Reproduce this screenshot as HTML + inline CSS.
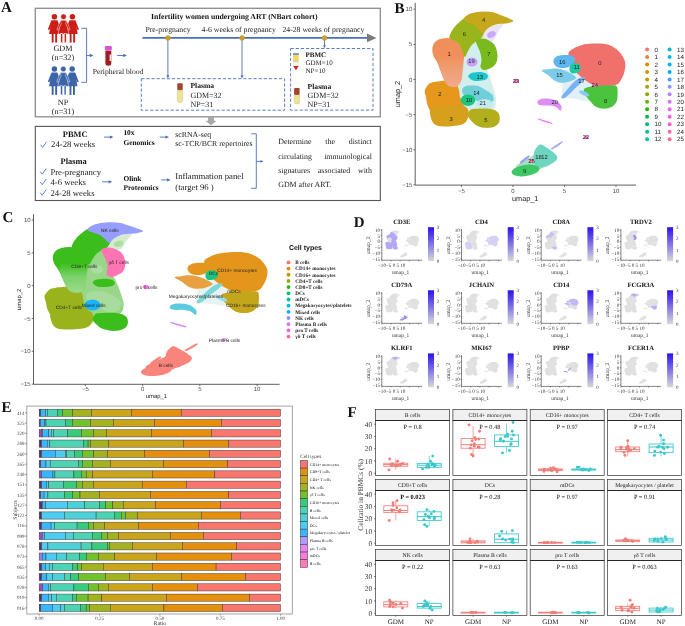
<!DOCTYPE html><html><head><meta charset="utf-8"><title>Figure</title><style>html,body{margin:0;padding:0;background:#fff;width:685px;height:626px;overflow:hidden}svg{display:block;font-family:"Liberation Serif",serif;text-rendering:geometricPrecision;will-change:transform}</style></head><body><svg width="685" height="626" viewBox="0 0 685 626"><defs><linearGradient id="lg1b" x1="0" y1="0" x2="0" y2="1"><stop offset="0" stop-color="#EEA27C" stop-opacity="0"/><stop offset="0.45" stop-color="#EEA27C" stop-opacity="0.8"/><stop offset="1" stop-color="#F0AC8A"/></linearGradient><linearGradient id="lg1c" x1="0" y1="0" x2="0" y2="1"><stop offset="0" stop-color="#8CD67C" stop-opacity="0"/><stop offset="0.45" stop-color="#8CD67C" stop-opacity="0.8"/><stop offset="1" stop-color="#9CDC8E"/></linearGradient><filter id="soft" x="-5%" y="-5%" width="110%" height="110%"><feGaussianBlur stdDeviation="0.55"/></filter></defs><rect width="685" height="626" fill="#fff"/><text x="1" y="12.2" font-size="15" text-anchor="start" font-weight="bold" font-family='"Liberation Serif", serif' fill="#111" >A</text>
<rect x="35.3" y="8.3" width="345" height="108.5" fill="none" stroke="#8C8C8C" stroke-width="1.3"/>
<g fill="#CC1E16"><circle cx="54.4" cy="16.75" r="2.75"/><path d="M51.5,20.3 L57.3,20.3 L59.699999999999996,34.0 L49.1,34.0 Z"/><path d="M51.3,20.5 L47.8,29.5 L49.3,30.0 L52.199999999999996,23.5 Z"/><path d="M57.5,20.5 L61.0,29.5 L59.5,30.0 L56.6,23.5 Z"/><rect x="51.699999999999996" y="33.5" width="1.9" height="9.1"/><rect x="55.199999999999996" y="33.5" width="1.9" height="9.1"/></g>
<g fill="#CC1E16"><circle cx="72.4" cy="16.75" r="2.75"/><path d="M69.5,20.3 L75.30000000000001,20.3 L77.7,34.0 L67.10000000000001,34.0 Z"/><path d="M69.30000000000001,20.5 L65.80000000000001,29.5 L67.30000000000001,30.0 L70.2,23.5 Z"/><path d="M75.5,20.5 L79.0,29.5 L77.5,30.0 L74.60000000000001,23.5 Z"/><rect x="69.7" y="33.5" width="1.9" height="9.1"/><rect x="73.2" y="33.5" width="1.9" height="9.1"/></g>
<g fill="#CC1E16" stroke="#fff" stroke-width="0.45"><circle cx="63.5" cy="16.75" r="2.75"/><path d="M60.6,20.3 L66.4,20.3 L68.8,34.0 L58.2,34.0 Z"/><path d="M60.4,20.5 L56.9,29.5 L58.4,30.0 L61.3,23.5 Z"/><path d="M66.6,20.5 L70.1,29.5 L68.6,30.0 L65.7,23.5 Z"/><rect x="60.8" y="33.5" width="1.9" height="9.1"/><rect x="64.3" y="33.5" width="1.9" height="9.1"/></g>
<g fill="#3D64A8"><circle cx="54.4" cy="69.05" r="2.75"/><path d="M51.5,72.6 L57.3,72.6 L59.699999999999996,86.3 L49.1,86.3 Z"/><path d="M51.3,72.8 L47.8,81.8 L49.3,82.3 L52.199999999999996,75.8 Z"/><path d="M57.5,72.8 L61.0,81.8 L59.5,82.3 L56.6,75.8 Z"/><rect x="51.699999999999996" y="85.8" width="1.9" height="9.1"/><rect x="55.199999999999996" y="85.8" width="1.9" height="9.1"/></g>
<g fill="#3D64A8"><circle cx="72.2" cy="69.05" r="2.75"/><path d="M69.3,72.6 L75.10000000000001,72.6 L77.5,86.3 L66.9,86.3 Z"/><path d="M69.10000000000001,72.8 L65.60000000000001,81.8 L67.10000000000001,82.3 L70.0,75.8 Z"/><path d="M75.3,72.8 L78.8,81.8 L77.3,82.3 L74.4,75.8 Z"/><rect x="69.5" y="85.8" width="1.9" height="9.1"/><rect x="73.0" y="85.8" width="1.9" height="9.1"/></g>
<g fill="#3D64A8" stroke="#fff" stroke-width="0.45"><circle cx="63.3" cy="69.05" r="2.75"/><path d="M60.4,72.6 L66.2,72.6 L68.6,86.3 L58.0,86.3 Z"/><path d="M60.199999999999996,72.8 L56.699999999999996,81.8 L58.199999999999996,82.3 L61.099999999999994,75.8 Z"/><path d="M66.39999999999999,72.8 L69.89999999999999,81.8 L68.39999999999999,82.3 L65.5,75.8 Z"/><rect x="60.599999999999994" y="85.8" width="1.9" height="9.1"/><rect x="64.1" y="85.8" width="1.9" height="9.1"/></g>
<text x="63" y="50.8" font-size="8.2" text-anchor="middle" font-weight="normal" font-family='"Liberation Serif", serif' fill="#222" >GDM</text>
<text x="63" y="60" font-size="8.2" text-anchor="middle" font-weight="normal" font-family='"Liberation Serif", serif' fill="#222" >(n=32)</text>
<text x="63" y="105.3" font-size="8.2" text-anchor="middle" font-weight="normal" font-family='"Liberation Serif", serif' fill="#222" >NP</text>
<text x="63" y="114.4" font-size="8.2" text-anchor="middle" font-weight="normal" font-family='"Liberation Serif", serif' fill="#222" >(n=31)</text>
<path d="M81.2,28.3 H86.6 V82.3 H81.2" fill="none" stroke="#4A6FB8" stroke-width="0.9"/>
<line x1="86.6" y1="55.5" x2="91.2" y2="55.5" stroke="#4A6FB8" stroke-width="0.9"/><path d="M93.4,55.5 L89.88000000000001,53.85 L89.88000000000001,57.15 Z" fill="#4A6FB8"/>
<rect x="104.9" y="46" width="6.9" height="4.6" rx="1.3" fill="#D455D6"/>
<path d="M105.4,50.8 h5.9 v12.5 q0,2.5 -2.95,2.5 q-2.95,0 -2.95,-2.5 Z" fill="#A11D22"/>
<rect x="109.6" y="54.6" width="1.4" height="6.4" fill="#eee"/>
<line x1="117.1" y1="55.5" x2="124.6" y2="55.5" stroke="#4A6FB8" stroke-width="0.9"/><path d="M126.8,55.5 L123.28,53.85 L123.28,57.15 Z" fill="#4A6FB8"/>
<text x="118" y="74" font-size="7.65" text-anchor="middle" font-weight="normal" font-family='"Liberation Serif", serif' fill="#222" >Peripheral blood</text>
<text x="234.3" y="18.6" font-size="7.75" text-anchor="middle" font-weight="bold" font-family='"Liberation Serif", serif' fill="#111" >Infertility women undergoing ART (NBart cohort)</text>
<text x="145.5" y="32.0" font-size="7.72" text-anchor="start" font-weight="normal" font-family='"Liberation Serif", serif' fill="#222" >Pre-pregnancy</text>
<text x="201.6" y="32.0" font-size="7.76" text-anchor="start" font-weight="normal" font-family='"Liberation Serif", serif' fill="#222" >4-6 weeks of pregnancy</text>
<text x="282.4" y="32.0" font-size="7.76" text-anchor="start" font-weight="normal" font-family='"Liberation Serif", serif' fill="#222" >24-28 weeks of pregnancy</text>
<line x1="142.5" y1="37.9" x2="368" y2="37.9" stroke="#4A6FB8" stroke-width="1.6"/>
<path d="M376.5,37.9 L367,33.6 L367,42.2 Z" fill="#7A7A7A"/>
<line x1="167.9" y1="38" x2="167.9" y2="76.4" stroke="#4A6FB8" stroke-width="0.9"/><path d="M167.9,78.4 L166.4,75.2 L169.4,75.2 Z" fill="#4A6FB8"/>
<line x1="242.0" y1="38" x2="242.0" y2="76.4" stroke="#4A6FB8" stroke-width="0.9"/><path d="M242.0,78.4 L240.5,75.2 L243.5,75.2 Z" fill="#4A6FB8"/>
<line x1="324.5" y1="38" x2="324.5" y2="46.400000000000006" stroke="#4A6FB8" stroke-width="0.9"/><path d="M324.5,48.2 L323.15,45.32 L325.85,45.32 Z" fill="#4A6FB8"/>
<circle cx="167.9" cy="37.9" r="2.6" fill="#C9A227"/>
<circle cx="242.0" cy="37.9" r="2.6" fill="#C9A227"/>
<circle cx="324.5" cy="37.9" r="2.6" fill="#C9A227"/>
<rect x="141.3" y="78.7" width="143.3" height="31.5" fill="none" stroke="#4A6FB8" stroke-width="0.9" stroke-dasharray="3.2,1.9"/>
<rect x="290.6" y="48.5" width="82.4" height="61.6" fill="none" stroke="#4A6FB8" stroke-width="0.9" stroke-dasharray="3.2,1.9"/>
<rect x="177.3" y="83.3" width="5.4" height="7" rx="1" fill="#A0442A"/><path d="M177.3,90.3 h5.4 v10.3 q0,2 -2.7,2 q-2.7,0 -2.7,-2 Z" fill="#EEE39A" stroke="#C8B870" stroke-width="0.4"/>
<text x="190.4" y="88.3" font-size="7.6" text-anchor="start" font-weight="bold" font-family='"Liberation Serif", serif' fill="#111" >Plasma</text>
<text x="190.4" y="98.0" font-size="8.0" text-anchor="start" font-weight="normal" font-family='"Liberation Serif", serif' fill="#222" >GDM=32</text>
<text x="190.4" y="106.8" font-size="8.0" text-anchor="start" font-weight="normal" font-family='"Liberation Serif", serif' fill="#222" >NP=31</text>
<rect x="293" y="53.4" width="5.9" height="1.2" fill="#3A5BA0"/>
<rect x="293.2" y="55.0" width="5.5" height="6.5" fill="#F0D860"/>
<rect x="293.2" y="61.5" width="5.5" height="0.8" fill="#8EC8E8"/>
<rect x="293.2" y="62.3" width="5.5" height="3.6" fill="#FAF6E0" stroke="#ddd" stroke-width="0.3"/>
<path d="M293.2,65.9 h5.5 l-2.75,4.3 Z" fill="#D82020"/>
<text x="305.5" y="56.8" font-size="7.0" text-anchor="start" font-weight="bold" font-family='"Liberation Serif", serif' fill="#111" >PBMC</text>
<text x="305.5" y="65.2" font-size="7.0" text-anchor="start" font-weight="normal" font-family='"Liberation Serif", serif' fill="#222" >GDM=10</text>
<text x="305.5" y="73.4" font-size="7.0" text-anchor="start" font-weight="normal" font-family='"Liberation Serif", serif' fill="#222" >NP=10</text>
<rect x="294.1" y="87.9" width="5.5" height="7" rx="1" fill="#A0442A"/><path d="M294.1,94.9 h5.5 v7.100000000000001 q0,2 -2.75,2 q-2.75,0 -2.75,-2 Z" fill="#EEE39A" stroke="#C8B870" stroke-width="0.4"/>
<text x="307.6" y="88.6" font-size="7.6" text-anchor="start" font-weight="bold" font-family='"Liberation Serif", serif' fill="#111" >Plasma</text>
<text x="307.6" y="98.1" font-size="8.0" text-anchor="start" font-weight="normal" font-family='"Liberation Serif", serif' fill="#222" >GDM=32</text>
<text x="307.6" y="106.9" font-size="8.0" text-anchor="start" font-weight="normal" font-family='"Liberation Serif", serif' fill="#222" >NP=31</text>
<path d="M208.1,117 H214 V120.8 H216.6 L211,125.2 L205.4,120.8 H208.1 Z" fill="#A8A8A8"/>
<rect x="35.3" y="126.4" width="345" height="74.1" fill="none" stroke="#555" stroke-width="1.1"/>
<text x="75.2" y="137.2" font-size="8.4" text-anchor="middle" font-weight="bold" font-family='"Liberation Serif", serif' fill="#111" >PBMC</text>
<path d="M40.6,144.8 L42.6,147.4 L46.6,141.8" fill="none" stroke="#4A6FD0" stroke-width="0.9"/>
<text x="51.1" y="147.4" font-size="8.7" text-anchor="start" font-weight="normal" font-family='"Liberation Serif", serif' fill="#222" >24-28 weeks</text>
<text x="73.6" y="164.4" font-size="8.4" text-anchor="middle" font-weight="bold" font-family='"Liberation Serif", serif' fill="#111" >Plasma</text>
<path d="M40.2,171.6 L42.2,174.2 L46.2,168.6" fill="none" stroke="#4A6FD0" stroke-width="0.9"/>
<text x="50.4" y="174.9" font-size="8.7" text-anchor="start" font-weight="normal" font-family='"Liberation Serif", serif' fill="#222" >Pre-pregnancy</text>
<path d="M40.2,182.0 L42.2,184.6 L46.2,179.0" fill="none" stroke="#4A6FD0" stroke-width="0.9"/>
<text x="50.4" y="185.4" font-size="8.7" text-anchor="start" font-weight="normal" font-family='"Liberation Serif", serif' fill="#222" >4-6 weeks</text>
<path d="M40.2,192.6 L42.2,195.2 L46.2,189.6" fill="none" stroke="#4A6FD0" stroke-width="0.9"/>
<text x="50.4" y="196.0" font-size="8.7" text-anchor="start" font-weight="normal" font-family='"Liberation Serif", serif' fill="#222" >24-28 weeks</text>
<line x1="104" y1="137.1" x2="111.2" y2="137.1" stroke="#4A6FB8" stroke-width="0.9"/><path d="M113.4,137.1 L109.88000000000001,135.45 L109.88000000000001,138.75 Z" fill="#4A6FB8"/>
<line x1="159.6" y1="137.1" x2="166.8" y2="137.1" stroke="#4A6FB8" stroke-width="0.9"/><path d="M169,137.1 L165.48,135.45 L165.48,138.75 Z" fill="#4A6FB8"/>
<line x1="102" y1="181.8" x2="110.0" y2="181.8" stroke="#4A6FB8" stroke-width="0.9"/><path d="M112.2,181.8 L108.68,180.15 L108.68,183.45000000000002 Z" fill="#4A6FB8"/>
<line x1="161.2" y1="179.9" x2="168.4" y2="179.9" stroke="#4A6FB8" stroke-width="0.9"/><path d="M170.6,179.9 L167.07999999999998,178.25 L167.07999999999998,181.55 Z" fill="#4A6FB8"/>
<text x="123.4" y="135.2" font-size="7.4" text-anchor="start" font-weight="bold" font-family='"Liberation Serif", serif' fill="#111" >10x</text>
<text x="123.4" y="144.5" font-size="7.4" text-anchor="start" font-weight="bold" font-family='"Liberation Serif", serif' fill="#111" >Genomics</text>
<text x="123.4" y="180.7" font-size="7.4" text-anchor="start" font-weight="bold" font-family='"Liberation Serif", serif' fill="#111" >Olink</text>
<text x="123.4" y="190.3" font-size="7.4" text-anchor="start" font-weight="bold" font-family='"Liberation Serif", serif' fill="#111" >Proteomics</text>
<text x="175.3" y="136.6" font-size="7.8" text-anchor="start" font-weight="normal" font-family='"Liberation Serif", serif' fill="#222" >scRNA-seq</text>
<text x="175.3" y="145.9" font-size="7.8" text-anchor="start" font-weight="normal" font-family='"Liberation Serif", serif' fill="#222" >sc-TCR/BCR repertoires</text>
<text x="175.3" y="178.7" font-size="8.7" text-anchor="start" font-weight="normal" font-family='"Liberation Serif", serif' fill="#222" >Inflammation panel</text>
<text x="175.3" y="189.7" font-size="8.7" text-anchor="start" font-weight="normal" font-family='"Liberation Serif", serif' fill="#222" >(target 96 )</text>
<path d="M251.2,133.8 H256.3 V188.3 H251.2" fill="none" stroke="#4A6FB8" stroke-width="0.9"/>
<line x1="256.3" y1="161.4" x2="261.59999999999997" y2="161.4" stroke="#4A6FB8" stroke-width="0.9"/><path d="M263.4,161.4 L260.52,160.05 L260.52,162.75 Z" fill="#4A6FB8"/>
<text x="278.2" y="144.3" font-size="7.9" text-anchor="start" font-weight="normal" font-family='"Liberation Serif", serif' fill="#222" >Determine</text>
<text x="325.31" y="144.3" font-size="7.9" text-anchor="start" font-weight="normal" font-family='"Liberation Serif", serif' fill="#222" >the</text>
<text x="348.74" y="144.3" font-size="7.9" text-anchor="start" font-weight="normal" font-family='"Liberation Serif", serif' fill="#222" >distinct</text>
<text x="278.2" y="158.5" font-size="7.9" text-anchor="start" font-weight="normal" font-family='"Liberation Serif", serif' fill="#222" >circulating</text>
<text x="324.17" y="158.5" font-size="7.9" text-anchor="start" font-weight="normal" font-family='"Liberation Serif", serif' fill="#222" >immunological</text>
<text x="278.2" y="172.6" font-size="7.9" text-anchor="start" font-weight="normal" font-family='"Liberation Serif", serif' fill="#222" >signatures</text>
<text x="317.86" y="172.6" font-size="7.9" text-anchor="start" font-weight="normal" font-family='"Liberation Serif", serif' fill="#222" >associated</text>
<text x="357.96" y="172.6" font-size="7.9" text-anchor="start" font-weight="normal" font-family='"Liberation Serif", serif' fill="#222" >with</text>
<text x="278.2" y="186.8" font-size="7.9" text-anchor="start" font-weight="normal" font-family='"Liberation Serif", serif' fill="#222" >GDM after ART.</text>
<text x="394.6" y="13.4" font-size="15" text-anchor="start" font-weight="bold" font-family='"Liberation Serif", serif' fill="#111" >B</text>
<path d="M415.2,2.8 V185.1 H636" fill="none" stroke="#4D4D4D" stroke-width="0.9"/>
<line x1="413.4" y1="9.2" x2="415.2" y2="9.2" stroke="#4D4D4D" stroke-width="0.8"/>
<text x="412.4" y="11.300000000000002" font-size="6.0" text-anchor="end" font-weight="normal" font-family='"Liberation Sans", sans-serif' fill="#4D4D4D" >10</text>
<line x1="413.4" y1="44.4" x2="415.2" y2="44.4" stroke="#4D4D4D" stroke-width="0.8"/>
<text x="412.4" y="46.45" font-size="6.0" text-anchor="end" font-weight="normal" font-family='"Liberation Sans", sans-serif' fill="#4D4D4D" >5</text>
<line x1="413.4" y1="79.5" x2="415.2" y2="79.5" stroke="#4D4D4D" stroke-width="0.8"/>
<text x="412.4" y="81.6" font-size="6.0" text-anchor="end" font-weight="normal" font-family='"Liberation Sans", sans-serif' fill="#4D4D4D" >0</text>
<line x1="413.4" y1="114.7" x2="415.2" y2="114.7" stroke="#4D4D4D" stroke-width="0.8"/>
<text x="412.4" y="116.75" font-size="6.0" text-anchor="end" font-weight="normal" font-family='"Liberation Sans", sans-serif' fill="#4D4D4D" >&#8722;5</text>
<line x1="413.4" y1="149.8" x2="415.2" y2="149.8" stroke="#4D4D4D" stroke-width="0.8"/>
<text x="412.4" y="151.9" font-size="6.0" text-anchor="end" font-weight="normal" font-family='"Liberation Sans", sans-serif' fill="#4D4D4D" >&#8722;10</text>
<line x1="413.4" y1="184.9" x2="415.2" y2="184.9" stroke="#4D4D4D" stroke-width="0.8"/>
<text x="412.4" y="187.04999999999998" font-size="6.0" text-anchor="end" font-weight="normal" font-family='"Liberation Sans", sans-serif' fill="#4D4D4D" >&#8722;15</text>
<line x1="461.5" y1="185.1" x2="461.5" y2="186.9" stroke="#4D4D4D" stroke-width="0.8"/>
<text x="461.5" y="192.8" font-size="6.0" text-anchor="middle" font-weight="normal" font-family='"Liberation Sans", sans-serif' fill="#4D4D4D" >&#8722;5</text>
<line x1="513.0" y1="185.1" x2="513.0" y2="186.9" stroke="#4D4D4D" stroke-width="0.8"/>
<text x="513.0" y="192.8" font-size="6.0" text-anchor="middle" font-weight="normal" font-family='"Liberation Sans", sans-serif' fill="#4D4D4D" >0</text>
<line x1="564.5" y1="185.1" x2="564.5" y2="186.9" stroke="#4D4D4D" stroke-width="0.8"/>
<text x="564.5" y="192.8" font-size="6.0" text-anchor="middle" font-weight="normal" font-family='"Liberation Sans", sans-serif' fill="#4D4D4D" >5</text>
<line x1="616.0" y1="185.1" x2="616.0" y2="186.9" stroke="#4D4D4D" stroke-width="0.8"/>
<text x="616.0" y="192.8" font-size="6.0" text-anchor="middle" font-weight="normal" font-family='"Liberation Sans", sans-serif' fill="#4D4D4D" >10</text>
<text x="525.2" y="200.6" font-size="7.3" text-anchor="middle" font-weight="normal" font-family='"Liberation Sans", sans-serif' fill="#222" >umap_1</text>
<text x="0" y="0" font-size="7.3" text-anchor="middle" font-weight="normal" font-family='"Liberation Sans", sans-serif' fill="#222" transform="translate(399.8,94) rotate(-90)">umap_2</text>
<g filter="url(#soft)"><g transform=""><path d="M452.0,40.0 C453.3,37.8 458.7,35.8 463.0,35.0 C467.3,34.2 474.2,34.5 478.0,35.0 C481.8,35.5 484.3,36.2 486.0,38.0 C487.7,39.8 488.2,43.2 488.0,46.0 C487.8,48.8 485.5,51.7 485.0,55.0 C484.5,58.3 484.5,63.2 485.0,66.0 C485.5,68.8 487.0,69.7 488.0,72.0 C489.0,74.3 490.0,77.0 491.0,80.0 C492.0,83.0 493.2,86.7 494.0,90.0 C494.8,93.3 496.2,96.8 496.0,100.0 C495.8,103.2 495.7,107.2 493.0,109.0 C490.3,110.8 484.5,110.7 480.0,111.0 C475.5,111.3 469.8,112.2 466.0,111.0 C462.2,109.8 458.8,107.2 457.0,104.0 C455.2,100.8 455.2,96.0 455.0,92.0 C454.8,88.0 455.5,85.0 456.0,80.0 C456.5,75.0 458.2,67.3 458.0,62.0 C457.8,56.7 456.0,51.7 455.0,48.0 C454.0,44.3 450.7,42.2 452.0,40.0 Z" fill="#D4EEEE"/><path d="M480.0,37.0 C480.7,35.3 483.7,31.9 486.0,30.0 C488.3,28.1 491.2,26.5 494.0,25.5 C496.8,24.5 502.3,22.9 503.0,24.0 C503.7,25.1 499.5,29.3 498.0,32.0 C496.5,34.7 495.7,38.5 494.0,40.0 C492.3,41.5 490.0,41.0 488.0,41.0 C486.0,41.0 483.3,40.7 482.0,40.0 C480.7,39.3 479.3,38.7 480.0,37.0 Z" fill="#EAE4F6"/><path d="M566.0,70.0 C568.5,68.7 574.0,70.7 578.0,72.0 C582.0,73.3 586.7,75.7 590.0,78.0 C593.3,80.3 597.3,82.8 598.0,86.0 C598.7,89.2 596.0,94.5 594.0,97.0 C592.0,99.5 589.0,100.7 586.0,101.0 C583.0,101.3 579.3,99.5 576.0,99.0 C572.7,98.5 568.3,99.2 566.0,98.0 C563.7,96.8 562.5,95.0 562.0,92.0 C561.5,89.0 562.3,83.7 563.0,80.0 C563.7,76.3 563.5,71.3 566.0,70.0 Z" fill="#E0F0F6"/><path d="M424.8,90.5 C425.3,88.3 427.3,85.4 428.8,84.0 C430.3,82.6 432.0,82.5 434.0,82.0 C436.0,81.5 438.5,81.2 441.0,81.0 C443.5,80.8 446.7,80.5 449.2,80.8 C451.7,81.1 454.4,81.5 456.0,83.0 C457.6,84.5 458.3,87.7 459.0,90.0 C459.7,92.3 459.3,94.7 460.0,97.0 C460.7,99.3 462.0,101.7 463.0,104.0 C464.0,106.3 467.3,109.5 466.0,111.0 C464.7,112.5 459.3,112.6 455.0,113.0 C450.7,113.4 443.9,113.7 440.0,113.5 C436.1,113.3 433.8,113.4 431.7,112.0 C429.6,110.6 428.4,107.5 427.5,105.0 C426.6,102.5 426.4,99.4 426.0,97.0 C425.6,94.6 424.3,92.7 424.8,90.5 Z" fill="#E5981F"/><path d="M431.0,108.0 C433.3,106.0 440.5,106.6 445.0,106.3 C449.5,106.0 454.5,105.9 458.0,106.0 C461.5,106.1 464.2,105.8 466.0,107.0 C467.8,108.2 468.8,111.3 469.0,113.5 C469.2,115.7 468.1,118.2 467.0,120.0 C465.9,121.8 465.0,123.3 462.5,124.3 C460.0,125.3 455.6,125.9 452.0,126.2 C448.4,126.5 443.9,126.5 441.0,126.2 C438.1,125.9 436.2,125.6 434.5,124.2 C432.8,122.8 431.6,120.7 431.0,118.0 C430.4,115.3 428.7,110.0 431.0,108.0 Z" fill="#D7A01F"/><path d="M433.5,44.2 C434.3,42.7 435.6,41.4 437.0,40.5 C438.4,39.6 440.0,39.0 442.0,38.6 C444.0,38.2 447.0,37.9 449.2,38.2 C451.4,38.5 453.1,39.4 455.0,40.5 C456.9,41.6 459.0,43.1 460.5,45.0 C462.0,46.9 463.2,49.8 463.8,52.0 C464.4,54.2 464.2,55.7 464.0,58.0 C463.8,60.3 463.1,63.3 462.8,66.0 C462.5,68.7 462.3,71.5 462.0,74.0 C461.7,76.5 461.8,79.0 461.0,81.0 C460.2,83.0 458.8,85.2 457.0,86.0 C455.2,86.8 452.0,86.8 450.0,86.0 C448.0,85.2 446.5,83.3 445.0,81.0 C443.5,78.7 442.2,75.0 441.0,72.0 C439.8,69.0 438.8,65.7 437.5,63.0 C436.2,60.3 434.4,58.2 433.5,56.0 C432.6,53.8 432.3,51.5 432.3,49.5 C432.3,47.5 432.7,45.7 433.5,44.2 Z" fill="#F08F5A"/><path d="M438.5,58.0 C439.6,55.6 444.1,55.9 447.0,55.5 C449.9,55.1 453.2,55.1 456.0,55.5 C458.8,55.9 462.4,54.9 463.5,58.0 C464.6,61.1 462.9,70.2 462.5,74.0 C462.1,77.8 461.9,78.9 461.0,81.0 C460.1,83.1 458.8,85.6 457.0,86.5 C455.2,87.4 452.0,87.2 450.0,86.5 C448.0,85.8 446.6,84.8 445.0,82.0 C443.4,79.2 441.6,74.0 440.5,70.0 C439.4,66.0 437.4,60.4 438.5,58.0 Z" fill="url(#lg1b)"/><path d="M449.5,38.5 C448.8,37.1 450.1,34.5 451.0,32.5 C451.9,30.5 453.6,28.2 455.0,26.5 C456.4,24.8 457.9,23.3 459.5,22.0 C461.1,20.7 462.4,18.9 464.5,18.5 C466.6,18.1 469.2,18.7 472.0,19.5 C474.8,20.3 479.3,22.2 481.5,23.5 C483.7,24.8 484.6,25.9 485.0,27.5 C485.4,29.1 484.7,31.2 484.0,33.0 C483.3,34.8 482.3,37.1 481.0,38.5 C479.7,39.9 477.7,40.2 476.0,41.5 C474.3,42.8 472.4,44.2 471.0,46.0 C469.6,47.8 468.5,50.2 467.5,52.0 C466.5,53.8 465.8,57.0 465.0,57.0 C464.2,57.0 463.3,54.0 462.5,52.0 C461.7,50.0 461.2,46.8 460.0,45.0 C458.8,43.2 456.8,42.1 455.0,41.0 C453.2,39.9 450.2,39.9 449.5,38.5 Z" fill="#9AB51F"/><path d="M463.5,19.5 C463.3,18.5 464.5,17.1 466.0,16.0 C467.5,14.9 469.8,13.7 472.6,13.0 C475.4,12.3 479.4,11.7 482.8,11.6 C486.2,11.5 489.8,11.6 493.0,12.3 C496.2,13.0 499.1,14.5 501.8,15.6 C504.5,16.6 507.1,17.7 509.0,18.6 C510.9,19.5 513.6,20.4 513.4,21.2 C513.2,22.0 510.0,22.7 507.6,23.2 C505.2,23.7 501.2,23.6 498.8,24.0 C496.4,24.4 494.9,24.6 493.0,25.4 C491.1,26.2 488.9,27.6 487.2,29.0 C485.5,30.4 484.1,33.3 482.8,33.5 C481.5,33.7 481.0,31.4 479.5,30.0 C478.0,28.6 476.1,26.3 474.0,25.0 C471.9,23.7 468.8,22.9 467.0,22.0 C465.2,21.1 463.7,20.5 463.5,19.5 Z" fill="#C6A81F"/><path d="M476.0,40.5 C476.9,39.3 480.6,38.6 482.8,38.6 C485.0,38.6 487.2,39.6 489.0,40.5 C490.8,41.4 492.6,42.5 493.8,44.0 C495.1,45.5 495.9,47.5 496.5,49.5 C497.1,51.5 497.5,53.9 497.5,56.0 C497.5,58.1 497.1,60.3 496.5,62.0 C495.9,63.7 495.1,64.8 493.8,66.0 C492.5,67.2 490.2,68.3 488.6,69.0 C487.0,69.7 485.4,70.3 484.0,70.0 C482.6,69.7 480.9,68.7 480.5,67.0 C480.1,65.3 481.6,62.5 481.5,60.0 C481.4,57.5 480.7,54.3 480.0,52.0 C479.3,49.7 478.2,47.9 477.5,46.0 C476.8,44.1 475.1,41.7 476.0,40.5 Z" fill="#7ABA1F"/><ellipse cx="472" cy="62" rx="5.5" ry="4.5" fill="#C3A2F6"/><ellipse cx="491.5" cy="34.5" rx="4.5" ry="3" fill="#C8A8F8" transform="rotate(-25 491.5 34.5)"/><path d="M468.2,76.5 C467.9,75.3 469.7,73.9 471.0,73.2 C472.3,72.5 474.2,72.4 476.0,72.2 C477.8,72.0 480.2,71.9 482.0,72.2 C483.8,72.5 485.5,73.1 486.5,73.8 C487.5,74.5 488.1,75.5 488.0,76.5 C487.9,77.5 487.3,78.8 486.0,79.5 C484.7,80.2 482.2,80.6 480.0,80.8 C477.8,81.0 475.0,81.2 473.0,80.5 C471.0,79.8 468.5,77.7 468.2,76.5 Z" fill="#1FC7CB"/><path d="M462.3,89.0 C462.8,87.7 464.4,86.6 466.0,86.0 C467.6,85.4 470.0,85.5 472.0,85.5 C474.0,85.5 476.2,85.5 478.0,86.0 C479.8,86.5 481.3,87.6 483.0,88.5 C484.7,89.4 486.4,90.4 488.0,91.5 C489.6,92.6 491.6,93.6 492.5,95.0 C493.4,96.4 493.9,98.7 493.5,100.0 C493.1,101.3 491.8,102.6 490.0,103.0 C488.2,103.4 485.5,103.0 483.0,102.5 C480.5,102.0 477.7,100.8 475.0,100.0 C472.3,99.2 469.0,99.0 467.0,98.0 C465.0,97.0 463.8,95.5 463.0,94.0 C462.2,92.5 461.8,90.3 462.3,89.0 Z" fill="#70D0DA"/><ellipse cx="468" cy="100.2" rx="7.3" ry="5.8" fill="#1FC681"/><ellipse cx="484.5" cy="103.8" rx="8" ry="4.5" fill="#C4EAEE"/><path d="M468.5,113.0 C468.9,111.8 469.6,110.2 471.0,109.5 C472.4,108.8 474.7,109.0 477.0,108.8 C479.3,108.6 482.3,108.4 485.0,108.5 C487.7,108.6 490.8,108.8 493.0,109.5 C495.2,110.2 497.4,111.4 498.5,113.0 C499.6,114.6 499.9,117.2 499.8,119.0 C499.7,120.8 499.2,122.6 498.0,124.0 C496.8,125.4 494.8,126.7 492.5,127.3 C490.2,127.9 486.7,128.1 484.0,127.8 C481.3,127.5 478.6,126.6 476.5,125.5 C474.4,124.4 472.8,122.4 471.5,121.0 C470.2,119.6 469.0,118.3 468.5,117.0 C468.0,115.7 468.1,114.2 468.5,113.0 Z" fill="#B2AF1F"/><path d="M568.5,53.0 C569.2,50.8 571.8,49.5 574.0,48.2 C576.2,46.9 579.0,45.8 582.0,45.0 C585.0,44.2 588.2,43.8 592.0,43.6 C595.8,43.4 601.3,43.4 605.0,44.0 C608.7,44.6 611.4,45.9 614.0,47.4 C616.6,48.9 618.7,50.9 620.5,53.2 C622.3,55.6 624.3,58.7 625.0,61.5 C625.7,64.3 625.3,67.2 624.8,70.0 C624.3,72.8 623.3,75.6 622.0,78.0 C620.7,80.4 619.7,83.1 617.0,84.5 C614.3,85.9 609.7,86.1 606.0,86.3 C602.3,86.5 598.2,86.3 595.0,85.5 C591.8,84.7 589.5,83.1 587.0,81.5 C584.5,79.9 582.2,78.0 580.0,76.0 C577.8,74.0 575.7,71.9 574.0,69.5 C572.3,67.1 570.9,64.2 570.0,61.5 C569.1,58.8 567.8,55.2 568.5,53.0 Z" fill="#F0716C"/><path d="M584.0,89.0 C584.9,87.6 588.3,86.9 591.0,86.4 C593.7,85.9 596.8,85.9 600.0,85.8 C603.2,85.7 607.2,85.6 610.0,85.6 C612.8,85.6 615.2,84.8 616.5,86.0 C617.8,87.2 617.6,90.5 617.6,93.0 C617.6,95.5 617.7,98.7 616.8,101.0 C615.9,103.3 614.1,105.5 612.0,106.8 C609.9,108.1 606.7,108.8 604.0,108.8 C601.3,108.8 598.3,108.1 596.0,106.8 C593.7,105.5 591.8,103.0 590.0,101.0 C588.2,99.0 586.5,97.0 585.5,95.0 C584.5,93.0 583.1,90.4 584.0,89.0 Z" fill="#4CC43C"/><path d="M553.5,60.0 C553.9,58.6 555.4,57.1 557.0,56.3 C558.6,55.5 560.8,55.2 563.0,55.0 C565.2,54.8 568.0,54.8 570.0,55.3 C572.0,55.8 574.5,56.5 575.0,58.0 C575.5,59.5 574.5,62.4 573.0,64.0 C571.5,65.6 568.4,67.2 566.0,67.8 C563.6,68.4 560.4,68.0 558.5,67.5 C556.6,67.0 555.3,65.8 554.5,64.5 C553.7,63.2 553.1,61.4 553.5,60.0 Z" fill="#5DB6EE"/><path d="M541.7,70.4 C541.7,69.5 545.8,69.6 548.0,69.3 C550.2,69.0 552.7,68.4 555.0,68.4 C557.3,68.4 559.5,68.7 562.0,69.5 C564.5,70.3 567.7,71.7 570.0,73.0 C572.3,74.3 575.7,76.2 576.0,77.5 C576.3,78.8 573.8,79.7 572.0,80.5 C570.2,81.3 567.2,82.3 565.0,82.6 C562.8,82.9 561.0,83.0 559.0,82.5 C557.0,82.0 554.8,80.8 553.0,79.5 C551.2,78.2 549.9,76.5 548.0,75.0 C546.1,73.5 541.7,71.4 541.7,70.4 Z" fill="#7CCBEA"/><path d="M569.5,67.5 C569.7,66.0 570.8,64.5 572.0,63.8 C573.2,63.1 575.6,62.8 577.0,63.2 C578.4,63.6 580.0,64.8 580.5,66.0 C581.0,67.2 581.0,69.3 580.2,70.5 C579.5,71.7 577.5,72.6 576.0,73.0 C574.5,73.4 572.1,73.7 571.0,72.8 C569.9,71.9 569.3,69.0 569.5,67.5 Z" fill="#1FC89D"/><path d="M585.0,77.5 C585.6,78.1 583.7,80.2 582.0,82.0 C580.3,83.8 577.2,86.4 575.0,88.5 C572.8,90.6 570.9,92.8 569.0,94.5 C567.1,96.2 564.8,98.2 563.5,98.5 C562.2,98.8 561.1,97.8 561.5,96.5 C561.9,95.2 564.2,93.1 566.0,91.0 C567.8,88.9 569.9,86.1 572.0,84.0 C574.1,81.9 576.3,79.6 578.5,78.5 C580.7,77.4 584.4,76.9 585.0,77.5 Z" fill="#7AB2F6"/><path d="M580.0,90.5 C580.9,90.3 583.5,90.8 585.0,91.5 C586.5,92.2 588.5,93.7 589.0,94.5 C589.5,95.3 589.0,96.4 588.0,96.5 C587.0,96.6 584.4,95.7 583.0,95.0 C581.6,94.3 580.0,93.2 579.5,92.5 C579.0,91.8 579.1,90.7 580.0,90.5 Z" fill="#8CC8F2"/><ellipse cx="594.6" cy="85.4" rx="2.6" ry="1.6" fill="#FF77B6"/><path d="M537.5,101.5 C537.9,100.6 539.4,99.5 541.0,99.0 C542.6,98.5 545.0,98.4 547.0,98.5 C549.0,98.6 551.2,98.9 553.0,99.5 C554.8,100.1 556.6,100.8 558.0,102.0 C559.4,103.2 561.1,105.0 561.5,106.5 C561.9,108.0 561.4,110.7 560.5,110.8 C559.6,110.9 557.8,107.9 556.0,107.0 C554.2,106.1 552.2,105.8 550.0,105.5 C547.8,105.2 544.9,105.7 543.0,105.5 C541.1,105.3 539.4,105.2 538.5,104.5 C537.6,103.8 537.1,102.4 537.5,101.5 Z" fill="#DC8EF6"/><ellipse cx="516" cy="81" rx="2.6" ry="2.2" fill="#FF74CD"/><ellipse cx="586" cy="137.2" rx="2.3" ry="1.7" fill="#FA75E1"/><path d="M538.5,118.5 C539.6,118.7 542.8,119.8 545.0,120.5 C547.2,121.2 550.9,122.4 552.0,123.0 C553.1,123.6 552.8,124.2 551.5,124.0 C550.2,123.8 546.2,122.5 544.0,121.8 C541.8,121.0 539.4,120.0 538.5,119.5 C537.6,119.0 537.4,118.3 538.5,118.5 Z" fill="#ED7BF2"/><path d="M516.0,166.0 C517.0,164.3 521.3,162.6 524.0,161.0 C526.7,159.4 529.5,157.8 532.0,156.5 C534.5,155.2 536.5,152.8 539.0,153.0 C541.5,153.2 545.8,156.0 547.0,158.0 C548.2,160.0 547.5,163.0 546.0,165.0 C544.5,167.0 541.2,168.8 538.0,170.0 C534.8,171.2 530.3,172.3 527.0,172.5 C523.7,172.7 519.8,172.1 518.0,171.0 C516.2,169.9 515.0,167.7 516.0,166.0 Z" fill="#A6DEC2"/><path d="M534.5,151.0 C535.2,149.0 536.9,147.1 538.0,146.0 C539.1,144.9 539.8,144.4 541.0,144.5 C542.2,144.6 543.6,145.7 545.0,146.5 C546.4,147.3 548.1,148.5 549.5,149.5 C550.9,150.5 552.2,151.3 553.5,152.5 C554.8,153.7 556.8,155.2 557.2,156.5 C557.6,157.8 557.0,159.2 556.0,160.5 C555.0,161.8 552.7,163.0 551.0,164.0 C549.3,165.0 547.8,165.9 546.0,166.5 C544.2,167.1 541.8,167.8 540.0,167.5 C538.2,167.2 536.1,166.6 535.0,165.0 C533.9,163.4 533.6,160.3 533.5,158.0 C533.4,155.7 533.8,153.0 534.5,151.0 Z" fill="#6DD5C0"/><ellipse cx="525.5" cy="170.5" rx="14" ry="5.6" fill="#3DC865" transform="rotate(-8 525.5 170.5)"/><path d="M520.0,162.0 C520.5,161.2 522.6,159.6 524.0,158.5 C525.4,157.4 527.6,155.8 528.5,155.5 C529.4,155.2 530.1,156.1 529.5,157.0 C528.9,157.9 526.4,159.9 525.0,161.0 C523.6,162.1 521.8,163.3 521.0,163.5 C520.2,163.7 519.5,162.8 520.0,162.0 Z" fill="#9AA2F8"/><path d="M551.0,148.5 C551.7,147.8 554.2,146.2 556.0,145.0 C557.8,143.8 560.4,141.9 561.5,141.5 C562.6,141.1 563.2,141.7 562.5,142.5 C561.8,143.3 559.2,145.3 557.5,146.5 C555.8,147.7 553.1,149.2 552.0,149.5 C550.9,149.8 550.3,149.2 551.0,148.5 Z" fill="#A6AEF8"/><ellipse cx="531.5" cy="160.8" rx="2.5" ry="1.8" fill="#FF7F9C"/></g></g>
<text x="439.9" y="96.4" font-size="5.8" text-anchor="middle" font-weight="normal" font-family='"Liberation Sans", sans-serif' fill="#1a1a1a" >2</text>
<text x="451.1" y="120.6" font-size="5.8" text-anchor="middle" font-weight="normal" font-family='"Liberation Sans", sans-serif' fill="#1a1a1a" >3</text>
<text x="449" y="56.0" font-size="5.8" text-anchor="middle" font-weight="normal" font-family='"Liberation Sans", sans-serif' fill="#1a1a1a" >1</text>
<text x="464.4" y="36.1" font-size="5.8" text-anchor="middle" font-weight="normal" font-family='"Liberation Sans", sans-serif' fill="#1a1a1a" >6</text>
<text x="483.6" y="21.9" font-size="5.8" text-anchor="middle" font-weight="normal" font-family='"Liberation Sans", sans-serif' fill="#1a1a1a" >4</text>
<text x="488.9" y="56.3" font-size="5.8" text-anchor="middle" font-weight="normal" font-family='"Liberation Sans", sans-serif' fill="#1a1a1a" >7</text>
<text x="471.5" y="62.8" font-size="5.8" text-anchor="middle" font-weight="normal" font-family='"Liberation Sans", sans-serif' fill="#1a1a1a" >19</text>
<text x="479.7" y="78.6" font-size="5.8" text-anchor="middle" font-weight="normal" font-family='"Liberation Sans", sans-serif' fill="#1a1a1a" >13</text>
<text x="476.6" y="95.0" font-size="5.8" text-anchor="middle" font-weight="normal" font-family='"Liberation Sans", sans-serif' fill="#1a1a1a" >14</text>
<text x="469" y="102.1" font-size="5.8" text-anchor="middle" font-weight="normal" font-family='"Liberation Sans", sans-serif' fill="#1a1a1a" >10</text>
<text x="482.8" y="105.2" font-size="5.8" text-anchor="middle" font-weight="normal" font-family='"Liberation Sans", sans-serif' fill="#1a1a1a" >21</text>
<text x="485.8" y="122.2" font-size="5.8" text-anchor="middle" font-weight="normal" font-family='"Liberation Sans", sans-serif' fill="#1a1a1a" >5</text>
<text x="599.8" y="64.6" font-size="5.8" text-anchor="middle" font-weight="normal" font-family='"Liberation Sans", sans-serif' fill="#1a1a1a" >0</text>
<text x="605.5" y="102.9" font-size="5.8" text-anchor="middle" font-weight="normal" font-family='"Liberation Sans", sans-serif' fill="#1a1a1a" >8</text>
<text x="562.3" y="64.3" font-size="5.8" text-anchor="middle" font-weight="normal" font-family='"Liberation Sans", sans-serif' fill="#1a1a1a" >16</text>
<text x="559.4" y="77.2" font-size="5.8" text-anchor="middle" font-weight="normal" font-family='"Liberation Sans", sans-serif' fill="#1a1a1a" >15</text>
<text x="576.7" y="69.2" font-size="5.8" text-anchor="middle" font-weight="normal" font-family='"Liberation Sans", sans-serif' fill="#1a1a1a" >11</text>
<text x="581.5" y="82.7" font-size="5.8" text-anchor="middle" font-weight="normal" font-family='"Liberation Sans", sans-serif' fill="#1a1a1a" >17</text>
<text x="594.7" y="87.2" font-size="5.8" text-anchor="middle" font-weight="normal" font-family='"Liberation Sans", sans-serif' fill="#1a1a1a" >24</text>
<text x="554.7" y="103.8" font-size="5.8" text-anchor="middle" font-weight="normal" font-family='"Liberation Sans", sans-serif' fill="#1a1a1a" >20</text>
<text x="516" y="83.0" font-size="5.8" text-anchor="middle" font-weight="normal" font-family='"Liberation Sans", sans-serif' fill="#1a1a1a" >23</text>
<text x="586.1" y="139.4" font-size="5.8" text-anchor="middle" font-weight="normal" font-family='"Liberation Sans", sans-serif' fill="#1a1a1a" >22</text>
<text x="544.4" y="158.8" font-size="5.8" text-anchor="middle" font-weight="normal" font-family='"Liberation Sans", sans-serif' fill="#1a1a1a" >12</text>
<text x="524.5" y="172.8" font-size="5.8" text-anchor="middle" font-weight="normal" font-family='"Liberation Sans", sans-serif' fill="#1a1a1a" >9</text>
<text x="538.4" y="158.8" font-size="5.8" text-anchor="middle" font-weight="normal" font-family='"Liberation Sans", sans-serif' fill="#1a1a1a" >18</text>
<text x="531.5" y="162.9" font-size="5.8" text-anchor="middle" font-weight="normal" font-family='"Liberation Sans", sans-serif' fill="#1a1a1a" >25</text>
<circle cx="647.1" cy="49.50" r="2.0" fill="#F8766D"/>
<text x="654.6" y="51.7" font-size="6.2" text-anchor="start" font-weight="normal" font-family='"Liberation Sans", sans-serif' fill="#222" >0</text>
<circle cx="647.1" cy="56.97" r="2.0" fill="#EE8043"/>
<text x="654.6" y="59.17" font-size="6.2" text-anchor="start" font-weight="normal" font-family='"Liberation Sans", sans-serif' fill="#222" >1</text>
<circle cx="647.1" cy="64.44" r="2.0" fill="#E18A00"/>
<text x="654.6" y="66.64" font-size="6.2" text-anchor="start" font-weight="normal" font-family='"Liberation Sans", sans-serif' fill="#222" >2</text>
<circle cx="647.1" cy="71.91" r="2.0" fill="#D19300"/>
<text x="654.6" y="74.11" font-size="6.2" text-anchor="start" font-weight="normal" font-family='"Liberation Sans", sans-serif' fill="#222" >3</text>
<circle cx="647.1" cy="79.38" r="2.0" fill="#BE9C00"/>
<text x="654.6" y="81.58" font-size="6.2" text-anchor="start" font-weight="normal" font-family='"Liberation Sans", sans-serif' fill="#222" >4</text>
<circle cx="647.1" cy="86.85" r="2.0" fill="#A8A400"/>
<text x="654.6" y="89.05" font-size="6.2" text-anchor="start" font-weight="normal" font-family='"Liberation Sans", sans-serif' fill="#222" >5</text>
<circle cx="647.1" cy="94.32" r="2.0" fill="#8CAB00"/>
<text x="654.6" y="96.52" font-size="6.2" text-anchor="start" font-weight="normal" font-family='"Liberation Sans", sans-serif' fill="#222" >6</text>
<circle cx="647.1" cy="101.79" r="2.0" fill="#68B100"/>
<text x="654.6" y="103.99" font-size="6.2" text-anchor="start" font-weight="normal" font-family='"Liberation Sans", sans-serif' fill="#222" >7</text>
<circle cx="647.1" cy="109.26" r="2.0" fill="#24B700"/>
<text x="654.6" y="111.46" font-size="6.2" text-anchor="start" font-weight="normal" font-family='"Liberation Sans", sans-serif' fill="#222" >8</text>
<circle cx="647.1" cy="116.73" r="2.0" fill="#00BB49"/>
<text x="654.6" y="118.93" font-size="6.2" text-anchor="start" font-weight="normal" font-family='"Liberation Sans", sans-serif' fill="#222" >9</text>
<circle cx="647.1" cy="124.20" r="2.0" fill="#00BE70"/>
<text x="654.6" y="126.4" font-size="6.2" text-anchor="start" font-weight="normal" font-family='"Liberation Sans", sans-serif' fill="#222" >10</text>
<circle cx="647.1" cy="131.67" r="2.0" fill="#00C090"/>
<text x="654.6" y="133.87" font-size="6.2" text-anchor="start" font-weight="normal" font-family='"Liberation Sans", sans-serif' fill="#222" >11</text>
<circle cx="647.1" cy="139.14" r="2.0" fill="#00C1AB"/>
<text x="654.6" y="141.33999999999997" font-size="6.2" text-anchor="start" font-weight="normal" font-family='"Liberation Sans", sans-serif' fill="#222" >12</text>
<circle cx="669.6" cy="49.50" r="2.0" fill="#00BFC4"/>
<text x="677.1" y="51.7" font-size="6.2" text-anchor="start" font-weight="normal" font-family='"Liberation Sans", sans-serif' fill="#222" >13</text>
<circle cx="669.6" cy="56.97" r="2.0" fill="#00BBDA"/>
<text x="677.1" y="59.17" font-size="6.2" text-anchor="start" font-weight="normal" font-family='"Liberation Sans", sans-serif' fill="#222" >14</text>
<circle cx="669.6" cy="64.44" r="2.0" fill="#00B5ED"/>
<text x="677.1" y="66.64" font-size="6.2" text-anchor="start" font-weight="normal" font-family='"Liberation Sans", sans-serif' fill="#222" >15</text>
<circle cx="669.6" cy="71.91" r="2.0" fill="#00ACFC"/>
<text x="677.1" y="74.11" font-size="6.2" text-anchor="start" font-weight="normal" font-family='"Liberation Sans", sans-serif' fill="#222" >16</text>
<circle cx="669.6" cy="79.38" r="2.0" fill="#42A0FF"/>
<text x="677.1" y="81.58" font-size="6.2" text-anchor="start" font-weight="normal" font-family='"Liberation Sans", sans-serif' fill="#222" >17</text>
<circle cx="669.6" cy="86.85" r="2.0" fill="#8B93FF"/>
<text x="677.1" y="89.05" font-size="6.2" text-anchor="start" font-weight="normal" font-family='"Liberation Sans", sans-serif' fill="#222" >18</text>
<circle cx="669.6" cy="94.32" r="2.0" fill="#B684FF"/>
<text x="677.1" y="96.52" font-size="6.2" text-anchor="start" font-weight="normal" font-family='"Liberation Sans", sans-serif' fill="#222" >19</text>
<circle cx="669.6" cy="101.79" r="2.0" fill="#D575FE"/>
<text x="677.1" y="103.99" font-size="6.2" text-anchor="start" font-weight="normal" font-family='"Liberation Sans", sans-serif' fill="#222" >20</text>
<circle cx="669.6" cy="109.26" r="2.0" fill="#EB69F0"/>
<text x="677.1" y="111.46" font-size="6.2" text-anchor="start" font-weight="normal" font-family='"Liberation Sans", sans-serif' fill="#222" >21</text>
<circle cx="669.6" cy="116.73" r="2.0" fill="#F962DD"/>
<text x="677.1" y="118.93" font-size="6.2" text-anchor="start" font-weight="normal" font-family='"Liberation Sans", sans-serif' fill="#222" >22</text>
<circle cx="669.6" cy="124.20" r="2.0" fill="#FF61C6"/>
<text x="677.1" y="126.4" font-size="6.2" text-anchor="start" font-weight="normal" font-family='"Liberation Sans", sans-serif' fill="#222" >23</text>
<circle cx="669.6" cy="131.67" r="2.0" fill="#FF65AC"/>
<text x="677.1" y="133.87" font-size="6.2" text-anchor="start" font-weight="normal" font-family='"Liberation Sans", sans-serif' fill="#222" >24</text>
<circle cx="669.6" cy="139.14" r="2.0" fill="#FF6D8E"/>
<text x="677.1" y="141.33999999999997" font-size="6.2" text-anchor="start" font-weight="normal" font-family='"Liberation Sans", sans-serif' fill="#222" >25</text>
<text x="2.4" y="222.3" font-size="15" text-anchor="start" font-weight="bold" font-family='"Liberation Serif", serif' fill="#111" >C</text>
<path d="M33.5,214.2 V384.3 H279.6" fill="none" stroke="#4D4D4D" stroke-width="0.9"/>
<line x1="31.7" y1="220.1" x2="33.5" y2="220.1" stroke="#4D4D4D" stroke-width="0.8"/>
<text x="30.6" y="222.2" font-size="6.0" text-anchor="end" font-weight="normal" font-family='"Liberation Sans", sans-serif' fill="#4D4D4D" >10</text>
<line x1="31.7" y1="252.9" x2="33.5" y2="252.9" stroke="#4D4D4D" stroke-width="0.8"/>
<text x="30.6" y="254.99999999999997" font-size="6.0" text-anchor="end" font-weight="normal" font-family='"Liberation Sans", sans-serif' fill="#4D4D4D" >5</text>
<line x1="31.7" y1="285.7" x2="33.5" y2="285.7" stroke="#4D4D4D" stroke-width="0.8"/>
<text x="30.6" y="287.8" font-size="6.0" text-anchor="end" font-weight="normal" font-family='"Liberation Sans", sans-serif' fill="#4D4D4D" >0</text>
<line x1="31.7" y1="318.5" x2="33.5" y2="318.5" stroke="#4D4D4D" stroke-width="0.8"/>
<text x="30.6" y="320.6" font-size="6.0" text-anchor="end" font-weight="normal" font-family='"Liberation Sans", sans-serif' fill="#4D4D4D" >&#8722;5</text>
<line x1="31.7" y1="351.3" x2="33.5" y2="351.3" stroke="#4D4D4D" stroke-width="0.8"/>
<text x="30.6" y="353.4" font-size="6.0" text-anchor="end" font-weight="normal" font-family='"Liberation Sans", sans-serif' fill="#4D4D4D" >&#8722;10</text>
<line x1="31.7" y1="384.1" x2="33.5" y2="384.1" stroke="#4D4D4D" stroke-width="0.8"/>
<text x="30.6" y="386.2" font-size="6.0" text-anchor="end" font-weight="normal" font-family='"Liberation Sans", sans-serif' fill="#4D4D4D" >&#8722;15</text>
<line x1="85.3" y1="384.3" x2="85.3" y2="386.1" stroke="#4D4D4D" stroke-width="0.8"/>
<text x="85.35" y="391.4" font-size="6.0" text-anchor="middle" font-weight="normal" font-family='"Liberation Sans", sans-serif' fill="#4D4D4D" >&#8722;5</text>
<line x1="142.6" y1="384.3" x2="142.6" y2="386.1" stroke="#4D4D4D" stroke-width="0.8"/>
<text x="142.6" y="391.4" font-size="6.0" text-anchor="middle" font-weight="normal" font-family='"Liberation Sans", sans-serif' fill="#4D4D4D" >0</text>
<line x1="199.8" y1="384.3" x2="199.8" y2="386.1" stroke="#4D4D4D" stroke-width="0.8"/>
<text x="199.85" y="391.4" font-size="6.0" text-anchor="middle" font-weight="normal" font-family='"Liberation Sans", sans-serif' fill="#4D4D4D" >5</text>
<line x1="257.1" y1="384.3" x2="257.1" y2="386.1" stroke="#4D4D4D" stroke-width="0.8"/>
<text x="257.1" y="391.4" font-size="6.0" text-anchor="middle" font-weight="normal" font-family='"Liberation Sans", sans-serif' fill="#4D4D4D" >10</text>
<text x="156.5" y="397.5" font-size="5.9" text-anchor="middle" font-weight="normal" font-family='"Liberation Sans", sans-serif' fill="#222" >umap_1</text>
<text x="0" y="0" font-size="5.9" text-anchor="middle" font-weight="normal" font-family='"Liberation Sans", sans-serif' fill="#222" transform="translate(20.6,299.3) rotate(-90)">umap_2</text>
<g filter="url(#soft)"><g transform="translate(142.6,285.7) scale(1.1117,0.9331) translate(-513,-79.5)"><path d="M452.0,40.0 C453.3,37.8 458.7,35.8 463.0,35.0 C467.3,34.2 474.2,34.5 478.0,35.0 C481.8,35.5 484.3,36.2 486.0,38.0 C487.7,39.8 488.2,43.2 488.0,46.0 C487.8,48.8 485.5,51.7 485.0,55.0 C484.5,58.3 484.5,63.2 485.0,66.0 C485.5,68.8 487.0,69.7 488.0,72.0 C489.0,74.3 490.0,77.0 491.0,80.0 C492.0,83.0 493.2,86.7 494.0,90.0 C494.8,93.3 496.2,96.8 496.0,100.0 C495.8,103.2 495.7,107.2 493.0,109.0 C490.3,110.8 484.5,110.7 480.0,111.0 C475.5,111.3 469.8,112.2 466.0,111.0 C462.2,109.8 458.8,107.2 457.0,104.0 C455.2,100.8 455.2,96.0 455.0,92.0 C454.8,88.0 455.5,85.0 456.0,80.0 C456.5,75.0 458.2,67.3 458.0,62.0 C457.8,56.7 456.0,51.7 455.0,48.0 C454.0,44.3 450.7,42.2 452.0,40.0 Z" fill="#98D689"/><path d="M480.0,37.0 C480.7,35.3 483.7,31.9 486.0,30.0 C488.3,28.1 491.2,26.5 494.0,25.5 C496.8,24.5 502.3,22.9 503.0,24.0 C503.7,25.1 499.5,29.3 498.0,32.0 C496.5,34.7 495.7,38.5 494.0,40.0 C492.3,41.5 490.0,41.0 488.0,41.0 C486.0,41.0 483.3,40.7 482.0,40.0 C480.7,39.3 479.3,38.7 480.0,37.0 Z" fill="#D4ECCD"/><path d="M566.0,70.0 C568.5,68.7 574.0,70.7 578.0,72.0 C582.0,73.3 586.7,75.7 590.0,78.0 C593.3,80.3 597.3,82.8 598.0,86.0 C598.7,89.2 596.0,94.5 594.0,97.0 C592.0,99.5 589.0,100.7 586.0,101.0 C583.0,101.3 579.3,99.5 576.0,99.0 C572.7,98.5 568.3,99.2 566.0,98.0 C563.7,96.8 562.5,95.0 562.0,92.0 C561.5,89.0 562.3,83.7 563.0,80.0 C563.7,76.3 563.5,71.3 566.0,70.0 Z" fill="#E6F3F2"/><path d="M424.8,90.5 C425.3,88.3 427.3,85.4 428.8,84.0 C430.3,82.6 432.0,82.5 434.0,82.0 C436.0,81.5 438.5,81.2 441.0,81.0 C443.5,80.8 446.7,80.5 449.2,80.8 C451.7,81.1 454.4,81.5 456.0,83.0 C457.6,84.5 458.3,87.7 459.0,90.0 C459.7,92.3 459.3,94.7 460.0,97.0 C460.7,99.3 462.0,101.7 463.0,104.0 C464.0,106.3 467.3,109.5 466.0,111.0 C464.7,112.5 459.3,112.6 455.0,113.0 C450.7,113.4 443.9,113.7 440.0,113.5 C436.1,113.3 433.8,113.4 431.7,112.0 C429.6,110.6 428.4,107.5 427.5,105.0 C426.6,102.5 426.4,99.4 426.0,97.0 C425.6,94.6 424.3,92.7 424.8,90.5 Z" fill="#98B31A"/><path d="M431.0,108.0 C433.3,106.0 440.5,106.6 445.0,106.3 C449.5,106.0 454.5,105.9 458.0,106.0 C461.5,106.1 464.2,105.8 466.0,107.0 C467.8,108.2 468.8,111.3 469.0,113.5 C469.2,115.7 468.1,118.2 467.0,120.0 C465.9,121.8 465.0,123.3 462.5,124.3 C460.0,125.3 455.6,125.9 452.0,126.2 C448.4,126.5 443.9,126.5 441.0,126.2 C438.1,125.9 436.2,125.6 434.5,124.2 C432.8,122.8 431.6,120.7 431.0,118.0 C430.4,115.3 428.7,110.0 431.0,108.0 Z" fill="#98B31A"/><path d="M433.5,44.2 C434.3,42.7 435.6,41.4 437.0,40.5 C438.4,39.6 440.0,39.0 442.0,38.6 C444.0,38.2 447.0,37.9 449.2,38.2 C451.4,38.5 453.1,39.4 455.0,40.5 C456.9,41.6 459.0,43.1 460.5,45.0 C462.0,46.9 463.2,49.8 463.8,52.0 C464.4,54.2 464.2,55.7 464.0,58.0 C463.8,60.3 463.1,63.3 462.8,66.0 C462.5,68.7 462.3,71.5 462.0,74.0 C461.7,76.5 461.8,79.0 461.0,81.0 C460.2,83.0 458.8,85.2 457.0,86.0 C455.2,86.8 452.0,86.8 450.0,86.0 C448.0,85.2 446.5,83.3 445.0,81.0 C443.5,78.7 442.2,75.0 441.0,72.0 C439.8,69.0 438.8,65.7 437.5,63.0 C436.2,60.3 434.4,58.2 433.5,56.0 C432.6,53.8 432.3,51.5 432.3,49.5 C432.3,47.5 432.7,45.7 433.5,44.2 Z" fill="#3ABE1A"/><path d="M438.5,58.0 C439.6,55.6 444.1,55.9 447.0,55.5 C449.9,55.1 453.2,55.1 456.0,55.5 C458.8,55.9 462.4,54.9 463.5,58.0 C464.6,61.1 462.9,70.2 462.5,74.0 C462.1,77.8 461.9,78.9 461.0,81.0 C460.1,83.1 458.8,85.6 457.0,86.5 C455.2,87.4 452.0,87.2 450.0,86.5 C448.0,85.8 446.6,84.8 445.0,82.0 C443.4,79.2 441.6,74.0 440.5,70.0 C439.4,66.0 437.4,60.4 438.5,58.0 Z" fill="url(#lg1c)"/><path d="M449.5,38.5 C448.8,37.1 450.1,34.5 451.0,32.5 C451.9,30.5 453.6,28.2 455.0,26.5 C456.4,24.8 457.9,23.3 459.5,22.0 C461.1,20.7 462.4,18.9 464.5,18.5 C466.6,18.1 469.2,18.7 472.0,19.5 C474.8,20.3 479.3,22.2 481.5,23.5 C483.7,24.8 484.6,25.9 485.0,27.5 C485.4,29.1 484.7,31.2 484.0,33.0 C483.3,34.8 482.3,37.1 481.0,38.5 C479.7,39.9 477.7,40.2 476.0,41.5 C474.3,42.8 472.4,44.2 471.0,46.0 C469.6,47.8 468.5,50.2 467.5,52.0 C466.5,53.8 465.8,57.0 465.0,57.0 C464.2,57.0 463.3,54.0 462.5,52.0 C461.7,50.0 461.2,46.8 460.0,45.0 C458.8,43.2 456.8,42.1 455.0,41.0 C453.2,39.9 450.2,39.9 449.5,38.5 Z" fill="#3ABE1A"/><path d="M463.5,19.5 C463.3,18.5 464.5,17.1 466.0,16.0 C467.5,14.9 469.8,13.7 472.6,13.0 C475.4,12.3 479.4,11.7 482.8,11.6 C486.2,11.5 489.8,11.6 493.0,12.3 C496.2,13.0 499.1,14.5 501.8,15.6 C504.5,16.6 507.1,17.7 509.0,18.6 C510.9,19.5 513.6,20.4 513.4,21.2 C513.2,22.0 510.0,22.7 507.6,23.2 C505.2,23.7 501.2,23.6 498.8,24.0 C496.4,24.4 494.9,24.6 493.0,25.4 C491.1,26.2 488.9,27.6 487.2,29.0 C485.5,30.4 484.1,33.3 482.8,33.5 C481.5,33.7 481.0,31.4 479.5,30.0 C478.0,28.6 476.1,26.3 474.0,25.0 C471.9,23.7 468.8,22.9 467.0,22.0 C465.2,21.1 463.7,20.5 463.5,19.5 Z" fill="#979EFF"/><path d="M476.0,40.5 C476.9,39.3 480.6,38.6 482.8,38.6 C485.0,38.6 487.2,39.6 489.0,40.5 C490.8,41.4 492.6,42.5 493.8,44.0 C495.1,45.5 495.9,47.5 496.5,49.5 C497.1,51.5 497.5,53.9 497.5,56.0 C497.5,58.1 497.1,60.3 496.5,62.0 C495.9,63.7 495.1,64.8 493.8,66.0 C492.5,67.2 490.2,68.3 488.6,69.0 C487.0,69.7 485.4,70.3 484.0,70.0 C482.6,69.7 480.9,68.7 480.5,67.0 C480.1,65.3 481.6,62.5 481.5,60.0 C481.4,57.5 480.7,54.3 480.0,52.0 C479.3,49.7 478.2,47.9 477.5,46.0 C476.8,44.1 475.1,41.7 476.0,40.5 Z" fill="#FF74B4"/><ellipse cx="472" cy="62" rx="5.5" ry="4.5" fill="#ACDDA0"/><ellipse cx="491.5" cy="34.5" rx="4.5" ry="3" fill="#ACDDA0" transform="rotate(-25 491.5 34.5)"/><path d="M468.2,76.5 C467.9,75.3 469.7,73.9 471.0,73.2 C472.3,72.5 474.2,72.4 476.0,72.2 C477.8,72.0 480.2,71.9 482.0,72.2 C483.8,72.5 485.5,73.1 486.5,73.8 C487.5,74.5 488.1,75.5 488.0,76.5 C487.9,77.5 487.3,78.8 486.0,79.5 C484.7,80.2 482.2,80.6 480.0,80.8 C477.8,81.0 475.0,81.2 473.0,80.5 C471.0,79.8 468.5,77.7 468.2,76.5 Z" fill="#3ABE1A"/><path d="M462.3,89.0 C462.8,87.7 464.4,86.6 466.0,86.0 C467.6,85.4 470.0,85.5 472.0,85.5 C474.0,85.5 476.2,85.5 478.0,86.0 C479.8,86.5 481.3,87.6 483.0,88.5 C484.7,89.4 486.4,90.4 488.0,91.5 C489.6,92.6 491.6,93.6 492.5,95.0 C493.4,96.4 493.9,98.7 493.5,100.0 C493.1,101.3 491.8,102.6 490.0,103.0 C488.2,103.4 485.5,103.0 483.0,102.5 C480.5,102.0 477.7,100.8 475.0,100.0 C472.3,99.2 469.0,99.0 467.0,98.0 C465.0,97.0 463.8,95.5 463.0,94.0 C462.2,92.5 461.8,90.3 462.3,89.0 Z" fill="#A8DC9C"/><ellipse cx="468" cy="100.2" rx="7.3" ry="5.8" fill="#1AB4FC"/><ellipse cx="484.5" cy="103.8" rx="8" ry="4.5" fill="#A8DC9C"/><path d="M468.5,113.0 C468.9,111.8 469.6,110.2 471.0,109.5 C472.4,108.8 474.7,109.0 477.0,108.8 C479.3,108.6 482.3,108.4 485.0,108.5 C487.7,108.6 490.8,108.8 493.0,109.5 C495.2,110.2 497.4,111.4 498.5,113.0 C499.6,114.6 499.9,117.2 499.8,119.0 C499.7,120.8 499.2,122.6 498.0,124.0 C496.8,125.4 494.8,126.7 492.5,127.3 C490.2,127.9 486.7,128.1 484.0,127.8 C481.3,127.5 478.6,126.6 476.5,125.5 C474.4,124.4 472.8,122.4 471.5,121.0 C470.2,119.6 469.0,118.3 468.5,117.0 C468.0,115.7 468.1,114.2 468.5,113.0 Z" fill="#3ABE1A"/><path d="M568.5,53.0 C569.2,50.8 571.8,49.5 574.0,48.2 C576.2,46.9 579.0,45.8 582.0,45.0 C585.0,44.2 588.2,43.8 592.0,43.6 C595.8,43.4 601.3,43.4 605.0,44.0 C608.7,44.6 611.4,45.9 614.0,47.4 C616.6,48.9 618.7,50.9 620.5,53.2 C622.3,55.6 624.3,58.7 625.0,61.5 C625.7,64.3 625.3,67.2 624.8,70.0 C624.3,72.8 623.3,75.6 622.0,78.0 C620.7,80.4 619.7,83.1 617.0,84.5 C614.3,85.9 609.7,86.1 606.0,86.3 C602.3,86.5 598.2,86.3 595.0,85.5 C591.8,84.7 589.5,83.1 587.0,81.5 C584.5,79.9 582.2,78.0 580.0,76.0 C577.8,74.0 575.7,71.9 574.0,69.5 C572.3,67.1 570.9,64.2 570.0,61.5 C569.1,58.8 567.8,55.2 568.5,53.0 Z" fill="#E4961A"/><path d="M584.0,89.0 C584.9,87.6 588.3,86.9 591.0,86.4 C593.7,85.9 596.8,85.9 600.0,85.8 C603.2,85.7 607.2,85.6 610.0,85.6 C612.8,85.6 615.2,84.8 616.5,86.0 C617.8,87.2 617.6,90.5 617.6,93.0 C617.6,95.5 617.7,98.7 616.8,101.0 C615.9,103.3 614.1,105.5 612.0,106.8 C609.9,108.1 606.7,108.8 604.0,108.8 C601.3,108.8 598.3,108.1 596.0,106.8 C593.7,105.5 591.8,103.0 590.0,101.0 C588.2,99.0 586.5,97.0 585.5,95.0 C584.5,93.0 583.1,90.4 584.0,89.0 Z" fill="#C4A61A"/><path d="M553.5,60.0 C553.9,58.6 555.4,57.1 557.0,56.3 C558.6,55.5 560.8,55.2 563.0,55.0 C565.2,54.8 568.0,54.8 570.0,55.3 C572.0,55.8 574.5,56.5 575.0,58.0 C575.5,59.5 574.5,62.4 573.0,64.0 C571.5,65.6 568.4,67.2 566.0,67.8 C563.6,68.4 560.4,68.0 558.5,67.5 C556.6,67.0 555.3,65.8 554.5,64.5 C553.7,63.2 553.1,61.4 553.5,60.0 Z" fill="#E4961A"/><path d="M541.7,70.4 C541.7,69.5 545.8,69.6 548.0,69.3 C550.2,69.0 552.7,68.4 555.0,68.4 C557.3,68.4 559.5,68.7 562.0,69.5 C564.5,70.3 567.7,71.7 570.0,73.0 C572.3,74.3 575.7,76.2 576.0,77.5 C576.3,78.8 573.8,79.7 572.0,80.5 C570.2,81.3 567.2,82.3 565.0,82.6 C562.8,82.9 561.0,83.0 559.0,82.5 C557.0,82.0 554.8,80.8 553.0,79.5 C551.2,78.2 549.9,76.5 548.0,75.0 C546.1,73.5 541.7,71.4 541.7,70.4 Z" fill="#E9A040"/><path d="M569.5,67.5 C569.7,66.0 570.8,64.5 572.0,63.8 C573.2,63.1 575.6,62.8 577.0,63.2 C578.4,63.6 580.0,64.8 580.5,66.0 C581.0,67.2 581.0,69.3 580.2,70.5 C579.5,71.7 577.5,72.6 576.0,73.0 C574.5,73.4 572.1,73.7 571.0,72.8 C569.9,71.9 569.3,69.0 569.5,67.5 Z" fill="#1AC47E"/><path d="M585.0,77.5 C585.6,78.1 583.7,80.2 582.0,82.0 C580.3,83.8 577.2,86.4 575.0,88.5 C572.8,90.6 570.9,92.8 569.0,94.5 C567.1,96.2 564.8,98.2 563.5,98.5 C562.2,98.8 561.1,97.8 561.5,96.5 C561.9,95.2 564.2,93.1 566.0,91.0 C567.8,88.9 569.9,86.1 572.0,84.0 C574.1,81.9 576.3,79.6 578.5,78.5 C580.7,77.4 584.4,76.9 585.0,77.5 Z" fill="#7CD8D8"/><path d="M580.0,90.5 C580.9,90.3 583.5,90.8 585.0,91.5 C586.5,92.2 588.5,93.7 589.0,94.5 C589.5,95.3 589.0,96.4 588.0,96.5 C587.0,96.6 584.4,95.7 583.0,95.0 C581.6,94.3 580.0,93.2 579.5,92.5 C579.0,91.8 579.1,90.7 580.0,90.5 Z" fill="#9ADCE8"/><ellipse cx="594.6" cy="85.4" rx="2.6" ry="1.6" fill="#C4A61A"/><path d="M537.5,101.5 C537.9,100.6 539.4,99.5 541.0,99.0 C542.6,98.5 545.0,98.4 547.0,98.5 C549.0,98.6 551.2,98.9 553.0,99.5 C554.8,100.1 556.6,100.8 558.0,102.0 C559.4,103.2 561.1,105.0 561.5,106.5 C561.9,108.0 561.4,110.7 560.5,110.8 C559.6,110.9 557.8,107.9 556.0,107.0 C554.2,106.1 552.2,105.8 550.0,105.5 C547.8,105.2 544.9,105.7 543.0,105.5 C541.1,105.3 539.4,105.2 538.5,104.5 C537.6,103.8 537.1,102.4 537.5,101.5 Z" fill="#5CCBE0"/><ellipse cx="516" cy="81" rx="2.6" ry="2.2" fill="#FA72E0"/><ellipse cx="586" cy="137.2" rx="2.3" ry="1.7" fill="#D983FE"/><path d="M538.5,118.5 C539.6,118.7 542.8,119.8 545.0,120.5 C547.2,121.2 550.9,122.4 552.0,123.0 C553.1,123.6 552.8,124.2 551.5,124.0 C550.2,123.8 546.2,122.5 544.0,121.8 C541.8,121.0 539.4,120.0 538.5,119.5 C537.6,119.0 537.4,118.3 538.5,118.5 Z" fill="#D983FE"/><path d="M516.0,166.0 C517.0,164.3 521.3,162.6 524.0,161.0 C526.7,159.4 529.5,157.8 532.0,156.5 C534.5,155.2 536.5,152.8 539.0,153.0 C541.5,153.2 545.8,156.0 547.0,158.0 C548.2,160.0 547.5,163.0 546.0,165.0 C544.5,167.0 541.2,168.8 538.0,170.0 C534.8,171.2 530.3,172.3 527.0,172.5 C523.7,172.7 519.8,172.1 518.0,171.0 C516.2,169.9 515.0,167.7 516.0,166.0 Z" fill="#F9847C"/><path d="M534.5,151.0 C535.2,149.0 536.9,147.1 538.0,146.0 C539.1,144.9 539.8,144.4 541.0,144.5 C542.2,144.6 543.6,145.7 545.0,146.5 C546.4,147.3 548.1,148.5 549.5,149.5 C550.9,150.5 552.2,151.3 553.5,152.5 C554.8,153.7 556.8,155.2 557.2,156.5 C557.6,157.8 557.0,159.2 556.0,160.5 C555.0,161.8 552.7,163.0 551.0,164.0 C549.3,165.0 547.8,165.9 546.0,166.5 C544.2,167.1 541.8,167.8 540.0,167.5 C538.2,167.2 536.1,166.6 535.0,165.0 C533.9,163.4 533.6,160.3 533.5,158.0 C533.4,155.7 533.8,153.0 534.5,151.0 Z" fill="#F9847C"/><ellipse cx="525.5" cy="170.5" rx="14" ry="5.6" fill="#F9847C" transform="rotate(-8 525.5 170.5)"/><path d="M520.0,162.0 C520.5,161.2 522.6,159.6 524.0,158.5 C525.4,157.4 527.6,155.8 528.5,155.5 C529.4,155.2 530.1,156.1 529.5,157.0 C528.9,157.9 526.4,159.9 525.0,161.0 C523.6,162.1 521.8,163.3 521.0,163.5 C520.2,163.7 519.5,162.8 520.0,162.0 Z" fill="#F9847C"/><path d="M551.0,148.5 C551.7,147.8 554.2,146.2 556.0,145.0 C557.8,143.8 560.4,141.9 561.5,141.5 C562.6,141.1 563.2,141.7 562.5,142.5 C561.8,143.3 559.2,145.3 557.5,146.5 C555.8,147.7 553.1,149.2 552.0,149.5 C550.9,149.8 550.3,149.2 551.0,148.5 Z" fill="#F9847C"/><ellipse cx="531.5" cy="160.8" rx="2.5" ry="1.8" fill="#F9847C"/></g></g>
<text x="109.8" y="231.5" font-size="4.8" text-anchor="middle" font-weight="normal" font-family='"Liberation Sans", sans-serif' fill="#222" >NK cells</text>
<text x="84.4" y="267.5" font-size="4.8" text-anchor="middle" font-weight="normal" font-family='"Liberation Sans", sans-serif' fill="#222" >CD8+T cells</text>
<text x="118.9" y="264.3" font-size="4.8" text-anchor="middle" font-weight="normal" font-family='"Liberation Sans", sans-serif' fill="#222" >γδ T cells</text>
<text x="146.4" y="289.09999999999997" font-size="4.8" text-anchor="middle" font-weight="normal" font-family='"Liberation Sans", sans-serif' fill="#222" >pro T cells</text>
<text x="68.9" y="308.9" font-size="4.8" text-anchor="middle" font-weight="normal" font-family='"Liberation Sans", sans-serif' fill="#222" >CD4+T cells</text>
<text x="93.7" y="306.5" font-size="4.8" text-anchor="middle" font-weight="normal" font-family='"Liberation Sans", sans-serif' fill="#222" >Mixed cells</text>
<text x="165.8" y="367.09999999999997" font-size="4.8" text-anchor="middle" font-weight="normal" font-family='"Liberation Sans", sans-serif' fill="#222" >B cells</text>
<text x="224.4" y="342.09999999999997" font-size="4.8" text-anchor="middle" font-weight="normal" font-family='"Liberation Sans", sans-serif' fill="#222" >Plasma B cells</text>
<text x="237" y="272.09999999999997" font-size="4.8" text-anchor="middle" font-weight="normal" font-family='"Liberation Sans", sans-serif' fill="#222" >CD14+ monocytes</text>
<text x="213.4" y="274.7" font-size="4.8" text-anchor="middle" font-weight="normal" font-family='"Liberation Sans", sans-serif' fill="#222" >DCs</text>
<text x="234" y="293.09999999999997" font-size="4.8" text-anchor="middle" font-weight="normal" font-family='"Liberation Sans", sans-serif' fill="#222" >mDCs</text>
<text x="195.9" y="297.5" font-size="4.8" text-anchor="middle" font-weight="normal" font-family='"Liberation Sans", sans-serif' fill="#222" >Megakaryocytes/platelets</text>
<text x="245.8" y="307.09999999999997" font-size="4.8" text-anchor="middle" font-weight="normal" font-family='"Liberation Sans", sans-serif' fill="#222" >CD16+ monocytes</text>
<text x="288.9" y="250.4" font-size="7.0" text-anchor="start" font-weight="bold" font-family='"Liberation Sans", sans-serif' fill="#111" >Cell types</text>
<circle cx="288.5" cy="262.40" r="1.9" fill="#F8766D"/>
<text x="295.3" y="264.2" font-size="5.2" text-anchor="start" font-weight="bold" font-family='"Liberation Serif", serif' fill="#222" >B cells</text>
<circle cx="288.5" cy="268.58" r="1.9" fill="#E18A00"/>
<text x="295.3" y="270.38" font-size="5.2" text-anchor="start" font-weight="bold" font-family='"Liberation Serif", serif' fill="#222" >CD14+ monocytes</text>
<circle cx="288.5" cy="274.76" r="1.9" fill="#BE9C00"/>
<text x="295.3" y="276.56" font-size="5.2" text-anchor="start" font-weight="bold" font-family='"Liberation Serif", serif' fill="#222" >CD16+ monocytes</text>
<circle cx="288.5" cy="280.94" r="1.9" fill="#8CAB00"/>
<text x="295.3" y="282.74" font-size="5.2" text-anchor="start" font-weight="bold" font-family='"Liberation Serif", serif' fill="#222" >CD4+T cells</text>
<circle cx="288.5" cy="287.12" r="1.9" fill="#24B700"/>
<text x="295.3" y="288.92" font-size="5.2" text-anchor="start" font-weight="bold" font-family='"Liberation Serif", serif' fill="#222" >CD8+T cells</text>
<circle cx="288.5" cy="293.30" r="1.9" fill="#00BE70"/>
<text x="295.3" y="295.09999999999997" font-size="5.2" text-anchor="start" font-weight="bold" font-family='"Liberation Serif", serif' fill="#222" >DCs</text>
<circle cx="288.5" cy="299.48" r="1.9" fill="#00C1AB"/>
<text x="295.3" y="301.28" font-size="5.2" text-anchor="start" font-weight="bold" font-family='"Liberation Serif", serif' fill="#222" >mDCs</text>
<circle cx="288.5" cy="305.66" r="1.9" fill="#00BBDA"/>
<text x="295.3" y="307.46" font-size="5.2" text-anchor="start" font-weight="bold" font-family='"Liberation Serif", serif' fill="#222" >Megakaryocytes/platelets</text>
<circle cx="288.5" cy="311.84" r="1.9" fill="#00ACFC"/>
<text x="295.3" y="313.64" font-size="5.2" text-anchor="start" font-weight="bold" font-family='"Liberation Serif", serif' fill="#222" >Mixed cells</text>
<circle cx="288.5" cy="318.02" r="1.9" fill="#8B93FF"/>
<text x="295.3" y="319.82" font-size="5.2" text-anchor="start" font-weight="bold" font-family='"Liberation Serif", serif' fill="#222" >NK cells</text>
<circle cx="288.5" cy="324.20" r="1.9" fill="#D575FE"/>
<text x="295.3" y="326.0" font-size="5.2" text-anchor="start" font-weight="bold" font-family='"Liberation Serif", serif' fill="#222" >Plasma B cells</text>
<circle cx="288.5" cy="330.38" r="1.9" fill="#F962DD"/>
<text x="295.3" y="332.18" font-size="5.2" text-anchor="start" font-weight="bold" font-family='"Liberation Serif", serif' fill="#222" >pro T cells</text>
<circle cx="288.5" cy="336.56" r="1.9" fill="#FF65AC"/>
<text x="295.3" y="338.35999999999996" font-size="5.2" text-anchor="start" font-weight="bold" font-family='"Liberation Serif", serif' fill="#222" >γδ T cells</text>
<text x="353.8" y="227.1" font-size="15" text-anchor="start" font-weight="bold" font-family='"Liberation Serif", serif' fill="#111" >D</text>
<defs><linearGradient id="cbar" x1="0" y1="1" x2="0" y2="0"><stop offset="0" stop-color="#D9D9D9"/><stop offset="1" stop-color="#2A10F0"/></linearGradient></defs>
<text x="401.8" y="224.0" font-size="6.6" text-anchor="middle" font-weight="bold" font-family='"Liberation Serif", serif' fill="#111" >CD3E</text>
<g><g transform="translate(400.1,241.6) scale(0.1689,0.1636) translate(-513,-79.5)"><path d="M452.0,40.0 C453.3,37.8 458.7,35.8 463.0,35.0 C467.3,34.2 474.2,34.5 478.0,35.0 C481.8,35.5 484.3,36.2 486.0,38.0 C487.7,39.8 488.2,43.2 488.0,46.0 C487.8,48.8 485.5,51.7 485.0,55.0 C484.5,58.3 484.5,63.2 485.0,66.0 C485.5,68.8 487.0,69.7 488.0,72.0 C489.0,74.3 490.0,77.0 491.0,80.0 C492.0,83.0 493.2,86.7 494.0,90.0 C494.8,93.3 496.2,96.8 496.0,100.0 C495.8,103.2 495.7,107.2 493.0,109.0 C490.3,110.8 484.5,110.7 480.0,111.0 C475.5,111.3 469.8,112.2 466.0,111.0 C462.2,109.8 458.8,107.2 457.0,104.0 C455.2,100.8 455.2,96.0 455.0,92.0 C454.8,88.0 455.5,85.0 456.0,80.0 C456.5,75.0 458.2,67.3 458.0,62.0 C457.8,56.7 456.0,51.7 455.0,48.0 C454.0,44.3 450.7,42.2 452.0,40.0 Z" fill="#B3A8F4"/><path d="M480.0,37.0 C480.7,35.3 483.7,31.9 486.0,30.0 C488.3,28.1 491.2,26.5 494.0,25.5 C496.8,24.5 502.3,22.9 503.0,24.0 C503.7,25.1 499.5,29.3 498.0,32.0 C496.5,34.7 495.7,38.5 494.0,40.0 C492.3,41.5 490.0,41.0 488.0,41.0 C486.0,41.0 483.3,40.7 482.0,40.0 C480.7,39.3 479.3,38.7 480.0,37.0 Z" fill="#E3E3E3"/><path d="M566.0,70.0 C568.5,68.7 574.0,70.7 578.0,72.0 C582.0,73.3 586.7,75.7 590.0,78.0 C593.3,80.3 597.3,82.8 598.0,86.0 C598.7,89.2 596.0,94.5 594.0,97.0 C592.0,99.5 589.0,100.7 586.0,101.0 C583.0,101.3 579.3,99.5 576.0,99.0 C572.7,98.5 568.3,99.2 566.0,98.0 C563.7,96.8 562.5,95.0 562.0,92.0 C561.5,89.0 562.3,83.7 563.0,80.0 C563.7,76.3 563.5,71.3 566.0,70.0 Z" fill="#E3E3E3"/><path d="M424.8,90.5 C425.3,88.3 427.3,85.4 428.8,84.0 C430.3,82.6 432.0,82.5 434.0,82.0 C436.0,81.5 438.5,81.2 441.0,81.0 C443.5,80.8 446.7,80.5 449.2,80.8 C451.7,81.1 454.4,81.5 456.0,83.0 C457.6,84.5 458.3,87.7 459.0,90.0 C459.7,92.3 459.3,94.7 460.0,97.0 C460.7,99.3 462.0,101.7 463.0,104.0 C464.0,106.3 467.3,109.5 466.0,111.0 C464.7,112.5 459.3,112.6 455.0,113.0 C450.7,113.4 443.9,113.7 440.0,113.5 C436.1,113.3 433.8,113.4 431.7,112.0 C429.6,110.6 428.4,107.5 427.5,105.0 C426.6,102.5 426.4,99.4 426.0,97.0 C425.6,94.6 424.3,92.7 424.8,90.5 Z" fill="#B3A8F4"/><path d="M431.0,108.0 C433.3,106.0 440.5,106.6 445.0,106.3 C449.5,106.0 454.5,105.9 458.0,106.0 C461.5,106.1 464.2,105.8 466.0,107.0 C467.8,108.2 468.8,111.3 469.0,113.5 C469.2,115.7 468.1,118.2 467.0,120.0 C465.9,121.8 465.0,123.3 462.5,124.3 C460.0,125.3 455.6,125.9 452.0,126.2 C448.4,126.5 443.9,126.5 441.0,126.2 C438.1,125.9 436.2,125.6 434.5,124.2 C432.8,122.8 431.6,120.7 431.0,118.0 C430.4,115.3 428.7,110.0 431.0,108.0 Z" fill="#B3A8F4"/><path d="M433.5,44.2 C434.3,42.7 435.6,41.4 437.0,40.5 C438.4,39.6 440.0,39.0 442.0,38.6 C444.0,38.2 447.0,37.9 449.2,38.2 C451.4,38.5 453.1,39.4 455.0,40.5 C456.9,41.6 459.0,43.1 460.5,45.0 C462.0,46.9 463.2,49.8 463.8,52.0 C464.4,54.2 464.2,55.7 464.0,58.0 C463.8,60.3 463.1,63.3 462.8,66.0 C462.5,68.7 462.3,71.5 462.0,74.0 C461.7,76.5 461.8,79.0 461.0,81.0 C460.2,83.0 458.8,85.2 457.0,86.0 C455.2,86.8 452.0,86.8 450.0,86.0 C448.0,85.2 446.5,83.3 445.0,81.0 C443.5,78.7 442.2,75.0 441.0,72.0 C439.8,69.0 438.8,65.7 437.5,63.0 C436.2,60.3 434.4,58.2 433.5,56.0 C432.6,53.8 432.3,51.5 432.3,49.5 C432.3,47.5 432.7,45.7 433.5,44.2 Z" fill="#B3A8F4"/><path d="M438.5,58.0 C439.6,55.6 444.1,55.9 447.0,55.5 C449.9,55.1 453.2,55.1 456.0,55.5 C458.8,55.9 462.4,54.9 463.5,58.0 C464.6,61.1 462.9,70.2 462.5,74.0 C462.1,77.8 461.9,78.9 461.0,81.0 C460.1,83.1 458.8,85.6 457.0,86.5 C455.2,87.4 452.0,87.2 450.0,86.5 C448.0,85.8 446.6,84.8 445.0,82.0 C443.4,79.2 441.6,74.0 440.5,70.0 C439.4,66.0 437.4,60.4 438.5,58.0 Z" fill="#E0E0E0"/><path d="M449.5,38.5 C448.8,37.1 450.1,34.5 451.0,32.5 C451.9,30.5 453.6,28.2 455.0,26.5 C456.4,24.8 457.9,23.3 459.5,22.0 C461.1,20.7 462.4,18.9 464.5,18.5 C466.6,18.1 469.2,18.7 472.0,19.5 C474.8,20.3 479.3,22.2 481.5,23.5 C483.7,24.8 484.6,25.9 485.0,27.5 C485.4,29.1 484.7,31.2 484.0,33.0 C483.3,34.8 482.3,37.1 481.0,38.5 C479.7,39.9 477.7,40.2 476.0,41.5 C474.3,42.8 472.4,44.2 471.0,46.0 C469.6,47.8 468.5,50.2 467.5,52.0 C466.5,53.8 465.8,57.0 465.0,57.0 C464.2,57.0 463.3,54.0 462.5,52.0 C461.7,50.0 461.2,46.8 460.0,45.0 C458.8,43.2 456.8,42.1 455.0,41.0 C453.2,39.9 450.2,39.9 449.5,38.5 Z" fill="#B3A8F4"/><path d="M463.5,19.5 C463.3,18.5 464.5,17.1 466.0,16.0 C467.5,14.9 469.8,13.7 472.6,13.0 C475.4,12.3 479.4,11.7 482.8,11.6 C486.2,11.5 489.8,11.6 493.0,12.3 C496.2,13.0 499.1,14.5 501.8,15.6 C504.5,16.6 507.1,17.7 509.0,18.6 C510.9,19.5 513.6,20.4 513.4,21.2 C513.2,22.0 510.0,22.7 507.6,23.2 C505.2,23.7 501.2,23.6 498.8,24.0 C496.4,24.4 494.9,24.6 493.0,25.4 C491.1,26.2 488.9,27.6 487.2,29.0 C485.5,30.4 484.1,33.3 482.8,33.5 C481.5,33.7 481.0,31.4 479.5,30.0 C478.0,28.6 476.1,26.3 474.0,25.0 C471.9,23.7 468.8,22.9 467.0,22.0 C465.2,21.1 463.7,20.5 463.5,19.5 Z" fill="#E0E0E0"/><path d="M476.0,40.5 C476.9,39.3 480.6,38.6 482.8,38.6 C485.0,38.6 487.2,39.6 489.0,40.5 C490.8,41.4 492.6,42.5 493.8,44.0 C495.1,45.5 495.9,47.5 496.5,49.5 C497.1,51.5 497.5,53.9 497.5,56.0 C497.5,58.1 497.1,60.3 496.5,62.0 C495.9,63.7 495.1,64.8 493.8,66.0 C492.5,67.2 490.2,68.3 488.6,69.0 C487.0,69.7 485.4,70.3 484.0,70.0 C482.6,69.7 480.9,68.7 480.5,67.0 C480.1,65.3 481.6,62.5 481.5,60.0 C481.4,57.5 480.7,54.3 480.0,52.0 C479.3,49.7 478.2,47.9 477.5,46.0 C476.8,44.1 475.1,41.7 476.0,40.5 Z" fill="#B3A8F4"/><ellipse cx="472" cy="62" rx="5.5" ry="4.5" fill="#B3A8F4"/><ellipse cx="491.5" cy="34.5" rx="4.5" ry="3" fill="#E0E0E0" transform="rotate(-25 491.5 34.5)"/><path d="M468.2,76.5 C467.9,75.3 469.7,73.9 471.0,73.2 C472.3,72.5 474.2,72.4 476.0,72.2 C477.8,72.0 480.2,71.9 482.0,72.2 C483.8,72.5 485.5,73.1 486.5,73.8 C487.5,74.5 488.1,75.5 488.0,76.5 C487.9,77.5 487.3,78.8 486.0,79.5 C484.7,80.2 482.2,80.6 480.0,80.8 C477.8,81.0 475.0,81.2 473.0,80.5 C471.0,79.8 468.5,77.7 468.2,76.5 Z" fill="#B3A8F4"/><path d="M462.3,89.0 C462.8,87.7 464.4,86.6 466.0,86.0 C467.6,85.4 470.0,85.5 472.0,85.5 C474.0,85.5 476.2,85.5 478.0,86.0 C479.8,86.5 481.3,87.6 483.0,88.5 C484.7,89.4 486.4,90.4 488.0,91.5 C489.6,92.6 491.6,93.6 492.5,95.0 C493.4,96.4 493.9,98.7 493.5,100.0 C493.1,101.3 491.8,102.6 490.0,103.0 C488.2,103.4 485.5,103.0 483.0,102.5 C480.5,102.0 477.7,100.8 475.0,100.0 C472.3,99.2 469.0,99.0 467.0,98.0 C465.0,97.0 463.8,95.5 463.0,94.0 C462.2,92.5 461.8,90.3 462.3,89.0 Z" fill="#B3A8F4"/><ellipse cx="468" cy="100.2" rx="7.3" ry="5.8" fill="#B3A8F4"/><ellipse cx="484.5" cy="103.8" rx="8" ry="4.5" fill="#B3A8F4"/><path d="M468.5,113.0 C468.9,111.8 469.6,110.2 471.0,109.5 C472.4,108.8 474.7,109.0 477.0,108.8 C479.3,108.6 482.3,108.4 485.0,108.5 C487.7,108.6 490.8,108.8 493.0,109.5 C495.2,110.2 497.4,111.4 498.5,113.0 C499.6,114.6 499.9,117.2 499.8,119.0 C499.7,120.8 499.2,122.6 498.0,124.0 C496.8,125.4 494.8,126.7 492.5,127.3 C490.2,127.9 486.7,128.1 484.0,127.8 C481.3,127.5 478.6,126.6 476.5,125.5 C474.4,124.4 472.8,122.4 471.5,121.0 C470.2,119.6 469.0,118.3 468.5,117.0 C468.0,115.7 468.1,114.2 468.5,113.0 Z" fill="#B3A8F4"/><path d="M568.5,53.0 C569.2,50.8 571.8,49.5 574.0,48.2 C576.2,46.9 579.0,45.8 582.0,45.0 C585.0,44.2 588.2,43.8 592.0,43.6 C595.8,43.4 601.3,43.4 605.0,44.0 C608.7,44.6 611.4,45.9 614.0,47.4 C616.6,48.9 618.7,50.9 620.5,53.2 C622.3,55.6 624.3,58.7 625.0,61.5 C625.7,64.3 625.3,67.2 624.8,70.0 C624.3,72.8 623.3,75.6 622.0,78.0 C620.7,80.4 619.7,83.1 617.0,84.5 C614.3,85.9 609.7,86.1 606.0,86.3 C602.3,86.5 598.2,86.3 595.0,85.5 C591.8,84.7 589.5,83.1 587.0,81.5 C584.5,79.9 582.2,78.0 580.0,76.0 C577.8,74.0 575.7,71.9 574.0,69.5 C572.3,67.1 570.9,64.2 570.0,61.5 C569.1,58.8 567.8,55.2 568.5,53.0 Z" fill="#E0E0E0"/><path d="M584.0,89.0 C584.9,87.6 588.3,86.9 591.0,86.4 C593.7,85.9 596.8,85.9 600.0,85.8 C603.2,85.7 607.2,85.6 610.0,85.6 C612.8,85.6 615.2,84.8 616.5,86.0 C617.8,87.2 617.6,90.5 617.6,93.0 C617.6,95.5 617.7,98.7 616.8,101.0 C615.9,103.3 614.1,105.5 612.0,106.8 C609.9,108.1 606.7,108.8 604.0,108.8 C601.3,108.8 598.3,108.1 596.0,106.8 C593.7,105.5 591.8,103.0 590.0,101.0 C588.2,99.0 586.5,97.0 585.5,95.0 C584.5,93.0 583.1,90.4 584.0,89.0 Z" fill="#E0E0E0"/><path d="M553.5,60.0 C553.9,58.6 555.4,57.1 557.0,56.3 C558.6,55.5 560.8,55.2 563.0,55.0 C565.2,54.8 568.0,54.8 570.0,55.3 C572.0,55.8 574.5,56.5 575.0,58.0 C575.5,59.5 574.5,62.4 573.0,64.0 C571.5,65.6 568.4,67.2 566.0,67.8 C563.6,68.4 560.4,68.0 558.5,67.5 C556.6,67.0 555.3,65.8 554.5,64.5 C553.7,63.2 553.1,61.4 553.5,60.0 Z" fill="#E0E0E0"/><path d="M541.7,70.4 C541.7,69.5 545.8,69.6 548.0,69.3 C550.2,69.0 552.7,68.4 555.0,68.4 C557.3,68.4 559.5,68.7 562.0,69.5 C564.5,70.3 567.7,71.7 570.0,73.0 C572.3,74.3 575.7,76.2 576.0,77.5 C576.3,78.8 573.8,79.7 572.0,80.5 C570.2,81.3 567.2,82.3 565.0,82.6 C562.8,82.9 561.0,83.0 559.0,82.5 C557.0,82.0 554.8,80.8 553.0,79.5 C551.2,78.2 549.9,76.5 548.0,75.0 C546.1,73.5 541.7,71.4 541.7,70.4 Z" fill="#E0E0E0"/><path d="M569.5,67.5 C569.7,66.0 570.8,64.5 572.0,63.8 C573.2,63.1 575.6,62.8 577.0,63.2 C578.4,63.6 580.0,64.8 580.5,66.0 C581.0,67.2 581.0,69.3 580.2,70.5 C579.5,71.7 577.5,72.6 576.0,73.0 C574.5,73.4 572.1,73.7 571.0,72.8 C569.9,71.9 569.3,69.0 569.5,67.5 Z" fill="#E0E0E0"/><path d="M585.0,77.5 C585.6,78.1 583.7,80.2 582.0,82.0 C580.3,83.8 577.2,86.4 575.0,88.5 C572.8,90.6 570.9,92.8 569.0,94.5 C567.1,96.2 564.8,98.2 563.5,98.5 C562.2,98.8 561.1,97.8 561.5,96.5 C561.9,95.2 564.2,93.1 566.0,91.0 C567.8,88.9 569.9,86.1 572.0,84.0 C574.1,81.9 576.3,79.6 578.5,78.5 C580.7,77.4 584.4,76.9 585.0,77.5 Z" fill="#E0E0E0"/><path d="M580.0,90.5 C580.9,90.3 583.5,90.8 585.0,91.5 C586.5,92.2 588.5,93.7 589.0,94.5 C589.5,95.3 589.0,96.4 588.0,96.5 C587.0,96.6 584.4,95.7 583.0,95.0 C581.6,94.3 580.0,93.2 579.5,92.5 C579.0,91.8 579.1,90.7 580.0,90.5 Z" fill="#E0E0E0"/><ellipse cx="594.6" cy="85.4" rx="2.6" ry="1.6" fill="#E0E0E0"/><path d="M537.5,101.5 C537.9,100.6 539.4,99.5 541.0,99.0 C542.6,98.5 545.0,98.4 547.0,98.5 C549.0,98.6 551.2,98.9 553.0,99.5 C554.8,100.1 556.6,100.8 558.0,102.0 C559.4,103.2 561.1,105.0 561.5,106.5 C561.9,108.0 561.4,110.7 560.5,110.8 C559.6,110.9 557.8,107.9 556.0,107.0 C554.2,106.1 552.2,105.8 550.0,105.5 C547.8,105.2 544.9,105.7 543.0,105.5 C541.1,105.3 539.4,105.2 538.5,104.5 C537.6,103.8 537.1,102.4 537.5,101.5 Z" fill="#E0E0E0"/><ellipse cx="516" cy="81" rx="2.6" ry="2.2" fill="#E0E0E0"/><ellipse cx="586" cy="137.2" rx="2.3" ry="1.7" fill="#E0E0E0"/><path d="M538.5,118.5 C539.6,118.7 542.8,119.8 545.0,120.5 C547.2,121.2 550.9,122.4 552.0,123.0 C553.1,123.6 552.8,124.2 551.5,124.0 C550.2,123.8 546.2,122.5 544.0,121.8 C541.8,121.0 539.4,120.0 538.5,119.5 C537.6,119.0 537.4,118.3 538.5,118.5 Z" fill="#E0E0E0"/><path d="M516.0,166.0 C517.0,164.3 521.3,162.6 524.0,161.0 C526.7,159.4 529.5,157.8 532.0,156.5 C534.5,155.2 536.5,152.8 539.0,153.0 C541.5,153.2 545.8,156.0 547.0,158.0 C548.2,160.0 547.5,163.0 546.0,165.0 C544.5,167.0 541.2,168.8 538.0,170.0 C534.8,171.2 530.3,172.3 527.0,172.5 C523.7,172.7 519.8,172.1 518.0,171.0 C516.2,169.9 515.0,167.7 516.0,166.0 Z" fill="#E0E0E0"/><path d="M534.5,151.0 C535.2,149.0 536.9,147.1 538.0,146.0 C539.1,144.9 539.8,144.4 541.0,144.5 C542.2,144.6 543.6,145.7 545.0,146.5 C546.4,147.3 548.1,148.5 549.5,149.5 C550.9,150.5 552.2,151.3 553.5,152.5 C554.8,153.7 556.8,155.2 557.2,156.5 C557.6,157.8 557.0,159.2 556.0,160.5 C555.0,161.8 552.7,163.0 551.0,164.0 C549.3,165.0 547.8,165.9 546.0,166.5 C544.2,167.1 541.8,167.8 540.0,167.5 C538.2,167.2 536.1,166.6 535.0,165.0 C533.9,163.4 533.6,160.3 533.5,158.0 C533.4,155.7 533.8,153.0 534.5,151.0 Z" fill="#E0E0E0"/><ellipse cx="525.5" cy="170.5" rx="14" ry="5.6" fill="#E0E0E0" transform="rotate(-8 525.5 170.5)"/><path d="M520.0,162.0 C520.5,161.2 522.6,159.6 524.0,158.5 C525.4,157.4 527.6,155.8 528.5,155.5 C529.4,155.2 530.1,156.1 529.5,157.0 C528.9,157.9 526.4,159.9 525.0,161.0 C523.6,162.1 521.8,163.3 521.0,163.5 C520.2,163.7 519.5,162.8 520.0,162.0 Z" fill="#E0E0E0"/><path d="M551.0,148.5 C551.7,147.8 554.2,146.2 556.0,145.0 C557.8,143.8 560.4,141.9 561.5,141.5 C562.6,141.1 563.2,141.7 562.5,142.5 C561.8,143.3 559.2,145.3 557.5,146.5 C555.8,147.7 553.1,149.2 552.0,149.5 C550.9,149.8 550.3,149.2 551.0,148.5 Z" fill="#E0E0E0"/><ellipse cx="531.5" cy="160.8" rx="2.5" ry="1.8" fill="#E0E0E0"/></g></g>
<path d="M381.8,229.0 V260.2 H422.1" fill="none" stroke="#333" stroke-width="0.6"/>
<line x1="380.6" y1="230.1" x2="381.8" y2="230.1" stroke="#333" stroke-width="0.5"/>
<text x="380.1" y="231.9" font-size="5.1" text-anchor="end" font-weight="normal" font-family='"Liberation Serif", serif' fill="#333" >10</text>
<line x1="380.6" y1="235.8" x2="381.8" y2="235.8" stroke="#333" stroke-width="0.5"/>
<text x="380.1" y="237.65" font-size="5.1" text-anchor="end" font-weight="normal" font-family='"Liberation Serif", serif' fill="#333" >5</text>
<line x1="380.6" y1="241.6" x2="381.8" y2="241.6" stroke="#333" stroke-width="0.5"/>
<text x="380.1" y="243.4" font-size="5.1" text-anchor="end" font-weight="normal" font-family='"Liberation Serif", serif' fill="#333" >0</text>
<line x1="380.6" y1="247.3" x2="381.8" y2="247.3" stroke="#333" stroke-width="0.5"/>
<text x="380.1" y="249.15" font-size="5.1" text-anchor="end" font-weight="normal" font-family='"Liberation Serif", serif' fill="#333" >&#8722;5</text>
<line x1="380.6" y1="253.1" x2="381.8" y2="253.1" stroke="#333" stroke-width="0.5"/>
<text x="380.1" y="254.9" font-size="5.1" text-anchor="end" font-weight="normal" font-family='"Liberation Serif", serif' fill="#333" >&#8722;10</text>
<line x1="380.6" y1="258.9" x2="381.8" y2="258.9" stroke="#333" stroke-width="0.5"/>
<text x="380.1" y="260.65000000000003" font-size="5.1" text-anchor="end" font-weight="normal" font-family='"Liberation Serif", serif' fill="#333" >&#8722;15</text>
<line x1="381.8" y1="260.2" x2="381.8" y2="261.4" stroke="#333" stroke-width="0.5"/>
<line x1="391.0" y1="260.2" x2="391.0" y2="261.4" stroke="#333" stroke-width="0.5"/>
<line x1="400.2" y1="260.2" x2="400.2" y2="261.4" stroke="#333" stroke-width="0.5"/>
<line x1="409.4" y1="260.2" x2="409.4" y2="261.4" stroke="#333" stroke-width="0.5"/>
<line x1="418.6" y1="260.2" x2="418.6" y2="261.4" stroke="#333" stroke-width="0.5"/>
<text x="378.0" y="267.0" font-size="5.1" text-anchor="start" font-weight="normal" font-family='"Liberation Serif", serif' fill="#333" >&#8722;10&#8722;5 0 5 10</text>
<text x="400.6" y="273.6" font-size="5.4" text-anchor="middle" font-weight="normal" font-family='"Liberation Serif", serif' fill="#333" >umap_1</text>
<text x="0" y="0" font-size="5.6" text-anchor="middle" font-weight="normal" font-family='"Liberation Serif", serif' fill="#333" transform="translate(370.3,245.5) rotate(-90)">umap_2</text>
<rect x="428.0" y="227.2" width="6" height="33.9" fill="url(#cbar)"/>
<text x="436.8" y="228.89999999999998" font-size="5.0" text-anchor="start" font-weight="normal" font-family='"Liberation Serif", serif' fill="#333" >3</text>
<text x="436.8" y="240.29999999999998" font-size="5.0" text-anchor="start" font-weight="normal" font-family='"Liberation Serif", serif' fill="#333" >2</text>
<text x="436.8" y="251.7" font-size="5.0" text-anchor="start" font-weight="normal" font-family='"Liberation Serif", serif' fill="#333" >1</text>
<text x="436.8" y="263.09999999999997" font-size="5.0" text-anchor="start" font-weight="normal" font-family='"Liberation Serif", serif' fill="#333" >0</text>
<text x="481.5" y="224.0" font-size="6.6" text-anchor="middle" font-weight="bold" font-family='"Liberation Serif", serif' fill="#111" >CD4</text>
<g><g transform="translate(479.8,241.6) scale(0.1689,0.1636) translate(-513,-79.5)"><path d="M452.0,40.0 C453.3,37.8 458.7,35.8 463.0,35.0 C467.3,34.2 474.2,34.5 478.0,35.0 C481.8,35.5 484.3,36.2 486.0,38.0 C487.7,39.8 488.2,43.2 488.0,46.0 C487.8,48.8 485.5,51.7 485.0,55.0 C484.5,58.3 484.5,63.2 485.0,66.0 C485.5,68.8 487.0,69.7 488.0,72.0 C489.0,74.3 490.0,77.0 491.0,80.0 C492.0,83.0 493.2,86.7 494.0,90.0 C494.8,93.3 496.2,96.8 496.0,100.0 C495.8,103.2 495.7,107.2 493.0,109.0 C490.3,110.8 484.5,110.7 480.0,111.0 C475.5,111.3 469.8,112.2 466.0,111.0 C462.2,109.8 458.8,107.2 457.0,104.0 C455.2,100.8 455.2,96.0 455.0,92.0 C454.8,88.0 455.5,85.0 456.0,80.0 C456.5,75.0 458.2,67.3 458.0,62.0 C457.8,56.7 456.0,51.7 455.0,48.0 C454.0,44.3 450.7,42.2 452.0,40.0 Z" fill="#E3E3E3"/><path d="M480.0,37.0 C480.7,35.3 483.7,31.9 486.0,30.0 C488.3,28.1 491.2,26.5 494.0,25.5 C496.8,24.5 502.3,22.9 503.0,24.0 C503.7,25.1 499.5,29.3 498.0,32.0 C496.5,34.7 495.7,38.5 494.0,40.0 C492.3,41.5 490.0,41.0 488.0,41.0 C486.0,41.0 483.3,40.7 482.0,40.0 C480.7,39.3 479.3,38.7 480.0,37.0 Z" fill="#E3E3E3"/><path d="M566.0,70.0 C568.5,68.7 574.0,70.7 578.0,72.0 C582.0,73.3 586.7,75.7 590.0,78.0 C593.3,80.3 597.3,82.8 598.0,86.0 C598.7,89.2 596.0,94.5 594.0,97.0 C592.0,99.5 589.0,100.7 586.0,101.0 C583.0,101.3 579.3,99.5 576.0,99.0 C572.7,98.5 568.3,99.2 566.0,98.0 C563.7,96.8 562.5,95.0 562.0,92.0 C561.5,89.0 562.3,83.7 563.0,80.0 C563.7,76.3 563.5,71.3 566.0,70.0 Z" fill="#D6D0F4"/><path d="M424.8,90.5 C425.3,88.3 427.3,85.4 428.8,84.0 C430.3,82.6 432.0,82.5 434.0,82.0 C436.0,81.5 438.5,81.2 441.0,81.0 C443.5,80.8 446.7,80.5 449.2,80.8 C451.7,81.1 454.4,81.5 456.0,83.0 C457.6,84.5 458.3,87.7 459.0,90.0 C459.7,92.3 459.3,94.7 460.0,97.0 C460.7,99.3 462.0,101.7 463.0,104.0 C464.0,106.3 467.3,109.5 466.0,111.0 C464.7,112.5 459.3,112.6 455.0,113.0 C450.7,113.4 443.9,113.7 440.0,113.5 C436.1,113.3 433.8,113.4 431.7,112.0 C429.6,110.6 428.4,107.5 427.5,105.0 C426.6,102.5 426.4,99.4 426.0,97.0 C425.6,94.6 424.3,92.7 424.8,90.5 Z" fill="#D6D0F4"/><path d="M431.0,108.0 C433.3,106.0 440.5,106.6 445.0,106.3 C449.5,106.0 454.5,105.9 458.0,106.0 C461.5,106.1 464.2,105.8 466.0,107.0 C467.8,108.2 468.8,111.3 469.0,113.5 C469.2,115.7 468.1,118.2 467.0,120.0 C465.9,121.8 465.0,123.3 462.5,124.3 C460.0,125.3 455.6,125.9 452.0,126.2 C448.4,126.5 443.9,126.5 441.0,126.2 C438.1,125.9 436.2,125.6 434.5,124.2 C432.8,122.8 431.6,120.7 431.0,118.0 C430.4,115.3 428.7,110.0 431.0,108.0 Z" fill="#D6D0F4"/><path d="M433.5,44.2 C434.3,42.7 435.6,41.4 437.0,40.5 C438.4,39.6 440.0,39.0 442.0,38.6 C444.0,38.2 447.0,37.9 449.2,38.2 C451.4,38.5 453.1,39.4 455.0,40.5 C456.9,41.6 459.0,43.1 460.5,45.0 C462.0,46.9 463.2,49.8 463.8,52.0 C464.4,54.2 464.2,55.7 464.0,58.0 C463.8,60.3 463.1,63.3 462.8,66.0 C462.5,68.7 462.3,71.5 462.0,74.0 C461.7,76.5 461.8,79.0 461.0,81.0 C460.2,83.0 458.8,85.2 457.0,86.0 C455.2,86.8 452.0,86.8 450.0,86.0 C448.0,85.2 446.5,83.3 445.0,81.0 C443.5,78.7 442.2,75.0 441.0,72.0 C439.8,69.0 438.8,65.7 437.5,63.0 C436.2,60.3 434.4,58.2 433.5,56.0 C432.6,53.8 432.3,51.5 432.3,49.5 C432.3,47.5 432.7,45.7 433.5,44.2 Z" fill="#E0E0E0"/><path d="M438.5,58.0 C439.6,55.6 444.1,55.9 447.0,55.5 C449.9,55.1 453.2,55.1 456.0,55.5 C458.8,55.9 462.4,54.9 463.5,58.0 C464.6,61.1 462.9,70.2 462.5,74.0 C462.1,77.8 461.9,78.9 461.0,81.0 C460.1,83.1 458.8,85.6 457.0,86.5 C455.2,87.4 452.0,87.2 450.0,86.5 C448.0,85.8 446.6,84.8 445.0,82.0 C443.4,79.2 441.6,74.0 440.5,70.0 C439.4,66.0 437.4,60.4 438.5,58.0 Z" fill="#E0E0E0"/><path d="M449.5,38.5 C448.8,37.1 450.1,34.5 451.0,32.5 C451.9,30.5 453.6,28.2 455.0,26.5 C456.4,24.8 457.9,23.3 459.5,22.0 C461.1,20.7 462.4,18.9 464.5,18.5 C466.6,18.1 469.2,18.7 472.0,19.5 C474.8,20.3 479.3,22.2 481.5,23.5 C483.7,24.8 484.6,25.9 485.0,27.5 C485.4,29.1 484.7,31.2 484.0,33.0 C483.3,34.8 482.3,37.1 481.0,38.5 C479.7,39.9 477.7,40.2 476.0,41.5 C474.3,42.8 472.4,44.2 471.0,46.0 C469.6,47.8 468.5,50.2 467.5,52.0 C466.5,53.8 465.8,57.0 465.0,57.0 C464.2,57.0 463.3,54.0 462.5,52.0 C461.7,50.0 461.2,46.8 460.0,45.0 C458.8,43.2 456.8,42.1 455.0,41.0 C453.2,39.9 450.2,39.9 449.5,38.5 Z" fill="#E0E0E0"/><path d="M463.5,19.5 C463.3,18.5 464.5,17.1 466.0,16.0 C467.5,14.9 469.8,13.7 472.6,13.0 C475.4,12.3 479.4,11.7 482.8,11.6 C486.2,11.5 489.8,11.6 493.0,12.3 C496.2,13.0 499.1,14.5 501.8,15.6 C504.5,16.6 507.1,17.7 509.0,18.6 C510.9,19.5 513.6,20.4 513.4,21.2 C513.2,22.0 510.0,22.7 507.6,23.2 C505.2,23.7 501.2,23.6 498.8,24.0 C496.4,24.4 494.9,24.6 493.0,25.4 C491.1,26.2 488.9,27.6 487.2,29.0 C485.5,30.4 484.1,33.3 482.8,33.5 C481.5,33.7 481.0,31.4 479.5,30.0 C478.0,28.6 476.1,26.3 474.0,25.0 C471.9,23.7 468.8,22.9 467.0,22.0 C465.2,21.1 463.7,20.5 463.5,19.5 Z" fill="#E0E0E0"/><path d="M476.0,40.5 C476.9,39.3 480.6,38.6 482.8,38.6 C485.0,38.6 487.2,39.6 489.0,40.5 C490.8,41.4 492.6,42.5 493.8,44.0 C495.1,45.5 495.9,47.5 496.5,49.5 C497.1,51.5 497.5,53.9 497.5,56.0 C497.5,58.1 497.1,60.3 496.5,62.0 C495.9,63.7 495.1,64.8 493.8,66.0 C492.5,67.2 490.2,68.3 488.6,69.0 C487.0,69.7 485.4,70.3 484.0,70.0 C482.6,69.7 480.9,68.7 480.5,67.0 C480.1,65.3 481.6,62.5 481.5,60.0 C481.4,57.5 480.7,54.3 480.0,52.0 C479.3,49.7 478.2,47.9 477.5,46.0 C476.8,44.1 475.1,41.7 476.0,40.5 Z" fill="#E0E0E0"/><ellipse cx="472" cy="62" rx="5.5" ry="4.5" fill="#E0E0E0"/><ellipse cx="491.5" cy="34.5" rx="4.5" ry="3" fill="#E0E0E0" transform="rotate(-25 491.5 34.5)"/><path d="M468.2,76.5 C467.9,75.3 469.7,73.9 471.0,73.2 C472.3,72.5 474.2,72.4 476.0,72.2 C477.8,72.0 480.2,71.9 482.0,72.2 C483.8,72.5 485.5,73.1 486.5,73.8 C487.5,74.5 488.1,75.5 488.0,76.5 C487.9,77.5 487.3,78.8 486.0,79.5 C484.7,80.2 482.2,80.6 480.0,80.8 C477.8,81.0 475.0,81.2 473.0,80.5 C471.0,79.8 468.5,77.7 468.2,76.5 Z" fill="#E0E0E0"/><path d="M462.3,89.0 C462.8,87.7 464.4,86.6 466.0,86.0 C467.6,85.4 470.0,85.5 472.0,85.5 C474.0,85.5 476.2,85.5 478.0,86.0 C479.8,86.5 481.3,87.6 483.0,88.5 C484.7,89.4 486.4,90.4 488.0,91.5 C489.6,92.6 491.6,93.6 492.5,95.0 C493.4,96.4 493.9,98.7 493.5,100.0 C493.1,101.3 491.8,102.6 490.0,103.0 C488.2,103.4 485.5,103.0 483.0,102.5 C480.5,102.0 477.7,100.8 475.0,100.0 C472.3,99.2 469.0,99.0 467.0,98.0 C465.0,97.0 463.8,95.5 463.0,94.0 C462.2,92.5 461.8,90.3 462.3,89.0 Z" fill="#E0E0E0"/><ellipse cx="468" cy="100.2" rx="7.3" ry="5.8" fill="#E0E0E0"/><ellipse cx="484.5" cy="103.8" rx="8" ry="4.5" fill="#E0E0E0"/><path d="M468.5,113.0 C468.9,111.8 469.6,110.2 471.0,109.5 C472.4,108.8 474.7,109.0 477.0,108.8 C479.3,108.6 482.3,108.4 485.0,108.5 C487.7,108.6 490.8,108.8 493.0,109.5 C495.2,110.2 497.4,111.4 498.5,113.0 C499.6,114.6 499.9,117.2 499.8,119.0 C499.7,120.8 499.2,122.6 498.0,124.0 C496.8,125.4 494.8,126.7 492.5,127.3 C490.2,127.9 486.7,128.1 484.0,127.8 C481.3,127.5 478.6,126.6 476.5,125.5 C474.4,124.4 472.8,122.4 471.5,121.0 C470.2,119.6 469.0,118.3 468.5,117.0 C468.0,115.7 468.1,114.2 468.5,113.0 Z" fill="#E0E0E0"/><path d="M568.5,53.0 C569.2,50.8 571.8,49.5 574.0,48.2 C576.2,46.9 579.0,45.8 582.0,45.0 C585.0,44.2 588.2,43.8 592.0,43.6 C595.8,43.4 601.3,43.4 605.0,44.0 C608.7,44.6 611.4,45.9 614.0,47.4 C616.6,48.9 618.7,50.9 620.5,53.2 C622.3,55.6 624.3,58.7 625.0,61.5 C625.7,64.3 625.3,67.2 624.8,70.0 C624.3,72.8 623.3,75.6 622.0,78.0 C620.7,80.4 619.7,83.1 617.0,84.5 C614.3,85.9 609.7,86.1 606.0,86.3 C602.3,86.5 598.2,86.3 595.0,85.5 C591.8,84.7 589.5,83.1 587.0,81.5 C584.5,79.9 582.2,78.0 580.0,76.0 C577.8,74.0 575.7,71.9 574.0,69.5 C572.3,67.1 570.9,64.2 570.0,61.5 C569.1,58.8 567.8,55.2 568.5,53.0 Z" fill="#D6D0F4"/><path d="M584.0,89.0 C584.9,87.6 588.3,86.9 591.0,86.4 C593.7,85.9 596.8,85.9 600.0,85.8 C603.2,85.7 607.2,85.6 610.0,85.6 C612.8,85.6 615.2,84.8 616.5,86.0 C617.8,87.2 617.6,90.5 617.6,93.0 C617.6,95.5 617.7,98.7 616.8,101.0 C615.9,103.3 614.1,105.5 612.0,106.8 C609.9,108.1 606.7,108.8 604.0,108.8 C601.3,108.8 598.3,108.1 596.0,106.8 C593.7,105.5 591.8,103.0 590.0,101.0 C588.2,99.0 586.5,97.0 585.5,95.0 C584.5,93.0 583.1,90.4 584.0,89.0 Z" fill="#D6D0F4"/><path d="M553.5,60.0 C553.9,58.6 555.4,57.1 557.0,56.3 C558.6,55.5 560.8,55.2 563.0,55.0 C565.2,54.8 568.0,54.8 570.0,55.3 C572.0,55.8 574.5,56.5 575.0,58.0 C575.5,59.5 574.5,62.4 573.0,64.0 C571.5,65.6 568.4,67.2 566.0,67.8 C563.6,68.4 560.4,68.0 558.5,67.5 C556.6,67.0 555.3,65.8 554.5,64.5 C553.7,63.2 553.1,61.4 553.5,60.0 Z" fill="#D6D0F4"/><path d="M541.7,70.4 C541.7,69.5 545.8,69.6 548.0,69.3 C550.2,69.0 552.7,68.4 555.0,68.4 C557.3,68.4 559.5,68.7 562.0,69.5 C564.5,70.3 567.7,71.7 570.0,73.0 C572.3,74.3 575.7,76.2 576.0,77.5 C576.3,78.8 573.8,79.7 572.0,80.5 C570.2,81.3 567.2,82.3 565.0,82.6 C562.8,82.9 561.0,83.0 559.0,82.5 C557.0,82.0 554.8,80.8 553.0,79.5 C551.2,78.2 549.9,76.5 548.0,75.0 C546.1,73.5 541.7,71.4 541.7,70.4 Z" fill="#D6D0F4"/><path d="M569.5,67.5 C569.7,66.0 570.8,64.5 572.0,63.8 C573.2,63.1 575.6,62.8 577.0,63.2 C578.4,63.6 580.0,64.8 580.5,66.0 C581.0,67.2 581.0,69.3 580.2,70.5 C579.5,71.7 577.5,72.6 576.0,73.0 C574.5,73.4 572.1,73.7 571.0,72.8 C569.9,71.9 569.3,69.0 569.5,67.5 Z" fill="#D6D0F4"/><path d="M585.0,77.5 C585.6,78.1 583.7,80.2 582.0,82.0 C580.3,83.8 577.2,86.4 575.0,88.5 C572.8,90.6 570.9,92.8 569.0,94.5 C567.1,96.2 564.8,98.2 563.5,98.5 C562.2,98.8 561.1,97.8 561.5,96.5 C561.9,95.2 564.2,93.1 566.0,91.0 C567.8,88.9 569.9,86.1 572.0,84.0 C574.1,81.9 576.3,79.6 578.5,78.5 C580.7,77.4 584.4,76.9 585.0,77.5 Z" fill="#D6D0F4"/><path d="M580.0,90.5 C580.9,90.3 583.5,90.8 585.0,91.5 C586.5,92.2 588.5,93.7 589.0,94.5 C589.5,95.3 589.0,96.4 588.0,96.5 C587.0,96.6 584.4,95.7 583.0,95.0 C581.6,94.3 580.0,93.2 579.5,92.5 C579.0,91.8 579.1,90.7 580.0,90.5 Z" fill="#E0E0E0"/><ellipse cx="594.6" cy="85.4" rx="2.6" ry="1.6" fill="#E0E0E0"/><path d="M537.5,101.5 C537.9,100.6 539.4,99.5 541.0,99.0 C542.6,98.5 545.0,98.4 547.0,98.5 C549.0,98.6 551.2,98.9 553.0,99.5 C554.8,100.1 556.6,100.8 558.0,102.0 C559.4,103.2 561.1,105.0 561.5,106.5 C561.9,108.0 561.4,110.7 560.5,110.8 C559.6,110.9 557.8,107.9 556.0,107.0 C554.2,106.1 552.2,105.8 550.0,105.5 C547.8,105.2 544.9,105.7 543.0,105.5 C541.1,105.3 539.4,105.2 538.5,104.5 C537.6,103.8 537.1,102.4 537.5,101.5 Z" fill="#E0E0E0"/><ellipse cx="516" cy="81" rx="2.6" ry="2.2" fill="#E0E0E0"/><ellipse cx="586" cy="137.2" rx="2.3" ry="1.7" fill="#E0E0E0"/><path d="M538.5,118.5 C539.6,118.7 542.8,119.8 545.0,120.5 C547.2,121.2 550.9,122.4 552.0,123.0 C553.1,123.6 552.8,124.2 551.5,124.0 C550.2,123.8 546.2,122.5 544.0,121.8 C541.8,121.0 539.4,120.0 538.5,119.5 C537.6,119.0 537.4,118.3 538.5,118.5 Z" fill="#E0E0E0"/><path d="M516.0,166.0 C517.0,164.3 521.3,162.6 524.0,161.0 C526.7,159.4 529.5,157.8 532.0,156.5 C534.5,155.2 536.5,152.8 539.0,153.0 C541.5,153.2 545.8,156.0 547.0,158.0 C548.2,160.0 547.5,163.0 546.0,165.0 C544.5,167.0 541.2,168.8 538.0,170.0 C534.8,171.2 530.3,172.3 527.0,172.5 C523.7,172.7 519.8,172.1 518.0,171.0 C516.2,169.9 515.0,167.7 516.0,166.0 Z" fill="#E0E0E0"/><path d="M534.5,151.0 C535.2,149.0 536.9,147.1 538.0,146.0 C539.1,144.9 539.8,144.4 541.0,144.5 C542.2,144.6 543.6,145.7 545.0,146.5 C546.4,147.3 548.1,148.5 549.5,149.5 C550.9,150.5 552.2,151.3 553.5,152.5 C554.8,153.7 556.8,155.2 557.2,156.5 C557.6,157.8 557.0,159.2 556.0,160.5 C555.0,161.8 552.7,163.0 551.0,164.0 C549.3,165.0 547.8,165.9 546.0,166.5 C544.2,167.1 541.8,167.8 540.0,167.5 C538.2,167.2 536.1,166.6 535.0,165.0 C533.9,163.4 533.6,160.3 533.5,158.0 C533.4,155.7 533.8,153.0 534.5,151.0 Z" fill="#E0E0E0"/><ellipse cx="525.5" cy="170.5" rx="14" ry="5.6" fill="#E0E0E0" transform="rotate(-8 525.5 170.5)"/><path d="M520.0,162.0 C520.5,161.2 522.6,159.6 524.0,158.5 C525.4,157.4 527.6,155.8 528.5,155.5 C529.4,155.2 530.1,156.1 529.5,157.0 C528.9,157.9 526.4,159.9 525.0,161.0 C523.6,162.1 521.8,163.3 521.0,163.5 C520.2,163.7 519.5,162.8 520.0,162.0 Z" fill="#E0E0E0"/><path d="M551.0,148.5 C551.7,147.8 554.2,146.2 556.0,145.0 C557.8,143.8 560.4,141.9 561.5,141.5 C562.6,141.1 563.2,141.7 562.5,142.5 C561.8,143.3 559.2,145.3 557.5,146.5 C555.8,147.7 553.1,149.2 552.0,149.5 C550.9,149.8 550.3,149.2 551.0,148.5 Z" fill="#E0E0E0"/><ellipse cx="531.5" cy="160.8" rx="2.5" ry="1.8" fill="#E0E0E0"/></g></g>
<path d="M461.5,229.0 V260.2 H501.8" fill="none" stroke="#333" stroke-width="0.6"/>
<line x1="460.3" y1="230.1" x2="461.5" y2="230.1" stroke="#333" stroke-width="0.5"/>
<text x="459.8" y="231.9" font-size="5.1" text-anchor="end" font-weight="normal" font-family='"Liberation Serif", serif' fill="#333" >10</text>
<line x1="460.3" y1="235.8" x2="461.5" y2="235.8" stroke="#333" stroke-width="0.5"/>
<text x="459.8" y="237.65" font-size="5.1" text-anchor="end" font-weight="normal" font-family='"Liberation Serif", serif' fill="#333" >5</text>
<line x1="460.3" y1="241.6" x2="461.5" y2="241.6" stroke="#333" stroke-width="0.5"/>
<text x="459.8" y="243.4" font-size="5.1" text-anchor="end" font-weight="normal" font-family='"Liberation Serif", serif' fill="#333" >0</text>
<line x1="460.3" y1="247.3" x2="461.5" y2="247.3" stroke="#333" stroke-width="0.5"/>
<text x="459.8" y="249.15" font-size="5.1" text-anchor="end" font-weight="normal" font-family='"Liberation Serif", serif' fill="#333" >&#8722;5</text>
<line x1="460.3" y1="253.1" x2="461.5" y2="253.1" stroke="#333" stroke-width="0.5"/>
<text x="459.8" y="254.9" font-size="5.1" text-anchor="end" font-weight="normal" font-family='"Liberation Serif", serif' fill="#333" >&#8722;10</text>
<line x1="460.3" y1="258.9" x2="461.5" y2="258.9" stroke="#333" stroke-width="0.5"/>
<text x="459.8" y="260.65000000000003" font-size="5.1" text-anchor="end" font-weight="normal" font-family='"Liberation Serif", serif' fill="#333" >&#8722;15</text>
<line x1="461.5" y1="260.2" x2="461.5" y2="261.4" stroke="#333" stroke-width="0.5"/>
<line x1="470.7" y1="260.2" x2="470.7" y2="261.4" stroke="#333" stroke-width="0.5"/>
<line x1="479.9" y1="260.2" x2="479.9" y2="261.4" stroke="#333" stroke-width="0.5"/>
<line x1="489.1" y1="260.2" x2="489.1" y2="261.4" stroke="#333" stroke-width="0.5"/>
<line x1="498.3" y1="260.2" x2="498.3" y2="261.4" stroke="#333" stroke-width="0.5"/>
<text x="457.7" y="267.0" font-size="5.1" text-anchor="start" font-weight="normal" font-family='"Liberation Serif", serif' fill="#333" >&#8722;10&#8722;5 0 5 10</text>
<text x="480.3" y="273.6" font-size="5.4" text-anchor="middle" font-weight="normal" font-family='"Liberation Serif", serif' fill="#333" >umap_1</text>
<text x="0" y="0" font-size="5.6" text-anchor="middle" font-weight="normal" font-family='"Liberation Serif", serif' fill="#333" transform="translate(450.0,245.5) rotate(-90)">umap_2</text>
<rect x="507.7" y="227.2" width="6" height="33.9" fill="url(#cbar)"/>
<text x="516.5" y="228.89999999999998" font-size="5.0" text-anchor="start" font-weight="normal" font-family='"Liberation Serif", serif' fill="#333" >3</text>
<text x="516.5" y="240.29999999999998" font-size="5.0" text-anchor="start" font-weight="normal" font-family='"Liberation Serif", serif' fill="#333" >2</text>
<text x="516.5" y="251.7" font-size="5.0" text-anchor="start" font-weight="normal" font-family='"Liberation Serif", serif' fill="#333" >1</text>
<text x="516.5" y="263.09999999999997" font-size="5.0" text-anchor="start" font-weight="normal" font-family='"Liberation Serif", serif' fill="#333" >0</text>
<text x="561.2" y="224.0" font-size="6.6" text-anchor="middle" font-weight="bold" font-family='"Liberation Serif", serif' fill="#111" >CD8A</text>
<g><g transform="translate(559.5,241.6) scale(0.1689,0.1636) translate(-513,-79.5)"><path d="M452.0,40.0 C453.3,37.8 458.7,35.8 463.0,35.0 C467.3,34.2 474.2,34.5 478.0,35.0 C481.8,35.5 484.3,36.2 486.0,38.0 C487.7,39.8 488.2,43.2 488.0,46.0 C487.8,48.8 485.5,51.7 485.0,55.0 C484.5,58.3 484.5,63.2 485.0,66.0 C485.5,68.8 487.0,69.7 488.0,72.0 C489.0,74.3 490.0,77.0 491.0,80.0 C492.0,83.0 493.2,86.7 494.0,90.0 C494.8,93.3 496.2,96.8 496.0,100.0 C495.8,103.2 495.7,107.2 493.0,109.0 C490.3,110.8 484.5,110.7 480.0,111.0 C475.5,111.3 469.8,112.2 466.0,111.0 C462.2,109.8 458.8,107.2 457.0,104.0 C455.2,100.8 455.2,96.0 455.0,92.0 C454.8,88.0 455.5,85.0 456.0,80.0 C456.5,75.0 458.2,67.3 458.0,62.0 C457.8,56.7 456.0,51.7 455.0,48.0 C454.0,44.3 450.7,42.2 452.0,40.0 Z" fill="#E3E3E3"/><path d="M480.0,37.0 C480.7,35.3 483.7,31.9 486.0,30.0 C488.3,28.1 491.2,26.5 494.0,25.5 C496.8,24.5 502.3,22.9 503.0,24.0 C503.7,25.1 499.5,29.3 498.0,32.0 C496.5,34.7 495.7,38.5 494.0,40.0 C492.3,41.5 490.0,41.0 488.0,41.0 C486.0,41.0 483.3,40.7 482.0,40.0 C480.7,39.3 479.3,38.7 480.0,37.0 Z" fill="#E3E3E3"/><path d="M566.0,70.0 C568.5,68.7 574.0,70.7 578.0,72.0 C582.0,73.3 586.7,75.7 590.0,78.0 C593.3,80.3 597.3,82.8 598.0,86.0 C598.7,89.2 596.0,94.5 594.0,97.0 C592.0,99.5 589.0,100.7 586.0,101.0 C583.0,101.3 579.3,99.5 576.0,99.0 C572.7,98.5 568.3,99.2 566.0,98.0 C563.7,96.8 562.5,95.0 562.0,92.0 C561.5,89.0 562.3,83.7 563.0,80.0 C563.7,76.3 563.5,71.3 566.0,70.0 Z" fill="#E3E3E3"/><path d="M424.8,90.5 C425.3,88.3 427.3,85.4 428.8,84.0 C430.3,82.6 432.0,82.5 434.0,82.0 C436.0,81.5 438.5,81.2 441.0,81.0 C443.5,80.8 446.7,80.5 449.2,80.8 C451.7,81.1 454.4,81.5 456.0,83.0 C457.6,84.5 458.3,87.7 459.0,90.0 C459.7,92.3 459.3,94.7 460.0,97.0 C460.7,99.3 462.0,101.7 463.0,104.0 C464.0,106.3 467.3,109.5 466.0,111.0 C464.7,112.5 459.3,112.6 455.0,113.0 C450.7,113.4 443.9,113.7 440.0,113.5 C436.1,113.3 433.8,113.4 431.7,112.0 C429.6,110.6 428.4,107.5 427.5,105.0 C426.6,102.5 426.4,99.4 426.0,97.0 C425.6,94.6 424.3,92.7 424.8,90.5 Z" fill="#E0E0E0"/><path d="M431.0,108.0 C433.3,106.0 440.5,106.6 445.0,106.3 C449.5,106.0 454.5,105.9 458.0,106.0 C461.5,106.1 464.2,105.8 466.0,107.0 C467.8,108.2 468.8,111.3 469.0,113.5 C469.2,115.7 468.1,118.2 467.0,120.0 C465.9,121.8 465.0,123.3 462.5,124.3 C460.0,125.3 455.6,125.9 452.0,126.2 C448.4,126.5 443.9,126.5 441.0,126.2 C438.1,125.9 436.2,125.6 434.5,124.2 C432.8,122.8 431.6,120.7 431.0,118.0 C430.4,115.3 428.7,110.0 431.0,108.0 Z" fill="#E0E0E0"/><path d="M433.5,44.2 C434.3,42.7 435.6,41.4 437.0,40.5 C438.4,39.6 440.0,39.0 442.0,38.6 C444.0,38.2 447.0,37.9 449.2,38.2 C451.4,38.5 453.1,39.4 455.0,40.5 C456.9,41.6 459.0,43.1 460.5,45.0 C462.0,46.9 463.2,49.8 463.8,52.0 C464.4,54.2 464.2,55.7 464.0,58.0 C463.8,60.3 463.1,63.3 462.8,66.0 C462.5,68.7 462.3,71.5 462.0,74.0 C461.7,76.5 461.8,79.0 461.0,81.0 C460.2,83.0 458.8,85.2 457.0,86.0 C455.2,86.8 452.0,86.8 450.0,86.0 C448.0,85.2 446.5,83.3 445.0,81.0 C443.5,78.7 442.2,75.0 441.0,72.0 C439.8,69.0 438.8,65.7 437.5,63.0 C436.2,60.3 434.4,58.2 433.5,56.0 C432.6,53.8 432.3,51.5 432.3,49.5 C432.3,47.5 432.7,45.7 433.5,44.2 Z" fill="#C8C0F5"/><path d="M438.5,58.0 C439.6,55.6 444.1,55.9 447.0,55.5 C449.9,55.1 453.2,55.1 456.0,55.5 C458.8,55.9 462.4,54.9 463.5,58.0 C464.6,61.1 462.9,70.2 462.5,74.0 C462.1,77.8 461.9,78.9 461.0,81.0 C460.1,83.1 458.8,85.6 457.0,86.5 C455.2,87.4 452.0,87.2 450.0,86.5 C448.0,85.8 446.6,84.8 445.0,82.0 C443.4,79.2 441.6,74.0 440.5,70.0 C439.4,66.0 437.4,60.4 438.5,58.0 Z" fill="#E0E0E0"/><path d="M449.5,38.5 C448.8,37.1 450.1,34.5 451.0,32.5 C451.9,30.5 453.6,28.2 455.0,26.5 C456.4,24.8 457.9,23.3 459.5,22.0 C461.1,20.7 462.4,18.9 464.5,18.5 C466.6,18.1 469.2,18.7 472.0,19.5 C474.8,20.3 479.3,22.2 481.5,23.5 C483.7,24.8 484.6,25.9 485.0,27.5 C485.4,29.1 484.7,31.2 484.0,33.0 C483.3,34.8 482.3,37.1 481.0,38.5 C479.7,39.9 477.7,40.2 476.0,41.5 C474.3,42.8 472.4,44.2 471.0,46.0 C469.6,47.8 468.5,50.2 467.5,52.0 C466.5,53.8 465.8,57.0 465.0,57.0 C464.2,57.0 463.3,54.0 462.5,52.0 C461.7,50.0 461.2,46.8 460.0,45.0 C458.8,43.2 456.8,42.1 455.0,41.0 C453.2,39.9 450.2,39.9 449.5,38.5 Z" fill="#C8C0F5"/><path d="M463.5,19.5 C463.3,18.5 464.5,17.1 466.0,16.0 C467.5,14.9 469.8,13.7 472.6,13.0 C475.4,12.3 479.4,11.7 482.8,11.6 C486.2,11.5 489.8,11.6 493.0,12.3 C496.2,13.0 499.1,14.5 501.8,15.6 C504.5,16.6 507.1,17.7 509.0,18.6 C510.9,19.5 513.6,20.4 513.4,21.2 C513.2,22.0 510.0,22.7 507.6,23.2 C505.2,23.7 501.2,23.6 498.8,24.0 C496.4,24.4 494.9,24.6 493.0,25.4 C491.1,26.2 488.9,27.6 487.2,29.0 C485.5,30.4 484.1,33.3 482.8,33.5 C481.5,33.7 481.0,31.4 479.5,30.0 C478.0,28.6 476.1,26.3 474.0,25.0 C471.9,23.7 468.8,22.9 467.0,22.0 C465.2,21.1 463.7,20.5 463.5,19.5 Z" fill="#E0E0E0"/><path d="M476.0,40.5 C476.9,39.3 480.6,38.6 482.8,38.6 C485.0,38.6 487.2,39.6 489.0,40.5 C490.8,41.4 492.6,42.5 493.8,44.0 C495.1,45.5 495.9,47.5 496.5,49.5 C497.1,51.5 497.5,53.9 497.5,56.0 C497.5,58.1 497.1,60.3 496.5,62.0 C495.9,63.7 495.1,64.8 493.8,66.0 C492.5,67.2 490.2,68.3 488.6,69.0 C487.0,69.7 485.4,70.3 484.0,70.0 C482.6,69.7 480.9,68.7 480.5,67.0 C480.1,65.3 481.6,62.5 481.5,60.0 C481.4,57.5 480.7,54.3 480.0,52.0 C479.3,49.7 478.2,47.9 477.5,46.0 C476.8,44.1 475.1,41.7 476.0,40.5 Z" fill="#E0E0E0"/><ellipse cx="472" cy="62" rx="5.5" ry="4.5" fill="#E0E0E0"/><ellipse cx="491.5" cy="34.5" rx="4.5" ry="3" fill="#E0E0E0" transform="rotate(-25 491.5 34.5)"/><path d="M468.2,76.5 C467.9,75.3 469.7,73.9 471.0,73.2 C472.3,72.5 474.2,72.4 476.0,72.2 C477.8,72.0 480.2,71.9 482.0,72.2 C483.8,72.5 485.5,73.1 486.5,73.8 C487.5,74.5 488.1,75.5 488.0,76.5 C487.9,77.5 487.3,78.8 486.0,79.5 C484.7,80.2 482.2,80.6 480.0,80.8 C477.8,81.0 475.0,81.2 473.0,80.5 C471.0,79.8 468.5,77.7 468.2,76.5 Z" fill="#E0E0E0"/><path d="M462.3,89.0 C462.8,87.7 464.4,86.6 466.0,86.0 C467.6,85.4 470.0,85.5 472.0,85.5 C474.0,85.5 476.2,85.5 478.0,86.0 C479.8,86.5 481.3,87.6 483.0,88.5 C484.7,89.4 486.4,90.4 488.0,91.5 C489.6,92.6 491.6,93.6 492.5,95.0 C493.4,96.4 493.9,98.7 493.5,100.0 C493.1,101.3 491.8,102.6 490.0,103.0 C488.2,103.4 485.5,103.0 483.0,102.5 C480.5,102.0 477.7,100.8 475.0,100.0 C472.3,99.2 469.0,99.0 467.0,98.0 C465.0,97.0 463.8,95.5 463.0,94.0 C462.2,92.5 461.8,90.3 462.3,89.0 Z" fill="#E0E0E0"/><ellipse cx="468" cy="100.2" rx="7.3" ry="5.8" fill="#E0E0E0"/><ellipse cx="484.5" cy="103.8" rx="8" ry="4.5" fill="#E0E0E0"/><path d="M468.5,113.0 C468.9,111.8 469.6,110.2 471.0,109.5 C472.4,108.8 474.7,109.0 477.0,108.8 C479.3,108.6 482.3,108.4 485.0,108.5 C487.7,108.6 490.8,108.8 493.0,109.5 C495.2,110.2 497.4,111.4 498.5,113.0 C499.6,114.6 499.9,117.2 499.8,119.0 C499.7,120.8 499.2,122.6 498.0,124.0 C496.8,125.4 494.8,126.7 492.5,127.3 C490.2,127.9 486.7,128.1 484.0,127.8 C481.3,127.5 478.6,126.6 476.5,125.5 C474.4,124.4 472.8,122.4 471.5,121.0 C470.2,119.6 469.0,118.3 468.5,117.0 C468.0,115.7 468.1,114.2 468.5,113.0 Z" fill="#C8C0F5"/><path d="M568.5,53.0 C569.2,50.8 571.8,49.5 574.0,48.2 C576.2,46.9 579.0,45.8 582.0,45.0 C585.0,44.2 588.2,43.8 592.0,43.6 C595.8,43.4 601.3,43.4 605.0,44.0 C608.7,44.6 611.4,45.9 614.0,47.4 C616.6,48.9 618.7,50.9 620.5,53.2 C622.3,55.6 624.3,58.7 625.0,61.5 C625.7,64.3 625.3,67.2 624.8,70.0 C624.3,72.8 623.3,75.6 622.0,78.0 C620.7,80.4 619.7,83.1 617.0,84.5 C614.3,85.9 609.7,86.1 606.0,86.3 C602.3,86.5 598.2,86.3 595.0,85.5 C591.8,84.7 589.5,83.1 587.0,81.5 C584.5,79.9 582.2,78.0 580.0,76.0 C577.8,74.0 575.7,71.9 574.0,69.5 C572.3,67.1 570.9,64.2 570.0,61.5 C569.1,58.8 567.8,55.2 568.5,53.0 Z" fill="#E0E0E0"/><path d="M584.0,89.0 C584.9,87.6 588.3,86.9 591.0,86.4 C593.7,85.9 596.8,85.9 600.0,85.8 C603.2,85.7 607.2,85.6 610.0,85.6 C612.8,85.6 615.2,84.8 616.5,86.0 C617.8,87.2 617.6,90.5 617.6,93.0 C617.6,95.5 617.7,98.7 616.8,101.0 C615.9,103.3 614.1,105.5 612.0,106.8 C609.9,108.1 606.7,108.8 604.0,108.8 C601.3,108.8 598.3,108.1 596.0,106.8 C593.7,105.5 591.8,103.0 590.0,101.0 C588.2,99.0 586.5,97.0 585.5,95.0 C584.5,93.0 583.1,90.4 584.0,89.0 Z" fill="#E0E0E0"/><path d="M553.5,60.0 C553.9,58.6 555.4,57.1 557.0,56.3 C558.6,55.5 560.8,55.2 563.0,55.0 C565.2,54.8 568.0,54.8 570.0,55.3 C572.0,55.8 574.5,56.5 575.0,58.0 C575.5,59.5 574.5,62.4 573.0,64.0 C571.5,65.6 568.4,67.2 566.0,67.8 C563.6,68.4 560.4,68.0 558.5,67.5 C556.6,67.0 555.3,65.8 554.5,64.5 C553.7,63.2 553.1,61.4 553.5,60.0 Z" fill="#E0E0E0"/><path d="M541.7,70.4 C541.7,69.5 545.8,69.6 548.0,69.3 C550.2,69.0 552.7,68.4 555.0,68.4 C557.3,68.4 559.5,68.7 562.0,69.5 C564.5,70.3 567.7,71.7 570.0,73.0 C572.3,74.3 575.7,76.2 576.0,77.5 C576.3,78.8 573.8,79.7 572.0,80.5 C570.2,81.3 567.2,82.3 565.0,82.6 C562.8,82.9 561.0,83.0 559.0,82.5 C557.0,82.0 554.8,80.8 553.0,79.5 C551.2,78.2 549.9,76.5 548.0,75.0 C546.1,73.5 541.7,71.4 541.7,70.4 Z" fill="#E0E0E0"/><path d="M569.5,67.5 C569.7,66.0 570.8,64.5 572.0,63.8 C573.2,63.1 575.6,62.8 577.0,63.2 C578.4,63.6 580.0,64.8 580.5,66.0 C581.0,67.2 581.0,69.3 580.2,70.5 C579.5,71.7 577.5,72.6 576.0,73.0 C574.5,73.4 572.1,73.7 571.0,72.8 C569.9,71.9 569.3,69.0 569.5,67.5 Z" fill="#E0E0E0"/><path d="M585.0,77.5 C585.6,78.1 583.7,80.2 582.0,82.0 C580.3,83.8 577.2,86.4 575.0,88.5 C572.8,90.6 570.9,92.8 569.0,94.5 C567.1,96.2 564.8,98.2 563.5,98.5 C562.2,98.8 561.1,97.8 561.5,96.5 C561.9,95.2 564.2,93.1 566.0,91.0 C567.8,88.9 569.9,86.1 572.0,84.0 C574.1,81.9 576.3,79.6 578.5,78.5 C580.7,77.4 584.4,76.9 585.0,77.5 Z" fill="#E0E0E0"/><path d="M580.0,90.5 C580.9,90.3 583.5,90.8 585.0,91.5 C586.5,92.2 588.5,93.7 589.0,94.5 C589.5,95.3 589.0,96.4 588.0,96.5 C587.0,96.6 584.4,95.7 583.0,95.0 C581.6,94.3 580.0,93.2 579.5,92.5 C579.0,91.8 579.1,90.7 580.0,90.5 Z" fill="#E0E0E0"/><ellipse cx="594.6" cy="85.4" rx="2.6" ry="1.6" fill="#E0E0E0"/><path d="M537.5,101.5 C537.9,100.6 539.4,99.5 541.0,99.0 C542.6,98.5 545.0,98.4 547.0,98.5 C549.0,98.6 551.2,98.9 553.0,99.5 C554.8,100.1 556.6,100.8 558.0,102.0 C559.4,103.2 561.1,105.0 561.5,106.5 C561.9,108.0 561.4,110.7 560.5,110.8 C559.6,110.9 557.8,107.9 556.0,107.0 C554.2,106.1 552.2,105.8 550.0,105.5 C547.8,105.2 544.9,105.7 543.0,105.5 C541.1,105.3 539.4,105.2 538.5,104.5 C537.6,103.8 537.1,102.4 537.5,101.5 Z" fill="#E0E0E0"/><ellipse cx="516" cy="81" rx="2.6" ry="2.2" fill="#E0E0E0"/><ellipse cx="586" cy="137.2" rx="2.3" ry="1.7" fill="#E0E0E0"/><path d="M538.5,118.5 C539.6,118.7 542.8,119.8 545.0,120.5 C547.2,121.2 550.9,122.4 552.0,123.0 C553.1,123.6 552.8,124.2 551.5,124.0 C550.2,123.8 546.2,122.5 544.0,121.8 C541.8,121.0 539.4,120.0 538.5,119.5 C537.6,119.0 537.4,118.3 538.5,118.5 Z" fill="#E0E0E0"/><path d="M516.0,166.0 C517.0,164.3 521.3,162.6 524.0,161.0 C526.7,159.4 529.5,157.8 532.0,156.5 C534.5,155.2 536.5,152.8 539.0,153.0 C541.5,153.2 545.8,156.0 547.0,158.0 C548.2,160.0 547.5,163.0 546.0,165.0 C544.5,167.0 541.2,168.8 538.0,170.0 C534.8,171.2 530.3,172.3 527.0,172.5 C523.7,172.7 519.8,172.1 518.0,171.0 C516.2,169.9 515.0,167.7 516.0,166.0 Z" fill="#E0E0E0"/><path d="M534.5,151.0 C535.2,149.0 536.9,147.1 538.0,146.0 C539.1,144.9 539.8,144.4 541.0,144.5 C542.2,144.6 543.6,145.7 545.0,146.5 C546.4,147.3 548.1,148.5 549.5,149.5 C550.9,150.5 552.2,151.3 553.5,152.5 C554.8,153.7 556.8,155.2 557.2,156.5 C557.6,157.8 557.0,159.2 556.0,160.5 C555.0,161.8 552.7,163.0 551.0,164.0 C549.3,165.0 547.8,165.9 546.0,166.5 C544.2,167.1 541.8,167.8 540.0,167.5 C538.2,167.2 536.1,166.6 535.0,165.0 C533.9,163.4 533.6,160.3 533.5,158.0 C533.4,155.7 533.8,153.0 534.5,151.0 Z" fill="#E0E0E0"/><ellipse cx="525.5" cy="170.5" rx="14" ry="5.6" fill="#E0E0E0" transform="rotate(-8 525.5 170.5)"/><path d="M520.0,162.0 C520.5,161.2 522.6,159.6 524.0,158.5 C525.4,157.4 527.6,155.8 528.5,155.5 C529.4,155.2 530.1,156.1 529.5,157.0 C528.9,157.9 526.4,159.9 525.0,161.0 C523.6,162.1 521.8,163.3 521.0,163.5 C520.2,163.7 519.5,162.8 520.0,162.0 Z" fill="#E0E0E0"/><path d="M551.0,148.5 C551.7,147.8 554.2,146.2 556.0,145.0 C557.8,143.8 560.4,141.9 561.5,141.5 C562.6,141.1 563.2,141.7 562.5,142.5 C561.8,143.3 559.2,145.3 557.5,146.5 C555.8,147.7 553.1,149.2 552.0,149.5 C550.9,149.8 550.3,149.2 551.0,148.5 Z" fill="#E0E0E0"/><ellipse cx="531.5" cy="160.8" rx="2.5" ry="1.8" fill="#E0E0E0"/></g></g>
<path d="M541.2,229.0 V260.2 H581.5" fill="none" stroke="#333" stroke-width="0.6"/>
<line x1="540.0" y1="230.1" x2="541.2" y2="230.1" stroke="#333" stroke-width="0.5"/>
<text x="539.5" y="231.9" font-size="5.1" text-anchor="end" font-weight="normal" font-family='"Liberation Serif", serif' fill="#333" >10</text>
<line x1="540.0" y1="235.8" x2="541.2" y2="235.8" stroke="#333" stroke-width="0.5"/>
<text x="539.5" y="237.65" font-size="5.1" text-anchor="end" font-weight="normal" font-family='"Liberation Serif", serif' fill="#333" >5</text>
<line x1="540.0" y1="241.6" x2="541.2" y2="241.6" stroke="#333" stroke-width="0.5"/>
<text x="539.5" y="243.4" font-size="5.1" text-anchor="end" font-weight="normal" font-family='"Liberation Serif", serif' fill="#333" >0</text>
<line x1="540.0" y1="247.3" x2="541.2" y2="247.3" stroke="#333" stroke-width="0.5"/>
<text x="539.5" y="249.15" font-size="5.1" text-anchor="end" font-weight="normal" font-family='"Liberation Serif", serif' fill="#333" >&#8722;5</text>
<line x1="540.0" y1="253.1" x2="541.2" y2="253.1" stroke="#333" stroke-width="0.5"/>
<text x="539.5" y="254.9" font-size="5.1" text-anchor="end" font-weight="normal" font-family='"Liberation Serif", serif' fill="#333" >&#8722;10</text>
<line x1="540.0" y1="258.9" x2="541.2" y2="258.9" stroke="#333" stroke-width="0.5"/>
<text x="539.5" y="260.65000000000003" font-size="5.1" text-anchor="end" font-weight="normal" font-family='"Liberation Serif", serif' fill="#333" >&#8722;15</text>
<line x1="541.2" y1="260.2" x2="541.2" y2="261.4" stroke="#333" stroke-width="0.5"/>
<line x1="550.4" y1="260.2" x2="550.4" y2="261.4" stroke="#333" stroke-width="0.5"/>
<line x1="559.6" y1="260.2" x2="559.6" y2="261.4" stroke="#333" stroke-width="0.5"/>
<line x1="568.8" y1="260.2" x2="568.8" y2="261.4" stroke="#333" stroke-width="0.5"/>
<line x1="578.0" y1="260.2" x2="578.0" y2="261.4" stroke="#333" stroke-width="0.5"/>
<text x="537.4000000000001" y="267.0" font-size="5.1" text-anchor="start" font-weight="normal" font-family='"Liberation Serif", serif' fill="#333" >&#8722;10&#8722;5 0 5 10</text>
<text x="560.0" y="273.6" font-size="5.4" text-anchor="middle" font-weight="normal" font-family='"Liberation Serif", serif' fill="#333" >umap_1</text>
<text x="0" y="0" font-size="5.6" text-anchor="middle" font-weight="normal" font-family='"Liberation Serif", serif' fill="#333" transform="translate(529.7,245.5) rotate(-90)">umap_2</text>
<rect x="587.4" y="227.2" width="6" height="33.9" fill="url(#cbar)"/>
<text x="596.2" y="228.89999999999998" font-size="5.0" text-anchor="start" font-weight="normal" font-family='"Liberation Serif", serif' fill="#333" >3</text>
<text x="596.2" y="240.29999999999998" font-size="5.0" text-anchor="start" font-weight="normal" font-family='"Liberation Serif", serif' fill="#333" >2</text>
<text x="596.2" y="251.7" font-size="5.0" text-anchor="start" font-weight="normal" font-family='"Liberation Serif", serif' fill="#333" >1</text>
<text x="596.2" y="263.09999999999997" font-size="5.0" text-anchor="start" font-weight="normal" font-family='"Liberation Serif", serif' fill="#333" >0</text>
<text x="640.9000000000001" y="224.0" font-size="6.6" text-anchor="middle" font-weight="bold" font-family='"Liberation Serif", serif' fill="#111" >TRDV2</text>
<g><g transform="translate(639.2,241.6) scale(0.1689,0.1636) translate(-513,-79.5)"><path d="M452.0,40.0 C453.3,37.8 458.7,35.8 463.0,35.0 C467.3,34.2 474.2,34.5 478.0,35.0 C481.8,35.5 484.3,36.2 486.0,38.0 C487.7,39.8 488.2,43.2 488.0,46.0 C487.8,48.8 485.5,51.7 485.0,55.0 C484.5,58.3 484.5,63.2 485.0,66.0 C485.5,68.8 487.0,69.7 488.0,72.0 C489.0,74.3 490.0,77.0 491.0,80.0 C492.0,83.0 493.2,86.7 494.0,90.0 C494.8,93.3 496.2,96.8 496.0,100.0 C495.8,103.2 495.7,107.2 493.0,109.0 C490.3,110.8 484.5,110.7 480.0,111.0 C475.5,111.3 469.8,112.2 466.0,111.0 C462.2,109.8 458.8,107.2 457.0,104.0 C455.2,100.8 455.2,96.0 455.0,92.0 C454.8,88.0 455.5,85.0 456.0,80.0 C456.5,75.0 458.2,67.3 458.0,62.0 C457.8,56.7 456.0,51.7 455.0,48.0 C454.0,44.3 450.7,42.2 452.0,40.0 Z" fill="#E3E3E3"/><path d="M480.0,37.0 C480.7,35.3 483.7,31.9 486.0,30.0 C488.3,28.1 491.2,26.5 494.0,25.5 C496.8,24.5 502.3,22.9 503.0,24.0 C503.7,25.1 499.5,29.3 498.0,32.0 C496.5,34.7 495.7,38.5 494.0,40.0 C492.3,41.5 490.0,41.0 488.0,41.0 C486.0,41.0 483.3,40.7 482.0,40.0 C480.7,39.3 479.3,38.7 480.0,37.0 Z" fill="#E3E3E3"/><path d="M566.0,70.0 C568.5,68.7 574.0,70.7 578.0,72.0 C582.0,73.3 586.7,75.7 590.0,78.0 C593.3,80.3 597.3,82.8 598.0,86.0 C598.7,89.2 596.0,94.5 594.0,97.0 C592.0,99.5 589.0,100.7 586.0,101.0 C583.0,101.3 579.3,99.5 576.0,99.0 C572.7,98.5 568.3,99.2 566.0,98.0 C563.7,96.8 562.5,95.0 562.0,92.0 C561.5,89.0 562.3,83.7 563.0,80.0 C563.7,76.3 563.5,71.3 566.0,70.0 Z" fill="#E3E3E3"/><path d="M424.8,90.5 C425.3,88.3 427.3,85.4 428.8,84.0 C430.3,82.6 432.0,82.5 434.0,82.0 C436.0,81.5 438.5,81.2 441.0,81.0 C443.5,80.8 446.7,80.5 449.2,80.8 C451.7,81.1 454.4,81.5 456.0,83.0 C457.6,84.5 458.3,87.7 459.0,90.0 C459.7,92.3 459.3,94.7 460.0,97.0 C460.7,99.3 462.0,101.7 463.0,104.0 C464.0,106.3 467.3,109.5 466.0,111.0 C464.7,112.5 459.3,112.6 455.0,113.0 C450.7,113.4 443.9,113.7 440.0,113.5 C436.1,113.3 433.8,113.4 431.7,112.0 C429.6,110.6 428.4,107.5 427.5,105.0 C426.6,102.5 426.4,99.4 426.0,97.0 C425.6,94.6 424.3,92.7 424.8,90.5 Z" fill="#E0E0E0"/><path d="M431.0,108.0 C433.3,106.0 440.5,106.6 445.0,106.3 C449.5,106.0 454.5,105.9 458.0,106.0 C461.5,106.1 464.2,105.8 466.0,107.0 C467.8,108.2 468.8,111.3 469.0,113.5 C469.2,115.7 468.1,118.2 467.0,120.0 C465.9,121.8 465.0,123.3 462.5,124.3 C460.0,125.3 455.6,125.9 452.0,126.2 C448.4,126.5 443.9,126.5 441.0,126.2 C438.1,125.9 436.2,125.6 434.5,124.2 C432.8,122.8 431.6,120.7 431.0,118.0 C430.4,115.3 428.7,110.0 431.0,108.0 Z" fill="#E0E0E0"/><path d="M433.5,44.2 C434.3,42.7 435.6,41.4 437.0,40.5 C438.4,39.6 440.0,39.0 442.0,38.6 C444.0,38.2 447.0,37.9 449.2,38.2 C451.4,38.5 453.1,39.4 455.0,40.5 C456.9,41.6 459.0,43.1 460.5,45.0 C462.0,46.9 463.2,49.8 463.8,52.0 C464.4,54.2 464.2,55.7 464.0,58.0 C463.8,60.3 463.1,63.3 462.8,66.0 C462.5,68.7 462.3,71.5 462.0,74.0 C461.7,76.5 461.8,79.0 461.0,81.0 C460.2,83.0 458.8,85.2 457.0,86.0 C455.2,86.8 452.0,86.8 450.0,86.0 C448.0,85.2 446.5,83.3 445.0,81.0 C443.5,78.7 442.2,75.0 441.0,72.0 C439.8,69.0 438.8,65.7 437.5,63.0 C436.2,60.3 434.4,58.2 433.5,56.0 C432.6,53.8 432.3,51.5 432.3,49.5 C432.3,47.5 432.7,45.7 433.5,44.2 Z" fill="#E0E0E0"/><path d="M438.5,58.0 C439.6,55.6 444.1,55.9 447.0,55.5 C449.9,55.1 453.2,55.1 456.0,55.5 C458.8,55.9 462.4,54.9 463.5,58.0 C464.6,61.1 462.9,70.2 462.5,74.0 C462.1,77.8 461.9,78.9 461.0,81.0 C460.1,83.1 458.8,85.6 457.0,86.5 C455.2,87.4 452.0,87.2 450.0,86.5 C448.0,85.8 446.6,84.8 445.0,82.0 C443.4,79.2 441.6,74.0 440.5,70.0 C439.4,66.0 437.4,60.4 438.5,58.0 Z" fill="#E0E0E0"/><path d="M449.5,38.5 C448.8,37.1 450.1,34.5 451.0,32.5 C451.9,30.5 453.6,28.2 455.0,26.5 C456.4,24.8 457.9,23.3 459.5,22.0 C461.1,20.7 462.4,18.9 464.5,18.5 C466.6,18.1 469.2,18.7 472.0,19.5 C474.8,20.3 479.3,22.2 481.5,23.5 C483.7,24.8 484.6,25.9 485.0,27.5 C485.4,29.1 484.7,31.2 484.0,33.0 C483.3,34.8 482.3,37.1 481.0,38.5 C479.7,39.9 477.7,40.2 476.0,41.5 C474.3,42.8 472.4,44.2 471.0,46.0 C469.6,47.8 468.5,50.2 467.5,52.0 C466.5,53.8 465.8,57.0 465.0,57.0 C464.2,57.0 463.3,54.0 462.5,52.0 C461.7,50.0 461.2,46.8 460.0,45.0 C458.8,43.2 456.8,42.1 455.0,41.0 C453.2,39.9 450.2,39.9 449.5,38.5 Z" fill="#E0E0E0"/><path d="M463.5,19.5 C463.3,18.5 464.5,17.1 466.0,16.0 C467.5,14.9 469.8,13.7 472.6,13.0 C475.4,12.3 479.4,11.7 482.8,11.6 C486.2,11.5 489.8,11.6 493.0,12.3 C496.2,13.0 499.1,14.5 501.8,15.6 C504.5,16.6 507.1,17.7 509.0,18.6 C510.9,19.5 513.6,20.4 513.4,21.2 C513.2,22.0 510.0,22.7 507.6,23.2 C505.2,23.7 501.2,23.6 498.8,24.0 C496.4,24.4 494.9,24.6 493.0,25.4 C491.1,26.2 488.9,27.6 487.2,29.0 C485.5,30.4 484.1,33.3 482.8,33.5 C481.5,33.7 481.0,31.4 479.5,30.0 C478.0,28.6 476.1,26.3 474.0,25.0 C471.9,23.7 468.8,22.9 467.0,22.0 C465.2,21.1 463.7,20.5 463.5,19.5 Z" fill="#E0E0E0"/><path d="M476.0,40.5 C476.9,39.3 480.6,38.6 482.8,38.6 C485.0,38.6 487.2,39.6 489.0,40.5 C490.8,41.4 492.6,42.5 493.8,44.0 C495.1,45.5 495.9,47.5 496.5,49.5 C497.1,51.5 497.5,53.9 497.5,56.0 C497.5,58.1 497.1,60.3 496.5,62.0 C495.9,63.7 495.1,64.8 493.8,66.0 C492.5,67.2 490.2,68.3 488.6,69.0 C487.0,69.7 485.4,70.3 484.0,70.0 C482.6,69.7 480.9,68.7 480.5,67.0 C480.1,65.3 481.6,62.5 481.5,60.0 C481.4,57.5 480.7,54.3 480.0,52.0 C479.3,49.7 478.2,47.9 477.5,46.0 C476.8,44.1 475.1,41.7 476.0,40.5 Z" fill="#9E90F5"/><ellipse cx="472" cy="62" rx="5.5" ry="4.5" fill="#E0E0E0"/><ellipse cx="491.5" cy="34.5" rx="4.5" ry="3" fill="#E0E0E0" transform="rotate(-25 491.5 34.5)"/><path d="M468.2,76.5 C467.9,75.3 469.7,73.9 471.0,73.2 C472.3,72.5 474.2,72.4 476.0,72.2 C477.8,72.0 480.2,71.9 482.0,72.2 C483.8,72.5 485.5,73.1 486.5,73.8 C487.5,74.5 488.1,75.5 488.0,76.5 C487.9,77.5 487.3,78.8 486.0,79.5 C484.7,80.2 482.2,80.6 480.0,80.8 C477.8,81.0 475.0,81.2 473.0,80.5 C471.0,79.8 468.5,77.7 468.2,76.5 Z" fill="#E0E0E0"/><path d="M462.3,89.0 C462.8,87.7 464.4,86.6 466.0,86.0 C467.6,85.4 470.0,85.5 472.0,85.5 C474.0,85.5 476.2,85.5 478.0,86.0 C479.8,86.5 481.3,87.6 483.0,88.5 C484.7,89.4 486.4,90.4 488.0,91.5 C489.6,92.6 491.6,93.6 492.5,95.0 C493.4,96.4 493.9,98.7 493.5,100.0 C493.1,101.3 491.8,102.6 490.0,103.0 C488.2,103.4 485.5,103.0 483.0,102.5 C480.5,102.0 477.7,100.8 475.0,100.0 C472.3,99.2 469.0,99.0 467.0,98.0 C465.0,97.0 463.8,95.5 463.0,94.0 C462.2,92.5 461.8,90.3 462.3,89.0 Z" fill="#E0E0E0"/><ellipse cx="468" cy="100.2" rx="7.3" ry="5.8" fill="#E0E0E0"/><ellipse cx="484.5" cy="103.8" rx="8" ry="4.5" fill="#E0E0E0"/><path d="M468.5,113.0 C468.9,111.8 469.6,110.2 471.0,109.5 C472.4,108.8 474.7,109.0 477.0,108.8 C479.3,108.6 482.3,108.4 485.0,108.5 C487.7,108.6 490.8,108.8 493.0,109.5 C495.2,110.2 497.4,111.4 498.5,113.0 C499.6,114.6 499.9,117.2 499.8,119.0 C499.7,120.8 499.2,122.6 498.0,124.0 C496.8,125.4 494.8,126.7 492.5,127.3 C490.2,127.9 486.7,128.1 484.0,127.8 C481.3,127.5 478.6,126.6 476.5,125.5 C474.4,124.4 472.8,122.4 471.5,121.0 C470.2,119.6 469.0,118.3 468.5,117.0 C468.0,115.7 468.1,114.2 468.5,113.0 Z" fill="#E0E0E0"/><path d="M568.5,53.0 C569.2,50.8 571.8,49.5 574.0,48.2 C576.2,46.9 579.0,45.8 582.0,45.0 C585.0,44.2 588.2,43.8 592.0,43.6 C595.8,43.4 601.3,43.4 605.0,44.0 C608.7,44.6 611.4,45.9 614.0,47.4 C616.6,48.9 618.7,50.9 620.5,53.2 C622.3,55.6 624.3,58.7 625.0,61.5 C625.7,64.3 625.3,67.2 624.8,70.0 C624.3,72.8 623.3,75.6 622.0,78.0 C620.7,80.4 619.7,83.1 617.0,84.5 C614.3,85.9 609.7,86.1 606.0,86.3 C602.3,86.5 598.2,86.3 595.0,85.5 C591.8,84.7 589.5,83.1 587.0,81.5 C584.5,79.9 582.2,78.0 580.0,76.0 C577.8,74.0 575.7,71.9 574.0,69.5 C572.3,67.1 570.9,64.2 570.0,61.5 C569.1,58.8 567.8,55.2 568.5,53.0 Z" fill="#E0E0E0"/><path d="M584.0,89.0 C584.9,87.6 588.3,86.9 591.0,86.4 C593.7,85.9 596.8,85.9 600.0,85.8 C603.2,85.7 607.2,85.6 610.0,85.6 C612.8,85.6 615.2,84.8 616.5,86.0 C617.8,87.2 617.6,90.5 617.6,93.0 C617.6,95.5 617.7,98.7 616.8,101.0 C615.9,103.3 614.1,105.5 612.0,106.8 C609.9,108.1 606.7,108.8 604.0,108.8 C601.3,108.8 598.3,108.1 596.0,106.8 C593.7,105.5 591.8,103.0 590.0,101.0 C588.2,99.0 586.5,97.0 585.5,95.0 C584.5,93.0 583.1,90.4 584.0,89.0 Z" fill="#E0E0E0"/><path d="M553.5,60.0 C553.9,58.6 555.4,57.1 557.0,56.3 C558.6,55.5 560.8,55.2 563.0,55.0 C565.2,54.8 568.0,54.8 570.0,55.3 C572.0,55.8 574.5,56.5 575.0,58.0 C575.5,59.5 574.5,62.4 573.0,64.0 C571.5,65.6 568.4,67.2 566.0,67.8 C563.6,68.4 560.4,68.0 558.5,67.5 C556.6,67.0 555.3,65.8 554.5,64.5 C553.7,63.2 553.1,61.4 553.5,60.0 Z" fill="#E0E0E0"/><path d="M541.7,70.4 C541.7,69.5 545.8,69.6 548.0,69.3 C550.2,69.0 552.7,68.4 555.0,68.4 C557.3,68.4 559.5,68.7 562.0,69.5 C564.5,70.3 567.7,71.7 570.0,73.0 C572.3,74.3 575.7,76.2 576.0,77.5 C576.3,78.8 573.8,79.7 572.0,80.5 C570.2,81.3 567.2,82.3 565.0,82.6 C562.8,82.9 561.0,83.0 559.0,82.5 C557.0,82.0 554.8,80.8 553.0,79.5 C551.2,78.2 549.9,76.5 548.0,75.0 C546.1,73.5 541.7,71.4 541.7,70.4 Z" fill="#E0E0E0"/><path d="M569.5,67.5 C569.7,66.0 570.8,64.5 572.0,63.8 C573.2,63.1 575.6,62.8 577.0,63.2 C578.4,63.6 580.0,64.8 580.5,66.0 C581.0,67.2 581.0,69.3 580.2,70.5 C579.5,71.7 577.5,72.6 576.0,73.0 C574.5,73.4 572.1,73.7 571.0,72.8 C569.9,71.9 569.3,69.0 569.5,67.5 Z" fill="#E0E0E0"/><path d="M585.0,77.5 C585.6,78.1 583.7,80.2 582.0,82.0 C580.3,83.8 577.2,86.4 575.0,88.5 C572.8,90.6 570.9,92.8 569.0,94.5 C567.1,96.2 564.8,98.2 563.5,98.5 C562.2,98.8 561.1,97.8 561.5,96.5 C561.9,95.2 564.2,93.1 566.0,91.0 C567.8,88.9 569.9,86.1 572.0,84.0 C574.1,81.9 576.3,79.6 578.5,78.5 C580.7,77.4 584.4,76.9 585.0,77.5 Z" fill="#E0E0E0"/><path d="M580.0,90.5 C580.9,90.3 583.5,90.8 585.0,91.5 C586.5,92.2 588.5,93.7 589.0,94.5 C589.5,95.3 589.0,96.4 588.0,96.5 C587.0,96.6 584.4,95.7 583.0,95.0 C581.6,94.3 580.0,93.2 579.5,92.5 C579.0,91.8 579.1,90.7 580.0,90.5 Z" fill="#E0E0E0"/><ellipse cx="594.6" cy="85.4" rx="2.6" ry="1.6" fill="#E0E0E0"/><path d="M537.5,101.5 C537.9,100.6 539.4,99.5 541.0,99.0 C542.6,98.5 545.0,98.4 547.0,98.5 C549.0,98.6 551.2,98.9 553.0,99.5 C554.8,100.1 556.6,100.8 558.0,102.0 C559.4,103.2 561.1,105.0 561.5,106.5 C561.9,108.0 561.4,110.7 560.5,110.8 C559.6,110.9 557.8,107.9 556.0,107.0 C554.2,106.1 552.2,105.8 550.0,105.5 C547.8,105.2 544.9,105.7 543.0,105.5 C541.1,105.3 539.4,105.2 538.5,104.5 C537.6,103.8 537.1,102.4 537.5,101.5 Z" fill="#E0E0E0"/><ellipse cx="516" cy="81" rx="2.6" ry="2.2" fill="#E0E0E0"/><ellipse cx="586" cy="137.2" rx="2.3" ry="1.7" fill="#E0E0E0"/><path d="M538.5,118.5 C539.6,118.7 542.8,119.8 545.0,120.5 C547.2,121.2 550.9,122.4 552.0,123.0 C553.1,123.6 552.8,124.2 551.5,124.0 C550.2,123.8 546.2,122.5 544.0,121.8 C541.8,121.0 539.4,120.0 538.5,119.5 C537.6,119.0 537.4,118.3 538.5,118.5 Z" fill="#E0E0E0"/><path d="M516.0,166.0 C517.0,164.3 521.3,162.6 524.0,161.0 C526.7,159.4 529.5,157.8 532.0,156.5 C534.5,155.2 536.5,152.8 539.0,153.0 C541.5,153.2 545.8,156.0 547.0,158.0 C548.2,160.0 547.5,163.0 546.0,165.0 C544.5,167.0 541.2,168.8 538.0,170.0 C534.8,171.2 530.3,172.3 527.0,172.5 C523.7,172.7 519.8,172.1 518.0,171.0 C516.2,169.9 515.0,167.7 516.0,166.0 Z" fill="#E0E0E0"/><path d="M534.5,151.0 C535.2,149.0 536.9,147.1 538.0,146.0 C539.1,144.9 539.8,144.4 541.0,144.5 C542.2,144.6 543.6,145.7 545.0,146.5 C546.4,147.3 548.1,148.5 549.5,149.5 C550.9,150.5 552.2,151.3 553.5,152.5 C554.8,153.7 556.8,155.2 557.2,156.5 C557.6,157.8 557.0,159.2 556.0,160.5 C555.0,161.8 552.7,163.0 551.0,164.0 C549.3,165.0 547.8,165.9 546.0,166.5 C544.2,167.1 541.8,167.8 540.0,167.5 C538.2,167.2 536.1,166.6 535.0,165.0 C533.9,163.4 533.6,160.3 533.5,158.0 C533.4,155.7 533.8,153.0 534.5,151.0 Z" fill="#E0E0E0"/><ellipse cx="525.5" cy="170.5" rx="14" ry="5.6" fill="#E0E0E0" transform="rotate(-8 525.5 170.5)"/><path d="M520.0,162.0 C520.5,161.2 522.6,159.6 524.0,158.5 C525.4,157.4 527.6,155.8 528.5,155.5 C529.4,155.2 530.1,156.1 529.5,157.0 C528.9,157.9 526.4,159.9 525.0,161.0 C523.6,162.1 521.8,163.3 521.0,163.5 C520.2,163.7 519.5,162.8 520.0,162.0 Z" fill="#E0E0E0"/><path d="M551.0,148.5 C551.7,147.8 554.2,146.2 556.0,145.0 C557.8,143.8 560.4,141.9 561.5,141.5 C562.6,141.1 563.2,141.7 562.5,142.5 C561.8,143.3 559.2,145.3 557.5,146.5 C555.8,147.7 553.1,149.2 552.0,149.5 C550.9,149.8 550.3,149.2 551.0,148.5 Z" fill="#E0E0E0"/><ellipse cx="531.5" cy="160.8" rx="2.5" ry="1.8" fill="#E0E0E0"/></g></g>
<path d="M620.9000000000001,229.0 V260.2 H661.2" fill="none" stroke="#333" stroke-width="0.6"/>
<line x1="619.7" y1="230.1" x2="620.9000000000001" y2="230.1" stroke="#333" stroke-width="0.5"/>
<text x="619.2" y="231.9" font-size="5.1" text-anchor="end" font-weight="normal" font-family='"Liberation Serif", serif' fill="#333" >10</text>
<line x1="619.7" y1="235.8" x2="620.9000000000001" y2="235.8" stroke="#333" stroke-width="0.5"/>
<text x="619.2" y="237.65" font-size="5.1" text-anchor="end" font-weight="normal" font-family='"Liberation Serif", serif' fill="#333" >5</text>
<line x1="619.7" y1="241.6" x2="620.9000000000001" y2="241.6" stroke="#333" stroke-width="0.5"/>
<text x="619.2" y="243.4" font-size="5.1" text-anchor="end" font-weight="normal" font-family='"Liberation Serif", serif' fill="#333" >0</text>
<line x1="619.7" y1="247.3" x2="620.9000000000001" y2="247.3" stroke="#333" stroke-width="0.5"/>
<text x="619.2" y="249.15" font-size="5.1" text-anchor="end" font-weight="normal" font-family='"Liberation Serif", serif' fill="#333" >&#8722;5</text>
<line x1="619.7" y1="253.1" x2="620.9000000000001" y2="253.1" stroke="#333" stroke-width="0.5"/>
<text x="619.2" y="254.9" font-size="5.1" text-anchor="end" font-weight="normal" font-family='"Liberation Serif", serif' fill="#333" >&#8722;10</text>
<line x1="619.7" y1="258.9" x2="620.9000000000001" y2="258.9" stroke="#333" stroke-width="0.5"/>
<text x="619.2" y="260.65000000000003" font-size="5.1" text-anchor="end" font-weight="normal" font-family='"Liberation Serif", serif' fill="#333" >&#8722;15</text>
<line x1="620.9" y1="260.2" x2="620.9" y2="261.4" stroke="#333" stroke-width="0.5"/>
<line x1="630.1" y1="260.2" x2="630.1" y2="261.4" stroke="#333" stroke-width="0.5"/>
<line x1="639.3" y1="260.2" x2="639.3" y2="261.4" stroke="#333" stroke-width="0.5"/>
<line x1="648.5" y1="260.2" x2="648.5" y2="261.4" stroke="#333" stroke-width="0.5"/>
<line x1="657.7" y1="260.2" x2="657.7" y2="261.4" stroke="#333" stroke-width="0.5"/>
<text x="617.1000000000001" y="267.0" font-size="5.1" text-anchor="start" font-weight="normal" font-family='"Liberation Serif", serif' fill="#333" >&#8722;10&#8722;5 0 5 10</text>
<text x="639.7" y="273.6" font-size="5.4" text-anchor="middle" font-weight="normal" font-family='"Liberation Serif", serif' fill="#333" >umap_1</text>
<text x="0" y="0" font-size="5.6" text-anchor="middle" font-weight="normal" font-family='"Liberation Serif", serif' fill="#333" transform="translate(609.4000000000001,245.5) rotate(-90)">umap_2</text>
<rect x="667.1" y="227.2" width="6" height="33.9" fill="url(#cbar)"/>
<text x="675.9000000000001" y="228.89999999999998" font-size="5.0" text-anchor="start" font-weight="normal" font-family='"Liberation Serif", serif' fill="#333" >3</text>
<text x="675.9000000000001" y="240.29999999999998" font-size="5.0" text-anchor="start" font-weight="normal" font-family='"Liberation Serif", serif' fill="#333" >2</text>
<text x="675.9000000000001" y="251.7" font-size="5.0" text-anchor="start" font-weight="normal" font-family='"Liberation Serif", serif' fill="#333" >1</text>
<text x="675.9000000000001" y="263.09999999999997" font-size="5.0" text-anchor="start" font-weight="normal" font-family='"Liberation Serif", serif' fill="#333" >0</text>
<text x="401.8" y="287.1" font-size="6.6" text-anchor="middle" font-weight="bold" font-family='"Liberation Serif", serif' fill="#111" >CD79A</text>
<g><g transform="translate(400.1,304.7) scale(0.1689,0.1636) translate(-513,-79.5)"><path d="M452.0,40.0 C453.3,37.8 458.7,35.8 463.0,35.0 C467.3,34.2 474.2,34.5 478.0,35.0 C481.8,35.5 484.3,36.2 486.0,38.0 C487.7,39.8 488.2,43.2 488.0,46.0 C487.8,48.8 485.5,51.7 485.0,55.0 C484.5,58.3 484.5,63.2 485.0,66.0 C485.5,68.8 487.0,69.7 488.0,72.0 C489.0,74.3 490.0,77.0 491.0,80.0 C492.0,83.0 493.2,86.7 494.0,90.0 C494.8,93.3 496.2,96.8 496.0,100.0 C495.8,103.2 495.7,107.2 493.0,109.0 C490.3,110.8 484.5,110.7 480.0,111.0 C475.5,111.3 469.8,112.2 466.0,111.0 C462.2,109.8 458.8,107.2 457.0,104.0 C455.2,100.8 455.2,96.0 455.0,92.0 C454.8,88.0 455.5,85.0 456.0,80.0 C456.5,75.0 458.2,67.3 458.0,62.0 C457.8,56.7 456.0,51.7 455.0,48.0 C454.0,44.3 450.7,42.2 452.0,40.0 Z" fill="#E3E3E3"/><path d="M480.0,37.0 C480.7,35.3 483.7,31.9 486.0,30.0 C488.3,28.1 491.2,26.5 494.0,25.5 C496.8,24.5 502.3,22.9 503.0,24.0 C503.7,25.1 499.5,29.3 498.0,32.0 C496.5,34.7 495.7,38.5 494.0,40.0 C492.3,41.5 490.0,41.0 488.0,41.0 C486.0,41.0 483.3,40.7 482.0,40.0 C480.7,39.3 479.3,38.7 480.0,37.0 Z" fill="#E3E3E3"/><path d="M566.0,70.0 C568.5,68.7 574.0,70.7 578.0,72.0 C582.0,73.3 586.7,75.7 590.0,78.0 C593.3,80.3 597.3,82.8 598.0,86.0 C598.7,89.2 596.0,94.5 594.0,97.0 C592.0,99.5 589.0,100.7 586.0,101.0 C583.0,101.3 579.3,99.5 576.0,99.0 C572.7,98.5 568.3,99.2 566.0,98.0 C563.7,96.8 562.5,95.0 562.0,92.0 C561.5,89.0 562.3,83.7 563.0,80.0 C563.7,76.3 563.5,71.3 566.0,70.0 Z" fill="#E3E3E3"/><path d="M424.8,90.5 C425.3,88.3 427.3,85.4 428.8,84.0 C430.3,82.6 432.0,82.5 434.0,82.0 C436.0,81.5 438.5,81.2 441.0,81.0 C443.5,80.8 446.7,80.5 449.2,80.8 C451.7,81.1 454.4,81.5 456.0,83.0 C457.6,84.5 458.3,87.7 459.0,90.0 C459.7,92.3 459.3,94.7 460.0,97.0 C460.7,99.3 462.0,101.7 463.0,104.0 C464.0,106.3 467.3,109.5 466.0,111.0 C464.7,112.5 459.3,112.6 455.0,113.0 C450.7,113.4 443.9,113.7 440.0,113.5 C436.1,113.3 433.8,113.4 431.7,112.0 C429.6,110.6 428.4,107.5 427.5,105.0 C426.6,102.5 426.4,99.4 426.0,97.0 C425.6,94.6 424.3,92.7 424.8,90.5 Z" fill="#E0E0E0"/><path d="M431.0,108.0 C433.3,106.0 440.5,106.6 445.0,106.3 C449.5,106.0 454.5,105.9 458.0,106.0 C461.5,106.1 464.2,105.8 466.0,107.0 C467.8,108.2 468.8,111.3 469.0,113.5 C469.2,115.7 468.1,118.2 467.0,120.0 C465.9,121.8 465.0,123.3 462.5,124.3 C460.0,125.3 455.6,125.9 452.0,126.2 C448.4,126.5 443.9,126.5 441.0,126.2 C438.1,125.9 436.2,125.6 434.5,124.2 C432.8,122.8 431.6,120.7 431.0,118.0 C430.4,115.3 428.7,110.0 431.0,108.0 Z" fill="#E0E0E0"/><path d="M433.5,44.2 C434.3,42.7 435.6,41.4 437.0,40.5 C438.4,39.6 440.0,39.0 442.0,38.6 C444.0,38.2 447.0,37.9 449.2,38.2 C451.4,38.5 453.1,39.4 455.0,40.5 C456.9,41.6 459.0,43.1 460.5,45.0 C462.0,46.9 463.2,49.8 463.8,52.0 C464.4,54.2 464.2,55.7 464.0,58.0 C463.8,60.3 463.1,63.3 462.8,66.0 C462.5,68.7 462.3,71.5 462.0,74.0 C461.7,76.5 461.8,79.0 461.0,81.0 C460.2,83.0 458.8,85.2 457.0,86.0 C455.2,86.8 452.0,86.8 450.0,86.0 C448.0,85.2 446.5,83.3 445.0,81.0 C443.5,78.7 442.2,75.0 441.0,72.0 C439.8,69.0 438.8,65.7 437.5,63.0 C436.2,60.3 434.4,58.2 433.5,56.0 C432.6,53.8 432.3,51.5 432.3,49.5 C432.3,47.5 432.7,45.7 433.5,44.2 Z" fill="#E0E0E0"/><path d="M438.5,58.0 C439.6,55.6 444.1,55.9 447.0,55.5 C449.9,55.1 453.2,55.1 456.0,55.5 C458.8,55.9 462.4,54.9 463.5,58.0 C464.6,61.1 462.9,70.2 462.5,74.0 C462.1,77.8 461.9,78.9 461.0,81.0 C460.1,83.1 458.8,85.6 457.0,86.5 C455.2,87.4 452.0,87.2 450.0,86.5 C448.0,85.8 446.6,84.8 445.0,82.0 C443.4,79.2 441.6,74.0 440.5,70.0 C439.4,66.0 437.4,60.4 438.5,58.0 Z" fill="#E0E0E0"/><path d="M449.5,38.5 C448.8,37.1 450.1,34.5 451.0,32.5 C451.9,30.5 453.6,28.2 455.0,26.5 C456.4,24.8 457.9,23.3 459.5,22.0 C461.1,20.7 462.4,18.9 464.5,18.5 C466.6,18.1 469.2,18.7 472.0,19.5 C474.8,20.3 479.3,22.2 481.5,23.5 C483.7,24.8 484.6,25.9 485.0,27.5 C485.4,29.1 484.7,31.2 484.0,33.0 C483.3,34.8 482.3,37.1 481.0,38.5 C479.7,39.9 477.7,40.2 476.0,41.5 C474.3,42.8 472.4,44.2 471.0,46.0 C469.6,47.8 468.5,50.2 467.5,52.0 C466.5,53.8 465.8,57.0 465.0,57.0 C464.2,57.0 463.3,54.0 462.5,52.0 C461.7,50.0 461.2,46.8 460.0,45.0 C458.8,43.2 456.8,42.1 455.0,41.0 C453.2,39.9 450.2,39.9 449.5,38.5 Z" fill="#E0E0E0"/><path d="M463.5,19.5 C463.3,18.5 464.5,17.1 466.0,16.0 C467.5,14.9 469.8,13.7 472.6,13.0 C475.4,12.3 479.4,11.7 482.8,11.6 C486.2,11.5 489.8,11.6 493.0,12.3 C496.2,13.0 499.1,14.5 501.8,15.6 C504.5,16.6 507.1,17.7 509.0,18.6 C510.9,19.5 513.6,20.4 513.4,21.2 C513.2,22.0 510.0,22.7 507.6,23.2 C505.2,23.7 501.2,23.6 498.8,24.0 C496.4,24.4 494.9,24.6 493.0,25.4 C491.1,26.2 488.9,27.6 487.2,29.0 C485.5,30.4 484.1,33.3 482.8,33.5 C481.5,33.7 481.0,31.4 479.5,30.0 C478.0,28.6 476.1,26.3 474.0,25.0 C471.9,23.7 468.8,22.9 467.0,22.0 C465.2,21.1 463.7,20.5 463.5,19.5 Z" fill="#E0E0E0"/><path d="M476.0,40.5 C476.9,39.3 480.6,38.6 482.8,38.6 C485.0,38.6 487.2,39.6 489.0,40.5 C490.8,41.4 492.6,42.5 493.8,44.0 C495.1,45.5 495.9,47.5 496.5,49.5 C497.1,51.5 497.5,53.9 497.5,56.0 C497.5,58.1 497.1,60.3 496.5,62.0 C495.9,63.7 495.1,64.8 493.8,66.0 C492.5,67.2 490.2,68.3 488.6,69.0 C487.0,69.7 485.4,70.3 484.0,70.0 C482.6,69.7 480.9,68.7 480.5,67.0 C480.1,65.3 481.6,62.5 481.5,60.0 C481.4,57.5 480.7,54.3 480.0,52.0 C479.3,49.7 478.2,47.9 477.5,46.0 C476.8,44.1 475.1,41.7 476.0,40.5 Z" fill="#E0E0E0"/><ellipse cx="472" cy="62" rx="5.5" ry="4.5" fill="#E0E0E0"/><ellipse cx="491.5" cy="34.5" rx="4.5" ry="3" fill="#E0E0E0" transform="rotate(-25 491.5 34.5)"/><path d="M468.2,76.5 C467.9,75.3 469.7,73.9 471.0,73.2 C472.3,72.5 474.2,72.4 476.0,72.2 C477.8,72.0 480.2,71.9 482.0,72.2 C483.8,72.5 485.5,73.1 486.5,73.8 C487.5,74.5 488.1,75.5 488.0,76.5 C487.9,77.5 487.3,78.8 486.0,79.5 C484.7,80.2 482.2,80.6 480.0,80.8 C477.8,81.0 475.0,81.2 473.0,80.5 C471.0,79.8 468.5,77.7 468.2,76.5 Z" fill="#E0E0E0"/><path d="M462.3,89.0 C462.8,87.7 464.4,86.6 466.0,86.0 C467.6,85.4 470.0,85.5 472.0,85.5 C474.0,85.5 476.2,85.5 478.0,86.0 C479.8,86.5 481.3,87.6 483.0,88.5 C484.7,89.4 486.4,90.4 488.0,91.5 C489.6,92.6 491.6,93.6 492.5,95.0 C493.4,96.4 493.9,98.7 493.5,100.0 C493.1,101.3 491.8,102.6 490.0,103.0 C488.2,103.4 485.5,103.0 483.0,102.5 C480.5,102.0 477.7,100.8 475.0,100.0 C472.3,99.2 469.0,99.0 467.0,98.0 C465.0,97.0 463.8,95.5 463.0,94.0 C462.2,92.5 461.8,90.3 462.3,89.0 Z" fill="#E0E0E0"/><ellipse cx="468" cy="100.2" rx="7.3" ry="5.8" fill="#E0E0E0"/><ellipse cx="484.5" cy="103.8" rx="8" ry="4.5" fill="#E0E0E0"/><path d="M468.5,113.0 C468.9,111.8 469.6,110.2 471.0,109.5 C472.4,108.8 474.7,109.0 477.0,108.8 C479.3,108.6 482.3,108.4 485.0,108.5 C487.7,108.6 490.8,108.8 493.0,109.5 C495.2,110.2 497.4,111.4 498.5,113.0 C499.6,114.6 499.9,117.2 499.8,119.0 C499.7,120.8 499.2,122.6 498.0,124.0 C496.8,125.4 494.8,126.7 492.5,127.3 C490.2,127.9 486.7,128.1 484.0,127.8 C481.3,127.5 478.6,126.6 476.5,125.5 C474.4,124.4 472.8,122.4 471.5,121.0 C470.2,119.6 469.0,118.3 468.5,117.0 C468.0,115.7 468.1,114.2 468.5,113.0 Z" fill="#E0E0E0"/><path d="M568.5,53.0 C569.2,50.8 571.8,49.5 574.0,48.2 C576.2,46.9 579.0,45.8 582.0,45.0 C585.0,44.2 588.2,43.8 592.0,43.6 C595.8,43.4 601.3,43.4 605.0,44.0 C608.7,44.6 611.4,45.9 614.0,47.4 C616.6,48.9 618.7,50.9 620.5,53.2 C622.3,55.6 624.3,58.7 625.0,61.5 C625.7,64.3 625.3,67.2 624.8,70.0 C624.3,72.8 623.3,75.6 622.0,78.0 C620.7,80.4 619.7,83.1 617.0,84.5 C614.3,85.9 609.7,86.1 606.0,86.3 C602.3,86.5 598.2,86.3 595.0,85.5 C591.8,84.7 589.5,83.1 587.0,81.5 C584.5,79.9 582.2,78.0 580.0,76.0 C577.8,74.0 575.7,71.9 574.0,69.5 C572.3,67.1 570.9,64.2 570.0,61.5 C569.1,58.8 567.8,55.2 568.5,53.0 Z" fill="#E0E0E0"/><path d="M584.0,89.0 C584.9,87.6 588.3,86.9 591.0,86.4 C593.7,85.9 596.8,85.9 600.0,85.8 C603.2,85.7 607.2,85.6 610.0,85.6 C612.8,85.6 615.2,84.8 616.5,86.0 C617.8,87.2 617.6,90.5 617.6,93.0 C617.6,95.5 617.7,98.7 616.8,101.0 C615.9,103.3 614.1,105.5 612.0,106.8 C609.9,108.1 606.7,108.8 604.0,108.8 C601.3,108.8 598.3,108.1 596.0,106.8 C593.7,105.5 591.8,103.0 590.0,101.0 C588.2,99.0 586.5,97.0 585.5,95.0 C584.5,93.0 583.1,90.4 584.0,89.0 Z" fill="#E0E0E0"/><path d="M553.5,60.0 C553.9,58.6 555.4,57.1 557.0,56.3 C558.6,55.5 560.8,55.2 563.0,55.0 C565.2,54.8 568.0,54.8 570.0,55.3 C572.0,55.8 574.5,56.5 575.0,58.0 C575.5,59.5 574.5,62.4 573.0,64.0 C571.5,65.6 568.4,67.2 566.0,67.8 C563.6,68.4 560.4,68.0 558.5,67.5 C556.6,67.0 555.3,65.8 554.5,64.5 C553.7,63.2 553.1,61.4 553.5,60.0 Z" fill="#E0E0E0"/><path d="M541.7,70.4 C541.7,69.5 545.8,69.6 548.0,69.3 C550.2,69.0 552.7,68.4 555.0,68.4 C557.3,68.4 559.5,68.7 562.0,69.5 C564.5,70.3 567.7,71.7 570.0,73.0 C572.3,74.3 575.7,76.2 576.0,77.5 C576.3,78.8 573.8,79.7 572.0,80.5 C570.2,81.3 567.2,82.3 565.0,82.6 C562.8,82.9 561.0,83.0 559.0,82.5 C557.0,82.0 554.8,80.8 553.0,79.5 C551.2,78.2 549.9,76.5 548.0,75.0 C546.1,73.5 541.7,71.4 541.7,70.4 Z" fill="#E0E0E0"/><path d="M569.5,67.5 C569.7,66.0 570.8,64.5 572.0,63.8 C573.2,63.1 575.6,62.8 577.0,63.2 C578.4,63.6 580.0,64.8 580.5,66.0 C581.0,67.2 581.0,69.3 580.2,70.5 C579.5,71.7 577.5,72.6 576.0,73.0 C574.5,73.4 572.1,73.7 571.0,72.8 C569.9,71.9 569.3,69.0 569.5,67.5 Z" fill="#E0E0E0"/><path d="M585.0,77.5 C585.6,78.1 583.7,80.2 582.0,82.0 C580.3,83.8 577.2,86.4 575.0,88.5 C572.8,90.6 570.9,92.8 569.0,94.5 C567.1,96.2 564.8,98.2 563.5,98.5 C562.2,98.8 561.1,97.8 561.5,96.5 C561.9,95.2 564.2,93.1 566.0,91.0 C567.8,88.9 569.9,86.1 572.0,84.0 C574.1,81.9 576.3,79.6 578.5,78.5 C580.7,77.4 584.4,76.9 585.0,77.5 Z" fill="#E0E0E0"/><path d="M580.0,90.5 C580.9,90.3 583.5,90.8 585.0,91.5 C586.5,92.2 588.5,93.7 589.0,94.5 C589.5,95.3 589.0,96.4 588.0,96.5 C587.0,96.6 584.4,95.7 583.0,95.0 C581.6,94.3 580.0,93.2 579.5,92.5 C579.0,91.8 579.1,90.7 580.0,90.5 Z" fill="#E0E0E0"/><ellipse cx="594.6" cy="85.4" rx="2.6" ry="1.6" fill="#E0E0E0"/><path d="M537.5,101.5 C537.9,100.6 539.4,99.5 541.0,99.0 C542.6,98.5 545.0,98.4 547.0,98.5 C549.0,98.6 551.2,98.9 553.0,99.5 C554.8,100.1 556.6,100.8 558.0,102.0 C559.4,103.2 561.1,105.0 561.5,106.5 C561.9,108.0 561.4,110.7 560.5,110.8 C559.6,110.9 557.8,107.9 556.0,107.0 C554.2,106.1 552.2,105.8 550.0,105.5 C547.8,105.2 544.9,105.7 543.0,105.5 C541.1,105.3 539.4,105.2 538.5,104.5 C537.6,103.8 537.1,102.4 537.5,101.5 Z" fill="#E0E0E0"/><ellipse cx="516" cy="81" rx="2.6" ry="2.2" fill="#E0E0E0"/><ellipse cx="586" cy="137.2" rx="2.3" ry="1.7" fill="#E0E0E0"/><path d="M538.5,118.5 C539.6,118.7 542.8,119.8 545.0,120.5 C547.2,121.2 550.9,122.4 552.0,123.0 C553.1,123.6 552.8,124.2 551.5,124.0 C550.2,123.8 546.2,122.5 544.0,121.8 C541.8,121.0 539.4,120.0 538.5,119.5 C537.6,119.0 537.4,118.3 538.5,118.5 Z" fill="#E0E0E0"/><path d="M516.0,166.0 C517.0,164.3 521.3,162.6 524.0,161.0 C526.7,159.4 529.5,157.8 532.0,156.5 C534.5,155.2 536.5,152.8 539.0,153.0 C541.5,153.2 545.8,156.0 547.0,158.0 C548.2,160.0 547.5,163.0 546.0,165.0 C544.5,167.0 541.2,168.8 538.0,170.0 C534.8,171.2 530.3,172.3 527.0,172.5 C523.7,172.7 519.8,172.1 518.0,171.0 C516.2,169.9 515.0,167.7 516.0,166.0 Z" fill="#E0E0E0"/><path d="M534.5,151.0 C535.2,149.0 536.9,147.1 538.0,146.0 C539.1,144.9 539.8,144.4 541.0,144.5 C542.2,144.6 543.6,145.7 545.0,146.5 C546.4,147.3 548.1,148.5 549.5,149.5 C550.9,150.5 552.2,151.3 553.5,152.5 C554.8,153.7 556.8,155.2 557.2,156.5 C557.6,157.8 557.0,159.2 556.0,160.5 C555.0,161.8 552.7,163.0 551.0,164.0 C549.3,165.0 547.8,165.9 546.0,166.5 C544.2,167.1 541.8,167.8 540.0,167.5 C538.2,167.2 536.1,166.6 535.0,165.0 C533.9,163.4 533.6,160.3 533.5,158.0 C533.4,155.7 533.8,153.0 534.5,151.0 Z" fill="#9D8CF0"/><ellipse cx="525.5" cy="170.5" rx="14" ry="5.6" fill="#9D8CF0" transform="rotate(-8 525.5 170.5)"/><path d="M520.0,162.0 C520.5,161.2 522.6,159.6 524.0,158.5 C525.4,157.4 527.6,155.8 528.5,155.5 C529.4,155.2 530.1,156.1 529.5,157.0 C528.9,157.9 526.4,159.9 525.0,161.0 C523.6,162.1 521.8,163.3 521.0,163.5 C520.2,163.7 519.5,162.8 520.0,162.0 Z" fill="#9D8CF0"/><path d="M551.0,148.5 C551.7,147.8 554.2,146.2 556.0,145.0 C557.8,143.8 560.4,141.9 561.5,141.5 C562.6,141.1 563.2,141.7 562.5,142.5 C561.8,143.3 559.2,145.3 557.5,146.5 C555.8,147.7 553.1,149.2 552.0,149.5 C550.9,149.8 550.3,149.2 551.0,148.5 Z" fill="#9D8CF0"/><ellipse cx="531.5" cy="160.8" rx="2.5" ry="1.8" fill="#9D8CF0"/></g></g>
<path d="M381.8,292.1 V323.3 H422.1" fill="none" stroke="#333" stroke-width="0.6"/>
<line x1="380.6" y1="293.2" x2="381.8" y2="293.2" stroke="#333" stroke-width="0.5"/>
<text x="380.1" y="295.0" font-size="5.1" text-anchor="end" font-weight="normal" font-family='"Liberation Serif", serif' fill="#333" >10</text>
<line x1="380.6" y1="298.9" x2="381.8" y2="298.9" stroke="#333" stroke-width="0.5"/>
<text x="380.1" y="300.75" font-size="5.1" text-anchor="end" font-weight="normal" font-family='"Liberation Serif", serif' fill="#333" >5</text>
<line x1="380.6" y1="304.7" x2="381.8" y2="304.7" stroke="#333" stroke-width="0.5"/>
<text x="380.1" y="306.5" font-size="5.1" text-anchor="end" font-weight="normal" font-family='"Liberation Serif", serif' fill="#333" >0</text>
<line x1="380.6" y1="310.4" x2="381.8" y2="310.4" stroke="#333" stroke-width="0.5"/>
<text x="380.1" y="312.25" font-size="5.1" text-anchor="end" font-weight="normal" font-family='"Liberation Serif", serif' fill="#333" >&#8722;5</text>
<line x1="380.6" y1="316.2" x2="381.8" y2="316.2" stroke="#333" stroke-width="0.5"/>
<text x="380.1" y="318.0" font-size="5.1" text-anchor="end" font-weight="normal" font-family='"Liberation Serif", serif' fill="#333" >&#8722;10</text>
<line x1="380.6" y1="321.9" x2="381.8" y2="321.9" stroke="#333" stroke-width="0.5"/>
<text x="380.1" y="323.75" font-size="5.1" text-anchor="end" font-weight="normal" font-family='"Liberation Serif", serif' fill="#333" >&#8722;15</text>
<line x1="381.8" y1="323.3" x2="381.8" y2="324.5" stroke="#333" stroke-width="0.5"/>
<line x1="391.0" y1="323.3" x2="391.0" y2="324.5" stroke="#333" stroke-width="0.5"/>
<line x1="400.2" y1="323.3" x2="400.2" y2="324.5" stroke="#333" stroke-width="0.5"/>
<line x1="409.4" y1="323.3" x2="409.4" y2="324.5" stroke="#333" stroke-width="0.5"/>
<line x1="418.6" y1="323.3" x2="418.6" y2="324.5" stroke="#333" stroke-width="0.5"/>
<text x="378.0" y="330.1" font-size="5.1" text-anchor="start" font-weight="normal" font-family='"Liberation Serif", serif' fill="#333" >&#8722;10&#8722;5 0 5 10</text>
<text x="400.6" y="336.70000000000005" font-size="5.4" text-anchor="middle" font-weight="normal" font-family='"Liberation Serif", serif' fill="#333" >umap_1</text>
<text x="0" y="0" font-size="5.6" text-anchor="middle" font-weight="normal" font-family='"Liberation Serif", serif' fill="#333" transform="translate(370.3,308.6) rotate(-90)">umap_2</text>
<rect x="428.0" y="290.3" width="6" height="33.9" fill="url(#cbar)"/>
<text x="436.8" y="292.0" font-size="5.0" text-anchor="start" font-weight="normal" font-family='"Liberation Serif", serif' fill="#333" >3</text>
<text x="436.8" y="303.4" font-size="5.0" text-anchor="start" font-weight="normal" font-family='"Liberation Serif", serif' fill="#333" >2</text>
<text x="436.8" y="314.8" font-size="5.0" text-anchor="start" font-weight="normal" font-family='"Liberation Serif", serif' fill="#333" >1</text>
<text x="436.8" y="326.2" font-size="5.0" text-anchor="start" font-weight="normal" font-family='"Liberation Serif", serif' fill="#333" >0</text>
<text x="481.5" y="287.1" font-size="6.6" text-anchor="middle" font-weight="bold" font-family='"Liberation Serif", serif' fill="#111" >JCHAIN</text>
<g><g transform="translate(479.8,304.7) scale(0.1689,0.1636) translate(-513,-79.5)"><path d="M452.0,40.0 C453.3,37.8 458.7,35.8 463.0,35.0 C467.3,34.2 474.2,34.5 478.0,35.0 C481.8,35.5 484.3,36.2 486.0,38.0 C487.7,39.8 488.2,43.2 488.0,46.0 C487.8,48.8 485.5,51.7 485.0,55.0 C484.5,58.3 484.5,63.2 485.0,66.0 C485.5,68.8 487.0,69.7 488.0,72.0 C489.0,74.3 490.0,77.0 491.0,80.0 C492.0,83.0 493.2,86.7 494.0,90.0 C494.8,93.3 496.2,96.8 496.0,100.0 C495.8,103.2 495.7,107.2 493.0,109.0 C490.3,110.8 484.5,110.7 480.0,111.0 C475.5,111.3 469.8,112.2 466.0,111.0 C462.2,109.8 458.8,107.2 457.0,104.0 C455.2,100.8 455.2,96.0 455.0,92.0 C454.8,88.0 455.5,85.0 456.0,80.0 C456.5,75.0 458.2,67.3 458.0,62.0 C457.8,56.7 456.0,51.7 455.0,48.0 C454.0,44.3 450.7,42.2 452.0,40.0 Z" fill="#E3E3E3"/><path d="M480.0,37.0 C480.7,35.3 483.7,31.9 486.0,30.0 C488.3,28.1 491.2,26.5 494.0,25.5 C496.8,24.5 502.3,22.9 503.0,24.0 C503.7,25.1 499.5,29.3 498.0,32.0 C496.5,34.7 495.7,38.5 494.0,40.0 C492.3,41.5 490.0,41.0 488.0,41.0 C486.0,41.0 483.3,40.7 482.0,40.0 C480.7,39.3 479.3,38.7 480.0,37.0 Z" fill="#E3E3E3"/><path d="M566.0,70.0 C568.5,68.7 574.0,70.7 578.0,72.0 C582.0,73.3 586.7,75.7 590.0,78.0 C593.3,80.3 597.3,82.8 598.0,86.0 C598.7,89.2 596.0,94.5 594.0,97.0 C592.0,99.5 589.0,100.7 586.0,101.0 C583.0,101.3 579.3,99.5 576.0,99.0 C572.7,98.5 568.3,99.2 566.0,98.0 C563.7,96.8 562.5,95.0 562.0,92.0 C561.5,89.0 562.3,83.7 563.0,80.0 C563.7,76.3 563.5,71.3 566.0,70.0 Z" fill="#E3E3E3"/><path d="M424.8,90.5 C425.3,88.3 427.3,85.4 428.8,84.0 C430.3,82.6 432.0,82.5 434.0,82.0 C436.0,81.5 438.5,81.2 441.0,81.0 C443.5,80.8 446.7,80.5 449.2,80.8 C451.7,81.1 454.4,81.5 456.0,83.0 C457.6,84.5 458.3,87.7 459.0,90.0 C459.7,92.3 459.3,94.7 460.0,97.0 C460.7,99.3 462.0,101.7 463.0,104.0 C464.0,106.3 467.3,109.5 466.0,111.0 C464.7,112.5 459.3,112.6 455.0,113.0 C450.7,113.4 443.9,113.7 440.0,113.5 C436.1,113.3 433.8,113.4 431.7,112.0 C429.6,110.6 428.4,107.5 427.5,105.0 C426.6,102.5 426.4,99.4 426.0,97.0 C425.6,94.6 424.3,92.7 424.8,90.5 Z" fill="#E0E0E0"/><path d="M431.0,108.0 C433.3,106.0 440.5,106.6 445.0,106.3 C449.5,106.0 454.5,105.9 458.0,106.0 C461.5,106.1 464.2,105.8 466.0,107.0 C467.8,108.2 468.8,111.3 469.0,113.5 C469.2,115.7 468.1,118.2 467.0,120.0 C465.9,121.8 465.0,123.3 462.5,124.3 C460.0,125.3 455.6,125.9 452.0,126.2 C448.4,126.5 443.9,126.5 441.0,126.2 C438.1,125.9 436.2,125.6 434.5,124.2 C432.8,122.8 431.6,120.7 431.0,118.0 C430.4,115.3 428.7,110.0 431.0,108.0 Z" fill="#E0E0E0"/><path d="M433.5,44.2 C434.3,42.7 435.6,41.4 437.0,40.5 C438.4,39.6 440.0,39.0 442.0,38.6 C444.0,38.2 447.0,37.9 449.2,38.2 C451.4,38.5 453.1,39.4 455.0,40.5 C456.9,41.6 459.0,43.1 460.5,45.0 C462.0,46.9 463.2,49.8 463.8,52.0 C464.4,54.2 464.2,55.7 464.0,58.0 C463.8,60.3 463.1,63.3 462.8,66.0 C462.5,68.7 462.3,71.5 462.0,74.0 C461.7,76.5 461.8,79.0 461.0,81.0 C460.2,83.0 458.8,85.2 457.0,86.0 C455.2,86.8 452.0,86.8 450.0,86.0 C448.0,85.2 446.5,83.3 445.0,81.0 C443.5,78.7 442.2,75.0 441.0,72.0 C439.8,69.0 438.8,65.7 437.5,63.0 C436.2,60.3 434.4,58.2 433.5,56.0 C432.6,53.8 432.3,51.5 432.3,49.5 C432.3,47.5 432.7,45.7 433.5,44.2 Z" fill="#E0E0E0"/><path d="M438.5,58.0 C439.6,55.6 444.1,55.9 447.0,55.5 C449.9,55.1 453.2,55.1 456.0,55.5 C458.8,55.9 462.4,54.9 463.5,58.0 C464.6,61.1 462.9,70.2 462.5,74.0 C462.1,77.8 461.9,78.9 461.0,81.0 C460.1,83.1 458.8,85.6 457.0,86.5 C455.2,87.4 452.0,87.2 450.0,86.5 C448.0,85.8 446.6,84.8 445.0,82.0 C443.4,79.2 441.6,74.0 440.5,70.0 C439.4,66.0 437.4,60.4 438.5,58.0 Z" fill="#E0E0E0"/><path d="M449.5,38.5 C448.8,37.1 450.1,34.5 451.0,32.5 C451.9,30.5 453.6,28.2 455.0,26.5 C456.4,24.8 457.9,23.3 459.5,22.0 C461.1,20.7 462.4,18.9 464.5,18.5 C466.6,18.1 469.2,18.7 472.0,19.5 C474.8,20.3 479.3,22.2 481.5,23.5 C483.7,24.8 484.6,25.9 485.0,27.5 C485.4,29.1 484.7,31.2 484.0,33.0 C483.3,34.8 482.3,37.1 481.0,38.5 C479.7,39.9 477.7,40.2 476.0,41.5 C474.3,42.8 472.4,44.2 471.0,46.0 C469.6,47.8 468.5,50.2 467.5,52.0 C466.5,53.8 465.8,57.0 465.0,57.0 C464.2,57.0 463.3,54.0 462.5,52.0 C461.7,50.0 461.2,46.8 460.0,45.0 C458.8,43.2 456.8,42.1 455.0,41.0 C453.2,39.9 450.2,39.9 449.5,38.5 Z" fill="#E0E0E0"/><path d="M463.5,19.5 C463.3,18.5 464.5,17.1 466.0,16.0 C467.5,14.9 469.8,13.7 472.6,13.0 C475.4,12.3 479.4,11.7 482.8,11.6 C486.2,11.5 489.8,11.6 493.0,12.3 C496.2,13.0 499.1,14.5 501.8,15.6 C504.5,16.6 507.1,17.7 509.0,18.6 C510.9,19.5 513.6,20.4 513.4,21.2 C513.2,22.0 510.0,22.7 507.6,23.2 C505.2,23.7 501.2,23.6 498.8,24.0 C496.4,24.4 494.9,24.6 493.0,25.4 C491.1,26.2 488.9,27.6 487.2,29.0 C485.5,30.4 484.1,33.3 482.8,33.5 C481.5,33.7 481.0,31.4 479.5,30.0 C478.0,28.6 476.1,26.3 474.0,25.0 C471.9,23.7 468.8,22.9 467.0,22.0 C465.2,21.1 463.7,20.5 463.5,19.5 Z" fill="#E0E0E0"/><path d="M476.0,40.5 C476.9,39.3 480.6,38.6 482.8,38.6 C485.0,38.6 487.2,39.6 489.0,40.5 C490.8,41.4 492.6,42.5 493.8,44.0 C495.1,45.5 495.9,47.5 496.5,49.5 C497.1,51.5 497.5,53.9 497.5,56.0 C497.5,58.1 497.1,60.3 496.5,62.0 C495.9,63.7 495.1,64.8 493.8,66.0 C492.5,67.2 490.2,68.3 488.6,69.0 C487.0,69.7 485.4,70.3 484.0,70.0 C482.6,69.7 480.9,68.7 480.5,67.0 C480.1,65.3 481.6,62.5 481.5,60.0 C481.4,57.5 480.7,54.3 480.0,52.0 C479.3,49.7 478.2,47.9 477.5,46.0 C476.8,44.1 475.1,41.7 476.0,40.5 Z" fill="#E0E0E0"/><ellipse cx="472" cy="62" rx="5.5" ry="4.5" fill="#E0E0E0"/><ellipse cx="491.5" cy="34.5" rx="4.5" ry="3" fill="#E0E0E0" transform="rotate(-25 491.5 34.5)"/><path d="M468.2,76.5 C467.9,75.3 469.7,73.9 471.0,73.2 C472.3,72.5 474.2,72.4 476.0,72.2 C477.8,72.0 480.2,71.9 482.0,72.2 C483.8,72.5 485.5,73.1 486.5,73.8 C487.5,74.5 488.1,75.5 488.0,76.5 C487.9,77.5 487.3,78.8 486.0,79.5 C484.7,80.2 482.2,80.6 480.0,80.8 C477.8,81.0 475.0,81.2 473.0,80.5 C471.0,79.8 468.5,77.7 468.2,76.5 Z" fill="#E0E0E0"/><path d="M462.3,89.0 C462.8,87.7 464.4,86.6 466.0,86.0 C467.6,85.4 470.0,85.5 472.0,85.5 C474.0,85.5 476.2,85.5 478.0,86.0 C479.8,86.5 481.3,87.6 483.0,88.5 C484.7,89.4 486.4,90.4 488.0,91.5 C489.6,92.6 491.6,93.6 492.5,95.0 C493.4,96.4 493.9,98.7 493.5,100.0 C493.1,101.3 491.8,102.6 490.0,103.0 C488.2,103.4 485.5,103.0 483.0,102.5 C480.5,102.0 477.7,100.8 475.0,100.0 C472.3,99.2 469.0,99.0 467.0,98.0 C465.0,97.0 463.8,95.5 463.0,94.0 C462.2,92.5 461.8,90.3 462.3,89.0 Z" fill="#E0E0E0"/><ellipse cx="468" cy="100.2" rx="7.3" ry="5.8" fill="#E0E0E0"/><ellipse cx="484.5" cy="103.8" rx="8" ry="4.5" fill="#E0E0E0"/><path d="M468.5,113.0 C468.9,111.8 469.6,110.2 471.0,109.5 C472.4,108.8 474.7,109.0 477.0,108.8 C479.3,108.6 482.3,108.4 485.0,108.5 C487.7,108.6 490.8,108.8 493.0,109.5 C495.2,110.2 497.4,111.4 498.5,113.0 C499.6,114.6 499.9,117.2 499.8,119.0 C499.7,120.8 499.2,122.6 498.0,124.0 C496.8,125.4 494.8,126.7 492.5,127.3 C490.2,127.9 486.7,128.1 484.0,127.8 C481.3,127.5 478.6,126.6 476.5,125.5 C474.4,124.4 472.8,122.4 471.5,121.0 C470.2,119.6 469.0,118.3 468.5,117.0 C468.0,115.7 468.1,114.2 468.5,113.0 Z" fill="#E0E0E0"/><path d="M568.5,53.0 C569.2,50.8 571.8,49.5 574.0,48.2 C576.2,46.9 579.0,45.8 582.0,45.0 C585.0,44.2 588.2,43.8 592.0,43.6 C595.8,43.4 601.3,43.4 605.0,44.0 C608.7,44.6 611.4,45.9 614.0,47.4 C616.6,48.9 618.7,50.9 620.5,53.2 C622.3,55.6 624.3,58.7 625.0,61.5 C625.7,64.3 625.3,67.2 624.8,70.0 C624.3,72.8 623.3,75.6 622.0,78.0 C620.7,80.4 619.7,83.1 617.0,84.5 C614.3,85.9 609.7,86.1 606.0,86.3 C602.3,86.5 598.2,86.3 595.0,85.5 C591.8,84.7 589.5,83.1 587.0,81.5 C584.5,79.9 582.2,78.0 580.0,76.0 C577.8,74.0 575.7,71.9 574.0,69.5 C572.3,67.1 570.9,64.2 570.0,61.5 C569.1,58.8 567.8,55.2 568.5,53.0 Z" fill="#E0E0E0"/><path d="M584.0,89.0 C584.9,87.6 588.3,86.9 591.0,86.4 C593.7,85.9 596.8,85.9 600.0,85.8 C603.2,85.7 607.2,85.6 610.0,85.6 C612.8,85.6 615.2,84.8 616.5,86.0 C617.8,87.2 617.6,90.5 617.6,93.0 C617.6,95.5 617.7,98.7 616.8,101.0 C615.9,103.3 614.1,105.5 612.0,106.8 C609.9,108.1 606.7,108.8 604.0,108.8 C601.3,108.8 598.3,108.1 596.0,106.8 C593.7,105.5 591.8,103.0 590.0,101.0 C588.2,99.0 586.5,97.0 585.5,95.0 C584.5,93.0 583.1,90.4 584.0,89.0 Z" fill="#E0E0E0"/><path d="M553.5,60.0 C553.9,58.6 555.4,57.1 557.0,56.3 C558.6,55.5 560.8,55.2 563.0,55.0 C565.2,54.8 568.0,54.8 570.0,55.3 C572.0,55.8 574.5,56.5 575.0,58.0 C575.5,59.5 574.5,62.4 573.0,64.0 C571.5,65.6 568.4,67.2 566.0,67.8 C563.6,68.4 560.4,68.0 558.5,67.5 C556.6,67.0 555.3,65.8 554.5,64.5 C553.7,63.2 553.1,61.4 553.5,60.0 Z" fill="#E0E0E0"/><path d="M541.7,70.4 C541.7,69.5 545.8,69.6 548.0,69.3 C550.2,69.0 552.7,68.4 555.0,68.4 C557.3,68.4 559.5,68.7 562.0,69.5 C564.5,70.3 567.7,71.7 570.0,73.0 C572.3,74.3 575.7,76.2 576.0,77.5 C576.3,78.8 573.8,79.7 572.0,80.5 C570.2,81.3 567.2,82.3 565.0,82.6 C562.8,82.9 561.0,83.0 559.0,82.5 C557.0,82.0 554.8,80.8 553.0,79.5 C551.2,78.2 549.9,76.5 548.0,75.0 C546.1,73.5 541.7,71.4 541.7,70.4 Z" fill="#E0E0E0"/><path d="M569.5,67.5 C569.7,66.0 570.8,64.5 572.0,63.8 C573.2,63.1 575.6,62.8 577.0,63.2 C578.4,63.6 580.0,64.8 580.5,66.0 C581.0,67.2 581.0,69.3 580.2,70.5 C579.5,71.7 577.5,72.6 576.0,73.0 C574.5,73.4 572.1,73.7 571.0,72.8 C569.9,71.9 569.3,69.0 569.5,67.5 Z" fill="#E0E0E0"/><path d="M585.0,77.5 C585.6,78.1 583.7,80.2 582.0,82.0 C580.3,83.8 577.2,86.4 575.0,88.5 C572.8,90.6 570.9,92.8 569.0,94.5 C567.1,96.2 564.8,98.2 563.5,98.5 C562.2,98.8 561.1,97.8 561.5,96.5 C561.9,95.2 564.2,93.1 566.0,91.0 C567.8,88.9 569.9,86.1 572.0,84.0 C574.1,81.9 576.3,79.6 578.5,78.5 C580.7,77.4 584.4,76.9 585.0,77.5 Z" fill="#E0E0E0"/><path d="M580.0,90.5 C580.9,90.3 583.5,90.8 585.0,91.5 C586.5,92.2 588.5,93.7 589.0,94.5 C589.5,95.3 589.0,96.4 588.0,96.5 C587.0,96.6 584.4,95.7 583.0,95.0 C581.6,94.3 580.0,93.2 579.5,92.5 C579.0,91.8 579.1,90.7 580.0,90.5 Z" fill="#E0E0E0"/><ellipse cx="594.6" cy="85.4" rx="2.6" ry="1.6" fill="#E0E0E0"/><path d="M537.5,101.5 C537.9,100.6 539.4,99.5 541.0,99.0 C542.6,98.5 545.0,98.4 547.0,98.5 C549.0,98.6 551.2,98.9 553.0,99.5 C554.8,100.1 556.6,100.8 558.0,102.0 C559.4,103.2 561.1,105.0 561.5,106.5 C561.9,108.0 561.4,110.7 560.5,110.8 C559.6,110.9 557.8,107.9 556.0,107.0 C554.2,106.1 552.2,105.8 550.0,105.5 C547.8,105.2 544.9,105.7 543.0,105.5 C541.1,105.3 539.4,105.2 538.5,104.5 C537.6,103.8 537.1,102.4 537.5,101.5 Z" fill="#E0E0E0"/><ellipse cx="516" cy="81" rx="2.6" ry="2.2" fill="#E0E0E0"/><ellipse cx="586" cy="137.2" rx="2.3" ry="1.7" fill="#C8C0F5"/><path d="M538.5,118.5 C539.6,118.7 542.8,119.8 545.0,120.5 C547.2,121.2 550.9,122.4 552.0,123.0 C553.1,123.6 552.8,124.2 551.5,124.0 C550.2,123.8 546.2,122.5 544.0,121.8 C541.8,121.0 539.4,120.0 538.5,119.5 C537.6,119.0 537.4,118.3 538.5,118.5 Z" fill="#E0E0E0"/><path d="M516.0,166.0 C517.0,164.3 521.3,162.6 524.0,161.0 C526.7,159.4 529.5,157.8 532.0,156.5 C534.5,155.2 536.5,152.8 539.0,153.0 C541.5,153.2 545.8,156.0 547.0,158.0 C548.2,160.0 547.5,163.0 546.0,165.0 C544.5,167.0 541.2,168.8 538.0,170.0 C534.8,171.2 530.3,172.3 527.0,172.5 C523.7,172.7 519.8,172.1 518.0,171.0 C516.2,169.9 515.0,167.7 516.0,166.0 Z" fill="#E0E0E0"/><path d="M534.5,151.0 C535.2,149.0 536.9,147.1 538.0,146.0 C539.1,144.9 539.8,144.4 541.0,144.5 C542.2,144.6 543.6,145.7 545.0,146.5 C546.4,147.3 548.1,148.5 549.5,149.5 C550.9,150.5 552.2,151.3 553.5,152.5 C554.8,153.7 556.8,155.2 557.2,156.5 C557.6,157.8 557.0,159.2 556.0,160.5 C555.0,161.8 552.7,163.0 551.0,164.0 C549.3,165.0 547.8,165.9 546.0,166.5 C544.2,167.1 541.8,167.8 540.0,167.5 C538.2,167.2 536.1,166.6 535.0,165.0 C533.9,163.4 533.6,160.3 533.5,158.0 C533.4,155.7 533.8,153.0 534.5,151.0 Z" fill="#E0E0E0"/><ellipse cx="525.5" cy="170.5" rx="14" ry="5.6" fill="#E0E0E0" transform="rotate(-8 525.5 170.5)"/><path d="M520.0,162.0 C520.5,161.2 522.6,159.6 524.0,158.5 C525.4,157.4 527.6,155.8 528.5,155.5 C529.4,155.2 530.1,156.1 529.5,157.0 C528.9,157.9 526.4,159.9 525.0,161.0 C523.6,162.1 521.8,163.3 521.0,163.5 C520.2,163.7 519.5,162.8 520.0,162.0 Z" fill="#E0E0E0"/><path d="M551.0,148.5 C551.7,147.8 554.2,146.2 556.0,145.0 C557.8,143.8 560.4,141.9 561.5,141.5 C562.6,141.1 563.2,141.7 562.5,142.5 C561.8,143.3 559.2,145.3 557.5,146.5 C555.8,147.7 553.1,149.2 552.0,149.5 C550.9,149.8 550.3,149.2 551.0,148.5 Z" fill="#E0E0E0"/><ellipse cx="531.5" cy="160.8" rx="2.5" ry="1.8" fill="#E0E0E0"/></g></g>
<path d="M461.5,292.1 V323.3 H501.8" fill="none" stroke="#333" stroke-width="0.6"/>
<line x1="460.3" y1="293.2" x2="461.5" y2="293.2" stroke="#333" stroke-width="0.5"/>
<text x="459.8" y="295.0" font-size="5.1" text-anchor="end" font-weight="normal" font-family='"Liberation Serif", serif' fill="#333" >10</text>
<line x1="460.3" y1="298.9" x2="461.5" y2="298.9" stroke="#333" stroke-width="0.5"/>
<text x="459.8" y="300.75" font-size="5.1" text-anchor="end" font-weight="normal" font-family='"Liberation Serif", serif' fill="#333" >5</text>
<line x1="460.3" y1="304.7" x2="461.5" y2="304.7" stroke="#333" stroke-width="0.5"/>
<text x="459.8" y="306.5" font-size="5.1" text-anchor="end" font-weight="normal" font-family='"Liberation Serif", serif' fill="#333" >0</text>
<line x1="460.3" y1="310.4" x2="461.5" y2="310.4" stroke="#333" stroke-width="0.5"/>
<text x="459.8" y="312.25" font-size="5.1" text-anchor="end" font-weight="normal" font-family='"Liberation Serif", serif' fill="#333" >&#8722;5</text>
<line x1="460.3" y1="316.2" x2="461.5" y2="316.2" stroke="#333" stroke-width="0.5"/>
<text x="459.8" y="318.0" font-size="5.1" text-anchor="end" font-weight="normal" font-family='"Liberation Serif", serif' fill="#333" >&#8722;10</text>
<line x1="460.3" y1="321.9" x2="461.5" y2="321.9" stroke="#333" stroke-width="0.5"/>
<text x="459.8" y="323.75" font-size="5.1" text-anchor="end" font-weight="normal" font-family='"Liberation Serif", serif' fill="#333" >&#8722;15</text>
<line x1="461.5" y1="323.3" x2="461.5" y2="324.5" stroke="#333" stroke-width="0.5"/>
<line x1="470.7" y1="323.3" x2="470.7" y2="324.5" stroke="#333" stroke-width="0.5"/>
<line x1="479.9" y1="323.3" x2="479.9" y2="324.5" stroke="#333" stroke-width="0.5"/>
<line x1="489.1" y1="323.3" x2="489.1" y2="324.5" stroke="#333" stroke-width="0.5"/>
<line x1="498.3" y1="323.3" x2="498.3" y2="324.5" stroke="#333" stroke-width="0.5"/>
<text x="457.7" y="330.1" font-size="5.1" text-anchor="start" font-weight="normal" font-family='"Liberation Serif", serif' fill="#333" >&#8722;10&#8722;5 0 5 10</text>
<text x="480.3" y="336.70000000000005" font-size="5.4" text-anchor="middle" font-weight="normal" font-family='"Liberation Serif", serif' fill="#333" >umap_1</text>
<text x="0" y="0" font-size="5.6" text-anchor="middle" font-weight="normal" font-family='"Liberation Serif", serif' fill="#333" transform="translate(450.0,308.6) rotate(-90)">umap_2</text>
<rect x="507.7" y="290.3" width="6" height="33.9" fill="url(#cbar)"/>
<text x="516.5" y="292.0" font-size="5.0" text-anchor="start" font-weight="normal" font-family='"Liberation Serif", serif' fill="#333" >3</text>
<text x="516.5" y="303.4" font-size="5.0" text-anchor="start" font-weight="normal" font-family='"Liberation Serif", serif' fill="#333" >2</text>
<text x="516.5" y="314.8" font-size="5.0" text-anchor="start" font-weight="normal" font-family='"Liberation Serif", serif' fill="#333" >1</text>
<text x="516.5" y="326.2" font-size="5.0" text-anchor="start" font-weight="normal" font-family='"Liberation Serif", serif' fill="#333" >0</text>
<text x="561.2" y="287.1" font-size="6.6" text-anchor="middle" font-weight="bold" font-family='"Liberation Serif", serif' fill="#111" >CD14</text>
<g><g transform="translate(559.5,304.7) scale(0.1689,0.1636) translate(-513,-79.5)"><path d="M452.0,40.0 C453.3,37.8 458.7,35.8 463.0,35.0 C467.3,34.2 474.2,34.5 478.0,35.0 C481.8,35.5 484.3,36.2 486.0,38.0 C487.7,39.8 488.2,43.2 488.0,46.0 C487.8,48.8 485.5,51.7 485.0,55.0 C484.5,58.3 484.5,63.2 485.0,66.0 C485.5,68.8 487.0,69.7 488.0,72.0 C489.0,74.3 490.0,77.0 491.0,80.0 C492.0,83.0 493.2,86.7 494.0,90.0 C494.8,93.3 496.2,96.8 496.0,100.0 C495.8,103.2 495.7,107.2 493.0,109.0 C490.3,110.8 484.5,110.7 480.0,111.0 C475.5,111.3 469.8,112.2 466.0,111.0 C462.2,109.8 458.8,107.2 457.0,104.0 C455.2,100.8 455.2,96.0 455.0,92.0 C454.8,88.0 455.5,85.0 456.0,80.0 C456.5,75.0 458.2,67.3 458.0,62.0 C457.8,56.7 456.0,51.7 455.0,48.0 C454.0,44.3 450.7,42.2 452.0,40.0 Z" fill="#E3E3E3"/><path d="M480.0,37.0 C480.7,35.3 483.7,31.9 486.0,30.0 C488.3,28.1 491.2,26.5 494.0,25.5 C496.8,24.5 502.3,22.9 503.0,24.0 C503.7,25.1 499.5,29.3 498.0,32.0 C496.5,34.7 495.7,38.5 494.0,40.0 C492.3,41.5 490.0,41.0 488.0,41.0 C486.0,41.0 483.3,40.7 482.0,40.0 C480.7,39.3 479.3,38.7 480.0,37.0 Z" fill="#E3E3E3"/><path d="M566.0,70.0 C568.5,68.7 574.0,70.7 578.0,72.0 C582.0,73.3 586.7,75.7 590.0,78.0 C593.3,80.3 597.3,82.8 598.0,86.0 C598.7,89.2 596.0,94.5 594.0,97.0 C592.0,99.5 589.0,100.7 586.0,101.0 C583.0,101.3 579.3,99.5 576.0,99.0 C572.7,98.5 568.3,99.2 566.0,98.0 C563.7,96.8 562.5,95.0 562.0,92.0 C561.5,89.0 562.3,83.7 563.0,80.0 C563.7,76.3 563.5,71.3 566.0,70.0 Z" fill="#E3E3E3"/><path d="M424.8,90.5 C425.3,88.3 427.3,85.4 428.8,84.0 C430.3,82.6 432.0,82.5 434.0,82.0 C436.0,81.5 438.5,81.2 441.0,81.0 C443.5,80.8 446.7,80.5 449.2,80.8 C451.7,81.1 454.4,81.5 456.0,83.0 C457.6,84.5 458.3,87.7 459.0,90.0 C459.7,92.3 459.3,94.7 460.0,97.0 C460.7,99.3 462.0,101.7 463.0,104.0 C464.0,106.3 467.3,109.5 466.0,111.0 C464.7,112.5 459.3,112.6 455.0,113.0 C450.7,113.4 443.9,113.7 440.0,113.5 C436.1,113.3 433.8,113.4 431.7,112.0 C429.6,110.6 428.4,107.5 427.5,105.0 C426.6,102.5 426.4,99.4 426.0,97.0 C425.6,94.6 424.3,92.7 424.8,90.5 Z" fill="#E0E0E0"/><path d="M431.0,108.0 C433.3,106.0 440.5,106.6 445.0,106.3 C449.5,106.0 454.5,105.9 458.0,106.0 C461.5,106.1 464.2,105.8 466.0,107.0 C467.8,108.2 468.8,111.3 469.0,113.5 C469.2,115.7 468.1,118.2 467.0,120.0 C465.9,121.8 465.0,123.3 462.5,124.3 C460.0,125.3 455.6,125.9 452.0,126.2 C448.4,126.5 443.9,126.5 441.0,126.2 C438.1,125.9 436.2,125.6 434.5,124.2 C432.8,122.8 431.6,120.7 431.0,118.0 C430.4,115.3 428.7,110.0 431.0,108.0 Z" fill="#E0E0E0"/><path d="M433.5,44.2 C434.3,42.7 435.6,41.4 437.0,40.5 C438.4,39.6 440.0,39.0 442.0,38.6 C444.0,38.2 447.0,37.9 449.2,38.2 C451.4,38.5 453.1,39.4 455.0,40.5 C456.9,41.6 459.0,43.1 460.5,45.0 C462.0,46.9 463.2,49.8 463.8,52.0 C464.4,54.2 464.2,55.7 464.0,58.0 C463.8,60.3 463.1,63.3 462.8,66.0 C462.5,68.7 462.3,71.5 462.0,74.0 C461.7,76.5 461.8,79.0 461.0,81.0 C460.2,83.0 458.8,85.2 457.0,86.0 C455.2,86.8 452.0,86.8 450.0,86.0 C448.0,85.2 446.5,83.3 445.0,81.0 C443.5,78.7 442.2,75.0 441.0,72.0 C439.8,69.0 438.8,65.7 437.5,63.0 C436.2,60.3 434.4,58.2 433.5,56.0 C432.6,53.8 432.3,51.5 432.3,49.5 C432.3,47.5 432.7,45.7 433.5,44.2 Z" fill="#E0E0E0"/><path d="M438.5,58.0 C439.6,55.6 444.1,55.9 447.0,55.5 C449.9,55.1 453.2,55.1 456.0,55.5 C458.8,55.9 462.4,54.9 463.5,58.0 C464.6,61.1 462.9,70.2 462.5,74.0 C462.1,77.8 461.9,78.9 461.0,81.0 C460.1,83.1 458.8,85.6 457.0,86.5 C455.2,87.4 452.0,87.2 450.0,86.5 C448.0,85.8 446.6,84.8 445.0,82.0 C443.4,79.2 441.6,74.0 440.5,70.0 C439.4,66.0 437.4,60.4 438.5,58.0 Z" fill="#E0E0E0"/><path d="M449.5,38.5 C448.8,37.1 450.1,34.5 451.0,32.5 C451.9,30.5 453.6,28.2 455.0,26.5 C456.4,24.8 457.9,23.3 459.5,22.0 C461.1,20.7 462.4,18.9 464.5,18.5 C466.6,18.1 469.2,18.7 472.0,19.5 C474.8,20.3 479.3,22.2 481.5,23.5 C483.7,24.8 484.6,25.9 485.0,27.5 C485.4,29.1 484.7,31.2 484.0,33.0 C483.3,34.8 482.3,37.1 481.0,38.5 C479.7,39.9 477.7,40.2 476.0,41.5 C474.3,42.8 472.4,44.2 471.0,46.0 C469.6,47.8 468.5,50.2 467.5,52.0 C466.5,53.8 465.8,57.0 465.0,57.0 C464.2,57.0 463.3,54.0 462.5,52.0 C461.7,50.0 461.2,46.8 460.0,45.0 C458.8,43.2 456.8,42.1 455.0,41.0 C453.2,39.9 450.2,39.9 449.5,38.5 Z" fill="#E0E0E0"/><path d="M463.5,19.5 C463.3,18.5 464.5,17.1 466.0,16.0 C467.5,14.9 469.8,13.7 472.6,13.0 C475.4,12.3 479.4,11.7 482.8,11.6 C486.2,11.5 489.8,11.6 493.0,12.3 C496.2,13.0 499.1,14.5 501.8,15.6 C504.5,16.6 507.1,17.7 509.0,18.6 C510.9,19.5 513.6,20.4 513.4,21.2 C513.2,22.0 510.0,22.7 507.6,23.2 C505.2,23.7 501.2,23.6 498.8,24.0 C496.4,24.4 494.9,24.6 493.0,25.4 C491.1,26.2 488.9,27.6 487.2,29.0 C485.5,30.4 484.1,33.3 482.8,33.5 C481.5,33.7 481.0,31.4 479.5,30.0 C478.0,28.6 476.1,26.3 474.0,25.0 C471.9,23.7 468.8,22.9 467.0,22.0 C465.2,21.1 463.7,20.5 463.5,19.5 Z" fill="#E0E0E0"/><path d="M476.0,40.5 C476.9,39.3 480.6,38.6 482.8,38.6 C485.0,38.6 487.2,39.6 489.0,40.5 C490.8,41.4 492.6,42.5 493.8,44.0 C495.1,45.5 495.9,47.5 496.5,49.5 C497.1,51.5 497.5,53.9 497.5,56.0 C497.5,58.1 497.1,60.3 496.5,62.0 C495.9,63.7 495.1,64.8 493.8,66.0 C492.5,67.2 490.2,68.3 488.6,69.0 C487.0,69.7 485.4,70.3 484.0,70.0 C482.6,69.7 480.9,68.7 480.5,67.0 C480.1,65.3 481.6,62.5 481.5,60.0 C481.4,57.5 480.7,54.3 480.0,52.0 C479.3,49.7 478.2,47.9 477.5,46.0 C476.8,44.1 475.1,41.7 476.0,40.5 Z" fill="#E0E0E0"/><ellipse cx="472" cy="62" rx="5.5" ry="4.5" fill="#E0E0E0"/><ellipse cx="491.5" cy="34.5" rx="4.5" ry="3" fill="#E0E0E0" transform="rotate(-25 491.5 34.5)"/><path d="M468.2,76.5 C467.9,75.3 469.7,73.9 471.0,73.2 C472.3,72.5 474.2,72.4 476.0,72.2 C477.8,72.0 480.2,71.9 482.0,72.2 C483.8,72.5 485.5,73.1 486.5,73.8 C487.5,74.5 488.1,75.5 488.0,76.5 C487.9,77.5 487.3,78.8 486.0,79.5 C484.7,80.2 482.2,80.6 480.0,80.8 C477.8,81.0 475.0,81.2 473.0,80.5 C471.0,79.8 468.5,77.7 468.2,76.5 Z" fill="#E0E0E0"/><path d="M462.3,89.0 C462.8,87.7 464.4,86.6 466.0,86.0 C467.6,85.4 470.0,85.5 472.0,85.5 C474.0,85.5 476.2,85.5 478.0,86.0 C479.8,86.5 481.3,87.6 483.0,88.5 C484.7,89.4 486.4,90.4 488.0,91.5 C489.6,92.6 491.6,93.6 492.5,95.0 C493.4,96.4 493.9,98.7 493.5,100.0 C493.1,101.3 491.8,102.6 490.0,103.0 C488.2,103.4 485.5,103.0 483.0,102.5 C480.5,102.0 477.7,100.8 475.0,100.0 C472.3,99.2 469.0,99.0 467.0,98.0 C465.0,97.0 463.8,95.5 463.0,94.0 C462.2,92.5 461.8,90.3 462.3,89.0 Z" fill="#E0E0E0"/><ellipse cx="468" cy="100.2" rx="7.3" ry="5.8" fill="#E0E0E0"/><ellipse cx="484.5" cy="103.8" rx="8" ry="4.5" fill="#E0E0E0"/><path d="M468.5,113.0 C468.9,111.8 469.6,110.2 471.0,109.5 C472.4,108.8 474.7,109.0 477.0,108.8 C479.3,108.6 482.3,108.4 485.0,108.5 C487.7,108.6 490.8,108.8 493.0,109.5 C495.2,110.2 497.4,111.4 498.5,113.0 C499.6,114.6 499.9,117.2 499.8,119.0 C499.7,120.8 499.2,122.6 498.0,124.0 C496.8,125.4 494.8,126.7 492.5,127.3 C490.2,127.9 486.7,128.1 484.0,127.8 C481.3,127.5 478.6,126.6 476.5,125.5 C474.4,124.4 472.8,122.4 471.5,121.0 C470.2,119.6 469.0,118.3 468.5,117.0 C468.0,115.7 468.1,114.2 468.5,113.0 Z" fill="#E0E0E0"/><path d="M568.5,53.0 C569.2,50.8 571.8,49.5 574.0,48.2 C576.2,46.9 579.0,45.8 582.0,45.0 C585.0,44.2 588.2,43.8 592.0,43.6 C595.8,43.4 601.3,43.4 605.0,44.0 C608.7,44.6 611.4,45.9 614.0,47.4 C616.6,48.9 618.7,50.9 620.5,53.2 C622.3,55.6 624.3,58.7 625.0,61.5 C625.7,64.3 625.3,67.2 624.8,70.0 C624.3,72.8 623.3,75.6 622.0,78.0 C620.7,80.4 619.7,83.1 617.0,84.5 C614.3,85.9 609.7,86.1 606.0,86.3 C602.3,86.5 598.2,86.3 595.0,85.5 C591.8,84.7 589.5,83.1 587.0,81.5 C584.5,79.9 582.2,78.0 580.0,76.0 C577.8,74.0 575.7,71.9 574.0,69.5 C572.3,67.1 570.9,64.2 570.0,61.5 C569.1,58.8 567.8,55.2 568.5,53.0 Z" fill="#C2B8F5"/><path d="M584.0,89.0 C584.9,87.6 588.3,86.9 591.0,86.4 C593.7,85.9 596.8,85.9 600.0,85.8 C603.2,85.7 607.2,85.6 610.0,85.6 C612.8,85.6 615.2,84.8 616.5,86.0 C617.8,87.2 617.6,90.5 617.6,93.0 C617.6,95.5 617.7,98.7 616.8,101.0 C615.9,103.3 614.1,105.5 612.0,106.8 C609.9,108.1 606.7,108.8 604.0,108.8 C601.3,108.8 598.3,108.1 596.0,106.8 C593.7,105.5 591.8,103.0 590.0,101.0 C588.2,99.0 586.5,97.0 585.5,95.0 C584.5,93.0 583.1,90.4 584.0,89.0 Z" fill="#E0E0E0"/><path d="M553.5,60.0 C553.9,58.6 555.4,57.1 557.0,56.3 C558.6,55.5 560.8,55.2 563.0,55.0 C565.2,54.8 568.0,54.8 570.0,55.3 C572.0,55.8 574.5,56.5 575.0,58.0 C575.5,59.5 574.5,62.4 573.0,64.0 C571.5,65.6 568.4,67.2 566.0,67.8 C563.6,68.4 560.4,68.0 558.5,67.5 C556.6,67.0 555.3,65.8 554.5,64.5 C553.7,63.2 553.1,61.4 553.5,60.0 Z" fill="#C2B8F5"/><path d="M541.7,70.4 C541.7,69.5 545.8,69.6 548.0,69.3 C550.2,69.0 552.7,68.4 555.0,68.4 C557.3,68.4 559.5,68.7 562.0,69.5 C564.5,70.3 567.7,71.7 570.0,73.0 C572.3,74.3 575.7,76.2 576.0,77.5 C576.3,78.8 573.8,79.7 572.0,80.5 C570.2,81.3 567.2,82.3 565.0,82.6 C562.8,82.9 561.0,83.0 559.0,82.5 C557.0,82.0 554.8,80.8 553.0,79.5 C551.2,78.2 549.9,76.5 548.0,75.0 C546.1,73.5 541.7,71.4 541.7,70.4 Z" fill="#C2B8F5"/><path d="M569.5,67.5 C569.7,66.0 570.8,64.5 572.0,63.8 C573.2,63.1 575.6,62.8 577.0,63.2 C578.4,63.6 580.0,64.8 580.5,66.0 C581.0,67.2 581.0,69.3 580.2,70.5 C579.5,71.7 577.5,72.6 576.0,73.0 C574.5,73.4 572.1,73.7 571.0,72.8 C569.9,71.9 569.3,69.0 569.5,67.5 Z" fill="#E0E0E0"/><path d="M585.0,77.5 C585.6,78.1 583.7,80.2 582.0,82.0 C580.3,83.8 577.2,86.4 575.0,88.5 C572.8,90.6 570.9,92.8 569.0,94.5 C567.1,96.2 564.8,98.2 563.5,98.5 C562.2,98.8 561.1,97.8 561.5,96.5 C561.9,95.2 564.2,93.1 566.0,91.0 C567.8,88.9 569.9,86.1 572.0,84.0 C574.1,81.9 576.3,79.6 578.5,78.5 C580.7,77.4 584.4,76.9 585.0,77.5 Z" fill="#E0E0E0"/><path d="M580.0,90.5 C580.9,90.3 583.5,90.8 585.0,91.5 C586.5,92.2 588.5,93.7 589.0,94.5 C589.5,95.3 589.0,96.4 588.0,96.5 C587.0,96.6 584.4,95.7 583.0,95.0 C581.6,94.3 580.0,93.2 579.5,92.5 C579.0,91.8 579.1,90.7 580.0,90.5 Z" fill="#E0E0E0"/><ellipse cx="594.6" cy="85.4" rx="2.6" ry="1.6" fill="#E0E0E0"/><path d="M537.5,101.5 C537.9,100.6 539.4,99.5 541.0,99.0 C542.6,98.5 545.0,98.4 547.0,98.5 C549.0,98.6 551.2,98.9 553.0,99.5 C554.8,100.1 556.6,100.8 558.0,102.0 C559.4,103.2 561.1,105.0 561.5,106.5 C561.9,108.0 561.4,110.7 560.5,110.8 C559.6,110.9 557.8,107.9 556.0,107.0 C554.2,106.1 552.2,105.8 550.0,105.5 C547.8,105.2 544.9,105.7 543.0,105.5 C541.1,105.3 539.4,105.2 538.5,104.5 C537.6,103.8 537.1,102.4 537.5,101.5 Z" fill="#E0E0E0"/><ellipse cx="516" cy="81" rx="2.6" ry="2.2" fill="#E0E0E0"/><ellipse cx="586" cy="137.2" rx="2.3" ry="1.7" fill="#E0E0E0"/><path d="M538.5,118.5 C539.6,118.7 542.8,119.8 545.0,120.5 C547.2,121.2 550.9,122.4 552.0,123.0 C553.1,123.6 552.8,124.2 551.5,124.0 C550.2,123.8 546.2,122.5 544.0,121.8 C541.8,121.0 539.4,120.0 538.5,119.5 C537.6,119.0 537.4,118.3 538.5,118.5 Z" fill="#E0E0E0"/><path d="M516.0,166.0 C517.0,164.3 521.3,162.6 524.0,161.0 C526.7,159.4 529.5,157.8 532.0,156.5 C534.5,155.2 536.5,152.8 539.0,153.0 C541.5,153.2 545.8,156.0 547.0,158.0 C548.2,160.0 547.5,163.0 546.0,165.0 C544.5,167.0 541.2,168.8 538.0,170.0 C534.8,171.2 530.3,172.3 527.0,172.5 C523.7,172.7 519.8,172.1 518.0,171.0 C516.2,169.9 515.0,167.7 516.0,166.0 Z" fill="#E0E0E0"/><path d="M534.5,151.0 C535.2,149.0 536.9,147.1 538.0,146.0 C539.1,144.9 539.8,144.4 541.0,144.5 C542.2,144.6 543.6,145.7 545.0,146.5 C546.4,147.3 548.1,148.5 549.5,149.5 C550.9,150.5 552.2,151.3 553.5,152.5 C554.8,153.7 556.8,155.2 557.2,156.5 C557.6,157.8 557.0,159.2 556.0,160.5 C555.0,161.8 552.7,163.0 551.0,164.0 C549.3,165.0 547.8,165.9 546.0,166.5 C544.2,167.1 541.8,167.8 540.0,167.5 C538.2,167.2 536.1,166.6 535.0,165.0 C533.9,163.4 533.6,160.3 533.5,158.0 C533.4,155.7 533.8,153.0 534.5,151.0 Z" fill="#E0E0E0"/><ellipse cx="525.5" cy="170.5" rx="14" ry="5.6" fill="#E0E0E0" transform="rotate(-8 525.5 170.5)"/><path d="M520.0,162.0 C520.5,161.2 522.6,159.6 524.0,158.5 C525.4,157.4 527.6,155.8 528.5,155.5 C529.4,155.2 530.1,156.1 529.5,157.0 C528.9,157.9 526.4,159.9 525.0,161.0 C523.6,162.1 521.8,163.3 521.0,163.5 C520.2,163.7 519.5,162.8 520.0,162.0 Z" fill="#E0E0E0"/><path d="M551.0,148.5 C551.7,147.8 554.2,146.2 556.0,145.0 C557.8,143.8 560.4,141.9 561.5,141.5 C562.6,141.1 563.2,141.7 562.5,142.5 C561.8,143.3 559.2,145.3 557.5,146.5 C555.8,147.7 553.1,149.2 552.0,149.5 C550.9,149.8 550.3,149.2 551.0,148.5 Z" fill="#E0E0E0"/><ellipse cx="531.5" cy="160.8" rx="2.5" ry="1.8" fill="#E0E0E0"/></g></g>
<path d="M541.2,292.1 V323.3 H581.5" fill="none" stroke="#333" stroke-width="0.6"/>
<line x1="540.0" y1="293.2" x2="541.2" y2="293.2" stroke="#333" stroke-width="0.5"/>
<text x="539.5" y="295.0" font-size="5.1" text-anchor="end" font-weight="normal" font-family='"Liberation Serif", serif' fill="#333" >10</text>
<line x1="540.0" y1="298.9" x2="541.2" y2="298.9" stroke="#333" stroke-width="0.5"/>
<text x="539.5" y="300.75" font-size="5.1" text-anchor="end" font-weight="normal" font-family='"Liberation Serif", serif' fill="#333" >5</text>
<line x1="540.0" y1="304.7" x2="541.2" y2="304.7" stroke="#333" stroke-width="0.5"/>
<text x="539.5" y="306.5" font-size="5.1" text-anchor="end" font-weight="normal" font-family='"Liberation Serif", serif' fill="#333" >0</text>
<line x1="540.0" y1="310.4" x2="541.2" y2="310.4" stroke="#333" stroke-width="0.5"/>
<text x="539.5" y="312.25" font-size="5.1" text-anchor="end" font-weight="normal" font-family='"Liberation Serif", serif' fill="#333" >&#8722;5</text>
<line x1="540.0" y1="316.2" x2="541.2" y2="316.2" stroke="#333" stroke-width="0.5"/>
<text x="539.5" y="318.0" font-size="5.1" text-anchor="end" font-weight="normal" font-family='"Liberation Serif", serif' fill="#333" >&#8722;10</text>
<line x1="540.0" y1="321.9" x2="541.2" y2="321.9" stroke="#333" stroke-width="0.5"/>
<text x="539.5" y="323.75" font-size="5.1" text-anchor="end" font-weight="normal" font-family='"Liberation Serif", serif' fill="#333" >&#8722;15</text>
<line x1="541.2" y1="323.3" x2="541.2" y2="324.5" stroke="#333" stroke-width="0.5"/>
<line x1="550.4" y1="323.3" x2="550.4" y2="324.5" stroke="#333" stroke-width="0.5"/>
<line x1="559.6" y1="323.3" x2="559.6" y2="324.5" stroke="#333" stroke-width="0.5"/>
<line x1="568.8" y1="323.3" x2="568.8" y2="324.5" stroke="#333" stroke-width="0.5"/>
<line x1="578.0" y1="323.3" x2="578.0" y2="324.5" stroke="#333" stroke-width="0.5"/>
<text x="537.4000000000001" y="330.1" font-size="5.1" text-anchor="start" font-weight="normal" font-family='"Liberation Serif", serif' fill="#333" >&#8722;10&#8722;5 0 5 10</text>
<text x="560.0" y="336.70000000000005" font-size="5.4" text-anchor="middle" font-weight="normal" font-family='"Liberation Serif", serif' fill="#333" >umap_1</text>
<text x="0" y="0" font-size="5.6" text-anchor="middle" font-weight="normal" font-family='"Liberation Serif", serif' fill="#333" transform="translate(529.7,308.6) rotate(-90)">umap_2</text>
<rect x="587.4" y="290.3" width="6" height="33.9" fill="url(#cbar)"/>
<text x="596.2" y="292.0" font-size="5.0" text-anchor="start" font-weight="normal" font-family='"Liberation Serif", serif' fill="#333" >3</text>
<text x="596.2" y="303.4" font-size="5.0" text-anchor="start" font-weight="normal" font-family='"Liberation Serif", serif' fill="#333" >2</text>
<text x="596.2" y="314.8" font-size="5.0" text-anchor="start" font-weight="normal" font-family='"Liberation Serif", serif' fill="#333" >1</text>
<text x="596.2" y="326.2" font-size="5.0" text-anchor="start" font-weight="normal" font-family='"Liberation Serif", serif' fill="#333" >0</text>
<text x="640.9000000000001" y="287.1" font-size="6.6" text-anchor="middle" font-weight="bold" font-family='"Liberation Serif", serif' fill="#111" >FCGR3A</text>
<g><g transform="translate(639.2,304.7) scale(0.1689,0.1636) translate(-513,-79.5)"><path d="M452.0,40.0 C453.3,37.8 458.7,35.8 463.0,35.0 C467.3,34.2 474.2,34.5 478.0,35.0 C481.8,35.5 484.3,36.2 486.0,38.0 C487.7,39.8 488.2,43.2 488.0,46.0 C487.8,48.8 485.5,51.7 485.0,55.0 C484.5,58.3 484.5,63.2 485.0,66.0 C485.5,68.8 487.0,69.7 488.0,72.0 C489.0,74.3 490.0,77.0 491.0,80.0 C492.0,83.0 493.2,86.7 494.0,90.0 C494.8,93.3 496.2,96.8 496.0,100.0 C495.8,103.2 495.7,107.2 493.0,109.0 C490.3,110.8 484.5,110.7 480.0,111.0 C475.5,111.3 469.8,112.2 466.0,111.0 C462.2,109.8 458.8,107.2 457.0,104.0 C455.2,100.8 455.2,96.0 455.0,92.0 C454.8,88.0 455.5,85.0 456.0,80.0 C456.5,75.0 458.2,67.3 458.0,62.0 C457.8,56.7 456.0,51.7 455.0,48.0 C454.0,44.3 450.7,42.2 452.0,40.0 Z" fill="#E3E3E3"/><path d="M480.0,37.0 C480.7,35.3 483.7,31.9 486.0,30.0 C488.3,28.1 491.2,26.5 494.0,25.5 C496.8,24.5 502.3,22.9 503.0,24.0 C503.7,25.1 499.5,29.3 498.0,32.0 C496.5,34.7 495.7,38.5 494.0,40.0 C492.3,41.5 490.0,41.0 488.0,41.0 C486.0,41.0 483.3,40.7 482.0,40.0 C480.7,39.3 479.3,38.7 480.0,37.0 Z" fill="#E3E3E3"/><path d="M566.0,70.0 C568.5,68.7 574.0,70.7 578.0,72.0 C582.0,73.3 586.7,75.7 590.0,78.0 C593.3,80.3 597.3,82.8 598.0,86.0 C598.7,89.2 596.0,94.5 594.0,97.0 C592.0,99.5 589.0,100.7 586.0,101.0 C583.0,101.3 579.3,99.5 576.0,99.0 C572.7,98.5 568.3,99.2 566.0,98.0 C563.7,96.8 562.5,95.0 562.0,92.0 C561.5,89.0 562.3,83.7 563.0,80.0 C563.7,76.3 563.5,71.3 566.0,70.0 Z" fill="#E3E3E3"/><path d="M424.8,90.5 C425.3,88.3 427.3,85.4 428.8,84.0 C430.3,82.6 432.0,82.5 434.0,82.0 C436.0,81.5 438.5,81.2 441.0,81.0 C443.5,80.8 446.7,80.5 449.2,80.8 C451.7,81.1 454.4,81.5 456.0,83.0 C457.6,84.5 458.3,87.7 459.0,90.0 C459.7,92.3 459.3,94.7 460.0,97.0 C460.7,99.3 462.0,101.7 463.0,104.0 C464.0,106.3 467.3,109.5 466.0,111.0 C464.7,112.5 459.3,112.6 455.0,113.0 C450.7,113.4 443.9,113.7 440.0,113.5 C436.1,113.3 433.8,113.4 431.7,112.0 C429.6,110.6 428.4,107.5 427.5,105.0 C426.6,102.5 426.4,99.4 426.0,97.0 C425.6,94.6 424.3,92.7 424.8,90.5 Z" fill="#E0E0E0"/><path d="M431.0,108.0 C433.3,106.0 440.5,106.6 445.0,106.3 C449.5,106.0 454.5,105.9 458.0,106.0 C461.5,106.1 464.2,105.8 466.0,107.0 C467.8,108.2 468.8,111.3 469.0,113.5 C469.2,115.7 468.1,118.2 467.0,120.0 C465.9,121.8 465.0,123.3 462.5,124.3 C460.0,125.3 455.6,125.9 452.0,126.2 C448.4,126.5 443.9,126.5 441.0,126.2 C438.1,125.9 436.2,125.6 434.5,124.2 C432.8,122.8 431.6,120.7 431.0,118.0 C430.4,115.3 428.7,110.0 431.0,108.0 Z" fill="#E0E0E0"/><path d="M433.5,44.2 C434.3,42.7 435.6,41.4 437.0,40.5 C438.4,39.6 440.0,39.0 442.0,38.6 C444.0,38.2 447.0,37.9 449.2,38.2 C451.4,38.5 453.1,39.4 455.0,40.5 C456.9,41.6 459.0,43.1 460.5,45.0 C462.0,46.9 463.2,49.8 463.8,52.0 C464.4,54.2 464.2,55.7 464.0,58.0 C463.8,60.3 463.1,63.3 462.8,66.0 C462.5,68.7 462.3,71.5 462.0,74.0 C461.7,76.5 461.8,79.0 461.0,81.0 C460.2,83.0 458.8,85.2 457.0,86.0 C455.2,86.8 452.0,86.8 450.0,86.0 C448.0,85.2 446.5,83.3 445.0,81.0 C443.5,78.7 442.2,75.0 441.0,72.0 C439.8,69.0 438.8,65.7 437.5,63.0 C436.2,60.3 434.4,58.2 433.5,56.0 C432.6,53.8 432.3,51.5 432.3,49.5 C432.3,47.5 432.7,45.7 433.5,44.2 Z" fill="#E0E0E0"/><path d="M438.5,58.0 C439.6,55.6 444.1,55.9 447.0,55.5 C449.9,55.1 453.2,55.1 456.0,55.5 C458.8,55.9 462.4,54.9 463.5,58.0 C464.6,61.1 462.9,70.2 462.5,74.0 C462.1,77.8 461.9,78.9 461.0,81.0 C460.1,83.1 458.8,85.6 457.0,86.5 C455.2,87.4 452.0,87.2 450.0,86.5 C448.0,85.8 446.6,84.8 445.0,82.0 C443.4,79.2 441.6,74.0 440.5,70.0 C439.4,66.0 437.4,60.4 438.5,58.0 Z" fill="#E0E0E0"/><path d="M449.5,38.5 C448.8,37.1 450.1,34.5 451.0,32.5 C451.9,30.5 453.6,28.2 455.0,26.5 C456.4,24.8 457.9,23.3 459.5,22.0 C461.1,20.7 462.4,18.9 464.5,18.5 C466.6,18.1 469.2,18.7 472.0,19.5 C474.8,20.3 479.3,22.2 481.5,23.5 C483.7,24.8 484.6,25.9 485.0,27.5 C485.4,29.1 484.7,31.2 484.0,33.0 C483.3,34.8 482.3,37.1 481.0,38.5 C479.7,39.9 477.7,40.2 476.0,41.5 C474.3,42.8 472.4,44.2 471.0,46.0 C469.6,47.8 468.5,50.2 467.5,52.0 C466.5,53.8 465.8,57.0 465.0,57.0 C464.2,57.0 463.3,54.0 462.5,52.0 C461.7,50.0 461.2,46.8 460.0,45.0 C458.8,43.2 456.8,42.1 455.0,41.0 C453.2,39.9 450.2,39.9 449.5,38.5 Z" fill="#E0E0E0"/><path d="M463.5,19.5 C463.3,18.5 464.5,17.1 466.0,16.0 C467.5,14.9 469.8,13.7 472.6,13.0 C475.4,12.3 479.4,11.7 482.8,11.6 C486.2,11.5 489.8,11.6 493.0,12.3 C496.2,13.0 499.1,14.5 501.8,15.6 C504.5,16.6 507.1,17.7 509.0,18.6 C510.9,19.5 513.6,20.4 513.4,21.2 C513.2,22.0 510.0,22.7 507.6,23.2 C505.2,23.7 501.2,23.6 498.8,24.0 C496.4,24.4 494.9,24.6 493.0,25.4 C491.1,26.2 488.9,27.6 487.2,29.0 C485.5,30.4 484.1,33.3 482.8,33.5 C481.5,33.7 481.0,31.4 479.5,30.0 C478.0,28.6 476.1,26.3 474.0,25.0 C471.9,23.7 468.8,22.9 467.0,22.0 C465.2,21.1 463.7,20.5 463.5,19.5 Z" fill="#B8ADF5"/><path d="M476.0,40.5 C476.9,39.3 480.6,38.6 482.8,38.6 C485.0,38.6 487.2,39.6 489.0,40.5 C490.8,41.4 492.6,42.5 493.8,44.0 C495.1,45.5 495.9,47.5 496.5,49.5 C497.1,51.5 497.5,53.9 497.5,56.0 C497.5,58.1 497.1,60.3 496.5,62.0 C495.9,63.7 495.1,64.8 493.8,66.0 C492.5,67.2 490.2,68.3 488.6,69.0 C487.0,69.7 485.4,70.3 484.0,70.0 C482.6,69.7 480.9,68.7 480.5,67.0 C480.1,65.3 481.6,62.5 481.5,60.0 C481.4,57.5 480.7,54.3 480.0,52.0 C479.3,49.7 478.2,47.9 477.5,46.0 C476.8,44.1 475.1,41.7 476.0,40.5 Z" fill="#E0E0E0"/><ellipse cx="472" cy="62" rx="5.5" ry="4.5" fill="#E0E0E0"/><ellipse cx="491.5" cy="34.5" rx="4.5" ry="3" fill="#E0E0E0" transform="rotate(-25 491.5 34.5)"/><path d="M468.2,76.5 C467.9,75.3 469.7,73.9 471.0,73.2 C472.3,72.5 474.2,72.4 476.0,72.2 C477.8,72.0 480.2,71.9 482.0,72.2 C483.8,72.5 485.5,73.1 486.5,73.8 C487.5,74.5 488.1,75.5 488.0,76.5 C487.9,77.5 487.3,78.8 486.0,79.5 C484.7,80.2 482.2,80.6 480.0,80.8 C477.8,81.0 475.0,81.2 473.0,80.5 C471.0,79.8 468.5,77.7 468.2,76.5 Z" fill="#E0E0E0"/><path d="M462.3,89.0 C462.8,87.7 464.4,86.6 466.0,86.0 C467.6,85.4 470.0,85.5 472.0,85.5 C474.0,85.5 476.2,85.5 478.0,86.0 C479.8,86.5 481.3,87.6 483.0,88.5 C484.7,89.4 486.4,90.4 488.0,91.5 C489.6,92.6 491.6,93.6 492.5,95.0 C493.4,96.4 493.9,98.7 493.5,100.0 C493.1,101.3 491.8,102.6 490.0,103.0 C488.2,103.4 485.5,103.0 483.0,102.5 C480.5,102.0 477.7,100.8 475.0,100.0 C472.3,99.2 469.0,99.0 467.0,98.0 C465.0,97.0 463.8,95.5 463.0,94.0 C462.2,92.5 461.8,90.3 462.3,89.0 Z" fill="#E0E0E0"/><ellipse cx="468" cy="100.2" rx="7.3" ry="5.8" fill="#E0E0E0"/><ellipse cx="484.5" cy="103.8" rx="8" ry="4.5" fill="#E0E0E0"/><path d="M468.5,113.0 C468.9,111.8 469.6,110.2 471.0,109.5 C472.4,108.8 474.7,109.0 477.0,108.8 C479.3,108.6 482.3,108.4 485.0,108.5 C487.7,108.6 490.8,108.8 493.0,109.5 C495.2,110.2 497.4,111.4 498.5,113.0 C499.6,114.6 499.9,117.2 499.8,119.0 C499.7,120.8 499.2,122.6 498.0,124.0 C496.8,125.4 494.8,126.7 492.5,127.3 C490.2,127.9 486.7,128.1 484.0,127.8 C481.3,127.5 478.6,126.6 476.5,125.5 C474.4,124.4 472.8,122.4 471.5,121.0 C470.2,119.6 469.0,118.3 468.5,117.0 C468.0,115.7 468.1,114.2 468.5,113.0 Z" fill="#E0E0E0"/><path d="M568.5,53.0 C569.2,50.8 571.8,49.5 574.0,48.2 C576.2,46.9 579.0,45.8 582.0,45.0 C585.0,44.2 588.2,43.8 592.0,43.6 C595.8,43.4 601.3,43.4 605.0,44.0 C608.7,44.6 611.4,45.9 614.0,47.4 C616.6,48.9 618.7,50.9 620.5,53.2 C622.3,55.6 624.3,58.7 625.0,61.5 C625.7,64.3 625.3,67.2 624.8,70.0 C624.3,72.8 623.3,75.6 622.0,78.0 C620.7,80.4 619.7,83.1 617.0,84.5 C614.3,85.9 609.7,86.1 606.0,86.3 C602.3,86.5 598.2,86.3 595.0,85.5 C591.8,84.7 589.5,83.1 587.0,81.5 C584.5,79.9 582.2,78.0 580.0,76.0 C577.8,74.0 575.7,71.9 574.0,69.5 C572.3,67.1 570.9,64.2 570.0,61.5 C569.1,58.8 567.8,55.2 568.5,53.0 Z" fill="#E0E0E0"/><path d="M584.0,89.0 C584.9,87.6 588.3,86.9 591.0,86.4 C593.7,85.9 596.8,85.9 600.0,85.8 C603.2,85.7 607.2,85.6 610.0,85.6 C612.8,85.6 615.2,84.8 616.5,86.0 C617.8,87.2 617.6,90.5 617.6,93.0 C617.6,95.5 617.7,98.7 616.8,101.0 C615.9,103.3 614.1,105.5 612.0,106.8 C609.9,108.1 606.7,108.8 604.0,108.8 C601.3,108.8 598.3,108.1 596.0,106.8 C593.7,105.5 591.8,103.0 590.0,101.0 C588.2,99.0 586.5,97.0 585.5,95.0 C584.5,93.0 583.1,90.4 584.0,89.0 Z" fill="#B8ADF5"/><path d="M553.5,60.0 C553.9,58.6 555.4,57.1 557.0,56.3 C558.6,55.5 560.8,55.2 563.0,55.0 C565.2,54.8 568.0,54.8 570.0,55.3 C572.0,55.8 574.5,56.5 575.0,58.0 C575.5,59.5 574.5,62.4 573.0,64.0 C571.5,65.6 568.4,67.2 566.0,67.8 C563.6,68.4 560.4,68.0 558.5,67.5 C556.6,67.0 555.3,65.8 554.5,64.5 C553.7,63.2 553.1,61.4 553.5,60.0 Z" fill="#E0E0E0"/><path d="M541.7,70.4 C541.7,69.5 545.8,69.6 548.0,69.3 C550.2,69.0 552.7,68.4 555.0,68.4 C557.3,68.4 559.5,68.7 562.0,69.5 C564.5,70.3 567.7,71.7 570.0,73.0 C572.3,74.3 575.7,76.2 576.0,77.5 C576.3,78.8 573.8,79.7 572.0,80.5 C570.2,81.3 567.2,82.3 565.0,82.6 C562.8,82.9 561.0,83.0 559.0,82.5 C557.0,82.0 554.8,80.8 553.0,79.5 C551.2,78.2 549.9,76.5 548.0,75.0 C546.1,73.5 541.7,71.4 541.7,70.4 Z" fill="#E0E0E0"/><path d="M569.5,67.5 C569.7,66.0 570.8,64.5 572.0,63.8 C573.2,63.1 575.6,62.8 577.0,63.2 C578.4,63.6 580.0,64.8 580.5,66.0 C581.0,67.2 581.0,69.3 580.2,70.5 C579.5,71.7 577.5,72.6 576.0,73.0 C574.5,73.4 572.1,73.7 571.0,72.8 C569.9,71.9 569.3,69.0 569.5,67.5 Z" fill="#E0E0E0"/><path d="M585.0,77.5 C585.6,78.1 583.7,80.2 582.0,82.0 C580.3,83.8 577.2,86.4 575.0,88.5 C572.8,90.6 570.9,92.8 569.0,94.5 C567.1,96.2 564.8,98.2 563.5,98.5 C562.2,98.8 561.1,97.8 561.5,96.5 C561.9,95.2 564.2,93.1 566.0,91.0 C567.8,88.9 569.9,86.1 572.0,84.0 C574.1,81.9 576.3,79.6 578.5,78.5 C580.7,77.4 584.4,76.9 585.0,77.5 Z" fill="#E0E0E0"/><path d="M580.0,90.5 C580.9,90.3 583.5,90.8 585.0,91.5 C586.5,92.2 588.5,93.7 589.0,94.5 C589.5,95.3 589.0,96.4 588.0,96.5 C587.0,96.6 584.4,95.7 583.0,95.0 C581.6,94.3 580.0,93.2 579.5,92.5 C579.0,91.8 579.1,90.7 580.0,90.5 Z" fill="#E0E0E0"/><ellipse cx="594.6" cy="85.4" rx="2.6" ry="1.6" fill="#E0E0E0"/><path d="M537.5,101.5 C537.9,100.6 539.4,99.5 541.0,99.0 C542.6,98.5 545.0,98.4 547.0,98.5 C549.0,98.6 551.2,98.9 553.0,99.5 C554.8,100.1 556.6,100.8 558.0,102.0 C559.4,103.2 561.1,105.0 561.5,106.5 C561.9,108.0 561.4,110.7 560.5,110.8 C559.6,110.9 557.8,107.9 556.0,107.0 C554.2,106.1 552.2,105.8 550.0,105.5 C547.8,105.2 544.9,105.7 543.0,105.5 C541.1,105.3 539.4,105.2 538.5,104.5 C537.6,103.8 537.1,102.4 537.5,101.5 Z" fill="#E0E0E0"/><ellipse cx="516" cy="81" rx="2.6" ry="2.2" fill="#E0E0E0"/><ellipse cx="586" cy="137.2" rx="2.3" ry="1.7" fill="#E0E0E0"/><path d="M538.5,118.5 C539.6,118.7 542.8,119.8 545.0,120.5 C547.2,121.2 550.9,122.4 552.0,123.0 C553.1,123.6 552.8,124.2 551.5,124.0 C550.2,123.8 546.2,122.5 544.0,121.8 C541.8,121.0 539.4,120.0 538.5,119.5 C537.6,119.0 537.4,118.3 538.5,118.5 Z" fill="#E0E0E0"/><path d="M516.0,166.0 C517.0,164.3 521.3,162.6 524.0,161.0 C526.7,159.4 529.5,157.8 532.0,156.5 C534.5,155.2 536.5,152.8 539.0,153.0 C541.5,153.2 545.8,156.0 547.0,158.0 C548.2,160.0 547.5,163.0 546.0,165.0 C544.5,167.0 541.2,168.8 538.0,170.0 C534.8,171.2 530.3,172.3 527.0,172.5 C523.7,172.7 519.8,172.1 518.0,171.0 C516.2,169.9 515.0,167.7 516.0,166.0 Z" fill="#E0E0E0"/><path d="M534.5,151.0 C535.2,149.0 536.9,147.1 538.0,146.0 C539.1,144.9 539.8,144.4 541.0,144.5 C542.2,144.6 543.6,145.7 545.0,146.5 C546.4,147.3 548.1,148.5 549.5,149.5 C550.9,150.5 552.2,151.3 553.5,152.5 C554.8,153.7 556.8,155.2 557.2,156.5 C557.6,157.8 557.0,159.2 556.0,160.5 C555.0,161.8 552.7,163.0 551.0,164.0 C549.3,165.0 547.8,165.9 546.0,166.5 C544.2,167.1 541.8,167.8 540.0,167.5 C538.2,167.2 536.1,166.6 535.0,165.0 C533.9,163.4 533.6,160.3 533.5,158.0 C533.4,155.7 533.8,153.0 534.5,151.0 Z" fill="#E0E0E0"/><ellipse cx="525.5" cy="170.5" rx="14" ry="5.6" fill="#E0E0E0" transform="rotate(-8 525.5 170.5)"/><path d="M520.0,162.0 C520.5,161.2 522.6,159.6 524.0,158.5 C525.4,157.4 527.6,155.8 528.5,155.5 C529.4,155.2 530.1,156.1 529.5,157.0 C528.9,157.9 526.4,159.9 525.0,161.0 C523.6,162.1 521.8,163.3 521.0,163.5 C520.2,163.7 519.5,162.8 520.0,162.0 Z" fill="#E0E0E0"/><path d="M551.0,148.5 C551.7,147.8 554.2,146.2 556.0,145.0 C557.8,143.8 560.4,141.9 561.5,141.5 C562.6,141.1 563.2,141.7 562.5,142.5 C561.8,143.3 559.2,145.3 557.5,146.5 C555.8,147.7 553.1,149.2 552.0,149.5 C550.9,149.8 550.3,149.2 551.0,148.5 Z" fill="#E0E0E0"/><ellipse cx="531.5" cy="160.8" rx="2.5" ry="1.8" fill="#E0E0E0"/></g></g>
<path d="M620.9000000000001,292.1 V323.3 H661.2" fill="none" stroke="#333" stroke-width="0.6"/>
<line x1="619.7" y1="293.2" x2="620.9000000000001" y2="293.2" stroke="#333" stroke-width="0.5"/>
<text x="619.2" y="295.0" font-size="5.1" text-anchor="end" font-weight="normal" font-family='"Liberation Serif", serif' fill="#333" >10</text>
<line x1="619.7" y1="298.9" x2="620.9000000000001" y2="298.9" stroke="#333" stroke-width="0.5"/>
<text x="619.2" y="300.75" font-size="5.1" text-anchor="end" font-weight="normal" font-family='"Liberation Serif", serif' fill="#333" >5</text>
<line x1="619.7" y1="304.7" x2="620.9000000000001" y2="304.7" stroke="#333" stroke-width="0.5"/>
<text x="619.2" y="306.5" font-size="5.1" text-anchor="end" font-weight="normal" font-family='"Liberation Serif", serif' fill="#333" >0</text>
<line x1="619.7" y1="310.4" x2="620.9000000000001" y2="310.4" stroke="#333" stroke-width="0.5"/>
<text x="619.2" y="312.25" font-size="5.1" text-anchor="end" font-weight="normal" font-family='"Liberation Serif", serif' fill="#333" >&#8722;5</text>
<line x1="619.7" y1="316.2" x2="620.9000000000001" y2="316.2" stroke="#333" stroke-width="0.5"/>
<text x="619.2" y="318.0" font-size="5.1" text-anchor="end" font-weight="normal" font-family='"Liberation Serif", serif' fill="#333" >&#8722;10</text>
<line x1="619.7" y1="321.9" x2="620.9000000000001" y2="321.9" stroke="#333" stroke-width="0.5"/>
<text x="619.2" y="323.75" font-size="5.1" text-anchor="end" font-weight="normal" font-family='"Liberation Serif", serif' fill="#333" >&#8722;15</text>
<line x1="620.9" y1="323.3" x2="620.9" y2="324.5" stroke="#333" stroke-width="0.5"/>
<line x1="630.1" y1="323.3" x2="630.1" y2="324.5" stroke="#333" stroke-width="0.5"/>
<line x1="639.3" y1="323.3" x2="639.3" y2="324.5" stroke="#333" stroke-width="0.5"/>
<line x1="648.5" y1="323.3" x2="648.5" y2="324.5" stroke="#333" stroke-width="0.5"/>
<line x1="657.7" y1="323.3" x2="657.7" y2="324.5" stroke="#333" stroke-width="0.5"/>
<text x="617.1000000000001" y="330.1" font-size="5.1" text-anchor="start" font-weight="normal" font-family='"Liberation Serif", serif' fill="#333" >&#8722;10&#8722;5 0 5 10</text>
<text x="639.7" y="336.70000000000005" font-size="5.4" text-anchor="middle" font-weight="normal" font-family='"Liberation Serif", serif' fill="#333" >umap_1</text>
<text x="0" y="0" font-size="5.6" text-anchor="middle" font-weight="normal" font-family='"Liberation Serif", serif' fill="#333" transform="translate(609.4000000000001,308.6) rotate(-90)">umap_2</text>
<rect x="667.1" y="290.3" width="6" height="33.9" fill="url(#cbar)"/>
<text x="675.9000000000001" y="292.0" font-size="5.0" text-anchor="start" font-weight="normal" font-family='"Liberation Serif", serif' fill="#333" >3</text>
<text x="675.9000000000001" y="303.4" font-size="5.0" text-anchor="start" font-weight="normal" font-family='"Liberation Serif", serif' fill="#333" >2</text>
<text x="675.9000000000001" y="314.8" font-size="5.0" text-anchor="start" font-weight="normal" font-family='"Liberation Serif", serif' fill="#333" >1</text>
<text x="675.9000000000001" y="326.2" font-size="5.0" text-anchor="start" font-weight="normal" font-family='"Liberation Serif", serif' fill="#333" >0</text>
<text x="401.8" y="350.2" font-size="6.6" text-anchor="middle" font-weight="bold" font-family='"Liberation Serif", serif' fill="#111" >KLRF1</text>
<g><g transform="translate(400.1,367.8) scale(0.1689,0.1636) translate(-513,-79.5)"><path d="M452.0,40.0 C453.3,37.8 458.7,35.8 463.0,35.0 C467.3,34.2 474.2,34.5 478.0,35.0 C481.8,35.5 484.3,36.2 486.0,38.0 C487.7,39.8 488.2,43.2 488.0,46.0 C487.8,48.8 485.5,51.7 485.0,55.0 C484.5,58.3 484.5,63.2 485.0,66.0 C485.5,68.8 487.0,69.7 488.0,72.0 C489.0,74.3 490.0,77.0 491.0,80.0 C492.0,83.0 493.2,86.7 494.0,90.0 C494.8,93.3 496.2,96.8 496.0,100.0 C495.8,103.2 495.7,107.2 493.0,109.0 C490.3,110.8 484.5,110.7 480.0,111.0 C475.5,111.3 469.8,112.2 466.0,111.0 C462.2,109.8 458.8,107.2 457.0,104.0 C455.2,100.8 455.2,96.0 455.0,92.0 C454.8,88.0 455.5,85.0 456.0,80.0 C456.5,75.0 458.2,67.3 458.0,62.0 C457.8,56.7 456.0,51.7 455.0,48.0 C454.0,44.3 450.7,42.2 452.0,40.0 Z" fill="#E3E3E3"/><path d="M480.0,37.0 C480.7,35.3 483.7,31.9 486.0,30.0 C488.3,28.1 491.2,26.5 494.0,25.5 C496.8,24.5 502.3,22.9 503.0,24.0 C503.7,25.1 499.5,29.3 498.0,32.0 C496.5,34.7 495.7,38.5 494.0,40.0 C492.3,41.5 490.0,41.0 488.0,41.0 C486.0,41.0 483.3,40.7 482.0,40.0 C480.7,39.3 479.3,38.7 480.0,37.0 Z" fill="#E3E3E3"/><path d="M566.0,70.0 C568.5,68.7 574.0,70.7 578.0,72.0 C582.0,73.3 586.7,75.7 590.0,78.0 C593.3,80.3 597.3,82.8 598.0,86.0 C598.7,89.2 596.0,94.5 594.0,97.0 C592.0,99.5 589.0,100.7 586.0,101.0 C583.0,101.3 579.3,99.5 576.0,99.0 C572.7,98.5 568.3,99.2 566.0,98.0 C563.7,96.8 562.5,95.0 562.0,92.0 C561.5,89.0 562.3,83.7 563.0,80.0 C563.7,76.3 563.5,71.3 566.0,70.0 Z" fill="#E3E3E3"/><path d="M424.8,90.5 C425.3,88.3 427.3,85.4 428.8,84.0 C430.3,82.6 432.0,82.5 434.0,82.0 C436.0,81.5 438.5,81.2 441.0,81.0 C443.5,80.8 446.7,80.5 449.2,80.8 C451.7,81.1 454.4,81.5 456.0,83.0 C457.6,84.5 458.3,87.7 459.0,90.0 C459.7,92.3 459.3,94.7 460.0,97.0 C460.7,99.3 462.0,101.7 463.0,104.0 C464.0,106.3 467.3,109.5 466.0,111.0 C464.7,112.5 459.3,112.6 455.0,113.0 C450.7,113.4 443.9,113.7 440.0,113.5 C436.1,113.3 433.8,113.4 431.7,112.0 C429.6,110.6 428.4,107.5 427.5,105.0 C426.6,102.5 426.4,99.4 426.0,97.0 C425.6,94.6 424.3,92.7 424.8,90.5 Z" fill="#E0E0E0"/><path d="M431.0,108.0 C433.3,106.0 440.5,106.6 445.0,106.3 C449.5,106.0 454.5,105.9 458.0,106.0 C461.5,106.1 464.2,105.8 466.0,107.0 C467.8,108.2 468.8,111.3 469.0,113.5 C469.2,115.7 468.1,118.2 467.0,120.0 C465.9,121.8 465.0,123.3 462.5,124.3 C460.0,125.3 455.6,125.9 452.0,126.2 C448.4,126.5 443.9,126.5 441.0,126.2 C438.1,125.9 436.2,125.6 434.5,124.2 C432.8,122.8 431.6,120.7 431.0,118.0 C430.4,115.3 428.7,110.0 431.0,108.0 Z" fill="#E0E0E0"/><path d="M433.5,44.2 C434.3,42.7 435.6,41.4 437.0,40.5 C438.4,39.6 440.0,39.0 442.0,38.6 C444.0,38.2 447.0,37.9 449.2,38.2 C451.4,38.5 453.1,39.4 455.0,40.5 C456.9,41.6 459.0,43.1 460.5,45.0 C462.0,46.9 463.2,49.8 463.8,52.0 C464.4,54.2 464.2,55.7 464.0,58.0 C463.8,60.3 463.1,63.3 462.8,66.0 C462.5,68.7 462.3,71.5 462.0,74.0 C461.7,76.5 461.8,79.0 461.0,81.0 C460.2,83.0 458.8,85.2 457.0,86.0 C455.2,86.8 452.0,86.8 450.0,86.0 C448.0,85.2 446.5,83.3 445.0,81.0 C443.5,78.7 442.2,75.0 441.0,72.0 C439.8,69.0 438.8,65.7 437.5,63.0 C436.2,60.3 434.4,58.2 433.5,56.0 C432.6,53.8 432.3,51.5 432.3,49.5 C432.3,47.5 432.7,45.7 433.5,44.2 Z" fill="#E0E0E0"/><path d="M438.5,58.0 C439.6,55.6 444.1,55.9 447.0,55.5 C449.9,55.1 453.2,55.1 456.0,55.5 C458.8,55.9 462.4,54.9 463.5,58.0 C464.6,61.1 462.9,70.2 462.5,74.0 C462.1,77.8 461.9,78.9 461.0,81.0 C460.1,83.1 458.8,85.6 457.0,86.5 C455.2,87.4 452.0,87.2 450.0,86.5 C448.0,85.8 446.6,84.8 445.0,82.0 C443.4,79.2 441.6,74.0 440.5,70.0 C439.4,66.0 437.4,60.4 438.5,58.0 Z" fill="#E0E0E0"/><path d="M449.5,38.5 C448.8,37.1 450.1,34.5 451.0,32.5 C451.9,30.5 453.6,28.2 455.0,26.5 C456.4,24.8 457.9,23.3 459.5,22.0 C461.1,20.7 462.4,18.9 464.5,18.5 C466.6,18.1 469.2,18.7 472.0,19.5 C474.8,20.3 479.3,22.2 481.5,23.5 C483.7,24.8 484.6,25.9 485.0,27.5 C485.4,29.1 484.7,31.2 484.0,33.0 C483.3,34.8 482.3,37.1 481.0,38.5 C479.7,39.9 477.7,40.2 476.0,41.5 C474.3,42.8 472.4,44.2 471.0,46.0 C469.6,47.8 468.5,50.2 467.5,52.0 C466.5,53.8 465.8,57.0 465.0,57.0 C464.2,57.0 463.3,54.0 462.5,52.0 C461.7,50.0 461.2,46.8 460.0,45.0 C458.8,43.2 456.8,42.1 455.0,41.0 C453.2,39.9 450.2,39.9 449.5,38.5 Z" fill="#E0E0E0"/><path d="M463.5,19.5 C463.3,18.5 464.5,17.1 466.0,16.0 C467.5,14.9 469.8,13.7 472.6,13.0 C475.4,12.3 479.4,11.7 482.8,11.6 C486.2,11.5 489.8,11.6 493.0,12.3 C496.2,13.0 499.1,14.5 501.8,15.6 C504.5,16.6 507.1,17.7 509.0,18.6 C510.9,19.5 513.6,20.4 513.4,21.2 C513.2,22.0 510.0,22.7 507.6,23.2 C505.2,23.7 501.2,23.6 498.8,24.0 C496.4,24.4 494.9,24.6 493.0,25.4 C491.1,26.2 488.9,27.6 487.2,29.0 C485.5,30.4 484.1,33.3 482.8,33.5 C481.5,33.7 481.0,31.4 479.5,30.0 C478.0,28.6 476.1,26.3 474.0,25.0 C471.9,23.7 468.8,22.9 467.0,22.0 C465.2,21.1 463.7,20.5 463.5,19.5 Z" fill="#BDB2F5"/><path d="M476.0,40.5 C476.9,39.3 480.6,38.6 482.8,38.6 C485.0,38.6 487.2,39.6 489.0,40.5 C490.8,41.4 492.6,42.5 493.8,44.0 C495.1,45.5 495.9,47.5 496.5,49.5 C497.1,51.5 497.5,53.9 497.5,56.0 C497.5,58.1 497.1,60.3 496.5,62.0 C495.9,63.7 495.1,64.8 493.8,66.0 C492.5,67.2 490.2,68.3 488.6,69.0 C487.0,69.7 485.4,70.3 484.0,70.0 C482.6,69.7 480.9,68.7 480.5,67.0 C480.1,65.3 481.6,62.5 481.5,60.0 C481.4,57.5 480.7,54.3 480.0,52.0 C479.3,49.7 478.2,47.9 477.5,46.0 C476.8,44.1 475.1,41.7 476.0,40.5 Z" fill="#E0E0E0"/><ellipse cx="472" cy="62" rx="5.5" ry="4.5" fill="#E0E0E0"/><ellipse cx="491.5" cy="34.5" rx="4.5" ry="3" fill="#E0E0E0" transform="rotate(-25 491.5 34.5)"/><path d="M468.2,76.5 C467.9,75.3 469.7,73.9 471.0,73.2 C472.3,72.5 474.2,72.4 476.0,72.2 C477.8,72.0 480.2,71.9 482.0,72.2 C483.8,72.5 485.5,73.1 486.5,73.8 C487.5,74.5 488.1,75.5 488.0,76.5 C487.9,77.5 487.3,78.8 486.0,79.5 C484.7,80.2 482.2,80.6 480.0,80.8 C477.8,81.0 475.0,81.2 473.0,80.5 C471.0,79.8 468.5,77.7 468.2,76.5 Z" fill="#E0E0E0"/><path d="M462.3,89.0 C462.8,87.7 464.4,86.6 466.0,86.0 C467.6,85.4 470.0,85.5 472.0,85.5 C474.0,85.5 476.2,85.5 478.0,86.0 C479.8,86.5 481.3,87.6 483.0,88.5 C484.7,89.4 486.4,90.4 488.0,91.5 C489.6,92.6 491.6,93.6 492.5,95.0 C493.4,96.4 493.9,98.7 493.5,100.0 C493.1,101.3 491.8,102.6 490.0,103.0 C488.2,103.4 485.5,103.0 483.0,102.5 C480.5,102.0 477.7,100.8 475.0,100.0 C472.3,99.2 469.0,99.0 467.0,98.0 C465.0,97.0 463.8,95.5 463.0,94.0 C462.2,92.5 461.8,90.3 462.3,89.0 Z" fill="#E0E0E0"/><ellipse cx="468" cy="100.2" rx="7.3" ry="5.8" fill="#E0E0E0"/><ellipse cx="484.5" cy="103.8" rx="8" ry="4.5" fill="#E0E0E0"/><path d="M468.5,113.0 C468.9,111.8 469.6,110.2 471.0,109.5 C472.4,108.8 474.7,109.0 477.0,108.8 C479.3,108.6 482.3,108.4 485.0,108.5 C487.7,108.6 490.8,108.8 493.0,109.5 C495.2,110.2 497.4,111.4 498.5,113.0 C499.6,114.6 499.9,117.2 499.8,119.0 C499.7,120.8 499.2,122.6 498.0,124.0 C496.8,125.4 494.8,126.7 492.5,127.3 C490.2,127.9 486.7,128.1 484.0,127.8 C481.3,127.5 478.6,126.6 476.5,125.5 C474.4,124.4 472.8,122.4 471.5,121.0 C470.2,119.6 469.0,118.3 468.5,117.0 C468.0,115.7 468.1,114.2 468.5,113.0 Z" fill="#E0E0E0"/><path d="M568.5,53.0 C569.2,50.8 571.8,49.5 574.0,48.2 C576.2,46.9 579.0,45.8 582.0,45.0 C585.0,44.2 588.2,43.8 592.0,43.6 C595.8,43.4 601.3,43.4 605.0,44.0 C608.7,44.6 611.4,45.9 614.0,47.4 C616.6,48.9 618.7,50.9 620.5,53.2 C622.3,55.6 624.3,58.7 625.0,61.5 C625.7,64.3 625.3,67.2 624.8,70.0 C624.3,72.8 623.3,75.6 622.0,78.0 C620.7,80.4 619.7,83.1 617.0,84.5 C614.3,85.9 609.7,86.1 606.0,86.3 C602.3,86.5 598.2,86.3 595.0,85.5 C591.8,84.7 589.5,83.1 587.0,81.5 C584.5,79.9 582.2,78.0 580.0,76.0 C577.8,74.0 575.7,71.9 574.0,69.5 C572.3,67.1 570.9,64.2 570.0,61.5 C569.1,58.8 567.8,55.2 568.5,53.0 Z" fill="#E0E0E0"/><path d="M584.0,89.0 C584.9,87.6 588.3,86.9 591.0,86.4 C593.7,85.9 596.8,85.9 600.0,85.8 C603.2,85.7 607.2,85.6 610.0,85.6 C612.8,85.6 615.2,84.8 616.5,86.0 C617.8,87.2 617.6,90.5 617.6,93.0 C617.6,95.5 617.7,98.7 616.8,101.0 C615.9,103.3 614.1,105.5 612.0,106.8 C609.9,108.1 606.7,108.8 604.0,108.8 C601.3,108.8 598.3,108.1 596.0,106.8 C593.7,105.5 591.8,103.0 590.0,101.0 C588.2,99.0 586.5,97.0 585.5,95.0 C584.5,93.0 583.1,90.4 584.0,89.0 Z" fill="#E0E0E0"/><path d="M553.5,60.0 C553.9,58.6 555.4,57.1 557.0,56.3 C558.6,55.5 560.8,55.2 563.0,55.0 C565.2,54.8 568.0,54.8 570.0,55.3 C572.0,55.8 574.5,56.5 575.0,58.0 C575.5,59.5 574.5,62.4 573.0,64.0 C571.5,65.6 568.4,67.2 566.0,67.8 C563.6,68.4 560.4,68.0 558.5,67.5 C556.6,67.0 555.3,65.8 554.5,64.5 C553.7,63.2 553.1,61.4 553.5,60.0 Z" fill="#E0E0E0"/><path d="M541.7,70.4 C541.7,69.5 545.8,69.6 548.0,69.3 C550.2,69.0 552.7,68.4 555.0,68.4 C557.3,68.4 559.5,68.7 562.0,69.5 C564.5,70.3 567.7,71.7 570.0,73.0 C572.3,74.3 575.7,76.2 576.0,77.5 C576.3,78.8 573.8,79.7 572.0,80.5 C570.2,81.3 567.2,82.3 565.0,82.6 C562.8,82.9 561.0,83.0 559.0,82.5 C557.0,82.0 554.8,80.8 553.0,79.5 C551.2,78.2 549.9,76.5 548.0,75.0 C546.1,73.5 541.7,71.4 541.7,70.4 Z" fill="#E0E0E0"/><path d="M569.5,67.5 C569.7,66.0 570.8,64.5 572.0,63.8 C573.2,63.1 575.6,62.8 577.0,63.2 C578.4,63.6 580.0,64.8 580.5,66.0 C581.0,67.2 581.0,69.3 580.2,70.5 C579.5,71.7 577.5,72.6 576.0,73.0 C574.5,73.4 572.1,73.7 571.0,72.8 C569.9,71.9 569.3,69.0 569.5,67.5 Z" fill="#E0E0E0"/><path d="M585.0,77.5 C585.6,78.1 583.7,80.2 582.0,82.0 C580.3,83.8 577.2,86.4 575.0,88.5 C572.8,90.6 570.9,92.8 569.0,94.5 C567.1,96.2 564.8,98.2 563.5,98.5 C562.2,98.8 561.1,97.8 561.5,96.5 C561.9,95.2 564.2,93.1 566.0,91.0 C567.8,88.9 569.9,86.1 572.0,84.0 C574.1,81.9 576.3,79.6 578.5,78.5 C580.7,77.4 584.4,76.9 585.0,77.5 Z" fill="#E0E0E0"/><path d="M580.0,90.5 C580.9,90.3 583.5,90.8 585.0,91.5 C586.5,92.2 588.5,93.7 589.0,94.5 C589.5,95.3 589.0,96.4 588.0,96.5 C587.0,96.6 584.4,95.7 583.0,95.0 C581.6,94.3 580.0,93.2 579.5,92.5 C579.0,91.8 579.1,90.7 580.0,90.5 Z" fill="#E0E0E0"/><ellipse cx="594.6" cy="85.4" rx="2.6" ry="1.6" fill="#E0E0E0"/><path d="M537.5,101.5 C537.9,100.6 539.4,99.5 541.0,99.0 C542.6,98.5 545.0,98.4 547.0,98.5 C549.0,98.6 551.2,98.9 553.0,99.5 C554.8,100.1 556.6,100.8 558.0,102.0 C559.4,103.2 561.1,105.0 561.5,106.5 C561.9,108.0 561.4,110.7 560.5,110.8 C559.6,110.9 557.8,107.9 556.0,107.0 C554.2,106.1 552.2,105.8 550.0,105.5 C547.8,105.2 544.9,105.7 543.0,105.5 C541.1,105.3 539.4,105.2 538.5,104.5 C537.6,103.8 537.1,102.4 537.5,101.5 Z" fill="#E0E0E0"/><ellipse cx="516" cy="81" rx="2.6" ry="2.2" fill="#E0E0E0"/><ellipse cx="586" cy="137.2" rx="2.3" ry="1.7" fill="#E0E0E0"/><path d="M538.5,118.5 C539.6,118.7 542.8,119.8 545.0,120.5 C547.2,121.2 550.9,122.4 552.0,123.0 C553.1,123.6 552.8,124.2 551.5,124.0 C550.2,123.8 546.2,122.5 544.0,121.8 C541.8,121.0 539.4,120.0 538.5,119.5 C537.6,119.0 537.4,118.3 538.5,118.5 Z" fill="#E0E0E0"/><path d="M516.0,166.0 C517.0,164.3 521.3,162.6 524.0,161.0 C526.7,159.4 529.5,157.8 532.0,156.5 C534.5,155.2 536.5,152.8 539.0,153.0 C541.5,153.2 545.8,156.0 547.0,158.0 C548.2,160.0 547.5,163.0 546.0,165.0 C544.5,167.0 541.2,168.8 538.0,170.0 C534.8,171.2 530.3,172.3 527.0,172.5 C523.7,172.7 519.8,172.1 518.0,171.0 C516.2,169.9 515.0,167.7 516.0,166.0 Z" fill="#E0E0E0"/><path d="M534.5,151.0 C535.2,149.0 536.9,147.1 538.0,146.0 C539.1,144.9 539.8,144.4 541.0,144.5 C542.2,144.6 543.6,145.7 545.0,146.5 C546.4,147.3 548.1,148.5 549.5,149.5 C550.9,150.5 552.2,151.3 553.5,152.5 C554.8,153.7 556.8,155.2 557.2,156.5 C557.6,157.8 557.0,159.2 556.0,160.5 C555.0,161.8 552.7,163.0 551.0,164.0 C549.3,165.0 547.8,165.9 546.0,166.5 C544.2,167.1 541.8,167.8 540.0,167.5 C538.2,167.2 536.1,166.6 535.0,165.0 C533.9,163.4 533.6,160.3 533.5,158.0 C533.4,155.7 533.8,153.0 534.5,151.0 Z" fill="#E0E0E0"/><ellipse cx="525.5" cy="170.5" rx="14" ry="5.6" fill="#E0E0E0" transform="rotate(-8 525.5 170.5)"/><path d="M520.0,162.0 C520.5,161.2 522.6,159.6 524.0,158.5 C525.4,157.4 527.6,155.8 528.5,155.5 C529.4,155.2 530.1,156.1 529.5,157.0 C528.9,157.9 526.4,159.9 525.0,161.0 C523.6,162.1 521.8,163.3 521.0,163.5 C520.2,163.7 519.5,162.8 520.0,162.0 Z" fill="#E0E0E0"/><path d="M551.0,148.5 C551.7,147.8 554.2,146.2 556.0,145.0 C557.8,143.8 560.4,141.9 561.5,141.5 C562.6,141.1 563.2,141.7 562.5,142.5 C561.8,143.3 559.2,145.3 557.5,146.5 C555.8,147.7 553.1,149.2 552.0,149.5 C550.9,149.8 550.3,149.2 551.0,148.5 Z" fill="#E0E0E0"/><ellipse cx="531.5" cy="160.8" rx="2.5" ry="1.8" fill="#E0E0E0"/></g></g>
<path d="M381.8,355.2 V386.4 H422.1" fill="none" stroke="#333" stroke-width="0.6"/>
<line x1="380.6" y1="356.3" x2="381.8" y2="356.3" stroke="#333" stroke-width="0.5"/>
<text x="380.1" y="358.1" font-size="5.1" text-anchor="end" font-weight="normal" font-family='"Liberation Serif", serif' fill="#333" >10</text>
<line x1="380.6" y1="362.1" x2="381.8" y2="362.1" stroke="#333" stroke-width="0.5"/>
<text x="380.1" y="363.85" font-size="5.1" text-anchor="end" font-weight="normal" font-family='"Liberation Serif", serif' fill="#333" >5</text>
<line x1="380.6" y1="367.8" x2="381.8" y2="367.8" stroke="#333" stroke-width="0.5"/>
<text x="380.1" y="369.6" font-size="5.1" text-anchor="end" font-weight="normal" font-family='"Liberation Serif", serif' fill="#333" >0</text>
<line x1="380.6" y1="373.6" x2="381.8" y2="373.6" stroke="#333" stroke-width="0.5"/>
<text x="380.1" y="375.35" font-size="5.1" text-anchor="end" font-weight="normal" font-family='"Liberation Serif", serif' fill="#333" >&#8722;5</text>
<line x1="380.6" y1="379.3" x2="381.8" y2="379.3" stroke="#333" stroke-width="0.5"/>
<text x="380.1" y="381.1" font-size="5.1" text-anchor="end" font-weight="normal" font-family='"Liberation Serif", serif' fill="#333" >&#8722;10</text>
<line x1="380.6" y1="385.1" x2="381.8" y2="385.1" stroke="#333" stroke-width="0.5"/>
<text x="380.1" y="386.85" font-size="5.1" text-anchor="end" font-weight="normal" font-family='"Liberation Serif", serif' fill="#333" >&#8722;15</text>
<line x1="381.8" y1="386.4" x2="381.8" y2="387.59999999999997" stroke="#333" stroke-width="0.5"/>
<line x1="391.0" y1="386.4" x2="391.0" y2="387.59999999999997" stroke="#333" stroke-width="0.5"/>
<line x1="400.2" y1="386.4" x2="400.2" y2="387.59999999999997" stroke="#333" stroke-width="0.5"/>
<line x1="409.4" y1="386.4" x2="409.4" y2="387.59999999999997" stroke="#333" stroke-width="0.5"/>
<line x1="418.6" y1="386.4" x2="418.6" y2="387.59999999999997" stroke="#333" stroke-width="0.5"/>
<text x="378.0" y="393.2" font-size="5.1" text-anchor="start" font-weight="normal" font-family='"Liberation Serif", serif' fill="#333" >&#8722;10&#8722;5 0 5 10</text>
<text x="400.6" y="399.8" font-size="5.4" text-anchor="middle" font-weight="normal" font-family='"Liberation Serif", serif' fill="#333" >umap_1</text>
<text x="0" y="0" font-size="5.6" text-anchor="middle" font-weight="normal" font-family='"Liberation Serif", serif' fill="#333" transform="translate(370.3,371.7) rotate(-90)">umap_2</text>
<rect x="428.0" y="353.4" width="6" height="33.9" fill="url(#cbar)"/>
<text x="436.8" y="355.09999999999997" font-size="5.0" text-anchor="start" font-weight="normal" font-family='"Liberation Serif", serif' fill="#333" >3</text>
<text x="436.8" y="366.49999999999994" font-size="5.0" text-anchor="start" font-weight="normal" font-family='"Liberation Serif", serif' fill="#333" >2</text>
<text x="436.8" y="377.9" font-size="5.0" text-anchor="start" font-weight="normal" font-family='"Liberation Serif", serif' fill="#333" >1</text>
<text x="436.8" y="389.29999999999995" font-size="5.0" text-anchor="start" font-weight="normal" font-family='"Liberation Serif", serif' fill="#333" >0</text>
<text x="481.5" y="350.2" font-size="6.6" text-anchor="middle" font-weight="bold" font-family='"Liberation Serif", serif' fill="#111" >MKI67</text>
<g><g transform="translate(479.8,367.8) scale(0.1689,0.1636) translate(-513,-79.5)"><path d="M452.0,40.0 C453.3,37.8 458.7,35.8 463.0,35.0 C467.3,34.2 474.2,34.5 478.0,35.0 C481.8,35.5 484.3,36.2 486.0,38.0 C487.7,39.8 488.2,43.2 488.0,46.0 C487.8,48.8 485.5,51.7 485.0,55.0 C484.5,58.3 484.5,63.2 485.0,66.0 C485.5,68.8 487.0,69.7 488.0,72.0 C489.0,74.3 490.0,77.0 491.0,80.0 C492.0,83.0 493.2,86.7 494.0,90.0 C494.8,93.3 496.2,96.8 496.0,100.0 C495.8,103.2 495.7,107.2 493.0,109.0 C490.3,110.8 484.5,110.7 480.0,111.0 C475.5,111.3 469.8,112.2 466.0,111.0 C462.2,109.8 458.8,107.2 457.0,104.0 C455.2,100.8 455.2,96.0 455.0,92.0 C454.8,88.0 455.5,85.0 456.0,80.0 C456.5,75.0 458.2,67.3 458.0,62.0 C457.8,56.7 456.0,51.7 455.0,48.0 C454.0,44.3 450.7,42.2 452.0,40.0 Z" fill="#E3E3E3"/><path d="M480.0,37.0 C480.7,35.3 483.7,31.9 486.0,30.0 C488.3,28.1 491.2,26.5 494.0,25.5 C496.8,24.5 502.3,22.9 503.0,24.0 C503.7,25.1 499.5,29.3 498.0,32.0 C496.5,34.7 495.7,38.5 494.0,40.0 C492.3,41.5 490.0,41.0 488.0,41.0 C486.0,41.0 483.3,40.7 482.0,40.0 C480.7,39.3 479.3,38.7 480.0,37.0 Z" fill="#E3E3E3"/><path d="M566.0,70.0 C568.5,68.7 574.0,70.7 578.0,72.0 C582.0,73.3 586.7,75.7 590.0,78.0 C593.3,80.3 597.3,82.8 598.0,86.0 C598.7,89.2 596.0,94.5 594.0,97.0 C592.0,99.5 589.0,100.7 586.0,101.0 C583.0,101.3 579.3,99.5 576.0,99.0 C572.7,98.5 568.3,99.2 566.0,98.0 C563.7,96.8 562.5,95.0 562.0,92.0 C561.5,89.0 562.3,83.7 563.0,80.0 C563.7,76.3 563.5,71.3 566.0,70.0 Z" fill="#E3E3E3"/><path d="M424.8,90.5 C425.3,88.3 427.3,85.4 428.8,84.0 C430.3,82.6 432.0,82.5 434.0,82.0 C436.0,81.5 438.5,81.2 441.0,81.0 C443.5,80.8 446.7,80.5 449.2,80.8 C451.7,81.1 454.4,81.5 456.0,83.0 C457.6,84.5 458.3,87.7 459.0,90.0 C459.7,92.3 459.3,94.7 460.0,97.0 C460.7,99.3 462.0,101.7 463.0,104.0 C464.0,106.3 467.3,109.5 466.0,111.0 C464.7,112.5 459.3,112.6 455.0,113.0 C450.7,113.4 443.9,113.7 440.0,113.5 C436.1,113.3 433.8,113.4 431.7,112.0 C429.6,110.6 428.4,107.5 427.5,105.0 C426.6,102.5 426.4,99.4 426.0,97.0 C425.6,94.6 424.3,92.7 424.8,90.5 Z" fill="#E0E0E0"/><path d="M431.0,108.0 C433.3,106.0 440.5,106.6 445.0,106.3 C449.5,106.0 454.5,105.9 458.0,106.0 C461.5,106.1 464.2,105.8 466.0,107.0 C467.8,108.2 468.8,111.3 469.0,113.5 C469.2,115.7 468.1,118.2 467.0,120.0 C465.9,121.8 465.0,123.3 462.5,124.3 C460.0,125.3 455.6,125.9 452.0,126.2 C448.4,126.5 443.9,126.5 441.0,126.2 C438.1,125.9 436.2,125.6 434.5,124.2 C432.8,122.8 431.6,120.7 431.0,118.0 C430.4,115.3 428.7,110.0 431.0,108.0 Z" fill="#E0E0E0"/><path d="M433.5,44.2 C434.3,42.7 435.6,41.4 437.0,40.5 C438.4,39.6 440.0,39.0 442.0,38.6 C444.0,38.2 447.0,37.9 449.2,38.2 C451.4,38.5 453.1,39.4 455.0,40.5 C456.9,41.6 459.0,43.1 460.5,45.0 C462.0,46.9 463.2,49.8 463.8,52.0 C464.4,54.2 464.2,55.7 464.0,58.0 C463.8,60.3 463.1,63.3 462.8,66.0 C462.5,68.7 462.3,71.5 462.0,74.0 C461.7,76.5 461.8,79.0 461.0,81.0 C460.2,83.0 458.8,85.2 457.0,86.0 C455.2,86.8 452.0,86.8 450.0,86.0 C448.0,85.2 446.5,83.3 445.0,81.0 C443.5,78.7 442.2,75.0 441.0,72.0 C439.8,69.0 438.8,65.7 437.5,63.0 C436.2,60.3 434.4,58.2 433.5,56.0 C432.6,53.8 432.3,51.5 432.3,49.5 C432.3,47.5 432.7,45.7 433.5,44.2 Z" fill="#E0E0E0"/><path d="M438.5,58.0 C439.6,55.6 444.1,55.9 447.0,55.5 C449.9,55.1 453.2,55.1 456.0,55.5 C458.8,55.9 462.4,54.9 463.5,58.0 C464.6,61.1 462.9,70.2 462.5,74.0 C462.1,77.8 461.9,78.9 461.0,81.0 C460.1,83.1 458.8,85.6 457.0,86.5 C455.2,87.4 452.0,87.2 450.0,86.5 C448.0,85.8 446.6,84.8 445.0,82.0 C443.4,79.2 441.6,74.0 440.5,70.0 C439.4,66.0 437.4,60.4 438.5,58.0 Z" fill="#E0E0E0"/><path d="M449.5,38.5 C448.8,37.1 450.1,34.5 451.0,32.5 C451.9,30.5 453.6,28.2 455.0,26.5 C456.4,24.8 457.9,23.3 459.5,22.0 C461.1,20.7 462.4,18.9 464.5,18.5 C466.6,18.1 469.2,18.7 472.0,19.5 C474.8,20.3 479.3,22.2 481.5,23.5 C483.7,24.8 484.6,25.9 485.0,27.5 C485.4,29.1 484.7,31.2 484.0,33.0 C483.3,34.8 482.3,37.1 481.0,38.5 C479.7,39.9 477.7,40.2 476.0,41.5 C474.3,42.8 472.4,44.2 471.0,46.0 C469.6,47.8 468.5,50.2 467.5,52.0 C466.5,53.8 465.8,57.0 465.0,57.0 C464.2,57.0 463.3,54.0 462.5,52.0 C461.7,50.0 461.2,46.8 460.0,45.0 C458.8,43.2 456.8,42.1 455.0,41.0 C453.2,39.9 450.2,39.9 449.5,38.5 Z" fill="#E0E0E0"/><path d="M463.5,19.5 C463.3,18.5 464.5,17.1 466.0,16.0 C467.5,14.9 469.8,13.7 472.6,13.0 C475.4,12.3 479.4,11.7 482.8,11.6 C486.2,11.5 489.8,11.6 493.0,12.3 C496.2,13.0 499.1,14.5 501.8,15.6 C504.5,16.6 507.1,17.7 509.0,18.6 C510.9,19.5 513.6,20.4 513.4,21.2 C513.2,22.0 510.0,22.7 507.6,23.2 C505.2,23.7 501.2,23.6 498.8,24.0 C496.4,24.4 494.9,24.6 493.0,25.4 C491.1,26.2 488.9,27.6 487.2,29.0 C485.5,30.4 484.1,33.3 482.8,33.5 C481.5,33.7 481.0,31.4 479.5,30.0 C478.0,28.6 476.1,26.3 474.0,25.0 C471.9,23.7 468.8,22.9 467.0,22.0 C465.2,21.1 463.7,20.5 463.5,19.5 Z" fill="#E0E0E0"/><path d="M476.0,40.5 C476.9,39.3 480.6,38.6 482.8,38.6 C485.0,38.6 487.2,39.6 489.0,40.5 C490.8,41.4 492.6,42.5 493.8,44.0 C495.1,45.5 495.9,47.5 496.5,49.5 C497.1,51.5 497.5,53.9 497.5,56.0 C497.5,58.1 497.1,60.3 496.5,62.0 C495.9,63.7 495.1,64.8 493.8,66.0 C492.5,67.2 490.2,68.3 488.6,69.0 C487.0,69.7 485.4,70.3 484.0,70.0 C482.6,69.7 480.9,68.7 480.5,67.0 C480.1,65.3 481.6,62.5 481.5,60.0 C481.4,57.5 480.7,54.3 480.0,52.0 C479.3,49.7 478.2,47.9 477.5,46.0 C476.8,44.1 475.1,41.7 476.0,40.5 Z" fill="#E0E0E0"/><ellipse cx="472" cy="62" rx="5.5" ry="4.5" fill="#E0E0E0"/><ellipse cx="491.5" cy="34.5" rx="4.5" ry="3" fill="#E0E0E0" transform="rotate(-25 491.5 34.5)"/><path d="M468.2,76.5 C467.9,75.3 469.7,73.9 471.0,73.2 C472.3,72.5 474.2,72.4 476.0,72.2 C477.8,72.0 480.2,71.9 482.0,72.2 C483.8,72.5 485.5,73.1 486.5,73.8 C487.5,74.5 488.1,75.5 488.0,76.5 C487.9,77.5 487.3,78.8 486.0,79.5 C484.7,80.2 482.2,80.6 480.0,80.8 C477.8,81.0 475.0,81.2 473.0,80.5 C471.0,79.8 468.5,77.7 468.2,76.5 Z" fill="#E0E0E0"/><path d="M462.3,89.0 C462.8,87.7 464.4,86.6 466.0,86.0 C467.6,85.4 470.0,85.5 472.0,85.5 C474.0,85.5 476.2,85.5 478.0,86.0 C479.8,86.5 481.3,87.6 483.0,88.5 C484.7,89.4 486.4,90.4 488.0,91.5 C489.6,92.6 491.6,93.6 492.5,95.0 C493.4,96.4 493.9,98.7 493.5,100.0 C493.1,101.3 491.8,102.6 490.0,103.0 C488.2,103.4 485.5,103.0 483.0,102.5 C480.5,102.0 477.7,100.8 475.0,100.0 C472.3,99.2 469.0,99.0 467.0,98.0 C465.0,97.0 463.8,95.5 463.0,94.0 C462.2,92.5 461.8,90.3 462.3,89.0 Z" fill="#E0E0E0"/><ellipse cx="468" cy="100.2" rx="7.3" ry="5.8" fill="#E0E0E0"/><ellipse cx="484.5" cy="103.8" rx="8" ry="4.5" fill="#E0E0E0"/><path d="M468.5,113.0 C468.9,111.8 469.6,110.2 471.0,109.5 C472.4,108.8 474.7,109.0 477.0,108.8 C479.3,108.6 482.3,108.4 485.0,108.5 C487.7,108.6 490.8,108.8 493.0,109.5 C495.2,110.2 497.4,111.4 498.5,113.0 C499.6,114.6 499.9,117.2 499.8,119.0 C499.7,120.8 499.2,122.6 498.0,124.0 C496.8,125.4 494.8,126.7 492.5,127.3 C490.2,127.9 486.7,128.1 484.0,127.8 C481.3,127.5 478.6,126.6 476.5,125.5 C474.4,124.4 472.8,122.4 471.5,121.0 C470.2,119.6 469.0,118.3 468.5,117.0 C468.0,115.7 468.1,114.2 468.5,113.0 Z" fill="#E0E0E0"/><path d="M568.5,53.0 C569.2,50.8 571.8,49.5 574.0,48.2 C576.2,46.9 579.0,45.8 582.0,45.0 C585.0,44.2 588.2,43.8 592.0,43.6 C595.8,43.4 601.3,43.4 605.0,44.0 C608.7,44.6 611.4,45.9 614.0,47.4 C616.6,48.9 618.7,50.9 620.5,53.2 C622.3,55.6 624.3,58.7 625.0,61.5 C625.7,64.3 625.3,67.2 624.8,70.0 C624.3,72.8 623.3,75.6 622.0,78.0 C620.7,80.4 619.7,83.1 617.0,84.5 C614.3,85.9 609.7,86.1 606.0,86.3 C602.3,86.5 598.2,86.3 595.0,85.5 C591.8,84.7 589.5,83.1 587.0,81.5 C584.5,79.9 582.2,78.0 580.0,76.0 C577.8,74.0 575.7,71.9 574.0,69.5 C572.3,67.1 570.9,64.2 570.0,61.5 C569.1,58.8 567.8,55.2 568.5,53.0 Z" fill="#E0E0E0"/><path d="M584.0,89.0 C584.9,87.6 588.3,86.9 591.0,86.4 C593.7,85.9 596.8,85.9 600.0,85.8 C603.2,85.7 607.2,85.6 610.0,85.6 C612.8,85.6 615.2,84.8 616.5,86.0 C617.8,87.2 617.6,90.5 617.6,93.0 C617.6,95.5 617.7,98.7 616.8,101.0 C615.9,103.3 614.1,105.5 612.0,106.8 C609.9,108.1 606.7,108.8 604.0,108.8 C601.3,108.8 598.3,108.1 596.0,106.8 C593.7,105.5 591.8,103.0 590.0,101.0 C588.2,99.0 586.5,97.0 585.5,95.0 C584.5,93.0 583.1,90.4 584.0,89.0 Z" fill="#E0E0E0"/><path d="M553.5,60.0 C553.9,58.6 555.4,57.1 557.0,56.3 C558.6,55.5 560.8,55.2 563.0,55.0 C565.2,54.8 568.0,54.8 570.0,55.3 C572.0,55.8 574.5,56.5 575.0,58.0 C575.5,59.5 574.5,62.4 573.0,64.0 C571.5,65.6 568.4,67.2 566.0,67.8 C563.6,68.4 560.4,68.0 558.5,67.5 C556.6,67.0 555.3,65.8 554.5,64.5 C553.7,63.2 553.1,61.4 553.5,60.0 Z" fill="#E0E0E0"/><path d="M541.7,70.4 C541.7,69.5 545.8,69.6 548.0,69.3 C550.2,69.0 552.7,68.4 555.0,68.4 C557.3,68.4 559.5,68.7 562.0,69.5 C564.5,70.3 567.7,71.7 570.0,73.0 C572.3,74.3 575.7,76.2 576.0,77.5 C576.3,78.8 573.8,79.7 572.0,80.5 C570.2,81.3 567.2,82.3 565.0,82.6 C562.8,82.9 561.0,83.0 559.0,82.5 C557.0,82.0 554.8,80.8 553.0,79.5 C551.2,78.2 549.9,76.5 548.0,75.0 C546.1,73.5 541.7,71.4 541.7,70.4 Z" fill="#E0E0E0"/><path d="M569.5,67.5 C569.7,66.0 570.8,64.5 572.0,63.8 C573.2,63.1 575.6,62.8 577.0,63.2 C578.4,63.6 580.0,64.8 580.5,66.0 C581.0,67.2 581.0,69.3 580.2,70.5 C579.5,71.7 577.5,72.6 576.0,73.0 C574.5,73.4 572.1,73.7 571.0,72.8 C569.9,71.9 569.3,69.0 569.5,67.5 Z" fill="#E0E0E0"/><path d="M585.0,77.5 C585.6,78.1 583.7,80.2 582.0,82.0 C580.3,83.8 577.2,86.4 575.0,88.5 C572.8,90.6 570.9,92.8 569.0,94.5 C567.1,96.2 564.8,98.2 563.5,98.5 C562.2,98.8 561.1,97.8 561.5,96.5 C561.9,95.2 564.2,93.1 566.0,91.0 C567.8,88.9 569.9,86.1 572.0,84.0 C574.1,81.9 576.3,79.6 578.5,78.5 C580.7,77.4 584.4,76.9 585.0,77.5 Z" fill="#E0E0E0"/><path d="M580.0,90.5 C580.9,90.3 583.5,90.8 585.0,91.5 C586.5,92.2 588.5,93.7 589.0,94.5 C589.5,95.3 589.0,96.4 588.0,96.5 C587.0,96.6 584.4,95.7 583.0,95.0 C581.6,94.3 580.0,93.2 579.5,92.5 C579.0,91.8 579.1,90.7 580.0,90.5 Z" fill="#E0E0E0"/><ellipse cx="594.6" cy="85.4" rx="2.6" ry="1.6" fill="#E0E0E0"/><path d="M537.5,101.5 C537.9,100.6 539.4,99.5 541.0,99.0 C542.6,98.5 545.0,98.4 547.0,98.5 C549.0,98.6 551.2,98.9 553.0,99.5 C554.8,100.1 556.6,100.8 558.0,102.0 C559.4,103.2 561.1,105.0 561.5,106.5 C561.9,108.0 561.4,110.7 560.5,110.8 C559.6,110.9 557.8,107.9 556.0,107.0 C554.2,106.1 552.2,105.8 550.0,105.5 C547.8,105.2 544.9,105.7 543.0,105.5 C541.1,105.3 539.4,105.2 538.5,104.5 C537.6,103.8 537.1,102.4 537.5,101.5 Z" fill="#E0E0E0"/><ellipse cx="516" cy="81" rx="2.6" ry="2.2" fill="#E0E0E0"/><ellipse cx="586" cy="137.2" rx="2.3" ry="1.7" fill="#E0E0E0"/><path d="M538.5,118.5 C539.6,118.7 542.8,119.8 545.0,120.5 C547.2,121.2 550.9,122.4 552.0,123.0 C553.1,123.6 552.8,124.2 551.5,124.0 C550.2,123.8 546.2,122.5 544.0,121.8 C541.8,121.0 539.4,120.0 538.5,119.5 C537.6,119.0 537.4,118.3 538.5,118.5 Z" fill="#E0E0E0"/><path d="M516.0,166.0 C517.0,164.3 521.3,162.6 524.0,161.0 C526.7,159.4 529.5,157.8 532.0,156.5 C534.5,155.2 536.5,152.8 539.0,153.0 C541.5,153.2 545.8,156.0 547.0,158.0 C548.2,160.0 547.5,163.0 546.0,165.0 C544.5,167.0 541.2,168.8 538.0,170.0 C534.8,171.2 530.3,172.3 527.0,172.5 C523.7,172.7 519.8,172.1 518.0,171.0 C516.2,169.9 515.0,167.7 516.0,166.0 Z" fill="#E0E0E0"/><path d="M534.5,151.0 C535.2,149.0 536.9,147.1 538.0,146.0 C539.1,144.9 539.8,144.4 541.0,144.5 C542.2,144.6 543.6,145.7 545.0,146.5 C546.4,147.3 548.1,148.5 549.5,149.5 C550.9,150.5 552.2,151.3 553.5,152.5 C554.8,153.7 556.8,155.2 557.2,156.5 C557.6,157.8 557.0,159.2 556.0,160.5 C555.0,161.8 552.7,163.0 551.0,164.0 C549.3,165.0 547.8,165.9 546.0,166.5 C544.2,167.1 541.8,167.8 540.0,167.5 C538.2,167.2 536.1,166.6 535.0,165.0 C533.9,163.4 533.6,160.3 533.5,158.0 C533.4,155.7 533.8,153.0 534.5,151.0 Z" fill="#E0E0E0"/><ellipse cx="525.5" cy="170.5" rx="14" ry="5.6" fill="#E0E0E0" transform="rotate(-8 525.5 170.5)"/><path d="M520.0,162.0 C520.5,161.2 522.6,159.6 524.0,158.5 C525.4,157.4 527.6,155.8 528.5,155.5 C529.4,155.2 530.1,156.1 529.5,157.0 C528.9,157.9 526.4,159.9 525.0,161.0 C523.6,162.1 521.8,163.3 521.0,163.5 C520.2,163.7 519.5,162.8 520.0,162.0 Z" fill="#E0E0E0"/><path d="M551.0,148.5 C551.7,147.8 554.2,146.2 556.0,145.0 C557.8,143.8 560.4,141.9 561.5,141.5 C562.6,141.1 563.2,141.7 562.5,142.5 C561.8,143.3 559.2,145.3 557.5,146.5 C555.8,147.7 553.1,149.2 552.0,149.5 C550.9,149.8 550.3,149.2 551.0,148.5 Z" fill="#E0E0E0"/><ellipse cx="531.5" cy="160.8" rx="2.5" ry="1.8" fill="#E0E0E0"/></g></g>
<path d="M461.5,355.2 V386.4 H501.8" fill="none" stroke="#333" stroke-width="0.6"/>
<line x1="460.3" y1="356.3" x2="461.5" y2="356.3" stroke="#333" stroke-width="0.5"/>
<text x="459.8" y="358.1" font-size="5.1" text-anchor="end" font-weight="normal" font-family='"Liberation Serif", serif' fill="#333" >10</text>
<line x1="460.3" y1="362.1" x2="461.5" y2="362.1" stroke="#333" stroke-width="0.5"/>
<text x="459.8" y="363.85" font-size="5.1" text-anchor="end" font-weight="normal" font-family='"Liberation Serif", serif' fill="#333" >5</text>
<line x1="460.3" y1="367.8" x2="461.5" y2="367.8" stroke="#333" stroke-width="0.5"/>
<text x="459.8" y="369.6" font-size="5.1" text-anchor="end" font-weight="normal" font-family='"Liberation Serif", serif' fill="#333" >0</text>
<line x1="460.3" y1="373.6" x2="461.5" y2="373.6" stroke="#333" stroke-width="0.5"/>
<text x="459.8" y="375.35" font-size="5.1" text-anchor="end" font-weight="normal" font-family='"Liberation Serif", serif' fill="#333" >&#8722;5</text>
<line x1="460.3" y1="379.3" x2="461.5" y2="379.3" stroke="#333" stroke-width="0.5"/>
<text x="459.8" y="381.1" font-size="5.1" text-anchor="end" font-weight="normal" font-family='"Liberation Serif", serif' fill="#333" >&#8722;10</text>
<line x1="460.3" y1="385.1" x2="461.5" y2="385.1" stroke="#333" stroke-width="0.5"/>
<text x="459.8" y="386.85" font-size="5.1" text-anchor="end" font-weight="normal" font-family='"Liberation Serif", serif' fill="#333" >&#8722;15</text>
<line x1="461.5" y1="386.4" x2="461.5" y2="387.59999999999997" stroke="#333" stroke-width="0.5"/>
<line x1="470.7" y1="386.4" x2="470.7" y2="387.59999999999997" stroke="#333" stroke-width="0.5"/>
<line x1="479.9" y1="386.4" x2="479.9" y2="387.59999999999997" stroke="#333" stroke-width="0.5"/>
<line x1="489.1" y1="386.4" x2="489.1" y2="387.59999999999997" stroke="#333" stroke-width="0.5"/>
<line x1="498.3" y1="386.4" x2="498.3" y2="387.59999999999997" stroke="#333" stroke-width="0.5"/>
<text x="457.7" y="393.2" font-size="5.1" text-anchor="start" font-weight="normal" font-family='"Liberation Serif", serif' fill="#333" >&#8722;10&#8722;5 0 5 10</text>
<text x="480.3" y="399.8" font-size="5.4" text-anchor="middle" font-weight="normal" font-family='"Liberation Serif", serif' fill="#333" >umap_1</text>
<text x="0" y="0" font-size="5.6" text-anchor="middle" font-weight="normal" font-family='"Liberation Serif", serif' fill="#333" transform="translate(450.0,371.7) rotate(-90)">umap_2</text>
<rect x="507.7" y="353.4" width="6" height="33.9" fill="url(#cbar)"/>
<text x="516.5" y="355.09999999999997" font-size="5.0" text-anchor="start" font-weight="normal" font-family='"Liberation Serif", serif' fill="#333" >3</text>
<text x="516.5" y="366.49999999999994" font-size="5.0" text-anchor="start" font-weight="normal" font-family='"Liberation Serif", serif' fill="#333" >2</text>
<text x="516.5" y="377.9" font-size="5.0" text-anchor="start" font-weight="normal" font-family='"Liberation Serif", serif' fill="#333" >1</text>
<text x="516.5" y="389.29999999999995" font-size="5.0" text-anchor="start" font-weight="normal" font-family='"Liberation Serif", serif' fill="#333" >0</text>
<text x="561.2" y="350.2" font-size="6.6" text-anchor="middle" font-weight="bold" font-family='"Liberation Serif", serif' fill="#111" >PPBP</text>
<g><g transform="translate(559.5,367.8) scale(0.1689,0.1636) translate(-513,-79.5)"><path d="M452.0,40.0 C453.3,37.8 458.7,35.8 463.0,35.0 C467.3,34.2 474.2,34.5 478.0,35.0 C481.8,35.5 484.3,36.2 486.0,38.0 C487.7,39.8 488.2,43.2 488.0,46.0 C487.8,48.8 485.5,51.7 485.0,55.0 C484.5,58.3 484.5,63.2 485.0,66.0 C485.5,68.8 487.0,69.7 488.0,72.0 C489.0,74.3 490.0,77.0 491.0,80.0 C492.0,83.0 493.2,86.7 494.0,90.0 C494.8,93.3 496.2,96.8 496.0,100.0 C495.8,103.2 495.7,107.2 493.0,109.0 C490.3,110.8 484.5,110.7 480.0,111.0 C475.5,111.3 469.8,112.2 466.0,111.0 C462.2,109.8 458.8,107.2 457.0,104.0 C455.2,100.8 455.2,96.0 455.0,92.0 C454.8,88.0 455.5,85.0 456.0,80.0 C456.5,75.0 458.2,67.3 458.0,62.0 C457.8,56.7 456.0,51.7 455.0,48.0 C454.0,44.3 450.7,42.2 452.0,40.0 Z" fill="#E3E3E3"/><path d="M480.0,37.0 C480.7,35.3 483.7,31.9 486.0,30.0 C488.3,28.1 491.2,26.5 494.0,25.5 C496.8,24.5 502.3,22.9 503.0,24.0 C503.7,25.1 499.5,29.3 498.0,32.0 C496.5,34.7 495.7,38.5 494.0,40.0 C492.3,41.5 490.0,41.0 488.0,41.0 C486.0,41.0 483.3,40.7 482.0,40.0 C480.7,39.3 479.3,38.7 480.0,37.0 Z" fill="#E3E3E3"/><path d="M566.0,70.0 C568.5,68.7 574.0,70.7 578.0,72.0 C582.0,73.3 586.7,75.7 590.0,78.0 C593.3,80.3 597.3,82.8 598.0,86.0 C598.7,89.2 596.0,94.5 594.0,97.0 C592.0,99.5 589.0,100.7 586.0,101.0 C583.0,101.3 579.3,99.5 576.0,99.0 C572.7,98.5 568.3,99.2 566.0,98.0 C563.7,96.8 562.5,95.0 562.0,92.0 C561.5,89.0 562.3,83.7 563.0,80.0 C563.7,76.3 563.5,71.3 566.0,70.0 Z" fill="#E3E3E3"/><path d="M424.8,90.5 C425.3,88.3 427.3,85.4 428.8,84.0 C430.3,82.6 432.0,82.5 434.0,82.0 C436.0,81.5 438.5,81.2 441.0,81.0 C443.5,80.8 446.7,80.5 449.2,80.8 C451.7,81.1 454.4,81.5 456.0,83.0 C457.6,84.5 458.3,87.7 459.0,90.0 C459.7,92.3 459.3,94.7 460.0,97.0 C460.7,99.3 462.0,101.7 463.0,104.0 C464.0,106.3 467.3,109.5 466.0,111.0 C464.7,112.5 459.3,112.6 455.0,113.0 C450.7,113.4 443.9,113.7 440.0,113.5 C436.1,113.3 433.8,113.4 431.7,112.0 C429.6,110.6 428.4,107.5 427.5,105.0 C426.6,102.5 426.4,99.4 426.0,97.0 C425.6,94.6 424.3,92.7 424.8,90.5 Z" fill="#E0E0E0"/><path d="M431.0,108.0 C433.3,106.0 440.5,106.6 445.0,106.3 C449.5,106.0 454.5,105.9 458.0,106.0 C461.5,106.1 464.2,105.8 466.0,107.0 C467.8,108.2 468.8,111.3 469.0,113.5 C469.2,115.7 468.1,118.2 467.0,120.0 C465.9,121.8 465.0,123.3 462.5,124.3 C460.0,125.3 455.6,125.9 452.0,126.2 C448.4,126.5 443.9,126.5 441.0,126.2 C438.1,125.9 436.2,125.6 434.5,124.2 C432.8,122.8 431.6,120.7 431.0,118.0 C430.4,115.3 428.7,110.0 431.0,108.0 Z" fill="#E0E0E0"/><path d="M433.5,44.2 C434.3,42.7 435.6,41.4 437.0,40.5 C438.4,39.6 440.0,39.0 442.0,38.6 C444.0,38.2 447.0,37.9 449.2,38.2 C451.4,38.5 453.1,39.4 455.0,40.5 C456.9,41.6 459.0,43.1 460.5,45.0 C462.0,46.9 463.2,49.8 463.8,52.0 C464.4,54.2 464.2,55.7 464.0,58.0 C463.8,60.3 463.1,63.3 462.8,66.0 C462.5,68.7 462.3,71.5 462.0,74.0 C461.7,76.5 461.8,79.0 461.0,81.0 C460.2,83.0 458.8,85.2 457.0,86.0 C455.2,86.8 452.0,86.8 450.0,86.0 C448.0,85.2 446.5,83.3 445.0,81.0 C443.5,78.7 442.2,75.0 441.0,72.0 C439.8,69.0 438.8,65.7 437.5,63.0 C436.2,60.3 434.4,58.2 433.5,56.0 C432.6,53.8 432.3,51.5 432.3,49.5 C432.3,47.5 432.7,45.7 433.5,44.2 Z" fill="#E0E0E0"/><path d="M438.5,58.0 C439.6,55.6 444.1,55.9 447.0,55.5 C449.9,55.1 453.2,55.1 456.0,55.5 C458.8,55.9 462.4,54.9 463.5,58.0 C464.6,61.1 462.9,70.2 462.5,74.0 C462.1,77.8 461.9,78.9 461.0,81.0 C460.1,83.1 458.8,85.6 457.0,86.5 C455.2,87.4 452.0,87.2 450.0,86.5 C448.0,85.8 446.6,84.8 445.0,82.0 C443.4,79.2 441.6,74.0 440.5,70.0 C439.4,66.0 437.4,60.4 438.5,58.0 Z" fill="#E0E0E0"/><path d="M449.5,38.5 C448.8,37.1 450.1,34.5 451.0,32.5 C451.9,30.5 453.6,28.2 455.0,26.5 C456.4,24.8 457.9,23.3 459.5,22.0 C461.1,20.7 462.4,18.9 464.5,18.5 C466.6,18.1 469.2,18.7 472.0,19.5 C474.8,20.3 479.3,22.2 481.5,23.5 C483.7,24.8 484.6,25.9 485.0,27.5 C485.4,29.1 484.7,31.2 484.0,33.0 C483.3,34.8 482.3,37.1 481.0,38.5 C479.7,39.9 477.7,40.2 476.0,41.5 C474.3,42.8 472.4,44.2 471.0,46.0 C469.6,47.8 468.5,50.2 467.5,52.0 C466.5,53.8 465.8,57.0 465.0,57.0 C464.2,57.0 463.3,54.0 462.5,52.0 C461.7,50.0 461.2,46.8 460.0,45.0 C458.8,43.2 456.8,42.1 455.0,41.0 C453.2,39.9 450.2,39.9 449.5,38.5 Z" fill="#E0E0E0"/><path d="M463.5,19.5 C463.3,18.5 464.5,17.1 466.0,16.0 C467.5,14.9 469.8,13.7 472.6,13.0 C475.4,12.3 479.4,11.7 482.8,11.6 C486.2,11.5 489.8,11.6 493.0,12.3 C496.2,13.0 499.1,14.5 501.8,15.6 C504.5,16.6 507.1,17.7 509.0,18.6 C510.9,19.5 513.6,20.4 513.4,21.2 C513.2,22.0 510.0,22.7 507.6,23.2 C505.2,23.7 501.2,23.6 498.8,24.0 C496.4,24.4 494.9,24.6 493.0,25.4 C491.1,26.2 488.9,27.6 487.2,29.0 C485.5,30.4 484.1,33.3 482.8,33.5 C481.5,33.7 481.0,31.4 479.5,30.0 C478.0,28.6 476.1,26.3 474.0,25.0 C471.9,23.7 468.8,22.9 467.0,22.0 C465.2,21.1 463.7,20.5 463.5,19.5 Z" fill="#E0E0E0"/><path d="M476.0,40.5 C476.9,39.3 480.6,38.6 482.8,38.6 C485.0,38.6 487.2,39.6 489.0,40.5 C490.8,41.4 492.6,42.5 493.8,44.0 C495.1,45.5 495.9,47.5 496.5,49.5 C497.1,51.5 497.5,53.9 497.5,56.0 C497.5,58.1 497.1,60.3 496.5,62.0 C495.9,63.7 495.1,64.8 493.8,66.0 C492.5,67.2 490.2,68.3 488.6,69.0 C487.0,69.7 485.4,70.3 484.0,70.0 C482.6,69.7 480.9,68.7 480.5,67.0 C480.1,65.3 481.6,62.5 481.5,60.0 C481.4,57.5 480.7,54.3 480.0,52.0 C479.3,49.7 478.2,47.9 477.5,46.0 C476.8,44.1 475.1,41.7 476.0,40.5 Z" fill="#E0E0E0"/><ellipse cx="472" cy="62" rx="5.5" ry="4.5" fill="#E0E0E0"/><ellipse cx="491.5" cy="34.5" rx="4.5" ry="3" fill="#E0E0E0" transform="rotate(-25 491.5 34.5)"/><path d="M468.2,76.5 C467.9,75.3 469.7,73.9 471.0,73.2 C472.3,72.5 474.2,72.4 476.0,72.2 C477.8,72.0 480.2,71.9 482.0,72.2 C483.8,72.5 485.5,73.1 486.5,73.8 C487.5,74.5 488.1,75.5 488.0,76.5 C487.9,77.5 487.3,78.8 486.0,79.5 C484.7,80.2 482.2,80.6 480.0,80.8 C477.8,81.0 475.0,81.2 473.0,80.5 C471.0,79.8 468.5,77.7 468.2,76.5 Z" fill="#E0E0E0"/><path d="M462.3,89.0 C462.8,87.7 464.4,86.6 466.0,86.0 C467.6,85.4 470.0,85.5 472.0,85.5 C474.0,85.5 476.2,85.5 478.0,86.0 C479.8,86.5 481.3,87.6 483.0,88.5 C484.7,89.4 486.4,90.4 488.0,91.5 C489.6,92.6 491.6,93.6 492.5,95.0 C493.4,96.4 493.9,98.7 493.5,100.0 C493.1,101.3 491.8,102.6 490.0,103.0 C488.2,103.4 485.5,103.0 483.0,102.5 C480.5,102.0 477.7,100.8 475.0,100.0 C472.3,99.2 469.0,99.0 467.0,98.0 C465.0,97.0 463.8,95.5 463.0,94.0 C462.2,92.5 461.8,90.3 462.3,89.0 Z" fill="#E0E0E0"/><ellipse cx="468" cy="100.2" rx="7.3" ry="5.8" fill="#E0E0E0"/><ellipse cx="484.5" cy="103.8" rx="8" ry="4.5" fill="#E0E0E0"/><path d="M468.5,113.0 C468.9,111.8 469.6,110.2 471.0,109.5 C472.4,108.8 474.7,109.0 477.0,108.8 C479.3,108.6 482.3,108.4 485.0,108.5 C487.7,108.6 490.8,108.8 493.0,109.5 C495.2,110.2 497.4,111.4 498.5,113.0 C499.6,114.6 499.9,117.2 499.8,119.0 C499.7,120.8 499.2,122.6 498.0,124.0 C496.8,125.4 494.8,126.7 492.5,127.3 C490.2,127.9 486.7,128.1 484.0,127.8 C481.3,127.5 478.6,126.6 476.5,125.5 C474.4,124.4 472.8,122.4 471.5,121.0 C470.2,119.6 469.0,118.3 468.5,117.0 C468.0,115.7 468.1,114.2 468.5,113.0 Z" fill="#E0E0E0"/><path d="M568.5,53.0 C569.2,50.8 571.8,49.5 574.0,48.2 C576.2,46.9 579.0,45.8 582.0,45.0 C585.0,44.2 588.2,43.8 592.0,43.6 C595.8,43.4 601.3,43.4 605.0,44.0 C608.7,44.6 611.4,45.9 614.0,47.4 C616.6,48.9 618.7,50.9 620.5,53.2 C622.3,55.6 624.3,58.7 625.0,61.5 C625.7,64.3 625.3,67.2 624.8,70.0 C624.3,72.8 623.3,75.6 622.0,78.0 C620.7,80.4 619.7,83.1 617.0,84.5 C614.3,85.9 609.7,86.1 606.0,86.3 C602.3,86.5 598.2,86.3 595.0,85.5 C591.8,84.7 589.5,83.1 587.0,81.5 C584.5,79.9 582.2,78.0 580.0,76.0 C577.8,74.0 575.7,71.9 574.0,69.5 C572.3,67.1 570.9,64.2 570.0,61.5 C569.1,58.8 567.8,55.2 568.5,53.0 Z" fill="#E0E0E0"/><path d="M584.0,89.0 C584.9,87.6 588.3,86.9 591.0,86.4 C593.7,85.9 596.8,85.9 600.0,85.8 C603.2,85.7 607.2,85.6 610.0,85.6 C612.8,85.6 615.2,84.8 616.5,86.0 C617.8,87.2 617.6,90.5 617.6,93.0 C617.6,95.5 617.7,98.7 616.8,101.0 C615.9,103.3 614.1,105.5 612.0,106.8 C609.9,108.1 606.7,108.8 604.0,108.8 C601.3,108.8 598.3,108.1 596.0,106.8 C593.7,105.5 591.8,103.0 590.0,101.0 C588.2,99.0 586.5,97.0 585.5,95.0 C584.5,93.0 583.1,90.4 584.0,89.0 Z" fill="#E0E0E0"/><path d="M553.5,60.0 C553.9,58.6 555.4,57.1 557.0,56.3 C558.6,55.5 560.8,55.2 563.0,55.0 C565.2,54.8 568.0,54.8 570.0,55.3 C572.0,55.8 574.5,56.5 575.0,58.0 C575.5,59.5 574.5,62.4 573.0,64.0 C571.5,65.6 568.4,67.2 566.0,67.8 C563.6,68.4 560.4,68.0 558.5,67.5 C556.6,67.0 555.3,65.8 554.5,64.5 C553.7,63.2 553.1,61.4 553.5,60.0 Z" fill="#E0E0E0"/><path d="M541.7,70.4 C541.7,69.5 545.8,69.6 548.0,69.3 C550.2,69.0 552.7,68.4 555.0,68.4 C557.3,68.4 559.5,68.7 562.0,69.5 C564.5,70.3 567.7,71.7 570.0,73.0 C572.3,74.3 575.7,76.2 576.0,77.5 C576.3,78.8 573.8,79.7 572.0,80.5 C570.2,81.3 567.2,82.3 565.0,82.6 C562.8,82.9 561.0,83.0 559.0,82.5 C557.0,82.0 554.8,80.8 553.0,79.5 C551.2,78.2 549.9,76.5 548.0,75.0 C546.1,73.5 541.7,71.4 541.7,70.4 Z" fill="#E0E0E0"/><path d="M569.5,67.5 C569.7,66.0 570.8,64.5 572.0,63.8 C573.2,63.1 575.6,62.8 577.0,63.2 C578.4,63.6 580.0,64.8 580.5,66.0 C581.0,67.2 581.0,69.3 580.2,70.5 C579.5,71.7 577.5,72.6 576.0,73.0 C574.5,73.4 572.1,73.7 571.0,72.8 C569.9,71.9 569.3,69.0 569.5,67.5 Z" fill="#E0E0E0"/><path d="M585.0,77.5 C585.6,78.1 583.7,80.2 582.0,82.0 C580.3,83.8 577.2,86.4 575.0,88.5 C572.8,90.6 570.9,92.8 569.0,94.5 C567.1,96.2 564.8,98.2 563.5,98.5 C562.2,98.8 561.1,97.8 561.5,96.5 C561.9,95.2 564.2,93.1 566.0,91.0 C567.8,88.9 569.9,86.1 572.0,84.0 C574.1,81.9 576.3,79.6 578.5,78.5 C580.7,77.4 584.4,76.9 585.0,77.5 Z" fill="#9E90F5"/><path d="M580.0,90.5 C580.9,90.3 583.5,90.8 585.0,91.5 C586.5,92.2 588.5,93.7 589.0,94.5 C589.5,95.3 589.0,96.4 588.0,96.5 C587.0,96.6 584.4,95.7 583.0,95.0 C581.6,94.3 580.0,93.2 579.5,92.5 C579.0,91.8 579.1,90.7 580.0,90.5 Z" fill="#E0E0E0"/><ellipse cx="594.6" cy="85.4" rx="2.6" ry="1.6" fill="#E0E0E0"/><path d="M537.5,101.5 C537.9,100.6 539.4,99.5 541.0,99.0 C542.6,98.5 545.0,98.4 547.0,98.5 C549.0,98.6 551.2,98.9 553.0,99.5 C554.8,100.1 556.6,100.8 558.0,102.0 C559.4,103.2 561.1,105.0 561.5,106.5 C561.9,108.0 561.4,110.7 560.5,110.8 C559.6,110.9 557.8,107.9 556.0,107.0 C554.2,106.1 552.2,105.8 550.0,105.5 C547.8,105.2 544.9,105.7 543.0,105.5 C541.1,105.3 539.4,105.2 538.5,104.5 C537.6,103.8 537.1,102.4 537.5,101.5 Z" fill="#9E90F5"/><ellipse cx="516" cy="81" rx="2.6" ry="2.2" fill="#E0E0E0"/><ellipse cx="586" cy="137.2" rx="2.3" ry="1.7" fill="#E0E0E0"/><path d="M538.5,118.5 C539.6,118.7 542.8,119.8 545.0,120.5 C547.2,121.2 550.9,122.4 552.0,123.0 C553.1,123.6 552.8,124.2 551.5,124.0 C550.2,123.8 546.2,122.5 544.0,121.8 C541.8,121.0 539.4,120.0 538.5,119.5 C537.6,119.0 537.4,118.3 538.5,118.5 Z" fill="#E0E0E0"/><path d="M516.0,166.0 C517.0,164.3 521.3,162.6 524.0,161.0 C526.7,159.4 529.5,157.8 532.0,156.5 C534.5,155.2 536.5,152.8 539.0,153.0 C541.5,153.2 545.8,156.0 547.0,158.0 C548.2,160.0 547.5,163.0 546.0,165.0 C544.5,167.0 541.2,168.8 538.0,170.0 C534.8,171.2 530.3,172.3 527.0,172.5 C523.7,172.7 519.8,172.1 518.0,171.0 C516.2,169.9 515.0,167.7 516.0,166.0 Z" fill="#E0E0E0"/><path d="M534.5,151.0 C535.2,149.0 536.9,147.1 538.0,146.0 C539.1,144.9 539.8,144.4 541.0,144.5 C542.2,144.6 543.6,145.7 545.0,146.5 C546.4,147.3 548.1,148.5 549.5,149.5 C550.9,150.5 552.2,151.3 553.5,152.5 C554.8,153.7 556.8,155.2 557.2,156.5 C557.6,157.8 557.0,159.2 556.0,160.5 C555.0,161.8 552.7,163.0 551.0,164.0 C549.3,165.0 547.8,165.9 546.0,166.5 C544.2,167.1 541.8,167.8 540.0,167.5 C538.2,167.2 536.1,166.6 535.0,165.0 C533.9,163.4 533.6,160.3 533.5,158.0 C533.4,155.7 533.8,153.0 534.5,151.0 Z" fill="#E0E0E0"/><ellipse cx="525.5" cy="170.5" rx="14" ry="5.6" fill="#E0E0E0" transform="rotate(-8 525.5 170.5)"/><path d="M520.0,162.0 C520.5,161.2 522.6,159.6 524.0,158.5 C525.4,157.4 527.6,155.8 528.5,155.5 C529.4,155.2 530.1,156.1 529.5,157.0 C528.9,157.9 526.4,159.9 525.0,161.0 C523.6,162.1 521.8,163.3 521.0,163.5 C520.2,163.7 519.5,162.8 520.0,162.0 Z" fill="#E0E0E0"/><path d="M551.0,148.5 C551.7,147.8 554.2,146.2 556.0,145.0 C557.8,143.8 560.4,141.9 561.5,141.5 C562.6,141.1 563.2,141.7 562.5,142.5 C561.8,143.3 559.2,145.3 557.5,146.5 C555.8,147.7 553.1,149.2 552.0,149.5 C550.9,149.8 550.3,149.2 551.0,148.5 Z" fill="#E0E0E0"/><ellipse cx="531.5" cy="160.8" rx="2.5" ry="1.8" fill="#E0E0E0"/></g></g>
<path d="M541.2,355.2 V386.4 H581.5" fill="none" stroke="#333" stroke-width="0.6"/>
<line x1="540.0" y1="356.3" x2="541.2" y2="356.3" stroke="#333" stroke-width="0.5"/>
<text x="539.5" y="358.1" font-size="5.1" text-anchor="end" font-weight="normal" font-family='"Liberation Serif", serif' fill="#333" >10</text>
<line x1="540.0" y1="362.1" x2="541.2" y2="362.1" stroke="#333" stroke-width="0.5"/>
<text x="539.5" y="363.85" font-size="5.1" text-anchor="end" font-weight="normal" font-family='"Liberation Serif", serif' fill="#333" >5</text>
<line x1="540.0" y1="367.8" x2="541.2" y2="367.8" stroke="#333" stroke-width="0.5"/>
<text x="539.5" y="369.6" font-size="5.1" text-anchor="end" font-weight="normal" font-family='"Liberation Serif", serif' fill="#333" >0</text>
<line x1="540.0" y1="373.6" x2="541.2" y2="373.6" stroke="#333" stroke-width="0.5"/>
<text x="539.5" y="375.35" font-size="5.1" text-anchor="end" font-weight="normal" font-family='"Liberation Serif", serif' fill="#333" >&#8722;5</text>
<line x1="540.0" y1="379.3" x2="541.2" y2="379.3" stroke="#333" stroke-width="0.5"/>
<text x="539.5" y="381.1" font-size="5.1" text-anchor="end" font-weight="normal" font-family='"Liberation Serif", serif' fill="#333" >&#8722;10</text>
<line x1="540.0" y1="385.1" x2="541.2" y2="385.1" stroke="#333" stroke-width="0.5"/>
<text x="539.5" y="386.85" font-size="5.1" text-anchor="end" font-weight="normal" font-family='"Liberation Serif", serif' fill="#333" >&#8722;15</text>
<line x1="541.2" y1="386.4" x2="541.2" y2="387.59999999999997" stroke="#333" stroke-width="0.5"/>
<line x1="550.4" y1="386.4" x2="550.4" y2="387.59999999999997" stroke="#333" stroke-width="0.5"/>
<line x1="559.6" y1="386.4" x2="559.6" y2="387.59999999999997" stroke="#333" stroke-width="0.5"/>
<line x1="568.8" y1="386.4" x2="568.8" y2="387.59999999999997" stroke="#333" stroke-width="0.5"/>
<line x1="578.0" y1="386.4" x2="578.0" y2="387.59999999999997" stroke="#333" stroke-width="0.5"/>
<text x="537.4000000000001" y="393.2" font-size="5.1" text-anchor="start" font-weight="normal" font-family='"Liberation Serif", serif' fill="#333" >&#8722;10&#8722;5 0 5 10</text>
<text x="560.0" y="399.8" font-size="5.4" text-anchor="middle" font-weight="normal" font-family='"Liberation Serif", serif' fill="#333" >umap_1</text>
<text x="0" y="0" font-size="5.6" text-anchor="middle" font-weight="normal" font-family='"Liberation Serif", serif' fill="#333" transform="translate(529.7,371.7) rotate(-90)">umap_2</text>
<rect x="587.4" y="353.4" width="6" height="33.9" fill="url(#cbar)"/>
<text x="596.2" y="355.09999999999997" font-size="5.0" text-anchor="start" font-weight="normal" font-family='"Liberation Serif", serif' fill="#333" >3</text>
<text x="596.2" y="366.49999999999994" font-size="5.0" text-anchor="start" font-weight="normal" font-family='"Liberation Serif", serif' fill="#333" >2</text>
<text x="596.2" y="377.9" font-size="5.0" text-anchor="start" font-weight="normal" font-family='"Liberation Serif", serif' fill="#333" >1</text>
<text x="596.2" y="389.29999999999995" font-size="5.0" text-anchor="start" font-weight="normal" font-family='"Liberation Serif", serif' fill="#333" >0</text>
<text x="640.9000000000001" y="350.2" font-size="6.6" text-anchor="middle" font-weight="bold" font-family='"Liberation Serif", serif' fill="#111" >FCER1A</text>
<g><g transform="translate(639.2,367.8) scale(0.1689,0.1636) translate(-513,-79.5)"><path d="M452.0,40.0 C453.3,37.8 458.7,35.8 463.0,35.0 C467.3,34.2 474.2,34.5 478.0,35.0 C481.8,35.5 484.3,36.2 486.0,38.0 C487.7,39.8 488.2,43.2 488.0,46.0 C487.8,48.8 485.5,51.7 485.0,55.0 C484.5,58.3 484.5,63.2 485.0,66.0 C485.5,68.8 487.0,69.7 488.0,72.0 C489.0,74.3 490.0,77.0 491.0,80.0 C492.0,83.0 493.2,86.7 494.0,90.0 C494.8,93.3 496.2,96.8 496.0,100.0 C495.8,103.2 495.7,107.2 493.0,109.0 C490.3,110.8 484.5,110.7 480.0,111.0 C475.5,111.3 469.8,112.2 466.0,111.0 C462.2,109.8 458.8,107.2 457.0,104.0 C455.2,100.8 455.2,96.0 455.0,92.0 C454.8,88.0 455.5,85.0 456.0,80.0 C456.5,75.0 458.2,67.3 458.0,62.0 C457.8,56.7 456.0,51.7 455.0,48.0 C454.0,44.3 450.7,42.2 452.0,40.0 Z" fill="#E3E3E3"/><path d="M480.0,37.0 C480.7,35.3 483.7,31.9 486.0,30.0 C488.3,28.1 491.2,26.5 494.0,25.5 C496.8,24.5 502.3,22.9 503.0,24.0 C503.7,25.1 499.5,29.3 498.0,32.0 C496.5,34.7 495.7,38.5 494.0,40.0 C492.3,41.5 490.0,41.0 488.0,41.0 C486.0,41.0 483.3,40.7 482.0,40.0 C480.7,39.3 479.3,38.7 480.0,37.0 Z" fill="#E3E3E3"/><path d="M566.0,70.0 C568.5,68.7 574.0,70.7 578.0,72.0 C582.0,73.3 586.7,75.7 590.0,78.0 C593.3,80.3 597.3,82.8 598.0,86.0 C598.7,89.2 596.0,94.5 594.0,97.0 C592.0,99.5 589.0,100.7 586.0,101.0 C583.0,101.3 579.3,99.5 576.0,99.0 C572.7,98.5 568.3,99.2 566.0,98.0 C563.7,96.8 562.5,95.0 562.0,92.0 C561.5,89.0 562.3,83.7 563.0,80.0 C563.7,76.3 563.5,71.3 566.0,70.0 Z" fill="#E3E3E3"/><path d="M424.8,90.5 C425.3,88.3 427.3,85.4 428.8,84.0 C430.3,82.6 432.0,82.5 434.0,82.0 C436.0,81.5 438.5,81.2 441.0,81.0 C443.5,80.8 446.7,80.5 449.2,80.8 C451.7,81.1 454.4,81.5 456.0,83.0 C457.6,84.5 458.3,87.7 459.0,90.0 C459.7,92.3 459.3,94.7 460.0,97.0 C460.7,99.3 462.0,101.7 463.0,104.0 C464.0,106.3 467.3,109.5 466.0,111.0 C464.7,112.5 459.3,112.6 455.0,113.0 C450.7,113.4 443.9,113.7 440.0,113.5 C436.1,113.3 433.8,113.4 431.7,112.0 C429.6,110.6 428.4,107.5 427.5,105.0 C426.6,102.5 426.4,99.4 426.0,97.0 C425.6,94.6 424.3,92.7 424.8,90.5 Z" fill="#E0E0E0"/><path d="M431.0,108.0 C433.3,106.0 440.5,106.6 445.0,106.3 C449.5,106.0 454.5,105.9 458.0,106.0 C461.5,106.1 464.2,105.8 466.0,107.0 C467.8,108.2 468.8,111.3 469.0,113.5 C469.2,115.7 468.1,118.2 467.0,120.0 C465.9,121.8 465.0,123.3 462.5,124.3 C460.0,125.3 455.6,125.9 452.0,126.2 C448.4,126.5 443.9,126.5 441.0,126.2 C438.1,125.9 436.2,125.6 434.5,124.2 C432.8,122.8 431.6,120.7 431.0,118.0 C430.4,115.3 428.7,110.0 431.0,108.0 Z" fill="#E0E0E0"/><path d="M433.5,44.2 C434.3,42.7 435.6,41.4 437.0,40.5 C438.4,39.6 440.0,39.0 442.0,38.6 C444.0,38.2 447.0,37.9 449.2,38.2 C451.4,38.5 453.1,39.4 455.0,40.5 C456.9,41.6 459.0,43.1 460.5,45.0 C462.0,46.9 463.2,49.8 463.8,52.0 C464.4,54.2 464.2,55.7 464.0,58.0 C463.8,60.3 463.1,63.3 462.8,66.0 C462.5,68.7 462.3,71.5 462.0,74.0 C461.7,76.5 461.8,79.0 461.0,81.0 C460.2,83.0 458.8,85.2 457.0,86.0 C455.2,86.8 452.0,86.8 450.0,86.0 C448.0,85.2 446.5,83.3 445.0,81.0 C443.5,78.7 442.2,75.0 441.0,72.0 C439.8,69.0 438.8,65.7 437.5,63.0 C436.2,60.3 434.4,58.2 433.5,56.0 C432.6,53.8 432.3,51.5 432.3,49.5 C432.3,47.5 432.7,45.7 433.5,44.2 Z" fill="#E0E0E0"/><path d="M438.5,58.0 C439.6,55.6 444.1,55.9 447.0,55.5 C449.9,55.1 453.2,55.1 456.0,55.5 C458.8,55.9 462.4,54.9 463.5,58.0 C464.6,61.1 462.9,70.2 462.5,74.0 C462.1,77.8 461.9,78.9 461.0,81.0 C460.1,83.1 458.8,85.6 457.0,86.5 C455.2,87.4 452.0,87.2 450.0,86.5 C448.0,85.8 446.6,84.8 445.0,82.0 C443.4,79.2 441.6,74.0 440.5,70.0 C439.4,66.0 437.4,60.4 438.5,58.0 Z" fill="#E0E0E0"/><path d="M449.5,38.5 C448.8,37.1 450.1,34.5 451.0,32.5 C451.9,30.5 453.6,28.2 455.0,26.5 C456.4,24.8 457.9,23.3 459.5,22.0 C461.1,20.7 462.4,18.9 464.5,18.5 C466.6,18.1 469.2,18.7 472.0,19.5 C474.8,20.3 479.3,22.2 481.5,23.5 C483.7,24.8 484.6,25.9 485.0,27.5 C485.4,29.1 484.7,31.2 484.0,33.0 C483.3,34.8 482.3,37.1 481.0,38.5 C479.7,39.9 477.7,40.2 476.0,41.5 C474.3,42.8 472.4,44.2 471.0,46.0 C469.6,47.8 468.5,50.2 467.5,52.0 C466.5,53.8 465.8,57.0 465.0,57.0 C464.2,57.0 463.3,54.0 462.5,52.0 C461.7,50.0 461.2,46.8 460.0,45.0 C458.8,43.2 456.8,42.1 455.0,41.0 C453.2,39.9 450.2,39.9 449.5,38.5 Z" fill="#E0E0E0"/><path d="M463.5,19.5 C463.3,18.5 464.5,17.1 466.0,16.0 C467.5,14.9 469.8,13.7 472.6,13.0 C475.4,12.3 479.4,11.7 482.8,11.6 C486.2,11.5 489.8,11.6 493.0,12.3 C496.2,13.0 499.1,14.5 501.8,15.6 C504.5,16.6 507.1,17.7 509.0,18.6 C510.9,19.5 513.6,20.4 513.4,21.2 C513.2,22.0 510.0,22.7 507.6,23.2 C505.2,23.7 501.2,23.6 498.8,24.0 C496.4,24.4 494.9,24.6 493.0,25.4 C491.1,26.2 488.9,27.6 487.2,29.0 C485.5,30.4 484.1,33.3 482.8,33.5 C481.5,33.7 481.0,31.4 479.5,30.0 C478.0,28.6 476.1,26.3 474.0,25.0 C471.9,23.7 468.8,22.9 467.0,22.0 C465.2,21.1 463.7,20.5 463.5,19.5 Z" fill="#E0E0E0"/><path d="M476.0,40.5 C476.9,39.3 480.6,38.6 482.8,38.6 C485.0,38.6 487.2,39.6 489.0,40.5 C490.8,41.4 492.6,42.5 493.8,44.0 C495.1,45.5 495.9,47.5 496.5,49.5 C497.1,51.5 497.5,53.9 497.5,56.0 C497.5,58.1 497.1,60.3 496.5,62.0 C495.9,63.7 495.1,64.8 493.8,66.0 C492.5,67.2 490.2,68.3 488.6,69.0 C487.0,69.7 485.4,70.3 484.0,70.0 C482.6,69.7 480.9,68.7 480.5,67.0 C480.1,65.3 481.6,62.5 481.5,60.0 C481.4,57.5 480.7,54.3 480.0,52.0 C479.3,49.7 478.2,47.9 477.5,46.0 C476.8,44.1 475.1,41.7 476.0,40.5 Z" fill="#E0E0E0"/><ellipse cx="472" cy="62" rx="5.5" ry="4.5" fill="#E0E0E0"/><ellipse cx="491.5" cy="34.5" rx="4.5" ry="3" fill="#E0E0E0" transform="rotate(-25 491.5 34.5)"/><path d="M468.2,76.5 C467.9,75.3 469.7,73.9 471.0,73.2 C472.3,72.5 474.2,72.4 476.0,72.2 C477.8,72.0 480.2,71.9 482.0,72.2 C483.8,72.5 485.5,73.1 486.5,73.8 C487.5,74.5 488.1,75.5 488.0,76.5 C487.9,77.5 487.3,78.8 486.0,79.5 C484.7,80.2 482.2,80.6 480.0,80.8 C477.8,81.0 475.0,81.2 473.0,80.5 C471.0,79.8 468.5,77.7 468.2,76.5 Z" fill="#E0E0E0"/><path d="M462.3,89.0 C462.8,87.7 464.4,86.6 466.0,86.0 C467.6,85.4 470.0,85.5 472.0,85.5 C474.0,85.5 476.2,85.5 478.0,86.0 C479.8,86.5 481.3,87.6 483.0,88.5 C484.7,89.4 486.4,90.4 488.0,91.5 C489.6,92.6 491.6,93.6 492.5,95.0 C493.4,96.4 493.9,98.7 493.5,100.0 C493.1,101.3 491.8,102.6 490.0,103.0 C488.2,103.4 485.5,103.0 483.0,102.5 C480.5,102.0 477.7,100.8 475.0,100.0 C472.3,99.2 469.0,99.0 467.0,98.0 C465.0,97.0 463.8,95.5 463.0,94.0 C462.2,92.5 461.8,90.3 462.3,89.0 Z" fill="#E0E0E0"/><ellipse cx="468" cy="100.2" rx="7.3" ry="5.8" fill="#E0E0E0"/><ellipse cx="484.5" cy="103.8" rx="8" ry="4.5" fill="#E0E0E0"/><path d="M468.5,113.0 C468.9,111.8 469.6,110.2 471.0,109.5 C472.4,108.8 474.7,109.0 477.0,108.8 C479.3,108.6 482.3,108.4 485.0,108.5 C487.7,108.6 490.8,108.8 493.0,109.5 C495.2,110.2 497.4,111.4 498.5,113.0 C499.6,114.6 499.9,117.2 499.8,119.0 C499.7,120.8 499.2,122.6 498.0,124.0 C496.8,125.4 494.8,126.7 492.5,127.3 C490.2,127.9 486.7,128.1 484.0,127.8 C481.3,127.5 478.6,126.6 476.5,125.5 C474.4,124.4 472.8,122.4 471.5,121.0 C470.2,119.6 469.0,118.3 468.5,117.0 C468.0,115.7 468.1,114.2 468.5,113.0 Z" fill="#E0E0E0"/><path d="M568.5,53.0 C569.2,50.8 571.8,49.5 574.0,48.2 C576.2,46.9 579.0,45.8 582.0,45.0 C585.0,44.2 588.2,43.8 592.0,43.6 C595.8,43.4 601.3,43.4 605.0,44.0 C608.7,44.6 611.4,45.9 614.0,47.4 C616.6,48.9 618.7,50.9 620.5,53.2 C622.3,55.6 624.3,58.7 625.0,61.5 C625.7,64.3 625.3,67.2 624.8,70.0 C624.3,72.8 623.3,75.6 622.0,78.0 C620.7,80.4 619.7,83.1 617.0,84.5 C614.3,85.9 609.7,86.1 606.0,86.3 C602.3,86.5 598.2,86.3 595.0,85.5 C591.8,84.7 589.5,83.1 587.0,81.5 C584.5,79.9 582.2,78.0 580.0,76.0 C577.8,74.0 575.7,71.9 574.0,69.5 C572.3,67.1 570.9,64.2 570.0,61.5 C569.1,58.8 567.8,55.2 568.5,53.0 Z" fill="#E0E0E0"/><path d="M584.0,89.0 C584.9,87.6 588.3,86.9 591.0,86.4 C593.7,85.9 596.8,85.9 600.0,85.8 C603.2,85.7 607.2,85.6 610.0,85.6 C612.8,85.6 615.2,84.8 616.5,86.0 C617.8,87.2 617.6,90.5 617.6,93.0 C617.6,95.5 617.7,98.7 616.8,101.0 C615.9,103.3 614.1,105.5 612.0,106.8 C609.9,108.1 606.7,108.8 604.0,108.8 C601.3,108.8 598.3,108.1 596.0,106.8 C593.7,105.5 591.8,103.0 590.0,101.0 C588.2,99.0 586.5,97.0 585.5,95.0 C584.5,93.0 583.1,90.4 584.0,89.0 Z" fill="#E0E0E0"/><path d="M553.5,60.0 C553.9,58.6 555.4,57.1 557.0,56.3 C558.6,55.5 560.8,55.2 563.0,55.0 C565.2,54.8 568.0,54.8 570.0,55.3 C572.0,55.8 574.5,56.5 575.0,58.0 C575.5,59.5 574.5,62.4 573.0,64.0 C571.5,65.6 568.4,67.2 566.0,67.8 C563.6,68.4 560.4,68.0 558.5,67.5 C556.6,67.0 555.3,65.8 554.5,64.5 C553.7,63.2 553.1,61.4 553.5,60.0 Z" fill="#E0E0E0"/><path d="M541.7,70.4 C541.7,69.5 545.8,69.6 548.0,69.3 C550.2,69.0 552.7,68.4 555.0,68.4 C557.3,68.4 559.5,68.7 562.0,69.5 C564.5,70.3 567.7,71.7 570.0,73.0 C572.3,74.3 575.7,76.2 576.0,77.5 C576.3,78.8 573.8,79.7 572.0,80.5 C570.2,81.3 567.2,82.3 565.0,82.6 C562.8,82.9 561.0,83.0 559.0,82.5 C557.0,82.0 554.8,80.8 553.0,79.5 C551.2,78.2 549.9,76.5 548.0,75.0 C546.1,73.5 541.7,71.4 541.7,70.4 Z" fill="#E0E0E0"/><path d="M569.5,67.5 C569.7,66.0 570.8,64.5 572.0,63.8 C573.2,63.1 575.6,62.8 577.0,63.2 C578.4,63.6 580.0,64.8 580.5,66.0 C581.0,67.2 581.0,69.3 580.2,70.5 C579.5,71.7 577.5,72.6 576.0,73.0 C574.5,73.4 572.1,73.7 571.0,72.8 C569.9,71.9 569.3,69.0 569.5,67.5 Z" fill="#E0E0E0"/><path d="M585.0,77.5 C585.6,78.1 583.7,80.2 582.0,82.0 C580.3,83.8 577.2,86.4 575.0,88.5 C572.8,90.6 570.9,92.8 569.0,94.5 C567.1,96.2 564.8,98.2 563.5,98.5 C562.2,98.8 561.1,97.8 561.5,96.5 C561.9,95.2 564.2,93.1 566.0,91.0 C567.8,88.9 569.9,86.1 572.0,84.0 C574.1,81.9 576.3,79.6 578.5,78.5 C580.7,77.4 584.4,76.9 585.0,77.5 Z" fill="#E0E0E0"/><path d="M580.0,90.5 C580.9,90.3 583.5,90.8 585.0,91.5 C586.5,92.2 588.5,93.7 589.0,94.5 C589.5,95.3 589.0,96.4 588.0,96.5 C587.0,96.6 584.4,95.7 583.0,95.0 C581.6,94.3 580.0,93.2 579.5,92.5 C579.0,91.8 579.1,90.7 580.0,90.5 Z" fill="#E0E0E0"/><ellipse cx="594.6" cy="85.4" rx="2.6" ry="1.6" fill="#E0E0E0"/><path d="M537.5,101.5 C537.9,100.6 539.4,99.5 541.0,99.0 C542.6,98.5 545.0,98.4 547.0,98.5 C549.0,98.6 551.2,98.9 553.0,99.5 C554.8,100.1 556.6,100.8 558.0,102.0 C559.4,103.2 561.1,105.0 561.5,106.5 C561.9,108.0 561.4,110.7 560.5,110.8 C559.6,110.9 557.8,107.9 556.0,107.0 C554.2,106.1 552.2,105.8 550.0,105.5 C547.8,105.2 544.9,105.7 543.0,105.5 C541.1,105.3 539.4,105.2 538.5,104.5 C537.6,103.8 537.1,102.4 537.5,101.5 Z" fill="#E0E0E0"/><ellipse cx="516" cy="81" rx="2.6" ry="2.2" fill="#E0E0E0"/><ellipse cx="586" cy="137.2" rx="2.3" ry="1.7" fill="#E0E0E0"/><path d="M538.5,118.5 C539.6,118.7 542.8,119.8 545.0,120.5 C547.2,121.2 550.9,122.4 552.0,123.0 C553.1,123.6 552.8,124.2 551.5,124.0 C550.2,123.8 546.2,122.5 544.0,121.8 C541.8,121.0 539.4,120.0 538.5,119.5 C537.6,119.0 537.4,118.3 538.5,118.5 Z" fill="#E0E0E0"/><path d="M516.0,166.0 C517.0,164.3 521.3,162.6 524.0,161.0 C526.7,159.4 529.5,157.8 532.0,156.5 C534.5,155.2 536.5,152.8 539.0,153.0 C541.5,153.2 545.8,156.0 547.0,158.0 C548.2,160.0 547.5,163.0 546.0,165.0 C544.5,167.0 541.2,168.8 538.0,170.0 C534.8,171.2 530.3,172.3 527.0,172.5 C523.7,172.7 519.8,172.1 518.0,171.0 C516.2,169.9 515.0,167.7 516.0,166.0 Z" fill="#E0E0E0"/><path d="M534.5,151.0 C535.2,149.0 536.9,147.1 538.0,146.0 C539.1,144.9 539.8,144.4 541.0,144.5 C542.2,144.6 543.6,145.7 545.0,146.5 C546.4,147.3 548.1,148.5 549.5,149.5 C550.9,150.5 552.2,151.3 553.5,152.5 C554.8,153.7 556.8,155.2 557.2,156.5 C557.6,157.8 557.0,159.2 556.0,160.5 C555.0,161.8 552.7,163.0 551.0,164.0 C549.3,165.0 547.8,165.9 546.0,166.5 C544.2,167.1 541.8,167.8 540.0,167.5 C538.2,167.2 536.1,166.6 535.0,165.0 C533.9,163.4 533.6,160.3 533.5,158.0 C533.4,155.7 533.8,153.0 534.5,151.0 Z" fill="#E0E0E0"/><ellipse cx="525.5" cy="170.5" rx="14" ry="5.6" fill="#E0E0E0" transform="rotate(-8 525.5 170.5)"/><path d="M520.0,162.0 C520.5,161.2 522.6,159.6 524.0,158.5 C525.4,157.4 527.6,155.8 528.5,155.5 C529.4,155.2 530.1,156.1 529.5,157.0 C528.9,157.9 526.4,159.9 525.0,161.0 C523.6,162.1 521.8,163.3 521.0,163.5 C520.2,163.7 519.5,162.8 520.0,162.0 Z" fill="#E0E0E0"/><path d="M551.0,148.5 C551.7,147.8 554.2,146.2 556.0,145.0 C557.8,143.8 560.4,141.9 561.5,141.5 C562.6,141.1 563.2,141.7 562.5,142.5 C561.8,143.3 559.2,145.3 557.5,146.5 C555.8,147.7 553.1,149.2 552.0,149.5 C550.9,149.8 550.3,149.2 551.0,148.5 Z" fill="#E0E0E0"/><ellipse cx="531.5" cy="160.8" rx="2.5" ry="1.8" fill="#E0E0E0"/></g></g>
<path d="M620.9000000000001,355.2 V386.4 H661.2" fill="none" stroke="#333" stroke-width="0.6"/>
<line x1="619.7" y1="356.3" x2="620.9000000000001" y2="356.3" stroke="#333" stroke-width="0.5"/>
<text x="619.2" y="358.1" font-size="5.1" text-anchor="end" font-weight="normal" font-family='"Liberation Serif", serif' fill="#333" >10</text>
<line x1="619.7" y1="362.1" x2="620.9000000000001" y2="362.1" stroke="#333" stroke-width="0.5"/>
<text x="619.2" y="363.85" font-size="5.1" text-anchor="end" font-weight="normal" font-family='"Liberation Serif", serif' fill="#333" >5</text>
<line x1="619.7" y1="367.8" x2="620.9000000000001" y2="367.8" stroke="#333" stroke-width="0.5"/>
<text x="619.2" y="369.6" font-size="5.1" text-anchor="end" font-weight="normal" font-family='"Liberation Serif", serif' fill="#333" >0</text>
<line x1="619.7" y1="373.6" x2="620.9000000000001" y2="373.6" stroke="#333" stroke-width="0.5"/>
<text x="619.2" y="375.35" font-size="5.1" text-anchor="end" font-weight="normal" font-family='"Liberation Serif", serif' fill="#333" >&#8722;5</text>
<line x1="619.7" y1="379.3" x2="620.9000000000001" y2="379.3" stroke="#333" stroke-width="0.5"/>
<text x="619.2" y="381.1" font-size="5.1" text-anchor="end" font-weight="normal" font-family='"Liberation Serif", serif' fill="#333" >&#8722;10</text>
<line x1="619.7" y1="385.1" x2="620.9000000000001" y2="385.1" stroke="#333" stroke-width="0.5"/>
<text x="619.2" y="386.85" font-size="5.1" text-anchor="end" font-weight="normal" font-family='"Liberation Serif", serif' fill="#333" >&#8722;15</text>
<line x1="620.9" y1="386.4" x2="620.9" y2="387.59999999999997" stroke="#333" stroke-width="0.5"/>
<line x1="630.1" y1="386.4" x2="630.1" y2="387.59999999999997" stroke="#333" stroke-width="0.5"/>
<line x1="639.3" y1="386.4" x2="639.3" y2="387.59999999999997" stroke="#333" stroke-width="0.5"/>
<line x1="648.5" y1="386.4" x2="648.5" y2="387.59999999999997" stroke="#333" stroke-width="0.5"/>
<line x1="657.7" y1="386.4" x2="657.7" y2="387.59999999999997" stroke="#333" stroke-width="0.5"/>
<text x="617.1000000000001" y="393.2" font-size="5.1" text-anchor="start" font-weight="normal" font-family='"Liberation Serif", serif' fill="#333" >&#8722;10&#8722;5 0 5 10</text>
<text x="639.7" y="399.8" font-size="5.4" text-anchor="middle" font-weight="normal" font-family='"Liberation Serif", serif' fill="#333" >umap_1</text>
<text x="0" y="0" font-size="5.6" text-anchor="middle" font-weight="normal" font-family='"Liberation Serif", serif' fill="#333" transform="translate(609.4000000000001,371.7) rotate(-90)">umap_2</text>
<rect x="667.1" y="353.4" width="6" height="33.9" fill="url(#cbar)"/>
<text x="675.9000000000001" y="355.09999999999997" font-size="5.0" text-anchor="start" font-weight="normal" font-family='"Liberation Serif", serif' fill="#333" >3</text>
<text x="675.9000000000001" y="366.49999999999994" font-size="5.0" text-anchor="start" font-weight="normal" font-family='"Liberation Serif", serif' fill="#333" >2</text>
<text x="675.9000000000001" y="377.9" font-size="5.0" text-anchor="start" font-weight="normal" font-family='"Liberation Serif", serif' fill="#333" >1</text>
<text x="675.9000000000001" y="389.29999999999995" font-size="5.0" text-anchor="start" font-weight="normal" font-family='"Liberation Serif", serif' fill="#333" >0</text>
<text x="1.6" y="412.0" font-size="15" text-anchor="start" font-weight="bold" font-family='"Liberation Serif", serif' fill="#111" >E</text>
<rect x="26.8" y="406.1" width="265.5" height="207.9" fill="none" stroke="#9A9A9A" stroke-width="0.9"/>
<rect x="39.2" y="409.20" width="1.5" height="7.2" fill="#5A2E6E" stroke="#333" stroke-width="0.45"/>
<rect x="40.7" y="409.20" width="4.7" height="7.2" fill="#38B6FF" stroke="#333" stroke-width="0.45"/>
<rect x="45.4" y="409.20" width="1.9" height="7.2" fill="#4CCCF1" stroke="#333" stroke-width="0.45"/>
<rect x="47.3" y="409.20" width="10.1" height="7.2" fill="#4CD3B4" stroke="#333" stroke-width="0.45"/>
<rect x="57.4" y="409.20" width="5.1" height="7.2" fill="#38CB7B" stroke="#333" stroke-width="0.45"/>
<rect x="62.5" y="409.20" width="10.1" height="7.2" fill="#72C22E" stroke="#333" stroke-width="0.45"/>
<rect x="72.6" y="409.20" width="18.9" height="7.2" fill="#A5B21F" stroke="#333" stroke-width="0.45"/>
<rect x="91.5" y="409.20" width="39.9" height="7.2" fill="#CAA41A" stroke="#333" stroke-width="0.45"/>
<rect x="131.4" y="409.20" width="49.8" height="7.2" fill="#E48F0D" stroke="#333" stroke-width="0.45"/>
<rect x="181.2" y="409.20" width="99.4" height="7.2" fill="#F8766D" stroke="#333" stroke-width="0.45"/>
<line x1="25" y1="412.80" x2="26.8" y2="412.80" stroke="#555" stroke-width="0.6"/>
<text x="24.4" y="414.5" font-size="5.0" text-anchor="end" font-weight="normal" font-family='"Liberation Serif", serif' fill="#444" >414</text>
<rect x="39.2" y="419.47" width="1.1" height="7.2" fill="#5A2E6E" stroke="#333" stroke-width="0.45"/>
<rect x="40.3" y="419.47" width="4.6" height="7.2" fill="#38B6FF" stroke="#333" stroke-width="0.45"/>
<rect x="44.9" y="419.47" width="1.1" height="7.2" fill="#4CCCF1" stroke="#333" stroke-width="0.45"/>
<rect x="46.0" y="419.47" width="19.4" height="7.2" fill="#4CD3B4" stroke="#333" stroke-width="0.45"/>
<rect x="65.4" y="419.47" width="7.0" height="7.2" fill="#38CB7B" stroke="#333" stroke-width="0.45"/>
<rect x="72.4" y="419.47" width="18.0" height="7.2" fill="#72C22E" stroke="#333" stroke-width="0.45"/>
<rect x="90.4" y="419.47" width="23.0" height="7.2" fill="#A5B21F" stroke="#333" stroke-width="0.45"/>
<rect x="113.4" y="419.47" width="41.1" height="7.2" fill="#CAA41A" stroke="#333" stroke-width="0.45"/>
<rect x="154.5" y="419.47" width="66.9" height="7.2" fill="#E48F0D" stroke="#333" stroke-width="0.45"/>
<rect x="221.4" y="419.47" width="59.2" height="7.2" fill="#F8766D" stroke="#333" stroke-width="0.45"/>
<line x1="25" y1="423.07" x2="26.8" y2="423.07" stroke="#555" stroke-width="0.6"/>
<text x="24.4" y="424.77" font-size="5.0" text-anchor="end" font-weight="normal" font-family='"Liberation Serif", serif' fill="#444" >325</text>
<rect x="39.2" y="429.74" width="2.4" height="7.2" fill="#A848B8" stroke="#333" stroke-width="0.45"/>
<rect x="41.6" y="429.74" width="1.0" height="7.2" fill="#B29CFF" stroke="#333" stroke-width="0.45"/>
<rect x="42.6" y="429.74" width="6.1" height="7.2" fill="#38B6FF" stroke="#333" stroke-width="0.45"/>
<rect x="48.7" y="429.74" width="2.5" height="7.2" fill="#4CCCF1" stroke="#333" stroke-width="0.45"/>
<rect x="51.2" y="429.74" width="2.4" height="7.2" fill="#4CD2D6" stroke="#333" stroke-width="0.45"/>
<rect x="53.6" y="429.74" width="14.0" height="7.2" fill="#4CD3B4" stroke="#333" stroke-width="0.45"/>
<rect x="67.6" y="429.74" width="13.9" height="7.2" fill="#38CB7B" stroke="#333" stroke-width="0.45"/>
<rect x="81.5" y="429.74" width="11.9" height="7.2" fill="#72C22E" stroke="#333" stroke-width="0.45"/>
<rect x="93.4" y="429.74" width="13.1" height="7.2" fill="#A5B21F" stroke="#333" stroke-width="0.45"/>
<rect x="106.5" y="429.74" width="44.8" height="7.2" fill="#CAA41A" stroke="#333" stroke-width="0.45"/>
<rect x="151.3" y="429.74" width="60.1" height="7.2" fill="#E48F0D" stroke="#333" stroke-width="0.45"/>
<rect x="211.4" y="429.74" width="69.2" height="7.2" fill="#F8766D" stroke="#333" stroke-width="0.45"/>
<line x1="25" y1="433.34" x2="26.8" y2="433.34" stroke="#555" stroke-width="0.6"/>
<text x="24.4" y="435.04" font-size="5.0" text-anchor="end" font-weight="normal" font-family='"Liberation Serif", serif' fill="#444" >320</text>
<rect x="39.2" y="440.01" width="2.4" height="7.2" fill="#5A2E6E" stroke="#333" stroke-width="0.45"/>
<rect x="41.6" y="440.01" width="5.7" height="7.2" fill="#38B6FF" stroke="#333" stroke-width="0.45"/>
<rect x="47.3" y="440.01" width="2.5" height="7.2" fill="#4CCCF1" stroke="#333" stroke-width="0.45"/>
<rect x="49.8" y="440.01" width="33.6" height="7.2" fill="#4CD3B4" stroke="#333" stroke-width="0.45"/>
<rect x="83.4" y="440.01" width="4.7" height="7.2" fill="#38CB7B" stroke="#333" stroke-width="0.45"/>
<rect x="88.1" y="440.01" width="2.3" height="7.2" fill="#72C22E" stroke="#333" stroke-width="0.45"/>
<rect x="90.4" y="440.01" width="18.2" height="7.2" fill="#A5B21F" stroke="#333" stroke-width="0.45"/>
<rect x="108.6" y="440.01" width="74.9" height="7.2" fill="#CAA41A" stroke="#333" stroke-width="0.45"/>
<rect x="183.5" y="440.01" width="45.1" height="7.2" fill="#E48F0D" stroke="#333" stroke-width="0.45"/>
<rect x="228.6" y="440.01" width="52.0" height="7.2" fill="#F8766D" stroke="#333" stroke-width="0.45"/>
<line x1="25" y1="443.61" x2="26.8" y2="443.61" stroke="#555" stroke-width="0.6"/>
<text x="24.4" y="445.31" font-size="5.0" text-anchor="end" font-weight="normal" font-family='"Liberation Serif", serif' fill="#444" >288</text>
<rect x="39.2" y="450.28" width="2.4" height="7.2" fill="#5A2E6E" stroke="#333" stroke-width="0.45"/>
<rect x="41.6" y="450.28" width="13.7" height="7.2" fill="#38B6FF" stroke="#333" stroke-width="0.45"/>
<rect x="55.3" y="450.28" width="10.1" height="7.2" fill="#4CCCF1" stroke="#333" stroke-width="0.45"/>
<rect x="65.4" y="450.28" width="1.1" height="7.2" fill="#4CD2D6" stroke="#333" stroke-width="0.45"/>
<rect x="66.5" y="450.28" width="8.0" height="7.2" fill="#4CD3B4" stroke="#333" stroke-width="0.45"/>
<rect x="74.5" y="450.28" width="7.9" height="7.2" fill="#38CB7B" stroke="#333" stroke-width="0.45"/>
<rect x="82.4" y="450.28" width="11.4" height="7.2" fill="#72C22E" stroke="#333" stroke-width="0.45"/>
<rect x="93.8" y="450.28" width="13.7" height="7.2" fill="#A5B21F" stroke="#333" stroke-width="0.45"/>
<rect x="107.5" y="450.28" width="37.0" height="7.2" fill="#CAA41A" stroke="#333" stroke-width="0.45"/>
<rect x="144.5" y="450.28" width="65.0" height="7.2" fill="#E48F0D" stroke="#333" stroke-width="0.45"/>
<rect x="209.5" y="450.28" width="71.1" height="7.2" fill="#F8766D" stroke="#333" stroke-width="0.45"/>
<line x1="25" y1="453.88" x2="26.8" y2="453.88" stroke="#555" stroke-width="0.6"/>
<text x="24.4" y="455.58" font-size="5.0" text-anchor="end" font-weight="normal" font-family='"Liberation Serif", serif' fill="#444" >260</text>
<rect x="39.2" y="460.55" width="1.5" height="7.2" fill="#5A2E6E" stroke="#333" stroke-width="0.45"/>
<rect x="40.7" y="460.55" width="5.3" height="7.2" fill="#38B6FF" stroke="#333" stroke-width="0.45"/>
<rect x="46.0" y="460.55" width="4.2" height="7.2" fill="#4CCCF1" stroke="#333" stroke-width="0.45"/>
<rect x="50.2" y="460.55" width="28.1" height="7.2" fill="#4CD3B4" stroke="#333" stroke-width="0.45"/>
<rect x="78.3" y="460.55" width="4.1" height="7.2" fill="#38CB7B" stroke="#333" stroke-width="0.45"/>
<rect x="82.4" y="460.55" width="10.1" height="7.2" fill="#72C22E" stroke="#333" stroke-width="0.45"/>
<rect x="92.5" y="460.55" width="17.8" height="7.2" fill="#A5B21F" stroke="#333" stroke-width="0.45"/>
<rect x="110.3" y="460.55" width="53.2" height="7.2" fill="#CAA41A" stroke="#333" stroke-width="0.45"/>
<rect x="163.5" y="460.55" width="64.2" height="7.2" fill="#E48F0D" stroke="#333" stroke-width="0.45"/>
<rect x="227.7" y="460.55" width="52.9" height="7.2" fill="#F8766D" stroke="#333" stroke-width="0.45"/>
<line x1="25" y1="464.15" x2="26.8" y2="464.15" stroke="#555" stroke-width="0.6"/>
<text x="24.4" y="465.84999999999997" font-size="5.0" text-anchor="end" font-weight="normal" font-family='"Liberation Serif", serif' fill="#444" >265</text>
<rect x="39.2" y="470.82" width="2.4" height="7.2" fill="#A848B8" stroke="#333" stroke-width="0.45"/>
<rect x="41.6" y="470.82" width="11.4" height="7.2" fill="#38B6FF" stroke="#333" stroke-width="0.45"/>
<rect x="53.0" y="470.82" width="1.9" height="7.2" fill="#4CCCF1" stroke="#333" stroke-width="0.45"/>
<rect x="54.9" y="470.82" width="19.0" height="7.2" fill="#4CD3B4" stroke="#333" stroke-width="0.45"/>
<rect x="73.9" y="470.82" width="7.6" height="7.2" fill="#38CB7B" stroke="#333" stroke-width="0.45"/>
<rect x="81.5" y="470.82" width="4.7" height="7.2" fill="#72C22E" stroke="#333" stroke-width="0.45"/>
<rect x="86.2" y="470.82" width="6.3" height="7.2" fill="#A5B21F" stroke="#333" stroke-width="0.45"/>
<rect x="92.5" y="470.82" width="59.8" height="7.2" fill="#CAA41A" stroke="#333" stroke-width="0.45"/>
<rect x="152.3" y="470.82" width="62.5" height="7.2" fill="#E48F0D" stroke="#333" stroke-width="0.45"/>
<rect x="214.8" y="470.82" width="65.8" height="7.2" fill="#F8766D" stroke="#333" stroke-width="0.45"/>
<line x1="25" y1="474.42" x2="26.8" y2="474.42" stroke="#555" stroke-width="0.6"/>
<text x="24.4" y="476.12" font-size="5.0" text-anchor="end" font-weight="normal" font-family='"Liberation Serif", serif' fill="#444" >248</text>
<rect x="39.2" y="481.09" width="2.4" height="7.2" fill="#5A2E6E" stroke="#333" stroke-width="0.45"/>
<rect x="41.6" y="481.09" width="4.8" height="7.2" fill="#38B6FF" stroke="#333" stroke-width="0.45"/>
<rect x="46.4" y="481.09" width="2.3" height="7.2" fill="#4CCCF1" stroke="#333" stroke-width="0.45"/>
<rect x="48.7" y="481.09" width="14.8" height="7.2" fill="#4CD3B4" stroke="#333" stroke-width="0.45"/>
<rect x="63.5" y="481.09" width="12.9" height="7.2" fill="#38CB7B" stroke="#333" stroke-width="0.45"/>
<rect x="76.4" y="481.09" width="6.0" height="7.2" fill="#72C22E" stroke="#333" stroke-width="0.45"/>
<rect x="82.4" y="481.09" width="11.0" height="7.2" fill="#A5B21F" stroke="#333" stroke-width="0.45"/>
<rect x="93.4" y="481.09" width="48.8" height="7.2" fill="#CAA41A" stroke="#333" stroke-width="0.45"/>
<rect x="142.2" y="481.09" width="44.1" height="7.2" fill="#E48F0D" stroke="#333" stroke-width="0.45"/>
<rect x="186.3" y="481.09" width="94.3" height="7.2" fill="#F8766D" stroke="#333" stroke-width="0.45"/>
<line x1="25" y1="484.69" x2="26.8" y2="484.69" stroke="#555" stroke-width="0.6"/>
<text x="24.4" y="486.39" font-size="5.0" text-anchor="end" font-weight="normal" font-family='"Liberation Serif", serif' fill="#444" >151</text>
<rect x="39.2" y="491.36" width="1.5" height="7.2" fill="#5A2E6E" stroke="#333" stroke-width="0.45"/>
<rect x="40.7" y="491.36" width="3.4" height="7.2" fill="#38B6FF" stroke="#333" stroke-width="0.45"/>
<rect x="44.1" y="491.36" width="3.8" height="7.2" fill="#4CCCF1" stroke="#333" stroke-width="0.45"/>
<rect x="47.9" y="491.36" width="16.5" height="7.2" fill="#4CD3B4" stroke="#333" stroke-width="0.45"/>
<rect x="64.4" y="491.36" width="8.2" height="7.2" fill="#38CB7B" stroke="#333" stroke-width="0.45"/>
<rect x="72.6" y="491.36" width="7.4" height="7.2" fill="#72C22E" stroke="#333" stroke-width="0.45"/>
<rect x="80.0" y="491.36" width="19.5" height="7.2" fill="#A5B21F" stroke="#333" stroke-width="0.45"/>
<rect x="99.5" y="491.36" width="50.9" height="7.2" fill="#CAA41A" stroke="#333" stroke-width="0.45"/>
<rect x="150.4" y="491.36" width="78.2" height="7.2" fill="#E48F0D" stroke="#333" stroke-width="0.45"/>
<rect x="228.6" y="491.36" width="52.0" height="7.2" fill="#F8766D" stroke="#333" stroke-width="0.45"/>
<line x1="25" y1="494.96" x2="26.8" y2="494.96" stroke="#555" stroke-width="0.6"/>
<text x="24.4" y="496.66" font-size="5.0" text-anchor="end" font-weight="normal" font-family='"Liberation Serif", serif' fill="#444" >135</text>
<rect x="39.2" y="501.63" width="3.0" height="7.2" fill="#5A2E6E" stroke="#333" stroke-width="0.45"/>
<rect x="42.2" y="501.63" width="3.2" height="7.2" fill="#38B6FF" stroke="#333" stroke-width="0.45"/>
<rect x="45.4" y="501.63" width="21.9" height="7.2" fill="#4CCCF1" stroke="#333" stroke-width="0.45"/>
<rect x="67.3" y="501.63" width="17.4" height="7.2" fill="#4CD2D6" stroke="#333" stroke-width="0.45"/>
<rect x="84.7" y="501.63" width="14.8" height="7.2" fill="#4CD3B4" stroke="#333" stroke-width="0.45"/>
<rect x="99.5" y="501.63" width="6.1" height="7.2" fill="#38CB7B" stroke="#333" stroke-width="0.45"/>
<rect x="105.6" y="501.63" width="7.2" height="7.2" fill="#72C22E" stroke="#333" stroke-width="0.45"/>
<rect x="112.8" y="501.63" width="10.4" height="7.2" fill="#A5B21F" stroke="#333" stroke-width="0.45"/>
<rect x="123.2" y="501.63" width="32.3" height="7.2" fill="#CAA41A" stroke="#333" stroke-width="0.45"/>
<rect x="155.5" y="501.63" width="65.0" height="7.2" fill="#E48F0D" stroke="#333" stroke-width="0.45"/>
<rect x="220.5" y="501.63" width="60.1" height="7.2" fill="#F8766D" stroke="#333" stroke-width="0.45"/>
<line x1="25" y1="505.23" x2="26.8" y2="505.23" stroke="#555" stroke-width="0.6"/>
<text x="24.4" y="506.93" font-size="5.0" text-anchor="end" font-weight="normal" font-family='"Liberation Serif", serif' fill="#444" >127</text>
<rect x="39.2" y="511.90" width="2.4" height="7.2" fill="#5A2E6E" stroke="#333" stroke-width="0.45"/>
<rect x="41.6" y="511.90" width="22.8" height="7.2" fill="#4CCCF1" stroke="#333" stroke-width="0.45"/>
<rect x="64.4" y="511.90" width="31.7" height="7.2" fill="#4CD2D6" stroke="#333" stroke-width="0.45"/>
<rect x="96.1" y="511.90" width="18.2" height="7.2" fill="#4CD3B4" stroke="#333" stroke-width="0.45"/>
<rect x="114.3" y="511.90" width="7.0" height="7.2" fill="#38CB7B" stroke="#333" stroke-width="0.45"/>
<rect x="121.3" y="511.90" width="4.2" height="7.2" fill="#72C22E" stroke="#333" stroke-width="0.45"/>
<rect x="125.5" y="511.90" width="12.0" height="7.2" fill="#A5B21F" stroke="#333" stroke-width="0.45"/>
<rect x="137.5" y="511.90" width="64.0" height="7.2" fill="#CAA41A" stroke="#333" stroke-width="0.45"/>
<rect x="201.5" y="511.90" width="38.9" height="7.2" fill="#E48F0D" stroke="#333" stroke-width="0.45"/>
<rect x="240.4" y="511.90" width="40.2" height="7.2" fill="#F8766D" stroke="#333" stroke-width="0.45"/>
<line x1="25" y1="515.50" x2="26.8" y2="515.50" stroke="#555" stroke-width="0.6"/>
<text x="24.4" y="517.2" font-size="5.0" text-anchor="end" font-weight="normal" font-family='"Liberation Serif", serif' fill="#444" >122</text>
<rect x="39.2" y="522.17" width="2.4" height="7.2" fill="#5A2E6E" stroke="#333" stroke-width="0.45"/>
<rect x="41.6" y="522.17" width="9.5" height="7.2" fill="#38B6FF" stroke="#333" stroke-width="0.45"/>
<rect x="51.1" y="522.17" width="3.4" height="7.2" fill="#4CCCF1" stroke="#333" stroke-width="0.45"/>
<rect x="54.5" y="522.17" width="22.6" height="7.2" fill="#4CD3B4" stroke="#333" stroke-width="0.45"/>
<rect x="77.1" y="522.17" width="11.4" height="7.2" fill="#38CB7B" stroke="#333" stroke-width="0.45"/>
<rect x="88.5" y="522.17" width="4.9" height="7.2" fill="#72C22E" stroke="#333" stroke-width="0.45"/>
<rect x="93.4" y="522.17" width="11.2" height="7.2" fill="#A5B21F" stroke="#333" stroke-width="0.45"/>
<rect x="104.6" y="522.17" width="33.8" height="7.2" fill="#CAA41A" stroke="#333" stroke-width="0.45"/>
<rect x="138.4" y="522.17" width="59.9" height="7.2" fill="#E48F0D" stroke="#333" stroke-width="0.45"/>
<rect x="198.3" y="522.17" width="82.3" height="7.2" fill="#F8766D" stroke="#333" stroke-width="0.45"/>
<line x1="25" y1="525.77" x2="26.8" y2="525.77" stroke="#555" stroke-width="0.6"/>
<text x="24.4" y="527.47" font-size="5.0" text-anchor="end" font-weight="normal" font-family='"Liberation Serif", serif' fill="#444" >116</text>
<rect x="39.2" y="532.44" width="3.0" height="7.2" fill="#A848B8" stroke="#333" stroke-width="0.45"/>
<rect x="42.2" y="532.44" width="2.3" height="7.2" fill="#38B6FF" stroke="#333" stroke-width="0.45"/>
<rect x="44.5" y="532.44" width="20.9" height="7.2" fill="#4CCCF1" stroke="#333" stroke-width="0.45"/>
<rect x="65.4" y="532.44" width="8.1" height="7.2" fill="#4CD2D6" stroke="#333" stroke-width="0.45"/>
<rect x="73.5" y="532.44" width="18.8" height="7.2" fill="#4CD3B4" stroke="#333" stroke-width="0.45"/>
<rect x="92.3" y="532.44" width="9.1" height="7.2" fill="#38CB7B" stroke="#333" stroke-width="0.45"/>
<rect x="101.4" y="532.44" width="6.1" height="7.2" fill="#72C22E" stroke="#333" stroke-width="0.45"/>
<rect x="107.5" y="532.44" width="11.0" height="7.2" fill="#A5B21F" stroke="#333" stroke-width="0.45"/>
<rect x="118.5" y="532.44" width="51.7" height="7.2" fill="#CAA41A" stroke="#333" stroke-width="0.45"/>
<rect x="170.2" y="532.44" width="33.2" height="7.2" fill="#E48F0D" stroke="#333" stroke-width="0.45"/>
<rect x="203.4" y="532.44" width="77.2" height="7.2" fill="#F8766D" stroke="#333" stroke-width="0.45"/>
<line x1="25" y1="536.04" x2="26.8" y2="536.04" stroke="#555" stroke-width="0.6"/>
<text x="24.4" y="537.74" font-size="5.0" text-anchor="end" font-weight="normal" font-family='"Liberation Serif", serif' fill="#444" >099</text>
<rect x="39.2" y="542.71" width="2.4" height="7.2" fill="#5A2E6E" stroke="#333" stroke-width="0.45"/>
<rect x="41.6" y="542.71" width="6.3" height="7.2" fill="#4CCCF1" stroke="#333" stroke-width="0.45"/>
<rect x="47.9" y="542.71" width="33.2" height="7.2" fill="#4CD2D6" stroke="#333" stroke-width="0.45"/>
<rect x="81.1" y="542.71" width="10.8" height="7.2" fill="#4CD3B4" stroke="#333" stroke-width="0.45"/>
<rect x="91.9" y="542.71" width="15.6" height="7.2" fill="#38CB7B" stroke="#333" stroke-width="0.45"/>
<rect x="107.5" y="542.71" width="2.1" height="7.2" fill="#72C22E" stroke="#333" stroke-width="0.45"/>
<rect x="109.6" y="542.71" width="22.7" height="7.2" fill="#A5B21F" stroke="#333" stroke-width="0.45"/>
<rect x="132.3" y="542.71" width="50.2" height="7.2" fill="#CAA41A" stroke="#333" stroke-width="0.45"/>
<rect x="182.5" y="542.71" width="54.1" height="7.2" fill="#E48F0D" stroke="#333" stroke-width="0.45"/>
<rect x="236.6" y="542.71" width="44.0" height="7.2" fill="#F8766D" stroke="#333" stroke-width="0.45"/>
<line x1="25" y1="546.31" x2="26.8" y2="546.31" stroke="#555" stroke-width="0.6"/>
<text x="24.4" y="548.01" font-size="5.0" text-anchor="end" font-weight="normal" font-family='"Liberation Serif", serif' fill="#444" >078</text>
<rect x="39.2" y="552.98" width="3.0" height="7.2" fill="#9B7FE8" stroke="#333" stroke-width="0.45"/>
<rect x="42.2" y="552.98" width="3.8" height="7.2" fill="#38B6FF" stroke="#333" stroke-width="0.45"/>
<rect x="46.0" y="552.98" width="10.3" height="7.2" fill="#4CCCF1" stroke="#333" stroke-width="0.45"/>
<rect x="56.3" y="552.98" width="10.4" height="7.2" fill="#4CD2D6" stroke="#333" stroke-width="0.45"/>
<rect x="66.7" y="552.98" width="12.9" height="7.2" fill="#4CD3B4" stroke="#333" stroke-width="0.45"/>
<rect x="79.6" y="552.98" width="7.0" height="7.2" fill="#38CB7B" stroke="#333" stroke-width="0.45"/>
<rect x="86.6" y="552.98" width="12.0" height="7.2" fill="#72C22E" stroke="#333" stroke-width="0.45"/>
<rect x="98.6" y="552.98" width="16.1" height="7.2" fill="#A5B21F" stroke="#333" stroke-width="0.45"/>
<rect x="114.7" y="552.98" width="41.7" height="7.2" fill="#CAA41A" stroke="#333" stroke-width="0.45"/>
<rect x="156.4" y="552.98" width="75.1" height="7.2" fill="#E48F0D" stroke="#333" stroke-width="0.45"/>
<rect x="231.5" y="552.98" width="49.1" height="7.2" fill="#F8766D" stroke="#333" stroke-width="0.45"/>
<line x1="25" y1="556.58" x2="26.8" y2="556.58" stroke="#555" stroke-width="0.6"/>
<text x="24.4" y="558.2800000000001" font-size="5.0" text-anchor="end" font-weight="normal" font-family='"Liberation Serif", serif' fill="#444" >073</text>
<rect x="39.2" y="563.25" width="2.4" height="7.2" fill="#5A2E6E" stroke="#333" stroke-width="0.45"/>
<rect x="41.6" y="563.25" width="3.8" height="7.2" fill="#38B6FF" stroke="#333" stroke-width="0.45"/>
<rect x="45.4" y="563.25" width="3.8" height="7.2" fill="#4CCCF1" stroke="#333" stroke-width="0.45"/>
<rect x="49.2" y="563.25" width="3.3" height="7.2" fill="#4CD2D6" stroke="#333" stroke-width="0.45"/>
<rect x="52.5" y="563.25" width="19.9" height="7.2" fill="#4CD3B4" stroke="#333" stroke-width="0.45"/>
<rect x="72.4" y="563.25" width="5.3" height="7.2" fill="#38CB7B" stroke="#333" stroke-width="0.45"/>
<rect x="77.7" y="563.25" width="3.8" height="7.2" fill="#72C22E" stroke="#333" stroke-width="0.45"/>
<rect x="81.5" y="563.25" width="21.8" height="7.2" fill="#A5B21F" stroke="#333" stroke-width="0.45"/>
<rect x="103.3" y="563.25" width="49.0" height="7.2" fill="#CAA41A" stroke="#333" stroke-width="0.45"/>
<rect x="152.3" y="563.25" width="63.8" height="7.2" fill="#E48F0D" stroke="#333" stroke-width="0.45"/>
<rect x="216.1" y="563.25" width="64.5" height="7.2" fill="#F8766D" stroke="#333" stroke-width="0.45"/>
<line x1="25" y1="566.85" x2="26.8" y2="566.85" stroke="#555" stroke-width="0.6"/>
<text x="24.4" y="568.5500000000001" font-size="5.0" text-anchor="end" font-weight="normal" font-family='"Liberation Serif", serif' fill="#444" >065</text>
<rect x="39.2" y="573.52" width="2.4" height="7.2" fill="#5A2E6E" stroke="#333" stroke-width="0.45"/>
<rect x="41.6" y="573.52" width="5.2" height="7.2" fill="#38B6FF" stroke="#333" stroke-width="0.45"/>
<rect x="46.8" y="573.52" width="5.7" height="7.2" fill="#4CCCF1" stroke="#333" stroke-width="0.45"/>
<rect x="52.5" y="573.52" width="11.9" height="7.2" fill="#4CD2D6" stroke="#333" stroke-width="0.45"/>
<rect x="64.4" y="573.52" width="6.1" height="7.2" fill="#4CD3B4" stroke="#333" stroke-width="0.45"/>
<rect x="70.5" y="573.52" width="8.1" height="7.2" fill="#38CB7B" stroke="#333" stroke-width="0.45"/>
<rect x="78.6" y="573.52" width="27.0" height="7.2" fill="#72C22E" stroke="#333" stroke-width="0.45"/>
<rect x="105.6" y="573.52" width="23.9" height="7.2" fill="#A5B21F" stroke="#333" stroke-width="0.45"/>
<rect x="129.5" y="573.52" width="52.1" height="7.2" fill="#CAA41A" stroke="#333" stroke-width="0.45"/>
<rect x="181.6" y="573.52" width="63.9" height="7.2" fill="#E48F0D" stroke="#333" stroke-width="0.45"/>
<rect x="245.5" y="573.52" width="35.1" height="7.2" fill="#F8766D" stroke="#333" stroke-width="0.45"/>
<line x1="25" y1="577.12" x2="26.8" y2="577.12" stroke="#555" stroke-width="0.6"/>
<text x="24.4" y="578.82" font-size="5.0" text-anchor="end" font-weight="normal" font-family='"Liberation Serif", serif' fill="#444" >035</text>
<rect x="39.2" y="583.79" width="3.4" height="7.2" fill="#A848B8" stroke="#333" stroke-width="0.45"/>
<rect x="42.6" y="583.79" width="5.7" height="7.2" fill="#38B6FF" stroke="#333" stroke-width="0.45"/>
<rect x="48.3" y="583.79" width="2.3" height="7.2" fill="#4CCCF1" stroke="#333" stroke-width="0.45"/>
<rect x="50.6" y="583.79" width="23.3" height="7.2" fill="#4CD3B4" stroke="#333" stroke-width="0.45"/>
<rect x="73.9" y="583.79" width="14.6" height="7.2" fill="#38CB7B" stroke="#333" stroke-width="0.45"/>
<rect x="88.5" y="583.79" width="10.1" height="7.2" fill="#72C22E" stroke="#333" stroke-width="0.45"/>
<rect x="98.6" y="583.79" width="9.8" height="7.2" fill="#A5B21F" stroke="#333" stroke-width="0.45"/>
<rect x="108.4" y="583.79" width="44.2" height="7.2" fill="#CAA41A" stroke="#333" stroke-width="0.45"/>
<rect x="152.6" y="583.79" width="44.7" height="7.2" fill="#E48F0D" stroke="#333" stroke-width="0.45"/>
<rect x="197.3" y="583.79" width="83.3" height="7.2" fill="#F8766D" stroke="#333" stroke-width="0.45"/>
<line x1="25" y1="587.39" x2="26.8" y2="587.39" stroke="#555" stroke-width="0.6"/>
<text x="24.4" y="589.09" font-size="5.0" text-anchor="end" font-weight="normal" font-family='"Liberation Serif", serif' fill="#444" >028</text>
<rect x="39.2" y="594.06" width="2.4" height="7.2" fill="#5A2E6E" stroke="#333" stroke-width="0.45"/>
<rect x="41.6" y="594.06" width="6.7" height="7.2" fill="#38B6FF" stroke="#333" stroke-width="0.45"/>
<rect x="48.3" y="594.06" width="3.4" height="7.2" fill="#4CCCF1" stroke="#333" stroke-width="0.45"/>
<rect x="51.7" y="594.06" width="4.6" height="7.2" fill="#4CD2D6" stroke="#333" stroke-width="0.45"/>
<rect x="56.3" y="594.06" width="16.1" height="7.2" fill="#4CD3B4" stroke="#333" stroke-width="0.45"/>
<rect x="72.4" y="594.06" width="4.0" height="7.2" fill="#38CB7B" stroke="#333" stroke-width="0.45"/>
<rect x="76.4" y="594.06" width="11.7" height="7.2" fill="#72C22E" stroke="#333" stroke-width="0.45"/>
<rect x="88.1" y="594.06" width="13.7" height="7.2" fill="#A5B21F" stroke="#333" stroke-width="0.45"/>
<rect x="101.8" y="594.06" width="64.6" height="7.2" fill="#CAA41A" stroke="#333" stroke-width="0.45"/>
<rect x="166.4" y="594.06" width="83.1" height="7.2" fill="#E48F0D" stroke="#333" stroke-width="0.45"/>
<rect x="249.5" y="594.06" width="31.1" height="7.2" fill="#F8766D" stroke="#333" stroke-width="0.45"/>
<line x1="25" y1="597.66" x2="26.8" y2="597.66" stroke="#555" stroke-width="0.6"/>
<text x="24.4" y="599.36" font-size="5.0" text-anchor="end" font-weight="normal" font-family='"Liberation Serif", serif' fill="#444" >019</text>
<rect x="39.2" y="604.33" width="1.5" height="7.2" fill="#5A2E6E" stroke="#333" stroke-width="0.45"/>
<rect x="40.7" y="604.33" width="11.8" height="7.2" fill="#38B6FF" stroke="#333" stroke-width="0.45"/>
<rect x="52.5" y="604.33" width="8.1" height="7.2" fill="#4CCCF1" stroke="#333" stroke-width="0.45"/>
<rect x="60.6" y="604.33" width="3.8" height="7.2" fill="#4CD2D6" stroke="#333" stroke-width="0.45"/>
<rect x="64.4" y="604.33" width="16.1" height="7.2" fill="#4CD3B4" stroke="#333" stroke-width="0.45"/>
<rect x="80.5" y="604.33" width="5.7" height="7.2" fill="#38CB7B" stroke="#333" stroke-width="0.45"/>
<rect x="86.2" y="604.33" width="3.4" height="7.2" fill="#72C22E" stroke="#333" stroke-width="0.45"/>
<rect x="89.6" y="604.33" width="20.7" height="7.2" fill="#A5B21F" stroke="#333" stroke-width="0.45"/>
<rect x="110.3" y="604.33" width="53.6" height="7.2" fill="#CAA41A" stroke="#333" stroke-width="0.45"/>
<rect x="163.9" y="604.33" width="58.5" height="7.2" fill="#E48F0D" stroke="#333" stroke-width="0.45"/>
<rect x="222.4" y="604.33" width="58.2" height="7.2" fill="#F8766D" stroke="#333" stroke-width="0.45"/>
<line x1="25" y1="607.93" x2="26.8" y2="607.93" stroke="#555" stroke-width="0.6"/>
<text x="24.4" y="609.6300000000001" font-size="5.0" text-anchor="end" font-weight="normal" font-family='"Liberation Serif", serif' fill="#444" >016</text>
<line x1="39.2" y1="614" x2="39.2" y2="615.6" stroke="#555" stroke-width="0.6"/>
<text x="39.2" y="620.2" font-size="5.0" text-anchor="middle" font-weight="normal" font-family='"Liberation Serif", serif' fill="#444" >0.00</text>
<line x1="99.6" y1="614" x2="99.6" y2="615.6" stroke="#555" stroke-width="0.6"/>
<text x="99.55000000000001" y="620.2" font-size="5.0" text-anchor="middle" font-weight="normal" font-family='"Liberation Serif", serif' fill="#444" >0.25</text>
<line x1="159.9" y1="614" x2="159.9" y2="615.6" stroke="#555" stroke-width="0.6"/>
<text x="159.9" y="620.2" font-size="5.0" text-anchor="middle" font-weight="normal" font-family='"Liberation Serif", serif' fill="#444" >0.50</text>
<line x1="220.2" y1="614" x2="220.2" y2="615.6" stroke="#555" stroke-width="0.6"/>
<text x="220.25" y="620.2" font-size="5.0" text-anchor="middle" font-weight="normal" font-family='"Liberation Serif", serif' fill="#444" >0.75</text>
<line x1="280.6" y1="614" x2="280.6" y2="615.6" stroke="#555" stroke-width="0.6"/>
<text x="280.6" y="620.2" font-size="5.0" text-anchor="middle" font-weight="normal" font-family='"Liberation Serif", serif' fill="#444" >1.00</text>
<text x="159.8" y="625.2" font-size="5.8" text-anchor="middle" font-weight="normal" font-family='"Liberation Serif", serif' fill="#333" >Ratio</text>
<text x="0" y="0" font-size="5.8" text-anchor="middle" font-weight="normal" font-family='"Liberation Serif", serif' fill="#333" transform="translate(17.2,510) rotate(-90)">Subjects</text>
<text x="300.3" y="457.6" font-size="5.2" text-anchor="start" font-weight="normal" font-family='"Liberation Serif", serif' fill="#333" >Cell types</text>
<rect x="300.5" y="460.50" width="7.1" height="7.63" fill="#F8766D" stroke="#333" stroke-width="0.5"/>
<text x="309.8" y="465.8" font-size="3.9" text-anchor="start" font-weight="normal" font-family='"Liberation Serif", serif' fill="#111" >CD14+ monocytes</text>
<rect x="300.5" y="468.13" width="7.1" height="7.63" fill="#E48F0D" stroke="#333" stroke-width="0.5"/>
<text x="309.8" y="473.43" font-size="3.9" text-anchor="start" font-weight="normal" font-family='"Liberation Serif", serif' fill="#111" >CD8+T cells</text>
<rect x="300.5" y="475.76" width="7.1" height="7.63" fill="#CAA41A" stroke="#333" stroke-width="0.5"/>
<text x="309.8" y="481.06" font-size="3.9" text-anchor="start" font-weight="normal" font-family='"Liberation Serif", serif' fill="#111" >CD4+ T cells</text>
<rect x="300.5" y="483.39" width="7.1" height="7.63" fill="#A5B21F" stroke="#333" stroke-width="0.5"/>
<text x="309.8" y="488.69" font-size="3.9" text-anchor="start" font-weight="normal" font-family='"Liberation Serif", serif' fill="#111" >NK cells</text>
<rect x="300.5" y="491.02" width="7.1" height="7.63" fill="#72C22E" stroke="#333" stroke-width="0.5"/>
<text x="309.8" y="496.32" font-size="3.9" text-anchor="start" font-weight="normal" font-family='"Liberation Serif", serif' fill="#111" >γδ T cells</text>
<rect x="300.5" y="498.65" width="7.1" height="7.63" fill="#38CB7B" stroke="#333" stroke-width="0.5"/>
<text x="309.8" y="503.95" font-size="3.9" text-anchor="start" font-weight="normal" font-family='"Liberation Serif", serif' fill="#111" >CD16+ monocytes</text>
<rect x="300.5" y="506.28" width="7.1" height="7.63" fill="#4CD3B4" stroke="#333" stroke-width="0.5"/>
<text x="309.8" y="511.58" font-size="3.9" text-anchor="start" font-weight="normal" font-family='"Liberation Serif", serif' fill="#111" >B cells</text>
<rect x="300.5" y="513.91" width="7.1" height="7.63" fill="#4CD2D6" stroke="#333" stroke-width="0.5"/>
<text x="309.8" y="519.2099999999999" font-size="3.9" text-anchor="start" font-weight="normal" font-family='"Liberation Serif", serif' fill="#111" >Mixed cells</text>
<rect x="300.5" y="521.54" width="7.1" height="7.63" fill="#4CCCF1" stroke="#333" stroke-width="0.5"/>
<text x="309.8" y="526.8399999999999" font-size="3.9" text-anchor="start" font-weight="normal" font-family='"Liberation Serif", serif' fill="#111" >DCs</text>
<rect x="300.5" y="529.17" width="7.1" height="7.63" fill="#38B6FF" stroke="#333" stroke-width="0.5"/>
<text x="309.8" y="534.4699999999999" font-size="3.9" text-anchor="start" font-weight="normal" font-family='"Liberation Serif", serif' fill="#111" >Megakaryocytes / platelet</text>
<rect x="300.5" y="536.80" width="7.1" height="7.63" fill="#B29CFF" stroke="#333" stroke-width="0.5"/>
<text x="309.8" y="542.0999999999999" font-size="3.9" text-anchor="start" font-weight="normal" font-family='"Liberation Serif", serif' fill="#111" >Plasma B cells</text>
<rect x="300.5" y="544.43" width="7.1" height="7.63" fill="#E485F9" stroke="#333" stroke-width="0.5"/>
<text x="309.8" y="549.7299999999999" font-size="3.9" text-anchor="start" font-weight="normal" font-family='"Liberation Serif", serif' fill="#111" >pro T cells</text>
<rect x="300.5" y="552.06" width="7.1" height="7.63" fill="#FC79DD" stroke="#333" stroke-width="0.5"/>
<text x="309.8" y="557.3599999999999" font-size="3.9" text-anchor="start" font-weight="normal" font-family='"Liberation Serif", serif' fill="#111" >mDCs</text>
<rect x="300.5" y="559.69" width="7.1" height="7.63" fill="#FF7DB5" stroke="#333" stroke-width="0.5"/>
<text x="309.8" y="564.99" font-size="3.9" text-anchor="start" font-weight="normal" font-family='"Liberation Serif", serif' fill="#111" >B cells</text>
<text x="347.6" y="416.6" font-size="15" text-anchor="start" font-weight="bold" font-family='"Liberation Serif", serif' fill="#111" >F</text>
<text x="0" y="0" font-size="7.4" text-anchor="middle" font-weight="normal" font-family='"Liberation Serif", serif' fill="#333" transform="translate(362.8,494.8) rotate(-90)">Cellratio  in PBMCs (%)</text>
<rect x="375.6" y="409.6" width="74" height="10.9" fill="#F0F0F0" stroke="#333" stroke-width="0.7"/>
<line x1="375.6" y1="420.5" x2="449.6" y2="420.5" stroke="#111" stroke-width="1.1"/>
<text x="412.6" y="417.1" font-size="5.7" text-anchor="middle" font-weight="normal" font-family='"Liberation Serif", serif' fill="#222" >B cells</text>
<rect x="375.6" y="420.5" width="74" height="54.9" fill="none" stroke="#333" stroke-width="0.7"/>
<text x="412.6" y="428.8" font-size="6.35" text-anchor="middle" font-weight="normal" font-family='"Liberation Serif", serif' fill="#111" >P = 0.8</text>
<line x1="374.0" y1="473.2" x2="375.6" y2="473.2" stroke="#333" stroke-width="0.6"/>
<text x="372.1" y="475.8" font-size="7.4" text-anchor="end" font-weight="normal" font-family='"Liberation Serif", serif' fill="#333" >0</text>
<line x1="374.0" y1="460.9" x2="375.6" y2="460.9" stroke="#333" stroke-width="0.6"/>
<text x="372.1" y="463.55" font-size="7.4" text-anchor="end" font-weight="normal" font-family='"Liberation Serif", serif' fill="#333" >10</text>
<line x1="374.0" y1="448.7" x2="375.6" y2="448.7" stroke="#333" stroke-width="0.6"/>
<text x="372.1" y="451.3" font-size="7.4" text-anchor="end" font-weight="normal" font-family='"Liberation Serif", serif' fill="#333" >20</text>
<line x1="374.0" y1="436.4" x2="375.6" y2="436.4" stroke="#333" stroke-width="0.6"/>
<text x="372.1" y="439.05" font-size="7.4" text-anchor="end" font-weight="normal" font-family='"Liberation Serif", serif' fill="#333" >30</text>
<line x1="374.0" y1="424.2" x2="375.6" y2="424.2" stroke="#333" stroke-width="0.6"/>
<text x="372.1" y="426.8" font-size="7.4" text-anchor="end" font-weight="normal" font-family='"Liberation Serif", serif' fill="#333" >40</text>
<line x1="395.8" y1="459.0" x2="395.8" y2="469.9" stroke="#F27E78" stroke-width="0.7"/>
<rect x="383.8" y="463.2" width="24" height="3.1" fill="#fff" stroke="#F27E78" stroke-width="0.85"/>
<line x1="383.8" y1="464.6" x2="407.8" y2="464.6" stroke="#F27E78" stroke-width="1.0"/>
<circle cx="397.6" cy="461.3" r="1.45" fill="#F27E78"/>
<circle cx="389.7" cy="459.0" r="1.45" fill="#F27E78"/>
<circle cx="389.0" cy="469.9" r="1.45" fill="#F27E78"/>
<circle cx="400.5" cy="464.6" r="1.45" fill="#F27E78"/>
<circle cx="392.4" cy="464.0" r="1.45" fill="#F27E78"/>
<circle cx="392.1" cy="465.2" r="1.45" fill="#F27E78"/>
<circle cx="402.7" cy="463.4" r="1.45" fill="#F27E78"/>
<circle cx="395.4" cy="464.9" r="1.45" fill="#F27E78"/>
<circle cx="400.5" cy="464.4" r="1.45" fill="#F27E78"/>
<circle cx="395.5" cy="465.8" r="1.45" fill="#F27E78"/>
<circle cx="397.7" cy="465.5" r="1.45" fill="#F27E78"/>
<circle cx="390.9" cy="464.6" r="1.45" fill="#F27E78"/>
<circle cx="397.7" cy="465.1" r="1.45" fill="#F27E78"/>
<circle cx="401.0" cy="464.4" r="1.45" fill="#F27E78"/>
<line x1="429.2" y1="456.1" x2="429.2" y2="468.9" stroke="#3CC8CB" stroke-width="0.7"/>
<rect x="417.2" y="463.4" width="24" height="4.0" fill="#fff" stroke="#3CC8CB" stroke-width="0.85"/>
<line x1="417.2" y1="465.2" x2="441.2" y2="465.2" stroke="#3CC8CB" stroke-width="1.0"/>
<circle cx="432.8" cy="456.1" r="1.45" fill="#3CC8CB"/>
<circle cx="430.5" cy="461.3" r="1.45" fill="#3CC8CB"/>
<circle cx="426.4" cy="467.4" r="1.45" fill="#3CC8CB"/>
<circle cx="422.6" cy="468.9" r="1.45" fill="#3CC8CB"/>
<circle cx="434.3" cy="464.6" r="1.45" fill="#3CC8CB"/>
<circle cx="428.8" cy="465.8" r="1.45" fill="#3CC8CB"/>
<circle cx="432.3" cy="463.4" r="1.45" fill="#3CC8CB"/>
<circle cx="434.5" cy="466.5" r="1.45" fill="#3CC8CB"/>
<circle cx="432.2" cy="464.9" r="1.45" fill="#3CC8CB"/>
<circle cx="435.1" cy="465.3" r="1.45" fill="#3CC8CB"/>
<circle cx="427.7" cy="464.4" r="1.45" fill="#3CC8CB"/>
<circle cx="433.4" cy="464.7" r="1.45" fill="#3CC8CB"/>
<circle cx="428.4" cy="467.2" r="1.45" fill="#3CC8CB"/>
<rect x="452.90000000000003" y="409.6" width="74" height="10.9" fill="#F0F0F0" stroke="#333" stroke-width="0.7"/>
<line x1="452.90000000000003" y1="420.5" x2="526.9000000000001" y2="420.5" stroke="#111" stroke-width="1.1"/>
<text x="489.90000000000003" y="417.1" font-size="5.7" text-anchor="middle" font-weight="normal" font-family='"Liberation Serif", serif' fill="#222" >CD14+ monocytes</text>
<rect x="452.90000000000003" y="420.5" width="74" height="54.9" fill="none" stroke="#333" stroke-width="0.7"/>
<text x="489.90000000000003" y="428.8" font-size="6.35" text-anchor="middle" font-weight="normal" font-family='"Liberation Serif", serif' fill="#111" >P = 0.48</text>
<line x1="473.1" y1="425.9" x2="473.1" y2="457.5" stroke="#F27E78" stroke-width="0.7"/>
<rect x="461.1" y="438.4" width="24" height="9.8" fill="#fff" stroke="#F27E78" stroke-width="0.85"/>
<line x1="461.1" y1="444.7" x2="485.1" y2="444.7" stroke="#F27E78" stroke-width="1.0"/>
<circle cx="469.1" cy="424.9" r="1.45" fill="#F27E78"/>
<circle cx="479.6" cy="431.2" r="1.45" fill="#F27E78"/>
<circle cx="472.2" cy="440.7" r="1.45" fill="#F27E78"/>
<circle cx="474.9" cy="437.7" r="1.45" fill="#F27E78"/>
<circle cx="470.3" cy="448.2" r="1.45" fill="#F27E78"/>
<circle cx="473.2" cy="455.9" r="1.45" fill="#F27E78"/>
<circle cx="471.5" cy="454.5" r="1.45" fill="#F27E78"/>
<circle cx="471.0" cy="445.0" r="1.45" fill="#F27E78"/>
<circle cx="474.3" cy="446.2" r="1.45" fill="#F27E78"/>
<circle cx="474.3" cy="443.8" r="1.45" fill="#F27E78"/>
<circle cx="478.8" cy="439.0" r="1.45" fill="#F27E78"/>
<circle cx="475.6" cy="439.6" r="1.45" fill="#F27E78"/>
<circle cx="479.1" cy="447.3" r="1.45" fill="#F27E78"/>
<circle cx="478.1" cy="446.9" r="1.45" fill="#F27E78"/>
<line x1="506.5" y1="423.5" x2="506.5" y2="452.7" stroke="#3CC8CB" stroke-width="0.7"/>
<rect x="494.5" y="434.9" width="24" height="11.6" fill="#fff" stroke="#3CC8CB" stroke-width="0.85"/>
<line x1="494.5" y1="441.3" x2="518.5" y2="441.3" stroke="#3CC8CB" stroke-width="1.0"/>
<circle cx="513.0" cy="422.5" r="1.45" fill="#3CC8CB"/>
<circle cx="512.2" cy="431.2" r="1.45" fill="#3CC8CB"/>
<circle cx="507.5" cy="434.2" r="1.45" fill="#3CC8CB"/>
<circle cx="509.5" cy="450.5" r="1.45" fill="#3CC8CB"/>
<circle cx="502.5" cy="452.9" r="1.45" fill="#3CC8CB"/>
<circle cx="511.1" cy="443.6" r="1.45" fill="#3CC8CB"/>
<circle cx="507.5" cy="436.4" r="1.45" fill="#3CC8CB"/>
<circle cx="503.5" cy="441.3" r="1.45" fill="#3CC8CB"/>
<circle cx="500.4" cy="440.1" r="1.45" fill="#3CC8CB"/>
<circle cx="511.5" cy="438.9" r="1.45" fill="#3CC8CB"/>
<circle cx="513.4" cy="435.0" r="1.45" fill="#3CC8CB"/>
<circle cx="500.7" cy="438.7" r="1.45" fill="#3CC8CB"/>
<circle cx="510.7" cy="444.6" r="1.45" fill="#3CC8CB"/>
<circle cx="505.2" cy="436.5" r="1.45" fill="#3CC8CB"/>
<rect x="530.2" y="409.6" width="74" height="10.9" fill="#F0F0F0" stroke="#333" stroke-width="0.7"/>
<line x1="530.2" y1="420.5" x2="604.2" y2="420.5" stroke="#111" stroke-width="1.1"/>
<text x="567.2" y="417.1" font-size="5.7" text-anchor="middle" font-weight="normal" font-family='"Liberation Serif", serif' fill="#222" >CD16+ monocytes</text>
<rect x="530.2" y="420.5" width="74" height="54.9" fill="none" stroke="#333" stroke-width="0.7"/>
<text x="567.2" y="428.8" font-size="6.35" text-anchor="middle" font-weight="normal" font-family='"Liberation Serif", serif' fill="#111" >P = 0.97</text>
<line x1="550.4000000000001" y1="467.1" x2="550.4000000000001" y2="472.0" stroke="#F27E78" stroke-width="0.7"/>
<rect x="538.4000000000001" y="468.9" width="24" height="1.6" fill="#fff" stroke="#F27E78" stroke-width="0.85"/>
<line x1="538.4000000000001" y1="469.8" x2="562.4000000000001" y2="469.8" stroke="#F27E78" stroke-width="1.0"/>
<circle cx="544.0" cy="471.4" r="1.45" fill="#F27E78"/>
<circle cx="552.0" cy="470.8" r="1.45" fill="#F27E78"/>
<circle cx="544.0" cy="469.5" r="1.45" fill="#F27E78"/>
<circle cx="553.5" cy="467.7" r="1.45" fill="#F27E78"/>
<circle cx="548.0" cy="470.1" r="1.45" fill="#F27E78"/>
<circle cx="555.7" cy="468.9" r="1.45" fill="#F27E78"/>
<circle cx="557.1" cy="471.7" r="1.45" fill="#F27E78"/>
<circle cx="550.5" cy="468.3" r="1.45" fill="#F27E78"/>
<circle cx="557.4" cy="470.3" r="1.45" fill="#F27E78"/>
<circle cx="547.7" cy="470.0" r="1.45" fill="#F27E78"/>
<circle cx="544.5" cy="469.3" r="1.45" fill="#F27E78"/>
<circle cx="551.8" cy="469.1" r="1.45" fill="#F27E78"/>
<line x1="583.8000000000001" y1="466.7" x2="583.8000000000001" y2="471.0" stroke="#3CC8CB" stroke-width="0.7"/>
<rect x="571.8000000000001" y="469.0" width="24" height="1.1" fill="#fff" stroke="#3CC8CB" stroke-width="0.85"/>
<line x1="571.8000000000001" y1="469.5" x2="595.8000000000001" y2="469.5" stroke="#3CC8CB" stroke-width="1.0"/>
<circle cx="579.0" cy="467.1" r="1.45" fill="#3CC8CB"/>
<circle cx="577.4" cy="467.3" r="1.45" fill="#3CC8CB"/>
<circle cx="588.9" cy="470.5" r="1.45" fill="#3CC8CB"/>
<circle cx="581.2" cy="469.5" r="1.45" fill="#3CC8CB"/>
<circle cx="590.2" cy="468.9" r="1.45" fill="#3CC8CB"/>
<circle cx="589.4" cy="469.8" r="1.45" fill="#3CC8CB"/>
<circle cx="582.1" cy="470.1" r="1.45" fill="#3CC8CB"/>
<circle cx="583.2" cy="469.9" r="1.45" fill="#3CC8CB"/>
<circle cx="584.1" cy="469.7" r="1.45" fill="#3CC8CB"/>
<circle cx="585.8" cy="469.5" r="1.45" fill="#3CC8CB"/>
<rect x="607.5" y="409.6" width="74" height="10.9" fill="#F0F0F0" stroke="#333" stroke-width="0.7"/>
<line x1="607.5" y1="420.5" x2="681.5" y2="420.5" stroke="#111" stroke-width="1.1"/>
<text x="644.5" y="417.1" font-size="5.7" text-anchor="middle" font-weight="normal" font-family='"Liberation Serif", serif' fill="#222" >CD4+ T cells</text>
<rect x="607.5" y="420.5" width="74" height="54.9" fill="none" stroke="#333" stroke-width="0.7"/>
<text x="644.5" y="428.8" font-size="6.35" text-anchor="middle" font-weight="normal" font-family='"Liberation Serif", serif' fill="#111" >P = 0.74</text>
<line x1="627.7" y1="440.7" x2="627.7" y2="456.5" stroke="#F27E78" stroke-width="0.7"/>
<rect x="615.7" y="447.0" width="24" height="4.7" fill="#fff" stroke="#F27E78" stroke-width="0.85"/>
<line x1="615.7" y1="449.6" x2="639.7" y2="449.6" stroke="#F27E78" stroke-width="1.0"/>
<circle cx="627.8" cy="440.7" r="1.45" fill="#F27E78"/>
<circle cx="626.7" cy="447.5" r="1.45" fill="#F27E78"/>
<circle cx="630.8" cy="449.9" r="1.45" fill="#F27E78"/>
<circle cx="624.0" cy="452.4" r="1.45" fill="#F27E78"/>
<circle cx="624.9" cy="455.4" r="1.45" fill="#F27E78"/>
<circle cx="634.4" cy="448.7" r="1.45" fill="#F27E78"/>
<circle cx="628.0" cy="446.2" r="1.45" fill="#F27E78"/>
<circle cx="628.4" cy="451.1" r="1.45" fill="#F27E78"/>
<circle cx="620.9" cy="448.9" r="1.45" fill="#F27E78"/>
<circle cx="626.5" cy="449.0" r="1.45" fill="#F27E78"/>
<circle cx="628.8" cy="448.8" r="1.45" fill="#F27E78"/>
<circle cx="621.0" cy="447.3" r="1.45" fill="#F27E78"/>
<line x1="661.1" y1="435.2" x2="661.1" y2="456.5" stroke="#3CC8CB" stroke-width="0.7"/>
<rect x="649.1" y="444.0" width="24" height="8.6" fill="#fff" stroke="#3CC8CB" stroke-width="0.85"/>
<line x1="649.1" y1="447.0" x2="673.1" y2="447.0" stroke="#3CC8CB" stroke-width="1.0"/>
<circle cx="660.6" cy="435.2" r="1.45" fill="#3CC8CB"/>
<circle cx="663.6" cy="440.1" r="1.45" fill="#3CC8CB"/>
<circle cx="659.0" cy="446.2" r="1.45" fill="#3CC8CB"/>
<circle cx="664.0" cy="448.7" r="1.45" fill="#3CC8CB"/>
<circle cx="664.4" cy="453.6" r="1.45" fill="#3CC8CB"/>
<circle cx="654.4" cy="455.4" r="1.45" fill="#3CC8CB"/>
<circle cx="654.9" cy="451.1" r="1.45" fill="#3CC8CB"/>
<circle cx="663.6" cy="443.8" r="1.45" fill="#3CC8CB"/>
<circle cx="667.6" cy="447.3" r="1.45" fill="#3CC8CB"/>
<circle cx="657.6" cy="447.2" r="1.45" fill="#3CC8CB"/>
<circle cx="660.5" cy="452.1" r="1.45" fill="#3CC8CB"/>
<circle cx="662.4" cy="447.2" r="1.45" fill="#3CC8CB"/>
<rect x="375.6" y="479.6" width="74" height="10.9" fill="#F0F0F0" stroke="#333" stroke-width="0.7"/>
<line x1="375.6" y1="490.5" x2="449.6" y2="490.5" stroke="#111" stroke-width="1.1"/>
<text x="412.6" y="487.1" font-size="5.7" text-anchor="middle" font-weight="normal" font-family='"Liberation Serif", serif' fill="#222" >CD8+T cells</text>
<rect x="375.6" y="490.5" width="74" height="54.9" fill="none" stroke="#333" stroke-width="0.7"/>
<text x="412.6" y="498.8" font-size="6.35" text-anchor="middle" font-weight="bold" font-family='"Liberation Serif", serif' fill="#111" >P = 0.023</text>
<line x1="374.0" y1="543.2" x2="375.6" y2="543.2" stroke="#333" stroke-width="0.6"/>
<text x="372.1" y="545.8000000000001" font-size="7.4" text-anchor="end" font-weight="normal" font-family='"Liberation Serif", serif' fill="#333" >0</text>
<line x1="374.0" y1="531.0" x2="375.6" y2="531.0" stroke="#333" stroke-width="0.6"/>
<text x="372.1" y="533.5500000000001" font-size="7.4" text-anchor="end" font-weight="normal" font-family='"Liberation Serif", serif' fill="#333" >10</text>
<line x1="374.0" y1="518.7" x2="375.6" y2="518.7" stroke="#333" stroke-width="0.6"/>
<text x="372.1" y="521.3000000000001" font-size="7.4" text-anchor="end" font-weight="normal" font-family='"Liberation Serif", serif' fill="#333" >20</text>
<line x1="374.0" y1="506.5" x2="375.6" y2="506.5" stroke="#333" stroke-width="0.6"/>
<text x="372.1" y="509.05000000000007" font-size="7.4" text-anchor="end" font-weight="normal" font-family='"Liberation Serif", serif' fill="#333" >30</text>
<line x1="374.0" y1="494.2" x2="375.6" y2="494.2" stroke="#333" stroke-width="0.6"/>
<text x="372.1" y="496.80000000000007" font-size="7.4" text-anchor="end" font-weight="normal" font-family='"Liberation Serif", serif' fill="#333" >40</text>
<line x1="395.8" y1="500.7" x2="395.8" y2="520.5" stroke="#F27E78" stroke-width="0.7"/>
<rect x="383.8" y="505.8" width="24" height="6.6" fill="#fff" stroke="#F27E78" stroke-width="0.85"/>
<line x1="383.8" y1="510.5" x2="407.8" y2="510.5" stroke="#F27E78" stroke-width="1.0"/>
<circle cx="397.1" cy="500.7" r="1.45" fill="#F27E78"/>
<circle cx="393.0" cy="502.8" r="1.45" fill="#F27E78"/>
<circle cx="394.1" cy="510.1" r="1.45" fill="#F27E78"/>
<circle cx="399.6" cy="512.0" r="1.45" fill="#F27E78"/>
<circle cx="389.2" cy="520.5" r="1.45" fill="#F27E78"/>
<circle cx="396.8" cy="507.7" r="1.45" fill="#F27E78"/>
<circle cx="399.1" cy="511.4" r="1.45" fill="#F27E78"/>
<circle cx="393.1" cy="505.2" r="1.45" fill="#F27E78"/>
<circle cx="391.9" cy="510.3" r="1.45" fill="#F27E78"/>
<circle cx="400.1" cy="510.0" r="1.45" fill="#F27E78"/>
<circle cx="392.1" cy="510.4" r="1.45" fill="#F27E78"/>
<circle cx="391.4" cy="510.0" r="1.45" fill="#F27E78"/>
<line x1="429.2" y1="509.6" x2="429.2" y2="526.4" stroke="#3CC8CB" stroke-width="0.7"/>
<rect x="417.2" y="511.8" width="24" height="8.7" fill="#fff" stroke="#3CC8CB" stroke-width="0.85"/>
<line x1="417.2" y1="516.6" x2="441.2" y2="516.6" stroke="#3CC8CB" stroke-width="1.0"/>
<circle cx="426.9" cy="509.6" r="1.45" fill="#3CC8CB"/>
<circle cx="433.9" cy="511.4" r="1.45" fill="#3CC8CB"/>
<circle cx="428.3" cy="516.2" r="1.45" fill="#3CC8CB"/>
<circle cx="434.2" cy="518.7" r="1.45" fill="#3CC8CB"/>
<circle cx="424.6" cy="524.8" r="1.45" fill="#3CC8CB"/>
<circle cx="426.9" cy="526.4" r="1.45" fill="#3CC8CB"/>
<circle cx="431.3" cy="513.8" r="1.45" fill="#3CC8CB"/>
<circle cx="434.6" cy="517.5" r="1.45" fill="#3CC8CB"/>
<circle cx="428.5" cy="516.8" r="1.45" fill="#3CC8CB"/>
<circle cx="425.4" cy="514.5" r="1.45" fill="#3CC8CB"/>
<circle cx="423.9" cy="519.7" r="1.45" fill="#3CC8CB"/>
<circle cx="429.6" cy="517.7" r="1.45" fill="#3CC8CB"/>
<rect x="452.90000000000003" y="479.6" width="74" height="10.9" fill="#F0F0F0" stroke="#333" stroke-width="0.7"/>
<line x1="452.90000000000003" y1="490.5" x2="526.9000000000001" y2="490.5" stroke="#111" stroke-width="1.1"/>
<text x="489.90000000000003" y="487.1" font-size="5.7" text-anchor="middle" font-weight="normal" font-family='"Liberation Serif", serif' fill="#222" >DCs</text>
<rect x="452.90000000000003" y="490.5" width="74" height="54.9" fill="none" stroke="#333" stroke-width="0.7"/>
<text x="489.90000000000003" y="498.8" font-size="6.35" text-anchor="middle" font-weight="normal" font-family='"Liberation Serif", serif' fill="#111" >P = 0.28</text>
<line x1="473.1" y1="538.9" x2="473.1" y2="543.2" stroke="#F27E78" stroke-width="0.7"/>
<rect x="461.1" y="540.9" width="24" height="2.0" fill="#fff" stroke="#F27E78" stroke-width="0.85"/>
<line x1="461.1" y1="542.0" x2="485.1" y2="542.0" stroke="#F27E78" stroke-width="1.0"/>
<circle cx="470.0" cy="538.9" r="1.45" fill="#F27E78"/>
<circle cx="477.4" cy="542.0" r="1.45" fill="#F27E78"/>
<circle cx="475.1" cy="542.6" r="1.45" fill="#F27E78"/>
<circle cx="477.4" cy="541.4" r="1.45" fill="#F27E78"/>
<circle cx="470.9" cy="542.8" r="1.45" fill="#F27E78"/>
<circle cx="467.9" cy="542.5" r="1.45" fill="#F27E78"/>
<circle cx="470.2" cy="541.3" r="1.45" fill="#F27E78"/>
<circle cx="477.2" cy="541.2" r="1.45" fill="#F27E78"/>
<circle cx="469.9" cy="542.5" r="1.45" fill="#F27E78"/>
<line x1="506.5" y1="530.6" x2="506.5" y2="543.2" stroke="#3CC8CB" stroke-width="0.7"/>
<rect x="494.5" y="533.9" width="24" height="8.8" fill="#fff" stroke="#3CC8CB" stroke-width="0.85"/>
<line x1="494.5" y1="539.2" x2="518.5" y2="539.2" stroke="#3CC8CB" stroke-width="1.0"/>
<circle cx="512.4" cy="530.6" r="1.45" fill="#3CC8CB"/>
<circle cx="501.7" cy="531.3" r="1.45" fill="#3CC8CB"/>
<circle cx="499.6" cy="535.9" r="1.45" fill="#3CC8CB"/>
<circle cx="512.7" cy="539.5" r="1.45" fill="#3CC8CB"/>
<circle cx="511.8" cy="542.0" r="1.45" fill="#3CC8CB"/>
<circle cx="513.3" cy="542.6" r="1.45" fill="#3CC8CB"/>
<circle cx="505.6" cy="540.1" r="1.45" fill="#3CC8CB"/>
<circle cx="512.8" cy="539.7" r="1.45" fill="#3CC8CB"/>
<circle cx="512.5" cy="539.0" r="1.45" fill="#3CC8CB"/>
<circle cx="502.6" cy="539.0" r="1.45" fill="#3CC8CB"/>
<circle cx="509.9" cy="539.1" r="1.45" fill="#3CC8CB"/>
<rect x="530.2" y="479.6" width="74" height="10.9" fill="#F0F0F0" stroke="#333" stroke-width="0.7"/>
<line x1="530.2" y1="490.5" x2="604.2" y2="490.5" stroke="#111" stroke-width="1.1"/>
<text x="567.2" y="487.1" font-size="5.7" text-anchor="middle" font-weight="normal" font-family='"Liberation Serif", serif' fill="#222" >mDCs</text>
<rect x="530.2" y="490.5" width="74" height="54.9" fill="none" stroke="#333" stroke-width="0.7"/>
<text x="567.2" y="498.8" font-size="6.35" text-anchor="middle" font-weight="normal" font-family='"Liberation Serif", serif' fill="#111" >P = 0.97</text>
<line x1="550.4000000000001" y1="542.0" x2="550.4000000000001" y2="543.2" stroke="#F27E78" stroke-width="0.7"/>
<rect x="538.4000000000001" y="542.3" width="24" height="0.8" fill="#fff" stroke="#F27E78" stroke-width="0.85"/>
<line x1="538.4000000000001" y1="542.7" x2="562.4000000000001" y2="542.7" stroke="#F27E78" stroke-width="1.0"/>
<circle cx="548.2" cy="542.6" r="1.45" fill="#F27E78"/>
<circle cx="546.6" cy="542.8" r="1.45" fill="#F27E78"/>
<circle cx="544.4" cy="542.5" r="1.45" fill="#F27E78"/>
<circle cx="551.6" cy="542.4" r="1.45" fill="#F27E78"/>
<circle cx="547.4" cy="542.5" r="1.45" fill="#F27E78"/>
<circle cx="554.7" cy="542.6" r="1.45" fill="#F27E78"/>
<circle cx="544.0" cy="542.8" r="1.45" fill="#F27E78"/>
<line x1="583.8000000000001" y1="541.9" x2="583.8000000000001" y2="543.2" stroke="#3CC8CB" stroke-width="0.7"/>
<rect x="571.8000000000001" y="542.2" width="24" height="0.8" fill="#fff" stroke="#3CC8CB" stroke-width="0.85"/>
<line x1="571.8000000000001" y1="542.7" x2="595.8000000000001" y2="542.7" stroke="#3CC8CB" stroke-width="1.0"/>
<circle cx="589.4" cy="542.6" r="1.45" fill="#3CC8CB"/>
<circle cx="584.9" cy="542.7" r="1.45" fill="#3CC8CB"/>
<circle cx="577.0" cy="542.2" r="1.45" fill="#3CC8CB"/>
<circle cx="587.2" cy="542.3" r="1.45" fill="#3CC8CB"/>
<circle cx="579.2" cy="542.4" r="1.45" fill="#3CC8CB"/>
<circle cx="581.0" cy="542.3" r="1.45" fill="#3CC8CB"/>
<circle cx="586.1" cy="542.3" r="1.45" fill="#3CC8CB"/>
<rect x="607.5" y="479.6" width="74" height="10.9" fill="#F0F0F0" stroke="#333" stroke-width="0.7"/>
<line x1="607.5" y1="490.5" x2="681.5" y2="490.5" stroke="#111" stroke-width="1.1"/>
<text x="644.5" y="487.1" font-size="5.7" text-anchor="middle" font-weight="normal" font-family='"Liberation Serif", serif' fill="#222" >Megakaryocytes / platelet</text>
<rect x="607.5" y="490.5" width="74" height="54.9" fill="none" stroke="#333" stroke-width="0.7"/>
<text x="644.5" y="498.8" font-size="6.35" text-anchor="middle" font-weight="normal" font-family='"Liberation Serif", serif' fill="#111" >P = 0.91</text>
<line x1="627.7" y1="538.8" x2="627.7" y2="542.2" stroke="#F27E78" stroke-width="0.7"/>
<rect x="615.7" y="540.0" width="24" height="1.3" fill="#fff" stroke="#F27E78" stroke-width="0.85"/>
<line x1="615.7" y1="540.8" x2="639.7" y2="540.8" stroke="#F27E78" stroke-width="1.0"/>
<circle cx="625.5" cy="538.8" r="1.45" fill="#F27E78"/>
<circle cx="624.2" cy="540.8" r="1.45" fill="#F27E78"/>
<circle cx="632.8" cy="541.4" r="1.45" fill="#F27E78"/>
<circle cx="627.4" cy="540.1" r="1.45" fill="#F27E78"/>
<circle cx="631.7" cy="540.7" r="1.45" fill="#F27E78"/>
<circle cx="625.6" cy="540.8" r="1.45" fill="#F27E78"/>
<circle cx="623.5" cy="540.1" r="1.45" fill="#F27E78"/>
<circle cx="628.2" cy="540.5" r="1.45" fill="#F27E78"/>
<line x1="661.1" y1="536.7" x2="661.1" y2="542.8" stroke="#3CC8CB" stroke-width="0.7"/>
<rect x="649.1" y="538.3" width="24" height="3.7" fill="#fff" stroke="#3CC8CB" stroke-width="0.85"/>
<line x1="649.1" y1="540.1" x2="673.1" y2="540.1" stroke="#3CC8CB" stroke-width="1.0"/>
<circle cx="665.4" cy="536.7" r="1.45" fill="#3CC8CB"/>
<circle cx="665.6" cy="538.3" r="1.45" fill="#3CC8CB"/>
<circle cx="654.2" cy="540.8" r="1.45" fill="#3CC8CB"/>
<circle cx="662.9" cy="542.0" r="1.45" fill="#3CC8CB"/>
<circle cx="666.2" cy="539.5" r="1.45" fill="#3CC8CB"/>
<circle cx="654.8" cy="539.0" r="1.45" fill="#3CC8CB"/>
<circle cx="657.9" cy="541.3" r="1.45" fill="#3CC8CB"/>
<circle cx="657.9" cy="539.1" r="1.45" fill="#3CC8CB"/>
<circle cx="661.5" cy="538.6" r="1.45" fill="#3CC8CB"/>
<rect x="375.6" y="549.6" width="74" height="10.9" fill="#F0F0F0" stroke="#333" stroke-width="0.7"/>
<line x1="375.6" y1="560.5" x2="449.6" y2="560.5" stroke="#111" stroke-width="1.1"/>
<text x="412.6" y="557.1" font-size="5.7" text-anchor="middle" font-weight="normal" font-family='"Liberation Serif", serif' fill="#222" >NK cells</text>
<rect x="375.6" y="560.5" width="74" height="54.9" fill="none" stroke="#333" stroke-width="0.7"/>
<text x="412.6" y="568.8000000000001" font-size="6.35" text-anchor="middle" font-weight="normal" font-family='"Liberation Serif", serif' fill="#111" >P = 0.22</text>
<line x1="374.0" y1="613.2" x2="375.6" y2="613.2" stroke="#333" stroke-width="0.6"/>
<text x="372.1" y="615.8000000000001" font-size="7.4" text-anchor="end" font-weight="normal" font-family='"Liberation Serif", serif' fill="#333" >0</text>
<line x1="374.0" y1="601.0" x2="375.6" y2="601.0" stroke="#333" stroke-width="0.6"/>
<text x="372.1" y="603.5500000000001" font-size="7.4" text-anchor="end" font-weight="normal" font-family='"Liberation Serif", serif' fill="#333" >10</text>
<line x1="374.0" y1="588.7" x2="375.6" y2="588.7" stroke="#333" stroke-width="0.6"/>
<text x="372.1" y="591.3000000000001" font-size="7.4" text-anchor="end" font-weight="normal" font-family='"Liberation Serif", serif' fill="#333" >20</text>
<line x1="374.0" y1="576.5" x2="375.6" y2="576.5" stroke="#333" stroke-width="0.6"/>
<text x="372.1" y="579.0500000000001" font-size="7.4" text-anchor="end" font-weight="normal" font-family='"Liberation Serif", serif' fill="#333" >30</text>
<line x1="374.0" y1="564.2" x2="375.6" y2="564.2" stroke="#333" stroke-width="0.6"/>
<text x="372.1" y="566.8000000000001" font-size="7.4" text-anchor="end" font-weight="normal" font-family='"Liberation Serif", serif' fill="#333" >40</text>
<line x1="395.8" y1="615.4" x2="395.8" y2="616.8000000000001" stroke="#333" stroke-width="0.6"/>
<text x="395.8" y="624.4" font-size="7.0" text-anchor="middle" font-weight="normal" font-family='"Liberation Serif", serif' fill="#222" >GDM</text>
<line x1="429.2" y1="615.4" x2="429.2" y2="616.8000000000001" stroke="#333" stroke-width="0.6"/>
<text x="429.2" y="624.4" font-size="7.0" text-anchor="middle" font-weight="normal" font-family='"Liberation Serif", serif' fill="#222" >NP</text>
<line x1="395.8" y1="600.3" x2="395.8" y2="608.3" stroke="#F27E78" stroke-width="0.7"/>
<rect x="383.8" y="601.8" width="24" height="5.1" fill="#fff" stroke="#F27E78" stroke-width="0.85"/>
<line x1="383.8" y1="604.6" x2="407.8" y2="604.6" stroke="#F27E78" stroke-width="1.0"/>
<circle cx="389.6" cy="600.3" r="1.45" fill="#F27E78"/>
<circle cx="390.6" cy="602.2" r="1.45" fill="#F27E78"/>
<circle cx="390.5" cy="604.6" r="1.45" fill="#F27E78"/>
<circle cx="389.8" cy="606.5" r="1.45" fill="#F27E78"/>
<circle cx="402.4" cy="608.1" r="1.45" fill="#F27E78"/>
<circle cx="400.8" cy="603.4" r="1.45" fill="#F27E78"/>
<circle cx="390.0" cy="604.8" r="1.45" fill="#F27E78"/>
<circle cx="395.8" cy="604.5" r="1.45" fill="#F27E78"/>
<circle cx="393.2" cy="603.0" r="1.45" fill="#F27E78"/>
<circle cx="393.2" cy="606.9" r="1.45" fill="#F27E78"/>
<line x1="429.2" y1="601.0" x2="429.2" y2="610.1" stroke="#3CC8CB" stroke-width="0.7"/>
<rect x="417.2" y="603.4" width="24" height="4.7" fill="#fff" stroke="#3CC8CB" stroke-width="0.85"/>
<line x1="417.2" y1="606.5" x2="441.2" y2="606.5" stroke="#3CC8CB" stroke-width="1.0"/>
<circle cx="424.9" cy="601.0" r="1.45" fill="#3CC8CB"/>
<circle cx="426.8" cy="602.8" r="1.45" fill="#3CC8CB"/>
<circle cx="423.9" cy="605.9" r="1.45" fill="#3CC8CB"/>
<circle cx="430.0" cy="608.3" r="1.45" fill="#3CC8CB"/>
<circle cx="432.2" cy="610.1" r="1.45" fill="#3CC8CB"/>
<circle cx="427.5" cy="604.6" r="1.45" fill="#3CC8CB"/>
<circle cx="423.3" cy="606.4" r="1.45" fill="#3CC8CB"/>
<circle cx="424.7" cy="605.0" r="1.45" fill="#3CC8CB"/>
<circle cx="427.4" cy="605.3" r="1.45" fill="#3CC8CB"/>
<circle cx="430.7" cy="606.4" r="1.45" fill="#3CC8CB"/>
<rect x="452.90000000000003" y="549.6" width="74" height="10.9" fill="#F0F0F0" stroke="#333" stroke-width="0.7"/>
<line x1="452.90000000000003" y1="560.5" x2="526.9000000000001" y2="560.5" stroke="#111" stroke-width="1.1"/>
<text x="489.90000000000003" y="557.1" font-size="5.7" text-anchor="middle" font-weight="normal" font-family='"Liberation Serif", serif' fill="#222" >Plasma B cells</text>
<rect x="452.90000000000003" y="560.5" width="74" height="54.9" fill="none" stroke="#333" stroke-width="0.7"/>
<text x="489.90000000000003" y="568.8000000000001" font-size="6.35" text-anchor="middle" font-weight="normal" font-family='"Liberation Serif", serif' fill="#111" >P = 0.63</text>
<line x1="473.1" y1="615.4" x2="473.1" y2="616.8000000000001" stroke="#333" stroke-width="0.6"/>
<text x="473.1" y="624.4" font-size="7.0" text-anchor="middle" font-weight="normal" font-family='"Liberation Serif", serif' fill="#222" >GDM</text>
<line x1="506.5" y1="615.4" x2="506.5" y2="616.8000000000001" stroke="#333" stroke-width="0.6"/>
<text x="506.5" y="624.4" font-size="7.0" text-anchor="middle" font-weight="normal" font-family='"Liberation Serif", serif' fill="#222" >NP</text>
<line x1="473.1" y1="611.7" x2="473.1" y2="613.2" stroke="#F27E78" stroke-width="0.7"/>
<rect x="461.1" y="612.2" width="24" height="0.8" fill="#fff" stroke="#F27E78" stroke-width="0.85"/>
<line x1="461.1" y1="612.6" x2="485.1" y2="612.6" stroke="#F27E78" stroke-width="1.0"/>
<circle cx="472.1" cy="612.6" r="1.45" fill="#F27E78"/>
<circle cx="471.3" cy="612.2" r="1.45" fill="#F27E78"/>
<circle cx="473.0" cy="612.7" r="1.45" fill="#F27E78"/>
<circle cx="475.9" cy="612.4" r="1.45" fill="#F27E78"/>
<circle cx="472.0" cy="612.7" r="1.45" fill="#F27E78"/>
<circle cx="475.8" cy="612.4" r="1.45" fill="#F27E78"/>
<circle cx="472.6" cy="612.5" r="1.45" fill="#F27E78"/>
<line x1="506.5" y1="612.0" x2="506.5" y2="613.2" stroke="#3CC8CB" stroke-width="0.7"/>
<rect x="494.5" y="612.2" width="24" height="0.8" fill="#fff" stroke="#3CC8CB" stroke-width="0.85"/>
<line x1="494.5" y1="612.6" x2="518.5" y2="612.6" stroke="#3CC8CB" stroke-width="1.0"/>
<circle cx="505.4" cy="612.5" r="1.45" fill="#3CC8CB"/>
<circle cx="505.5" cy="612.6" r="1.45" fill="#3CC8CB"/>
<circle cx="511.8" cy="612.8" r="1.45" fill="#3CC8CB"/>
<circle cx="512.6" cy="612.6" r="1.45" fill="#3CC8CB"/>
<circle cx="504.7" cy="612.4" r="1.45" fill="#3CC8CB"/>
<circle cx="512.1" cy="612.9" r="1.45" fill="#3CC8CB"/>
<rect x="530.2" y="549.6" width="74" height="10.9" fill="#F0F0F0" stroke="#333" stroke-width="0.7"/>
<line x1="530.2" y1="560.5" x2="604.2" y2="560.5" stroke="#111" stroke-width="1.1"/>
<text x="567.2" y="557.1" font-size="5.7" text-anchor="middle" font-weight="normal" font-family='"Liberation Serif", serif' fill="#222" >pro T cells</text>
<rect x="530.2" y="560.5" width="74" height="54.9" fill="none" stroke="#333" stroke-width="0.7"/>
<text x="567.2" y="568.8000000000001" font-size="6.35" text-anchor="middle" font-weight="normal" font-family='"Liberation Serif", serif' fill="#111" >P = 0.63</text>
<line x1="550.4" y1="615.4" x2="550.4" y2="616.8000000000001" stroke="#333" stroke-width="0.6"/>
<text x="550.4000000000001" y="624.4" font-size="7.0" text-anchor="middle" font-weight="normal" font-family='"Liberation Serif", serif' fill="#222" >GDM</text>
<line x1="583.8" y1="615.4" x2="583.8" y2="616.8000000000001" stroke="#333" stroke-width="0.6"/>
<text x="583.8000000000001" y="624.4" font-size="7.0" text-anchor="middle" font-weight="normal" font-family='"Liberation Serif", serif' fill="#222" >NP</text>
<line x1="550.4000000000001" y1="611.7" x2="550.4000000000001" y2="613.2" stroke="#F27E78" stroke-width="0.7"/>
<rect x="538.4000000000001" y="612.2" width="24" height="0.8" fill="#fff" stroke="#F27E78" stroke-width="0.85"/>
<line x1="538.4000000000001" y1="612.6" x2="562.4000000000001" y2="612.6" stroke="#F27E78" stroke-width="1.0"/>
<circle cx="554.8" cy="612.6" r="1.45" fill="#F27E78"/>
<circle cx="552.7" cy="612.2" r="1.45" fill="#F27E78"/>
<circle cx="555.8" cy="612.7" r="1.45" fill="#F27E78"/>
<circle cx="554.5" cy="612.4" r="1.45" fill="#F27E78"/>
<circle cx="552.7" cy="612.8" r="1.45" fill="#F27E78"/>
<circle cx="553.7" cy="612.6" r="1.45" fill="#F27E78"/>
<circle cx="551.3" cy="612.9" r="1.45" fill="#F27E78"/>
<line x1="583.8000000000001" y1="612.0" x2="583.8000000000001" y2="613.2" stroke="#3CC8CB" stroke-width="0.7"/>
<rect x="571.8000000000001" y="612.2" width="24" height="0.8" fill="#fff" stroke="#3CC8CB" stroke-width="0.85"/>
<line x1="571.8000000000001" y1="612.6" x2="595.8000000000001" y2="612.6" stroke="#3CC8CB" stroke-width="1.0"/>
<circle cx="587.6" cy="612.5" r="1.45" fill="#3CC8CB"/>
<circle cx="577.4" cy="612.6" r="1.45" fill="#3CC8CB"/>
<circle cx="578.1" cy="612.9" r="1.45" fill="#3CC8CB"/>
<circle cx="578.2" cy="612.5" r="1.45" fill="#3CC8CB"/>
<circle cx="589.1" cy="613.0" r="1.45" fill="#3CC8CB"/>
<circle cx="579.3" cy="612.8" r="1.45" fill="#3CC8CB"/>
<rect x="607.5" y="549.6" width="74" height="10.9" fill="#F0F0F0" stroke="#333" stroke-width="0.7"/>
<line x1="607.5" y1="560.5" x2="681.5" y2="560.5" stroke="#111" stroke-width="1.1"/>
<text x="644.5" y="557.1" font-size="5.7" text-anchor="middle" font-weight="normal" font-family='"Liberation Serif", serif' fill="#222" >γδ T cells</text>
<rect x="607.5" y="560.5" width="74" height="54.9" fill="none" stroke="#333" stroke-width="0.7"/>
<text x="644.5" y="568.8000000000001" font-size="6.35" text-anchor="middle" font-weight="normal" font-family='"Liberation Serif", serif' fill="#111" >P = 0.063</text>
<line x1="627.7" y1="615.4" x2="627.7" y2="616.8000000000001" stroke="#333" stroke-width="0.6"/>
<text x="627.7" y="624.4" font-size="7.0" text-anchor="middle" font-weight="normal" font-family='"Liberation Serif", serif' fill="#222" >GDM</text>
<line x1="661.1" y1="615.4" x2="661.1" y2="616.8000000000001" stroke="#333" stroke-width="0.6"/>
<text x="661.1" y="624.4" font-size="7.0" text-anchor="middle" font-weight="normal" font-family='"Liberation Serif", serif' fill="#222" >NP</text>
<line x1="627.7" y1="603.4" x2="627.7" y2="612.2" stroke="#F27E78" stroke-width="0.7"/>
<rect x="615.7" y="606.3" width="24" height="4.4" fill="#fff" stroke="#F27E78" stroke-width="0.85"/>
<line x1="615.7" y1="608.3" x2="639.7" y2="608.3" stroke="#F27E78" stroke-width="1.0"/>
<circle cx="630.1" cy="600.3" r="1.45" fill="#F27E78"/>
<circle cx="632.4" cy="604.6" r="1.45" fill="#F27E78"/>
<circle cx="634.0" cy="608.3" r="1.45" fill="#F27E78"/>
<circle cx="628.8" cy="610.8" r="1.45" fill="#F27E78"/>
<circle cx="631.9" cy="612.0" r="1.45" fill="#F27E78"/>
<circle cx="621.2" cy="607.1" r="1.45" fill="#F27E78"/>
<circle cx="631.4" cy="605.9" r="1.45" fill="#F27E78"/>
<circle cx="627.9" cy="610.6" r="1.45" fill="#F27E78"/>
<circle cx="630.7" cy="607.0" r="1.45" fill="#F27E78"/>
<circle cx="622.2" cy="610.2" r="1.45" fill="#F27E78"/>
<circle cx="631.2" cy="607.0" r="1.45" fill="#F27E78"/>
<line x1="661.1" y1="606.5" x2="661.1" y2="613.0" stroke="#3CC8CB" stroke-width="0.7"/>
<rect x="649.1" y="608.1" width="24" height="3.9" fill="#fff" stroke="#3CC8CB" stroke-width="0.85"/>
<line x1="649.1" y1="610.1" x2="673.1" y2="610.1" stroke="#3CC8CB" stroke-width="1.0"/>
<circle cx="665.7" cy="607.1" r="1.45" fill="#3CC8CB"/>
<circle cx="657.5" cy="608.3" r="1.45" fill="#3CC8CB"/>
<circle cx="656.6" cy="610.8" r="1.45" fill="#3CC8CB"/>
<circle cx="657.6" cy="612.0" r="1.45" fill="#3CC8CB"/>
<circle cx="662.7" cy="609.5" r="1.45" fill="#3CC8CB"/>
<circle cx="664.6" cy="608.3" r="1.45" fill="#3CC8CB"/>
<circle cx="659.6" cy="611.7" r="1.45" fill="#3CC8CB"/>
<circle cx="659.2" cy="610.7" r="1.45" fill="#3CC8CB"/>
<circle cx="659.7" cy="609.8" r="1.45" fill="#3CC8CB"/></svg></body></html>
